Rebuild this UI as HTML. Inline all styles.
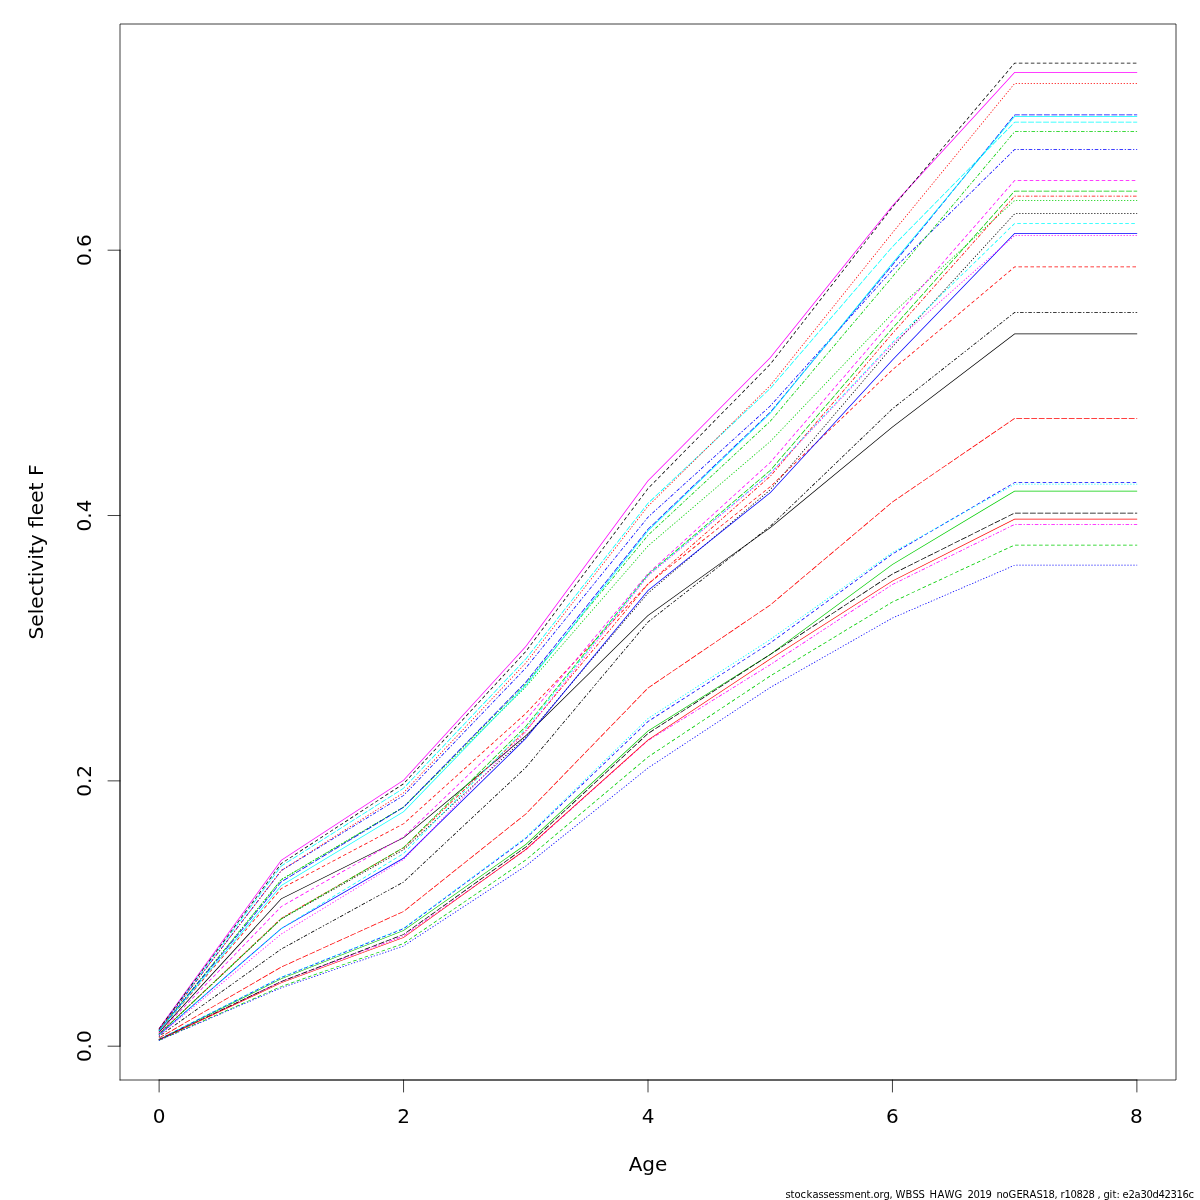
<!DOCTYPE html>
<html lang="en">
<head>
<meta charset="utf-8">
<title>Selectivity fleet F</title>
<style>
html,body{margin:0;padding:0;background:#fff;}
body{width:1200px;height:1200px;overflow:hidden;}
svg{display:block;will-change:transform;}
text{font-family:"DejaVu Sans","Liberation Sans",sans-serif;fill:#000;}
.ax{font-size:20px;}
.cap{font-size:10px;}
.ln path{stroke:none;}
.fr{fill:none;stroke:#000;stroke-width:0.75;stroke-linecap:round;stroke-linejoin:round;}
</style>
</head>
<body>
<svg width="1200" height="1200" viewBox="0 0 1200 1200">
<rect x="0" y="0" width="1200" height="1200" fill="#ffffff"/>
<g class="ln">
<path fill="#000000" d="M159.19 1032.57l122.37-133.52 122.2-60.99 122.27-102.04 122.21-120.24 122.21-87.79 122.23-100.7 122.12-92.92 122.39 0 0-.75-122.64 0-122.33 93.08-122.22 100.7-122.24 87.81-122.23 120.26-122.18 101.96-122.25 61.01-122.47 133.62z"/>
<path fill="#FF0000" d="M159.2 1031.6l.19-.22-.57-.49-.19 .22zM159.39 1031.37l2.14-2.5-.57-.49-2.14 2.5zM163.11 1027.04l2.34-2.73-.57-.49-2.34 2.73zM167.01 1022.48l2.34-2.73-.57-.49-2.34 2.73zM170.92 1017.93l2.34-2.73-.57-.49-2.34 2.73zM174.82 1013.37l2.34-2.73-.57-.49-2.34 2.73zM178.72 1008.82l2.34-2.73-.57-.49-2.34 2.73zM182.63 1004.26l2.34-2.73-.57-.49-2.34 2.73zM186.53 999.7l2.34-2.73-.57-.49-2.34 2.73zM190.44 995.15l2.34-2.73-.57-.49-2.34 2.73zM194.34 990.59l2.34-2.73-.57-.49-2.34 2.73zM198.24 986.04l2.34-2.73-.57-.49-2.34 2.73zM202.15 981.48l2.34-2.73-.57-.49-2.34 2.73zM206.05 976.92l2.34-2.73-.57-.49-2.34 2.73zM209.96 972.37l2.34-2.73-.57-.49-2.34 2.73zM213.86 967.81l2.34-2.73-.57-.49-2.34 2.73zM217.77 963.26l2.34-2.73-.57-.49-2.34 2.73zM221.67 958.7l2.34-2.73-.57-.49-2.34 2.73zM225.57 954.14l2.34-2.73-.57-.49-2.34 2.73zM229.48 949.59l2.34-2.73-.57-.49-2.34 2.73zM233.38 945.03l2.34-2.73-.57-.49-2.34 2.73zM237.29 940.48l2.34-2.73-.57-.49-2.34 2.73zM241.19 935.92l2.34-2.73-.57-.49-2.34 2.73zM245.09 931.36l2.34-2.73-.57-.49-2.34 2.73zM249 926.81l2.34-2.73-.57-.49-2.34 2.73zM252.9 922.25l2.34-2.73-.57-.49-2.34 2.73zM256.81 917.7l2.34-2.73-.57-.49-2.34 2.73zM260.71 913.14l2.34-2.73-.57-.49-2.34 2.73zM264.62 908.58l2.34-2.73-.57-.49-2.34 2.73zM268.52 904.03l2.34-2.73-.57-.49-2.34 2.73zM272.42 899.47l2.34-2.73-.57-.49-2.34 2.73zM276.33 894.92l2.34-2.73-.57-.49-2.34 2.73zM280.23 890.36l1.38-1.62-.57-.49-1.38 1.62zM281.51 888.83l1.29-.68-.35-.66-1.29 .68zM284.93 887.02l3.17-1.68-.35-.66-3.17 1.68zM290.23 884.21l3.17-1.68-.35-.66-3.17 1.68zM295.53 881.4l3.17-1.68-.35-.66-3.17 1.68zM300.84 878.59l3.17-1.68-.35-.66-3.17 1.68zM306.14 875.78l3.17-1.68-.35-.66-3.17 1.68zM311.44 872.97l3.17-1.68-.35-.66-3.17 1.68zM316.74 870.17l3.17-1.68-.35-.66-3.17 1.68zM322.04 867.36l3.17-1.68-.35-.66-3.17 1.68zM327.35 864.55l3.17-1.68-.35-.66-3.17 1.68zM332.65 861.74l3.17-1.68-.35-.66-3.17 1.68zM337.95 858.93l3.17-1.68-.35-.66-3.17 1.68zM343.25 856.12l3.17-1.68-.35-.66-3.17 1.68zM348.55 853.31l3.17-1.68-.35-.66-3.17 1.68zM353.85 850.5l3.17-1.68-.35-.66-3.17 1.68zM359.16 847.69l3.17-1.68-.35-.66-3.17 1.68zM364.46 844.89l3.17-1.68-.35-.66-3.17 1.68zM369.76 842.08l3.17-1.68-.35-.66-3.17 1.68zM375.06 839.27l3.17-1.68-.35-.66-3.17 1.68zM380.36 836.46l3.17-1.68-.35-.66-3.17 1.68zM385.67 833.65l3.17-1.68-.35-.66-3.17 1.68zM390.97 830.84l3.17-1.68-.35-.66-3.17 1.68zM396.27 828.03l3.17-1.68-.35-.66-3.17 1.68zM401.57 825.22l2.16-1.14-.35-.66-2.16 1.14zM403.81 824.03l.85-.77-.5-.56-.85 .77zM406.45 821.65l2.67-2.4-.5-.56-2.67 2.4zM410.9 817.63l2.67-2.4-.5-.56-2.67 2.4zM415.36 813.61l2.67-2.4-.5-.56-2.67 2.4zM419.81 809.59l2.67-2.4-.5-.56-2.67 2.4zM424.27 805.57l2.67-2.4-.5-.56-2.67 2.4zM428.72 801.55l2.67-2.4-.5-.56-2.67 2.4zM433.18 797.53l2.67-2.4-.5-.56-2.67 2.4zM437.63 793.51l2.67-2.4-.5-.56-2.67 2.4zM442.09 789.49l2.67-2.4-.5-.56-2.67 2.4zM446.54 785.48l2.67-2.4-.5-.56-2.67 2.4zM451 781.46l2.67-2.4-.5-.56-2.67 2.4zM455.46 777.44l2.67-2.4-.5-.56-2.67 2.4zM459.91 773.42l2.67-2.4-.5-.56-2.67 2.4zM464.37 769.4l2.67-2.4-.5-.56-2.67 2.4zM468.82 765.38l2.67-2.4-.5-.56-2.67 2.4zM473.28 761.36l2.67-2.4-.5-.56-2.67 2.4zM477.73 757.34l2.67-2.4-.5-.56-2.67 2.4zM482.19 753.33l2.67-2.4-.5-.56-2.67 2.4zM486.64 749.31l2.67-2.4-.5-.56-2.67 2.4zM491.1 745.29l2.67-2.4-.5-.56-2.67 2.4zM495.55 741.27l2.67-2.4-.5-.56-2.67 2.4zM500.01 737.25l2.67-2.4-.5-.56-2.67 2.4zM504.46 733.23l2.67-2.4-.5-.56-2.67 2.4zM508.92 729.21l2.67-2.4-.5-.56-2.67 2.4zM513.37 725.19l2.67-2.4-.5-.56-2.67 2.4zM517.83 721.17l2.67-2.4-.5-.56-2.67 2.4zM522.28 717.16l2.67-2.4-.5-.56-2.67 2.4zM526.71 713.06l2.47-2.61-.55-.51-2.47 2.61zM530.83 708.7l2.47-2.61-.55-.51-2.47 2.61zM534.95 704.34l2.47-2.61-.55-.51-2.47 2.61zM539.07 699.98l2.47-2.61-.55-.51-2.47 2.61zM543.19 695.61l2.47-2.61-.55-.51-2.47 2.61zM547.31 691.25l2.47-2.61-.55-.51-2.47 2.61zM551.43 686.89l2.47-2.61-.55-.51-2.47 2.61zM555.55 682.53l2.47-2.61-.55-.51-2.47 2.61zM559.67 678.17l2.47-2.61-.55-.51-2.47 2.61zM563.79 673.8l2.47-2.61-.55-.51-2.47 2.61zM567.91 669.44l2.47-2.61-.55-.51-2.47 2.61zM572.03 665.08l2.47-2.61-.55-.51-2.47 2.61zM576.15 660.72l2.47-2.61-.55-.51-2.47 2.61zM580.27 656.36l2.47-2.61-.55-.51-2.47 2.61zM584.39 651.99l2.47-2.61-.55-.51-2.47 2.61zM588.51 647.63l2.47-2.61-.55-.51-2.47 2.61zM592.63 643.27l2.47-2.61-.55-.51-2.47 2.61zM596.75 638.91l2.47-2.61-.55-.51-2.47 2.61zM600.87 634.55l2.47-2.61-.55-.51-2.47 2.61zM604.99 630.19l2.47-2.61-.55-.51-2.47 2.61zM609.11 625.82l2.47-2.61-.55-.51-2.47 2.61zM613.23 621.46l2.47-2.61-.55-.51-2.47 2.61zM617.35 617.1l2.47-2.61-.55-.51-2.47 2.61zM621.47 612.74l2.47-2.61-.55-.51-2.47 2.61zM625.59 608.38l2.47-2.61-.55-.51-2.47 2.61zM629.71 604.01l2.47-2.61-.55-.51-2.47 2.61zM633.83 599.65l2.47-2.61-.55-.51-2.47 2.61zM637.95 595.29l2.47-2.61-.55-.51-2.47 2.61zM642.07 590.93l2.47-2.61-.55-.51-2.47 2.61zM646.19 586.57l2.09-2.21-.55-.51-2.09 2.21zM648.23 584.39l.43-.34-.47-.59-.43 .34zM650.55 582.55l2.81-2.24-.47-.59-2.81 2.24zM655.24 578.81l2.81-2.24-.47-.59-2.81 2.24zM659.94 575.07l2.81-2.24-.47-.59-2.81 2.24zM664.63 571.34l2.81-2.24-.47-.59-2.81 2.24zM669.33 567.6l2.81-2.24-.47-.59-2.81 2.24zM674.02 563.86l2.81-2.24-.47-.59-2.81 2.24zM678.71 560.13l2.81-2.24-.47-.59-2.81 2.24zM683.41 556.39l2.81-2.24-.47-.59-2.81 2.24zM688.1 552.65l2.81-2.24-.47-.59-2.81 2.24zM692.8 548.92l2.81-2.24-.47-.59-2.81 2.24zM697.49 545.18l2.81-2.24-.47-.59-2.81 2.24zM702.19 541.44l2.81-2.24-.47-.59-2.81 2.24zM706.88 537.71l2.81-2.24-.47-.59-2.81 2.24zM711.57 533.97l2.81-2.24-.47-.59-2.81 2.24zM716.27 530.23l2.81-2.24-.47-.59-2.81 2.24zM720.96 526.49l2.81-2.24-.47-.59-2.81 2.24zM725.66 522.76l2.81-2.24-.47-.59-2.81 2.24zM730.35 519.02l2.81-2.24-.47-.59-2.81 2.24zM735.04 515.28l2.81-2.24-.47-.59-2.81 2.24zM739.74 511.55l2.81-2.24-.47-.59-2.81 2.24zM744.43 507.81l2.81-2.24-.47-.59-2.81 2.24zM749.13 504.07l2.81-2.24-.47-.59-2.81 2.24zM753.82 500.34l2.81-2.24-.47-.59-2.81 2.24zM758.51 496.6l2.81-2.24-.47-.59-2.81 2.24zM763.21 492.86l2.81-2.24-.47-.59-2.81 2.24zM767.9 489.12l2.55-2.03-.47-.59-2.55 2.03zM770.48 487.07l.24-.23-.52-.54-.24 .23zM772.46 485.18l2.59-2.48-.52-.54-2.59 2.48zM776.79 481.03l2.59-2.48-.52-.54-2.59 2.48zM781.13 476.88l2.59-2.48-.52-.54-2.59 2.48zM785.46 472.73l2.59-2.48-.52-.54-2.59 2.48zM789.8 468.58l2.59-2.48-.52-.54-2.59 2.48zM794.13 464.43l2.59-2.48-.52-.54-2.59 2.48zM798.46 460.28l2.59-2.48-.52-.54-2.59 2.48zM802.8 456.13l2.59-2.48-.52-.54-2.59 2.48zM807.13 451.98l2.59-2.48-.52-.54-2.59 2.48zM811.47 447.84l2.59-2.48-.52-.54-2.59 2.48zM815.8 443.69l2.59-2.48-.52-.54-2.59 2.48zM820.14 439.54l2.59-2.48-.52-.54-2.59 2.48zM824.47 435.39l2.59-2.48-.52-.54-2.59 2.48zM828.8 431.24l2.59-2.48-.52-.54-2.59 2.48zM833.14 427.09l2.59-2.48-.52-.54-2.59 2.48zM837.47 422.94l2.59-2.48-.52-.54-2.59 2.48zM841.81 418.79l2.59-2.48-.52-.54-2.59 2.48zM846.14 414.64l2.59-2.48-.52-.54-2.59 2.48zM850.47 410.49l2.59-2.48-.52-.54-2.59 2.48zM854.81 406.35l2.59-2.48-.52-.54-2.59 2.48zM859.14 402.2l2.59-2.48-.52-.54-2.59 2.48zM863.48 398.05l2.59-2.48-.52-.54-2.59 2.48zM867.81 393.9l2.59-2.48-.52-.54-2.59 2.48zM872.15 389.75l2.59-2.48-.52-.54-2.59 2.48zM876.48 385.6l2.59-2.48-.52-.54-2.59 2.48zM880.81 381.45l2.59-2.48-.52-.54-2.59 2.48zM885.15 377.3l2.59-2.48-.52-.54-2.59 2.48zM889.48 373.15l2.59-2.48-.52-.54-2.59 2.48zM893.87 369.09l2.75-2.31-.48-.57-2.75 2.31zM898.45 365.23l2.75-2.31-.48-.57-2.75 2.31zM903.04 361.36l2.75-2.31-.48-.57-2.75 2.31zM907.63 357.5l2.75-2.31-.48-.57-2.75 2.31zM912.22 353.64l2.75-2.31-.48-.57-2.75 2.31zM916.81 349.77l2.75-2.31-.48-.57-2.75 2.31zM921.4 345.91l2.75-2.31-.48-.57-2.75 2.31zM925.99 342.04l2.75-2.31-.48-.57-2.75 2.31zM930.58 338.18l2.75-2.31-.48-.57-2.75 2.31zM935.17 334.31l2.75-2.31-.48-.57-2.75 2.31zM939.76 330.45l2.75-2.31-.48-.57-2.75 2.31zM944.35 326.59l2.75-2.31-.48-.57-2.75 2.31zM948.94 322.72l2.75-2.31-.48-.57-2.75 2.31zM953.53 318.86l2.75-2.31-.48-.57-2.75 2.31zM958.12 314.99l2.75-2.31-.48-.57-2.75 2.31zM962.71 311.13l2.75-2.31-.48-.57-2.75 2.31zM967.3 307.26l2.75-2.31-.48-.57-2.75 2.31zM971.89 303.4l2.75-2.31-.48-.57-2.75 2.31zM976.48 299.54l2.75-2.31-.48-.57-2.75 2.31zM981.07 295.67l2.75-2.31-.48-.57-2.75 2.31zM985.66 291.81l2.75-2.31-.48-.57-2.75 2.31zM990.25 287.94l2.75-2.31-.48-.57-2.75 2.31zM994.84 284.08l2.75-2.31-.48-.57-2.75 2.31zM999.43 280.21l2.75-2.31-.48-.57-2.75 2.31zM1004.02 276.35l2.75-2.31-.48-.57-2.75 2.31zM1008.61 272.49l2.75-2.31-.48-.57-2.75 2.31zM1013.2 268.62l1.7-1.43-.48-.57-1.7 1.43zM1014.67 267.27l1.36 0 0-.75-1.36 0zM1018.44 267.27l3.59 0 0-.75-3.59 0zM1024.44 267.27l3.59 0 0-.75-3.59 0zM1030.44 267.27l3.59 0 0-.75-3.59 0zM1036.44 267.27l3.59 0 0-.75-3.59 0zM1042.44 267.27l3.59 0 0-.75-3.59 0zM1048.44 267.27l3.59 0 0-.75-3.59 0zM1054.44 267.27l3.59 0 0-.75-3.59 0zM1060.44 267.27l3.59 0 0-.75-3.59 0zM1066.44 267.27l3.59 0 0-.75-3.59 0zM1072.44 267.27l3.59 0 0-.75-3.59 0zM1078.44 267.27l3.59 0 0-.75-3.59 0zM1084.44 267.27l3.59 0 0-.75-3.59 0zM1090.44 267.27l3.59 0 0-.75-3.59 0zM1096.44 267.27l3.59 0 0-.75-3.59 0zM1102.44 267.27l3.59 0 0-.75-3.59 0zM1108.44 267.27l3.59 0 0-.75-3.59 0zM1114.44 267.27l3.59 0 0-.75-3.59 0zM1120.44 267.27l3.59 0 0-.75-3.59 0zM1126.44 267.27l3.59 0 0-.75-3.59 0zM1132.44 267.27l3.59 0 0-.75-3.59 0z"/>
<path fill="#00CD00" d="M159.22 1030.74l.19-.23-.58-.47-.19 .23zM159.4 1030.51l.66-.81-.58-.47-.66 .81zM161.1 1028.41l.84-1.04-.58-.47-.84 1.04zM162.99 1026.08l.84-1.04-.58-.47-.84 1.04zM164.88 1023.75l.84-1.04-.58-.47-.84 1.04zM166.77 1021.42l.84-1.04-.58-.47-.84 1.04zM168.66 1019.09l.84-1.04-.58-.47-.84 1.04zM170.55 1016.76l.84-1.04-.58-.47-.84 1.04zM172.44 1014.43l.84-1.04-.58-.47-.84 1.04zM174.33 1012.09l.84-1.04-.58-.47-.84 1.04zM176.22 1009.76l.84-1.04-.58-.47-.84 1.04zM178.11 1007.43l.84-1.04-.58-.47-.84 1.04zM180 1005.1l.84-1.04-.58-.47-.84 1.04zM181.89 1002.77l.84-1.04-.58-.47-.84 1.04zM183.77 1000.44l.84-1.04-.58-.47-.84 1.04zM185.66 998.11l.84-1.04-.58-.47-.84 1.04zM187.55 995.78l.84-1.04-.58-.47-.84 1.04zM189.44 993.45l.84-1.04-.58-.47-.84 1.04zM191.33 991.12l.84-1.04-.58-.47-.84 1.04zM193.22 988.79l.84-1.04-.58-.47-.84 1.04zM195.11 986.46l.84-1.04-.58-.47-.84 1.04zM197 984.13l.84-1.04-.58-.47-.84 1.04zM198.89 981.8l.84-1.04-.58-.47-.84 1.04zM200.78 979.47l.84-1.04-.58-.47-.84 1.04zM202.67 977.14l.84-1.04-.58-.47-.84 1.04zM204.56 974.81l.84-1.04-.58-.47-.84 1.04zM206.44 972.48l.84-1.04-.58-.47-.84 1.04zM208.33 970.15l.84-1.04-.58-.47-.84 1.04zM210.22 967.82l.84-1.04-.58-.47-.84 1.04zM212.11 965.49l.84-1.04-.58-.47-.84 1.04zM214 963.15l.84-1.04-.58-.47-.84 1.04zM215.89 960.82l.84-1.04-.58-.47-.84 1.04zM217.78 958.49l.84-1.04-.58-.47-.84 1.04zM219.67 956.16l.84-1.04-.58-.47-.84 1.04zM221.56 953.83l.84-1.04-.58-.47-.84 1.04zM223.45 951.5l.84-1.04-.58-.47-.84 1.04zM225.34 949.17l.84-1.04-.58-.47-.84 1.04zM227.23 946.84l.84-1.04-.58-.47-.84 1.04zM229.11 944.51l.84-1.04-.58-.47-.84 1.04zM231 942.18l.84-1.04-.58-.47-.84 1.04zM232.89 939.85l.84-1.04-.58-.47-.84 1.04zM234.78 937.52l.84-1.04-.58-.47-.84 1.04zM236.67 935.19l.84-1.04-.58-.47-.84 1.04zM238.56 932.86l.84-1.04-.58-.47-.84 1.04zM240.45 930.53l.84-1.04-.58-.47-.84 1.04zM242.34 928.2l.84-1.04-.58-.47-.84 1.04zM244.23 925.87l.84-1.04-.58-.47-.84 1.04zM246.12 923.54l.84-1.04-.58-.47-.84 1.04zM248.01 921.21l.84-1.04-.58-.47-.84 1.04zM249.9 918.88l.84-1.04-.58-.47-.84 1.04zM251.78 916.55l.84-1.04-.58-.47-.84 1.04zM253.67 914.22l.84-1.04-.58-.47-.84 1.04zM255.56 911.88l.84-1.04-.58-.47-.84 1.04zM257.45 909.55l.84-1.04-.58-.47-.84 1.04zM259.34 907.22l.84-1.04-.58-.47-.84 1.04zM261.23 904.89l.84-1.04-.58-.47-.84 1.04zM263.12 902.56l.84-1.04-.58-.47-.84 1.04zM265.01 900.23l.84-1.04-.58-.47-.84 1.04zM266.9 897.9l.84-1.04-.58-.47-.84 1.04zM268.79 895.57l.84-1.04-.58-.47-.84 1.04zM270.68 893.24l.84-1.04-.58-.47-.84 1.04zM272.57 890.91l.84-1.04-.58-.47-.84 1.04zM274.45 888.58l.84-1.04-.58-.47-.84 1.04zM276.34 886.25l.84-1.04-.58-.47-.84 1.04zM278.23 883.92l.84-1.04-.58-.47-.84 1.04zM280.12 881.59l.84-1.04-.58-.47-.84 1.04zM282.05 879.51l1.15-.68-.38-.65-1.15 .68zM284.63 877.98l1.15-.68-.38-.65-1.15 .68zM287.21 876.45l1.15-.68-.38-.65-1.15 .68zM289.79 874.92l1.15-.68-.38-.65-1.15 .68zM292.37 873.39l1.15-.68-.38-.65-1.15 .68zM294.95 871.86l1.15-.68-.38-.65-1.15 .68zM297.53 870.33l1.15-.68-.38-.65-1.15 .68zM300.11 868.79l1.15-.68-.38-.65-1.15 .68zM302.69 867.26l1.15-.68-.38-.65-1.15 .68zM305.27 865.73l1.15-.68-.38-.65-1.15 .68zM307.85 864.2l1.15-.68-.38-.65-1.15 .68zM310.44 862.67l1.15-.68-.38-.65-1.15 .68zM313.02 861.14l1.15-.68-.38-.65-1.15 .68zM315.6 859.61l1.15-.68-.38-.65-1.15 .68zM318.18 858.08l1.15-.68-.38-.65-1.15 .68zM320.76 856.55l1.15-.68-.38-.65-1.15 .68zM323.34 855.02l1.15-.68-.38-.65-1.15 .68zM325.92 853.49l1.15-.68-.38-.65-1.15 .68zM328.5 851.96l1.15-.68-.38-.65-1.15 .68zM331.08 850.43l1.15-.68-.38-.65-1.15 .68zM333.66 848.9l1.15-.68-.38-.65-1.15 .68zM336.24 847.37l1.15-.68-.38-.65-1.15 .68zM338.82 845.84l1.15-.68-.38-.65-1.15 .68zM341.4 844.31l1.15-.68-.38-.65-1.15 .68zM343.98 842.78l1.15-.68-.38-.65-1.15 .68zM346.56 841.25l1.15-.68-.38-.65-1.15 .68zM349.14 839.71l1.15-.68-.38-.65-1.15 .68zM351.72 838.18l1.15-.68-.38-.65-1.15 .68zM354.3 836.65l1.15-.68-.38-.65-1.15 .68zM356.88 835.12l1.15-.68-.38-.65-1.15 .68zM359.46 833.59l1.15-.68-.38-.65-1.15 .68zM362.04 832.06l1.15-.68-.38-.65-1.15 .68zM364.62 830.53l1.15-.68-.38-.65-1.15 .68zM367.2 829l1.15-.68-.38-.65-1.15 .68zM369.78 827.47l1.15-.68-.38-.65-1.15 .68zM372.36 825.94l1.15-.68-.38-.65-1.15 .68zM374.94 824.41l1.15-.68-.38-.65-1.15 .68zM377.52 822.88l1.15-.68-.38-.65-1.15 .68zM380.1 821.35l1.15-.68-.38-.65-1.15 .68zM382.68 819.82l1.15-.68-.38-.65-1.15 .68zM385.26 818.29l1.15-.68-.38-.65-1.15 .68zM387.84 816.76l1.15-.68-.38-.65-1.15 .68zM390.42 815.23l1.15-.68-.38-.65-1.15 .68zM393 813.7l1.15-.68-.38-.65-1.15 .68zM395.58 812.17l1.15-.68-.38-.65-1.15 .68zM398.16 810.63l1.15-.68-.38-.65-1.15 .68zM400.74 809.1l1.15-.68-.38-.65-1.15 .68zM403.32 807.57l.42-.25-.38-.65-.42 .25zM403.82 807.27l.61-.59-.53-.54-.61 .59zM405.61 805.51l.96-.94-.53-.54-.96 .94zM407.75 803.41l.96-.94-.53-.54-.96 .94zM409.89 801.31l.96-.94-.53-.54-.96 .94zM412.03 799.21l.96-.94-.53-.54-.96 .94zM414.17 797.1l.96-.94-.53-.54-.96 .94zM416.31 795l.96-.94-.53-.54-.96 .94zM418.45 792.9l.96-.94-.53-.54-.96 .94zM420.59 790.8l.96-.94-.53-.54-.96 .94zM422.73 788.7l.96-.94-.53-.54-.96 .94zM424.87 786.59l.96-.94-.53-.54-.96 .94zM427.01 784.49l.96-.94-.53-.54-.96 .94zM429.15 782.39l.96-.94-.53-.54-.96 .94zM431.3 780.29l.96-.94-.53-.54-.96 .94zM433.44 778.19l.96-.94-.53-.54-.96 .94zM435.58 776.09l.96-.94-.53-.54-.96 .94zM437.72 773.98l.96-.94-.53-.54-.96 .94zM439.86 771.88l.96-.94-.53-.54-.96 .94zM442 769.78l.96-.94-.53-.54-.96 .94zM444.14 767.68l.96-.94-.53-.54-.96 .94zM446.28 765.58l.96-.94-.53-.54-.96 .94zM448.42 763.48l.96-.94-.53-.54-.96 .94zM450.56 761.37l.96-.94-.53-.54-.96 .94zM452.7 759.27l.96-.94-.53-.54-.96 .94zM454.84 757.17l.96-.94-.53-.54-.96 .94zM456.98 755.07l.96-.94-.53-.54-.96 .94zM459.12 752.97l.96-.94-.53-.54-.96 .94zM461.26 750.86l.96-.94-.53-.54-.96 .94zM463.41 748.76l.96-.94-.53-.54-.96 .94zM465.55 746.66l.96-.94-.53-.54-.96 .94zM467.69 744.56l.96-.94-.53-.54-.96 .94zM469.83 742.46l.96-.94-.53-.54-.96 .94zM471.97 740.36l.96-.94-.53-.54-.96 .94zM474.11 738.25l.96-.94-.53-.54-.96 .94zM476.25 736.15l.96-.94-.53-.54-.96 .94zM478.39 734.05l.96-.94-.53-.54-.96 .94zM480.53 731.95l.96-.94-.53-.54-.96 .94zM482.67 729.85l.96-.94-.53-.54-.96 .94zM484.81 727.74l.96-.94-.53-.54-.96 .94zM486.95 725.64l.96-.94-.53-.54-.96 .94zM489.09 723.54l.96-.94-.53-.54-.96 .94zM491.23 721.44l.96-.94-.53-.54-.96 .94zM493.38 719.34l.96-.94-.53-.54-.96 .94zM495.52 717.24l.96-.94-.53-.54-.96 .94zM497.66 715.13l.96-.94-.53-.54-.96 .94zM499.8 713.03l.96-.94-.53-.54-.96 .94zM501.94 710.93l.96-.94-.53-.54-.96 .94zM504.08 708.83l.96-.94-.53-.54-.96 .94zM506.22 706.73l.96-.94-.53-.54-.96 .94zM508.36 704.63l.96-.94-.53-.54-.96 .94zM510.5 702.52l.96-.94-.53-.54-.96 .94zM512.64 700.42l.96-.94-.53-.54-.96 .94zM514.78 698.32l.96-.94-.53-.54-.96 .94zM516.92 696.22l.96-.94-.53-.54-.96 .94zM519.06 694.12l.96-.94-.53-.54-.96 .94zM521.2 692.01l.96-.94-.53-.54-.96 .94zM523.34 689.91l.96-.94-.53-.54-.96 .94zM525.49 687.81l.55-.54-.53-.54-.55 .54zM526.06 687.25l.37-.43-.57-.49-.37 .43zM527.52 685.57l.88-1.01-.57-.49-.88 1.01zM529.48 683.3l.88-1.01-.57-.49-.88 1.01zM531.45 681.03l.88-1.01-.57-.49-.88 1.01zM533.41 678.76l.88-1.01-.57-.49-.88 1.01zM535.38 676.5l.88-1.01-.57-.49-.88 1.01zM537.34 674.23l.88-1.01-.57-.49-.88 1.01zM539.31 671.96l.88-1.01-.57-.49-.88 1.01zM541.27 669.7l.88-1.01-.57-.49-.88 1.01zM543.24 667.43l.88-1.01-.57-.49-.88 1.01zM545.2 665.16l.88-1.01-.57-.49-.88 1.01zM547.17 662.9l.88-1.01-.57-.49-.88 1.01zM549.13 660.63l.88-1.01-.57-.49-.88 1.01zM551.1 658.36l.88-1.01-.57-.49-.88 1.01zM553.06 656.1l.88-1.01-.57-.49-.88 1.01zM555.03 653.83l.88-1.01-.57-.49-.88 1.01zM556.99 651.56l.88-1.01-.57-.49-.88 1.01zM558.96 649.29l.88-1.01-.57-.49-.88 1.01zM560.92 647.03l.88-1.01-.57-.49-.88 1.01zM562.89 644.76l.88-1.01-.57-.49-.88 1.01zM564.85 642.49l.88-1.01-.57-.49-.88 1.01zM566.82 640.23l.88-1.01-.57-.49-.88 1.01zM568.78 637.96l.88-1.01-.57-.49-.88 1.01zM570.75 635.69l.88-1.01-.57-.49-.88 1.01zM572.71 633.43l.88-1.01-.57-.49-.88 1.01zM574.68 631.16l.88-1.01-.57-.49-.88 1.01zM576.64 628.89l.88-1.01-.57-.49-.88 1.01zM578.61 626.63l.88-1.01-.57-.49-.88 1.01zM580.57 624.36l.88-1.01-.57-.49-.88 1.01zM582.54 622.09l.88-1.01-.57-.49-.88 1.01zM584.5 619.83l.88-1.01-.57-.49-.88 1.01zM586.47 617.56l.88-1.01-.57-.49-.88 1.01zM588.43 615.29l.88-1.01-.57-.49-.88 1.01zM590.4 613.02l.88-1.01-.57-.49-.88 1.01zM592.36 610.76l.88-1.01-.57-.49-.88 1.01zM594.33 608.49l.88-1.01-.57-.49-.88 1.01zM596.29 606.22l.88-1.01-.57-.49-.88 1.01zM598.26 603.96l.88-1.01-.57-.49-.88 1.01zM600.22 601.69l.88-1.01-.57-.49-.88 1.01zM602.19 599.42l.88-1.01-.57-.49-.88 1.01zM604.15 597.16l.88-1.01-.57-.49-.88 1.01zM606.12 594.89l.88-1.01-.57-.49-.88 1.01zM608.08 592.62l.88-1.01-.57-.49-.88 1.01zM610.05 590.36l.88-1.01-.57-.49-.88 1.01zM612.01 588.09l.88-1.01-.57-.49-.88 1.01zM613.98 585.82l.88-1.01-.57-.49-.88 1.01zM615.94 583.56l.88-1.01-.57-.49-.88 1.01zM617.91 581.29l.88-1.01-.57-.49-.88 1.01zM619.87 579.02l.88-1.01-.57-.49-.88 1.01zM621.84 576.75l.88-1.01-.57-.49-.88 1.01zM623.8 574.49l.88-1.01-.57-.49-.88 1.01zM625.77 572.22l.88-1.01-.57-.49-.88 1.01zM627.73 569.95l.88-1.01-.57-.49-.88 1.01zM629.7 567.69l.88-1.01-.57-.49-.88 1.01zM631.66 565.42l.88-1.01-.57-.49-.88 1.01zM633.63 563.15l.88-1.01-.57-.49-.88 1.01zM635.59 560.89l.88-1.01-.57-.49-.88 1.01zM637.56 558.62l.88-1.01-.57-.49-.88 1.01zM639.52 556.35l.88-1.01-.57-.49-.88 1.01zM641.49 554.09l.88-1.01-.57-.49-.88 1.01zM643.45 551.82l.88-1.01-.57-.49-.88 1.01zM645.42 549.55l.88-1.01-.57-.49-.88 1.01zM647.38 547.28l.88-1.01-.57-.49-.88 1.01zM649.48 545.23l1.02-.87-.49-.57-1.02 .87zM651.76 543.28l1.02-.87-.49-.57-1.02 .87zM654.04 541.33l1.02-.87-.49-.57-1.02 .87zM656.32 539.38l1.02-.87-.49-.57-1.02 .87zM658.6 537.43l1.02-.87-.49-.57-1.02 .87zM660.88 535.48l1.02-.87-.49-.57-1.02 .87zM663.16 533.53l1.02-.87-.49-.57-1.02 .87zM665.44 531.58l1.02-.87-.49-.57-1.02 .87zM667.72 529.63l1.02-.87-.49-.57-1.02 .87zM670 527.68l1.02-.87-.49-.57-1.02 .87zM672.28 525.73l1.02-.87-.49-.57-1.02 .87zM674.56 523.78l1.02-.87-.49-.57-1.02 .87zM676.84 521.83l1.02-.87-.49-.57-1.02 .87zM679.12 519.89l1.02-.87-.49-.57-1.02 .87zM681.4 517.94l1.02-.87-.49-.57-1.02 .87zM683.68 515.99l1.02-.87-.49-.57-1.02 .87zM685.96 514.04l1.02-.87-.49-.57-1.02 .87zM688.24 512.09l1.02-.87-.49-.57-1.02 .87zM690.52 510.14l1.02-.87-.49-.57-1.02 .87zM692.8 508.19l1.02-.87-.49-.57-1.02 .87zM695.08 506.24l1.02-.87-.49-.57-1.02 .87zM697.36 504.29l1.02-.87-.49-.57-1.02 .87zM699.64 502.34l1.02-.87-.49-.57-1.02 .87zM701.92 500.39l1.02-.87-.49-.57-1.02 .87zM704.2 498.44l1.02-.87-.49-.57-1.02 .87zM706.48 496.49l1.02-.87-.49-.57-1.02 .87zM708.76 494.54l1.02-.87-.49-.57-1.02 .87zM711.04 492.59l1.02-.87-.49-.57-1.02 .87zM713.32 490.64l1.02-.87-.49-.57-1.02 .87zM715.6 488.69l1.02-.87-.49-.57-1.02 .87zM717.88 486.74l1.02-.87-.49-.57-1.02 .87zM720.16 484.79l1.02-.87-.49-.57-1.02 .87zM722.44 482.84l1.02-.87-.49-.57-1.02 .87zM724.72 480.89l1.02-.87-.49-.57-1.02 .87zM727 478.94l1.02-.87-.49-.57-1.02 .87zM729.28 476.99l1.02-.87-.49-.57-1.02 .87zM731.56 475.05l1.02-.87-.49-.57-1.02 .87zM733.84 473.1l1.02-.87-.49-.57-1.02 .87zM736.12 471.15l1.02-.87-.49-.57-1.02 .87zM738.4 469.2l1.02-.87-.49-.57-1.02 .87zM740.68 467.25l1.02-.87-.49-.57-1.02 .87zM742.96 465.3l1.02-.87-.49-.57-1.02 .87zM745.24 463.35l1.02-.87-.49-.57-1.02 .87zM747.53 461.4l1.02-.87-.49-.57-1.02 .87zM749.81 459.45l1.02-.87-.49-.57-1.02 .87zM752.09 457.5l1.02-.87-.49-.57-1.02 .87zM754.37 455.55l1.02-.87-.49-.57-1.02 .87zM756.65 453.6l1.02-.87-.49-.57-1.02 .87zM758.93 451.65l1.02-.87-.49-.57-1.02 .87zM761.21 449.7l1.02-.87-.49-.57-1.02 .87zM763.49 447.75l1.02-.87-.49-.57-1.02 .87zM765.77 445.8l1.02-.87-.49-.57-1.02 .87zM768.05 443.85l1.02-.87-.49-.57-1.02 .87zM770.33 441.9l.14-.12-.49-.57-.14 .12zM770.49 441.76l.8-.84-.54-.52-.8 .84zM772.44 439.72l.93-.97-.54-.52-.93 .97zM774.51 437.55l.93-.97-.54-.52-.93 .97zM776.58 435.38l.93-.97-.54-.52-.93 .97zM778.65 433.21l.93-.97-.54-.52-.93 .97zM780.73 431.04l.93-.97-.54-.52-.93 .97zM782.8 428.87l.93-.97-.54-.52-.93 .97zM784.87 426.7l.93-.97-.54-.52-.93 .97zM786.94 424.53l.93-.97-.54-.52-.93 .97zM789.01 422.36l.93-.97-.54-.52-.93 .97zM791.08 420.19l.93-.97-.54-.52-.93 .97zM793.16 418.02l.93-.97-.54-.52-.93 .97zM795.23 415.85l.93-.97-.54-.52-.93 .97zM797.3 413.68l.93-.97-.54-.52-.93 .97zM799.37 411.51l.93-.97-.54-.52-.93 .97zM801.44 409.34l.93-.97-.54-.52-.93 .97zM803.52 407.17l.93-.97-.54-.52-.93 .97zM805.59 405l.93-.97-.54-.52-.93 .97zM807.66 402.83l.93-.97-.54-.52-.93 .97zM809.73 400.67l.93-.97-.54-.52-.93 .97zM811.8 398.5l.93-.97-.54-.52-.93 .97zM813.87 396.33l.93-.97-.54-.52-.93 .97zM815.95 394.16l.93-.97-.54-.52-.93 .97zM818.02 391.99l.93-.97-.54-.52-.93 .97zM820.09 389.82l.93-.97-.54-.52-.93 .97zM822.16 387.65l.93-.97-.54-.52-.93 .97zM824.23 385.48l.93-.97-.54-.52-.93 .97zM826.31 383.31l.93-.97-.54-.52-.93 .97zM828.38 381.14l.93-.97-.54-.52-.93 .97zM830.45 378.97l.93-.97-.54-.52-.93 .97zM832.52 376.8l.93-.97-.54-.52-.93 .97zM834.59 374.63l.93-.97-.54-.52-.93 .97zM836.66 372.46l.93-.97-.54-.52-.93 .97zM838.74 370.29l.93-.97-.54-.52-.93 .97zM840.81 368.12l.93-.97-.54-.52-.93 .97zM842.88 365.95l.93-.97-.54-.52-.93 .97zM844.95 363.78l.93-.97-.54-.52-.93 .97zM847.02 361.61l.93-.97-.54-.52-.93 .97zM849.09 359.44l.93-.97-.54-.52-.93 .97zM851.17 357.27l.93-.97-.54-.52-.93 .97zM853.24 355.1l.93-.97-.54-.52-.93 .97zM855.31 352.93l.93-.97-.54-.52-.93 .97zM857.38 350.76l.93-.97-.54-.52-.93 .97zM859.45 348.59l.93-.97-.54-.52-.93 .97zM861.53 346.42l.93-.97-.54-.52-.93 .97zM863.6 344.25l.93-.97-.54-.52-.93 .97zM865.67 342.08l.93-.97-.54-.52-.93 .97zM867.74 339.91l.93-.97-.54-.52-.93 .97zM869.81 337.74l.93-.97-.54-.52-.93 .97zM871.88 335.57l.93-.97-.54-.52-.93 .97zM873.96 333.4l.93-.97-.54-.52-.93 .97zM876.03 331.23l.93-.97-.54-.52-.93 .97zM878.1 329.06l.93-.97-.54-.52-.93 .97zM880.17 326.89l.93-.97-.54-.52-.93 .97zM882.24 324.72l.93-.97-.54-.52-.93 .97zM884.32 322.56l.93-.97-.54-.52-.93 .97zM886.39 320.39l.93-.97-.54-.52-.93 .97zM888.46 318.22l.93-.97-.54-.52-.93 .97zM890.53 316.05l.93-.97-.54-.52-.93 .97zM892.6 313.88l.11-.12-.54-.52-.11 .12zM892.7 313.78l.86-.8-.51-.55-.86 .8zM894.78 311.85l.98-.91-.51-.55-.98 .91zM896.98 309.81l.98-.91-.51-.55-.98 .91zM899.18 307.77l.98-.91-.51-.55-.98 .91zM901.39 305.74l.98-.91-.51-.55-.98 .91zM903.59 303.7l.98-.91-.51-.55-.98 .91zM905.79 301.66l.98-.91-.51-.55-.98 .91zM907.99 299.62l.98-.91-.51-.55-.98 .91zM910.19 297.58l.98-.91-.51-.55-.98 .91zM912.4 295.55l.98-.91-.51-.55-.98 .91zM914.6 293.51l.98-.91-.51-.55-.98 .91zM916.8 291.47l.98-.91-.51-.55-.98 .91zM919 289.43l.98-.91-.51-.55-.98 .91zM921.2 287.4l.98-.91-.51-.55-.98 .91zM923.41 285.36l.98-.91-.51-.55-.98 .91zM925.61 283.32l.98-.91-.51-.55-.98 .91zM927.81 281.28l.98-.91-.51-.55-.98 .91zM930.01 279.25l.98-.91-.51-.55-.98 .91zM932.21 277.21l.98-.91-.51-.55-.98 .91zM934.41 275.17l.98-.91-.51-.55-.98 .91zM936.62 273.13l.98-.91-.51-.55-.98 .91zM938.82 271.1l.98-.91-.51-.55-.98 .91zM941.02 269.06l.98-.91-.51-.55-.98 .91zM943.22 267.02l.98-.91-.51-.55-.98 .91zM945.42 264.98l.98-.91-.51-.55-.98 .91zM947.63 262.95l.98-.91-.51-.55-.98 .91zM949.83 260.91l.98-.91-.51-.55-.98 .91zM952.03 258.87l.98-.91-.51-.55-.98 .91zM954.23 256.83l.98-.91-.51-.55-.98 .91zM956.43 254.8l.98-.91-.51-.55-.98 .91zM958.64 252.76l.98-.91-.51-.55-.98 .91zM960.84 250.72l.98-.91-.51-.55-.98 .91zM963.04 248.68l.98-.91-.51-.55-.98 .91zM965.24 246.65l.98-.91-.51-.55-.98 .91zM967.44 244.61l.98-.91-.51-.55-.98 .91zM969.65 242.57l.98-.91-.51-.55-.98 .91zM971.85 240.53l.98-.91-.51-.55-.98 .91zM974.05 238.5l.98-.91-.51-.55-.98 .91zM976.25 236.46l.98-.91-.51-.55-.98 .91zM978.45 234.42l.98-.91-.51-.55-.98 .91zM980.65 232.38l.98-.91-.51-.55-.98 .91zM982.86 230.35l.98-.91-.51-.55-.98 .91zM985.06 228.31l.98-.91-.51-.55-.98 .91zM987.26 226.27l.98-.91-.51-.55-.98 .91zM989.46 224.23l.98-.91-.51-.55-.98 .91zM991.66 222.2l.98-.91-.51-.55-.98 .91zM993.87 220.16l.98-.91-.51-.55-.98 .91zM996.07 218.12l.98-.91-.51-.55-.98 .91zM998.27 216.08l.98-.91-.51-.55-.98 .91zM1000.47 214.05l.98-.91-.51-.55-.98 .91zM1002.67 212.01l.98-.91-.51-.55-.98 .91zM1004.88 209.97l.98-.91-.51-.55-.98 .91zM1007.08 207.93l.98-.91-.51-.55-.98 .91zM1009.28 205.89l.98-.91-.51-.55-.98 .91zM1011.48 203.86l.98-.91-.51-.55-.98 .91zM1013.68 201.82l.98-.91-.51-.55-.98 .91zM1015.98 200.78l1.34 0 0-.75-1.34 0zM1018.98 200.78l1.34 0 0-.75-1.34 0zM1021.98 200.78l1.34 0 0-.75-1.34 0zM1024.98 200.78l1.34 0 0-.75-1.34 0zM1027.98 200.78l1.34 0 0-.75-1.34 0zM1030.98 200.78l1.34 0 0-.75-1.34 0zM1033.98 200.78l1.34 0 0-.75-1.34 0zM1036.98 200.78l1.34 0 0-.75-1.34 0zM1039.98 200.78l1.34 0 0-.75-1.34 0zM1042.98 200.78l1.34 0 0-.75-1.34 0zM1045.98 200.78l1.34 0 0-.75-1.34 0zM1048.98 200.78l1.34 0 0-.75-1.34 0zM1051.98 200.78l1.34 0 0-.75-1.34 0zM1054.98 200.78l1.34 0 0-.75-1.34 0zM1057.98 200.78l1.34 0 0-.75-1.34 0zM1060.98 200.78l1.34 0 0-.75-1.34 0zM1063.98 200.78l1.34 0 0-.75-1.34 0zM1066.98 200.78l1.34 0 0-.75-1.34 0zM1069.98 200.78l1.34 0 0-.75-1.34 0zM1072.98 200.78l1.34 0 0-.75-1.34 0zM1075.98 200.78l1.34 0 0-.75-1.34 0zM1078.98 200.78l1.34 0 0-.75-1.34 0zM1081.98 200.78l1.34 0 0-.75-1.34 0zM1084.98 200.78l1.34 0 0-.75-1.34 0zM1087.98 200.78l1.34 0 0-.75-1.34 0zM1090.98 200.78l1.34 0 0-.75-1.34 0zM1093.98 200.78l1.34 0 0-.75-1.34 0zM1096.98 200.78l1.34 0 0-.75-1.34 0zM1099.98 200.78l1.34 0 0-.75-1.34 0zM1102.98 200.78l1.34 0 0-.75-1.34 0zM1105.98 200.78l1.34 0 0-.75-1.34 0zM1108.98 200.78l1.34 0 0-.75-1.34 0zM1111.98 200.78l1.34 0 0-.75-1.34 0zM1114.98 200.78l1.34 0 0-.75-1.34 0zM1117.98 200.78l1.34 0 0-.75-1.34 0zM1120.98 200.78l1.34 0 0-.75-1.34 0zM1123.98 200.78l1.34 0 0-.75-1.34 0zM1126.98 200.78l1.34 0 0-.75-1.34 0zM1129.98 200.78l1.34 0 0-.75-1.34 0zM1132.98 200.78l1.34 0 0-.75-1.34 0zM1136.89 200.78l.3 0 0-.75-.3 0zM1135.98 200.78l.91 0 0-.75-.91 0z"/>
<path fill="#0000FF" d="M159.23 1029.88l.18-.23-.59-.46-.18 .23zM159.41 1029.65l.64-.83-.59-.46-.64 .83zM161.06 1027.5l2.19-2.85-.59-.46-2.19 2.85zM164.26 1023.34l.82-1.06-.59-.46-.82 1.06zM166.09 1020.96l2.19-2.85-.59-.46-2.19 2.85zM169.29 1016.8l.82-1.06-.59-.46-.82 1.06zM171.12 1014.42l2.19-2.85-.59-.46-2.19 2.85zM174.32 1010.26l.82-1.06-.59-.46-.82 1.06zM176.14 1007.88l2.19-2.85-.59-.46-2.19 2.85zM179.35 1003.72l.82-1.06-.59-.46-.82 1.06zM181.17 1001.34l2.19-2.85-.59-.46-2.19 2.85zM184.38 997.18l.82-1.06-.59-.46-.82 1.06zM186.2 994.8l2.19-2.85-.59-.46-2.19 2.85zM189.4 990.64l.82-1.06-.59-.46-.82 1.06zM191.23 988.26l2.19-2.85-.59-.46-2.19 2.85zM194.43 984.1l.82-1.06-.59-.46-.82 1.06zM196.26 981.73l2.19-2.85-.59-.46-2.19 2.85zM199.46 977.56l.82-1.06-.59-.46-.82 1.06zM201.29 975.19l2.19-2.85-.59-.46-2.19 2.85zM204.49 971.02l.82-1.06-.59-.46-.82 1.06zM206.32 968.65l2.19-2.85-.59-.46-2.19 2.85zM209.52 964.48l.82-1.06-.59-.46-.82 1.06zM211.35 962.11l2.19-2.85-.59-.46-2.19 2.85zM214.55 957.94l.82-1.06-.59-.46-.82 1.06zM216.38 955.57l2.19-2.85-.59-.46-2.19 2.85zM219.58 951.41l.82-1.06-.59-.46-.82 1.06zM221.41 949.03l2.19-2.85-.59-.46-2.19 2.85zM224.61 944.87l.82-1.06-.59-.46-.82 1.06zM226.44 942.49l2.19-2.85-.59-.46-2.19 2.85zM229.64 938.33l.82-1.06-.59-.46-.82 1.06zM231.47 935.95l2.19-2.85-.59-.46-2.19 2.85zM234.67 931.79l.82-1.06-.59-.46-.82 1.06zM236.5 929.41l2.19-2.85-.59-.46-2.19 2.85zM239.7 925.25l.82-1.06-.59-.46-.82 1.06zM241.53 922.87l2.19-2.85-.59-.46-2.19 2.85zM244.73 918.71l.82-1.06-.59-.46-.82 1.06zM246.56 916.33l2.19-2.85-.59-.46-2.19 2.85zM249.76 912.17l.82-1.06-.59-.46-.82 1.06zM251.59 909.79l2.19-2.85-.59-.46-2.19 2.85zM254.79 905.63l.82-1.06-.59-.46-.82 1.06zM256.62 903.25l2.19-2.85-.59-.46-2.19 2.85zM259.82 899.09l.82-1.06-.59-.46-.82 1.06zM261.65 896.71l2.19-2.85-.59-.46-2.19 2.85zM264.85 892.55l.82-1.06-.59-.46-.82 1.06zM266.68 890.17l2.19-2.85-.59-.46-2.19 2.85zM269.88 886.01l.82-1.06-.59-.46-.82 1.06zM271.71 883.63l2.19-2.85-.59-.46-2.19 2.85zM274.91 879.47l.82-1.06-.59-.46-.82 1.06zM276.74 877.09l2.19-2.85-.59-.46-2.19 2.85zM279.94 872.93l.82-1.06-.59-.46-.82 1.06zM281.72 870.7l3.06-1.88-.39-.64-3.06 1.88zM286.19 867.96l1.14-.7-.39-.64-1.14 .7zM288.75 866.39l3.06-1.88-.39-.64-3.06 1.88zM293.22 863.64l1.14-.7-.39-.64-1.14 .7zM295.78 862.07l3.06-1.88-.39-.64-3.06 1.88zM300.26 859.33l1.14-.7-.39-.64-1.14 .7zM302.81 857.76l3.06-1.88-.39-.64-3.06 1.88zM307.29 855.01l1.14-.7-.39-.64-1.14 .7zM309.84 853.44l3.06-1.88-.39-.64-3.06 1.88zM314.32 850.7l1.14-.7-.39-.64-1.14 .7zM316.88 849.13l3.06-1.88-.39-.64-3.06 1.88zM321.35 846.38l1.14-.7-.39-.64-1.14 .7zM323.91 844.81l3.06-1.88-.39-.64-3.06 1.88zM328.38 842.07l1.14-.7-.39-.64-1.14 .7zM330.94 840.5l3.06-1.88-.39-.64-3.06 1.88zM335.41 837.75l1.14-.7-.39-.64-1.14 .7zM337.97 836.18l3.06-1.88-.39-.64-3.06 1.88zM342.45 833.44l1.14-.7-.39-.64-1.14 .7zM345 831.87l3.06-1.88-.39-.64-3.06 1.88zM349.48 829.12l1.14-.7-.39-.64-1.14 .7zM352.03 827.55l3.06-1.88-.39-.64-3.06 1.88zM356.51 824.81l1.14-.7-.39-.64-1.14 .7zM359.07 823.24l3.06-1.88-.39-.64-3.06 1.88zM363.54 820.49l1.14-.7-.39-.64-1.14 .7zM366.1 818.92l3.06-1.88-.39-.64-3.06 1.88zM370.57 816.18l1.14-.7-.39-.64-1.14 .7zM373.13 814.61l3.06-1.88-.39-.64-3.06 1.88zM377.6 811.86l1.14-.7-.39-.64-1.14 .7zM380.16 810.29l3.06-1.88-.39-.64-3.06 1.88zM384.64 807.55l1.14-.7-.39-.64-1.14 .7zM387.19 805.98l3.06-1.88-.39-.64-3.06 1.88zM391.67 803.23l1.14-.7-.39-.64-1.14 .7zM394.22 801.67l3.06-1.88-.39-.64-3.06 1.88zM398.7 798.92l1.14-.7-.39-.64-1.14 .7zM401.26 797.35l2.49-1.53-.39-.64-2.49 1.53zM403.83 795.76l.46-.48-.54-.52-.46 .48zM405.43 794.08l.93-.97-.54-.52-.93 .97zM407.51 791.92l2.48-2.59-.54-.52-2.48 2.59zM411.14 788.13l.93-.97-.54-.52-.93 .97zM413.22 785.96l2.48-2.59-.54-.52-2.48 2.59zM416.85 782.17l.93-.97-.54-.52-.93 .97zM418.93 780.01l2.48-2.59-.54-.52-2.48 2.59zM422.56 776.22l.93-.97-.54-.52-.93 .97zM424.64 774.05l2.48-2.59-.54-.52-2.48 2.59zM428.27 770.26l.93-.97-.54-.52-.93 .97zM430.35 768.09l2.48-2.59-.54-.52-2.48 2.59zM433.98 764.3l.93-.97-.54-.52-.93 .97zM436.05 762.14l2.48-2.59-.54-.52-2.48 2.59zM439.69 758.35l.93-.97-.54-.52-.93 .97zM441.76 756.18l2.48-2.59-.54-.52-2.48 2.59zM445.4 752.39l.93-.97-.54-.52-.93 .97zM447.47 750.23l2.48-2.59-.54-.52-2.48 2.59zM451.11 746.44l.93-.97-.54-.52-.93 .97zM453.18 744.27l2.48-2.59-.54-.52-2.48 2.59zM456.81 740.48l.93-.97-.54-.52-.93 .97zM458.89 738.32l2.48-2.59-.54-.52-2.48 2.59zM462.52 734.53l.93-.97-.54-.52-.93 .97zM464.6 732.36l2.48-2.59-.54-.52-2.48 2.59zM468.23 728.57l.93-.97-.54-.52-.93 .97zM470.31 726.4l2.48-2.59-.54-.52-2.48 2.59zM473.94 722.61l.93-.97-.54-.52-.93 .97zM476.02 720.45l2.48-2.59-.54-.52-2.48 2.59zM479.65 716.66l.93-.97-.54-.52-.93 .97zM481.73 714.49l2.48-2.59-.54-.52-2.48 2.59zM485.36 710.7l.93-.97-.54-.52-.93 .97zM487.44 708.54l2.48-2.59-.54-.52-2.48 2.59zM491.07 704.75l.93-.97-.54-.52-.93 .97zM493.15 702.58l2.48-2.59-.54-.52-2.48 2.59zM496.78 698.79l.93-.97-.54-.52-.93 .97zM498.85 696.63l2.48-2.59-.54-.52-2.48 2.59zM502.49 692.84l.93-.97-.54-.52-.93 .97zM504.56 690.67l2.48-2.59-.54-.52-2.48 2.59zM508.2 686.88l.93-.97-.54-.52-.93 .97zM510.27 684.72l2.48-2.59-.54-.52-2.48 2.59zM513.91 680.93l.93-.97-.54-.52-.93 .97zM515.98 678.76l2.48-2.59-.54-.52-2.48 2.59zM519.61 674.97l.93-.97-.54-.52-.93 .97zM521.69 672.8l2.48-2.59-.54-.52-2.48 2.59zM525.32 669.01l.72-.76-.54-.52-.72 .76zM526.07 668.24l.19-.23-.58-.47-.19 .23zM527.3 666.72l2.26-2.79-.58-.47-2.26 2.79zM530.6 662.64l.84-1.04-.58-.47-.84 1.04zM532.49 660.31l2.26-2.79-.58-.47-2.26 2.79zM535.8 656.23l.84-1.04-.58-.47-.84 1.04zM537.69 653.9l2.26-2.79-.58-.47-2.26 2.79zM540.99 649.82l.84-1.04-.58-.47-.84 1.04zM542.88 647.49l2.26-2.79-.58-.47-2.26 2.79zM546.19 643.41l.84-1.04-.58-.47-.84 1.04zM548.08 641.08l2.26-2.79-.58-.47-2.26 2.79zM551.38 637l.84-1.04-.58-.47-.84 1.04zM553.27 634.67l2.26-2.79-.58-.47-2.26 2.79zM556.58 630.59l.84-1.04-.58-.47-.84 1.04zM558.47 628.26l2.26-2.79-.58-.47-2.26 2.79zM561.77 624.18l.84-1.04-.58-.47-.84 1.04zM563.66 621.85l2.26-2.79-.58-.47-2.26 2.79zM566.97 617.77l.84-1.04-.58-.47-.84 1.04zM568.86 615.44l2.26-2.79-.58-.47-2.26 2.79zM572.16 611.37l.84-1.04-.58-.47-.84 1.04zM574.05 609.04l2.26-2.79-.58-.47-2.26 2.79zM577.36 604.96l.84-1.04-.58-.47-.84 1.04zM579.24 602.63l2.26-2.79-.58-.47-2.26 2.79zM582.55 598.55l.84-1.04-.58-.47-.84 1.04zM584.44 596.22l2.26-2.79-.58-.47-2.26 2.79zM587.74 592.14l.84-1.04-.58-.47-.84 1.04zM589.63 589.81l2.26-2.79-.58-.47-2.26 2.79zM592.94 585.73l.84-1.04-.58-.47-.84 1.04zM594.83 583.4l2.26-2.79-.58-.47-2.26 2.79zM598.13 579.32l.84-1.04-.58-.47-.84 1.04zM600.02 576.99l2.26-2.79-.58-.47-2.26 2.79zM603.33 572.91l.84-1.04-.58-.47-.84 1.04zM605.22 570.58l2.26-2.79-.58-.47-2.26 2.79zM608.52 566.5l.84-1.04-.58-.47-.84 1.04zM610.41 564.17l2.26-2.79-.58-.47-2.26 2.79zM613.72 560.09l.84-1.04-.58-.47-.84 1.04zM615.61 557.76l2.26-2.79-.58-.47-2.26 2.79zM618.91 553.68l.84-1.04-.58-.47-.84 1.04zM620.8 551.35l2.26-2.79-.58-.47-2.26 2.79zM624.11 547.27l.84-1.04-.58-.47-.84 1.04zM626 544.94l2.26-2.79-.58-.47-2.26 2.79zM629.3 540.86l.84-1.04-.58-.47-.84 1.04zM631.19 538.53l2.26-2.79-.58-.47-2.26 2.79zM634.5 534.45l.84-1.04-.58-.47-.84 1.04zM636.39 532.12l2.26-2.79-.58-.47-2.26 2.79zM639.69 528.05l.84-1.04-.58-.47-.84 1.04zM641.58 525.72l2.26-2.79-.58-.47-2.26 2.79zM644.89 521.64l.84-1.04-.58-.47-.84 1.04zM646.77 519.31l1.52-1.87-.58-.47-1.52 1.87zM648.25 517.48l.88-.8-.5-.55-.88 .8zM650.35 515.56l.99-.9-.5-.55-.99 .9zM652.57 513.54l2.66-2.42-.5-.55-2.66 2.42zM656.46 510.01l.99-.9-.5-.55-.99 .9zM658.68 507.99l2.66-2.42-.5-.55-2.66 2.42zM662.56 504.46l.99-.9-.5-.55-.99 .9zM664.78 502.44l2.66-2.42-.5-.55-2.66 2.42zM668.66 498.91l.99-.9-.5-.55-.99 .9zM670.88 496.89l2.66-2.42-.5-.55-2.66 2.42zM674.76 493.36l.99-.9-.5-.55-.99 .9zM676.98 491.34l2.66-2.42-.5-.55-2.66 2.42zM680.87 487.8l.99-.9-.5-.55-.99 .9zM683.08 485.79l2.66-2.42-.5-.55-2.66 2.42zM686.97 482.25l.99-.9-.5-.55-.99 .9zM689.19 480.23l2.66-2.42-.5-.55-2.66 2.42zM693.07 476.7l.99-.9-.5-.55-.99 .9zM695.29 474.68l2.66-2.42-.5-.55-2.66 2.42zM699.17 471.15l.99-.9-.5-.55-.99 .9zM701.39 469.13l2.66-2.42-.5-.55-2.66 2.42zM705.27 465.6l.99-.9-.5-.55-.99 .9zM707.49 463.58l2.66-2.42-.5-.55-2.66 2.42zM711.38 460.04l.99-.9-.5-.55-.99 .9zM713.6 458.03l2.66-2.42-.5-.55-2.66 2.42zM717.48 454.49l.99-.9-.5-.55-.99 .9zM719.7 452.47l2.66-2.42-.5-.55-2.66 2.42zM723.58 448.94l.99-.9-.5-.55-.99 .9zM725.8 446.92l2.66-2.42-.5-.55-2.66 2.42zM729.68 443.39l.99-.9-.5-.55-.99 .9zM731.9 441.37l2.66-2.42-.5-.55-2.66 2.42zM735.79 437.84l.99-.9-.5-.55-.99 .9zM738.01 435.82l2.66-2.42-.5-.55-2.66 2.42zM741.89 432.28l.99-.9-.5-.55-.99 .9zM744.11 430.27l2.66-2.42-.5-.55-2.66 2.42zM747.99 426.73l.99-.9-.5-.55-.99 .9zM750.21 424.71l2.66-2.42-.5-.55-2.66 2.42zM754.09 421.18l.99-.9-.5-.55-.99 .9zM756.31 419.16l2.66-2.42-.5-.55-2.66 2.42zM760.2 415.63l.99-.9-.5-.55-.99 .9zM762.41 413.61l2.66-2.42-.5-.55-2.66 2.42zM766.3 410.08l.99-.9-.5-.55-.99 .9zM768.52 408.06l1.96-1.78-.5-.55-1.96 1.78zM770.5 406.25l.63-.7-.56-.5-.63 .7zM772.24 404.31l.9-1-.56-.5-.9 1zM774.25 402.08l2.4-2.67-.56-.5-2.4 2.67zM777.76 398.18l.9-1-.56-.5-.9 1zM779.76 395.95l2.4-2.67-.56-.5-2.4 2.67zM783.27 392.04l.9-1-.56-.5-.9 1zM785.28 389.81l2.4-2.67-.56-.5-2.4 2.67zM788.78 385.9l.9-1-.56-.5-.9 1zM790.79 383.67l2.4-2.67-.56-.5-2.4 2.67zM794.3 379.77l.9-1-.56-.5-.9 1zM796.3 377.54l2.4-2.67-.56-.5-2.4 2.67zM799.81 373.63l.9-1-.56-.5-.9 1zM801.82 371.4l2.4-2.67-.56-.5-2.4 2.67zM805.33 367.5l.9-1-.56-.5-.9 1zM807.33 365.26l2.4-2.67-.56-.5-2.4 2.67zM810.84 361.36l.9-1-.56-.5-.9 1zM812.85 359.13l2.4-2.67-.56-.5-2.4 2.67zM816.36 355.22l.9-1-.56-.5-.9 1zM818.36 352.99l2.4-2.67-.56-.5-2.4 2.67zM821.87 349.09l.9-1-.56-.5-.9 1zM823.88 346.86l2.4-2.67-.56-.5-2.4 2.67zM827.39 342.95l.9-1-.56-.5-.9 1zM829.39 340.72l2.4-2.67-.56-.5-2.4 2.67zM832.9 336.82l.9-1-.56-.5-.9 1zM834.91 334.58l2.4-2.67-.56-.5-2.4 2.67zM838.42 330.68l.9-1-.56-.5-.9 1zM840.42 328.45l2.4-2.67-.56-.5-2.4 2.67zM843.93 324.54l.9-1-.56-.5-.9 1zM845.94 322.31l2.4-2.67-.56-.5-2.4 2.67zM849.44 318.41l.9-1-.56-.5-.9 1zM851.45 316.18l2.4-2.67-.56-.5-2.4 2.67zM854.96 312.27l.9-1-.56-.5-.9 1zM856.96 310.04l2.4-2.67-.56-.5-2.4 2.67zM860.47 306.13l.9-1-.56-.5-.9 1zM862.48 303.9l2.4-2.67-.56-.5-2.4 2.67zM865.99 300l.9-1-.56-.5-.9 1zM867.99 297.77l2.4-2.67-.56-.5-2.4 2.67zM871.5 293.86l.9-1-.56-.5-.9 1zM873.51 291.63l2.4-2.67-.56-.5-2.4 2.67zM877.02 287.73l.9-1-.56-.5-.9 1zM879.02 285.49l2.4-2.67-.56-.5-2.4 2.67zM882.53 281.59l.9-1-.56-.5-.9 1zM884.54 279.36l2.4-2.67-.56-.5-2.4 2.67zM888.05 275.45l.9-1-.56-.5-.9 1zM890.05 273.22l2.4-2.67-.56-.5-2.4 2.67zM893.6 269.39l.95-.94-.53-.53-.95 .94zM895.74 267.28l2.56-2.52-.53-.53-2.56 2.52zM899.47 263.59l.95-.94-.53-.53-.95 .94zM901.61 261.48l2.56-2.52-.53-.53-2.56 2.52zM905.34 257.8l.95-.94-.53-.53-.95 .94zM907.48 255.69l2.56-2.52-.53-.53-2.56 2.52zM911.22 252l.95-.94-.53-.53-.95 .94zM913.35 249.9l2.56-2.52-.53-.53-2.56 2.52zM917.09 246.21l.95-.94-.53-.53-.95 .94zM919.22 244.1l2.56-2.52-.53-.53-2.56 2.52zM922.96 240.41l.95-.94-.53-.53-.95 .94zM925.1 238.31l2.56-2.52-.53-.53-2.56 2.52zM928.83 234.62l.95-.94-.53-.53-.95 .94zM930.97 232.51l2.56-2.52-.53-.53-2.56 2.52zM934.71 228.82l.95-.94-.53-.53-.95 .94zM936.84 226.72l2.56-2.52-.53-.53-2.56 2.52zM940.58 223.03l.95-.94-.53-.53-.95 .94zM942.71 220.92l2.56-2.52-.53-.53-2.56 2.52zM946.45 217.23l.95-.94-.53-.53-.95 .94zM948.59 215.13l2.56-2.52-.53-.53-2.56 2.52zM952.32 211.44l.95-.94-.53-.53-.95 .94zM954.46 209.33l2.56-2.52-.53-.53-2.56 2.52zM958.2 205.65l.95-.94-.53-.53-.95 .94zM960.33 203.54l2.56-2.52-.53-.53-2.56 2.52zM964.07 199.85l.95-.94-.53-.53-.95 .94zM966.2 197.74l2.56-2.52-.53-.53-2.56 2.52zM969.94 194.06l.95-.94-.53-.53-.95 .94zM972.08 191.95l2.56-2.52-.53-.53-2.56 2.52zM975.81 188.26l.95-.94-.53-.53-.95 .94zM977.95 186.16l2.56-2.52-.53-.53-2.56 2.52zM981.69 182.47l.95-.94-.53-.53-.95 .94zM983.82 180.36l2.56-2.52-.53-.53-2.56 2.52zM987.56 176.67l.95-.94-.53-.53-.95 .94zM989.69 174.57l2.56-2.52-.53-.53-2.56 2.52zM993.43 170.88l.95-.94-.53-.53-.95 .94zM995.57 168.77l2.56-2.52-.53-.53-2.56 2.52zM999.3 165.08l.95-.94-.53-.53-.95 .94zM1001.44 162.98l2.56-2.52-.53-.53-2.56 2.52zM1005.18 159.29l.95-.94-.53-.53-.95 .94zM1007.31 157.18l2.56-2.52-.53-.53-2.56 2.52zM1011.05 153.5l.95-.94-.53-.53-.95 .94zM1013.18 151.39l1.74-1.72-.53-.53-1.74 1.72zM1014.67 149.78l1.14 0 0-.75-1.14 0zM1017.46 149.78l1.34 0 0-.75-1.34 0zM1020.46 149.78l3.59 0 0-.75-3.59 0zM1025.71 149.78l1.34 0 0-.75-1.34 0zM1028.71 149.78l3.59 0 0-.75-3.59 0zM1033.96 149.78l1.34 0 0-.75-1.34 0zM1036.96 149.78l3.59 0 0-.75-3.59 0zM1042.21 149.78l1.34 0 0-.75-1.34 0zM1045.21 149.78l3.59 0 0-.75-3.59 0zM1050.46 149.78l1.34 0 0-.75-1.34 0zM1053.46 149.78l3.59 0 0-.75-3.59 0zM1058.71 149.78l1.34 0 0-.75-1.34 0zM1061.71 149.78l3.59 0 0-.75-3.59 0zM1066.96 149.78l1.34 0 0-.75-1.34 0zM1069.96 149.78l3.59 0 0-.75-3.59 0zM1075.21 149.78l1.34 0 0-.75-1.34 0zM1078.21 149.78l3.59 0 0-.75-3.59 0zM1083.46 149.78l1.34 0 0-.75-1.34 0zM1086.46 149.78l3.59 0 0-.75-3.59 0zM1091.71 149.78l1.34 0 0-.75-1.34 0zM1094.71 149.78l3.59 0 0-.75-3.59 0zM1099.96 149.78l1.34 0 0-.75-1.34 0zM1102.96 149.78l3.59 0 0-.75-3.59 0zM1108.21 149.78l1.34 0 0-.75-1.34 0zM1111.21 149.78l3.59 0 0-.75-3.59 0zM1116.46 149.78l1.34 0 0-.75-1.34 0zM1119.46 149.78l3.59 0 0-.75-3.59 0zM1124.71 149.78l1.34 0 0-.75-1.34 0zM1127.71 149.78l3.59 0 0-.75-3.59 0zM1132.96 149.78l1.34 0 0-.75-1.34 0zM1136.89 149.78l.3 0 0-.75-.3 0zM1135.96 149.78l.92 0 0-.75-.92 0z"/>
<path fill="#00FFFF" d="M159.23 1029.45l.18-.24-.6-.45-.18 .24zM159.41 1029.22l3.33-4.44-.6-.45-3.33 4.44zM163.73 1023.45l3.5-4.67-.6-.45-3.5 4.67zM168.23 1017.45l3.5-4.67-.6-.45-3.5 4.67zM172.73 1011.45l3.5-4.67-.6-.45-3.5 4.67zM177.23 1005.45l3.5-4.67-.6-.45-3.5 4.67zM181.73 999.45l3.5-4.67-.6-.45-3.5 4.67zM186.23 993.45l3.5-4.67-.6-.45-3.5 4.67zM190.73 987.45l3.5-4.67-.6-.45-3.5 4.67zM195.23 981.45l3.5-4.67-.6-.45-3.5 4.67zM199.73 975.45l3.5-4.67-.6-.45-3.5 4.67zM204.23 969.45l3.5-4.67-.6-.45-3.5 4.67zM208.73 963.45l3.5-4.67-.6-.45-3.5 4.67zM213.23 957.45l3.5-4.67-.6-.45-3.5 4.67zM217.73 951.45l3.5-4.67-.6-.45-3.5 4.67zM222.23 945.45l3.5-4.67-.6-.45-3.5 4.67zM226.73 939.45l3.5-4.67-.6-.45-3.5 4.67zM231.23 933.45l3.5-4.67-.6-.45-3.5 4.67zM235.72 927.45l3.5-4.67-.6-.45-3.5 4.67zM240.22 921.44l3.5-4.67-.6-.45-3.5 4.67zM244.72 915.44l3.5-4.67-.6-.45-3.5 4.67zM249.22 909.44l3.5-4.67-.6-.45-3.5 4.67zM253.72 903.44l3.5-4.67-.6-.45-3.5 4.67zM258.22 897.44l3.5-4.67-.6-.45-3.5 4.67zM262.72 891.44l3.5-4.67-.6-.45-3.5 4.67zM267.22 885.44l3.5-4.67-.6-.45-3.5 4.67zM271.72 879.44l3.5-4.67-.6-.45-3.5 4.67zM276.22 873.44l3.5-4.67-.6-.45-3.5 4.67zM280.72 867.44l.91-1.22-.6-.45-.91 1.22zM281.53 866.32l3.64-2.32-.4-.63-3.64 2.32zM286.58 863.11l4.93-3.13-.4-.63-4.93 3.13zM292.91 859.08l4.93-3.13-.4-.63-4.93 3.13zM299.23 855.06l4.93-3.13-.4-.63-4.93 3.13zM305.56 851.03l4.93-3.13-.4-.63-4.93 3.13zM311.89 847l4.93-3.13-.4-.63-4.93 3.13zM318.22 842.98l4.93-3.13-.4-.63-4.93 3.13zM324.55 838.95l4.93-3.13-.4-.63-4.93 3.13zM330.88 834.93l4.93-3.13-.4-.63-4.93 3.13zM337.2 830.9l4.93-3.13-.4-.63-4.93 3.13zM343.53 826.88l4.93-3.13-.4-.63-4.93 3.13zM349.86 822.85l4.93-3.13-.4-.63-4.93 3.13zM356.19 818.83l4.93-3.13-.4-.63-4.93 3.13zM362.52 814.8l4.93-3.13-.4-.63-4.93 3.13zM368.84 810.78l4.93-3.13-.4-.63-4.93 3.13zM375.17 806.75l4.93-3.13-.4-.63-4.93 3.13zM381.5 802.72l4.93-3.13-.4-.63-4.93 3.13zM387.83 798.7l4.93-3.13-.4-.63-4.93 3.13zM394.16 794.67l4.93-3.13-.4-.63-4.93 3.13zM400.48 790.65l3.27-2.08-.4-.63-3.27 2.08zM403.83 788.51l1.35-1.43-.54-.52-1.35 1.43zM406.32 785.88l4.01-4.24-.54-.52-4.01 4.24zM411.47 780.43l4.01-4.24-.54-.52-4.01 4.24zM416.62 774.98l4.01-4.24-.54-.52-4.01 4.24zM421.78 769.53l4.01-4.24-.54-.52-4.01 4.24zM426.93 764.08l4.01-4.24-.54-.52-4.01 4.24zM432.08 758.63l4.01-4.24-.54-.52-4.01 4.24zM437.23 753.18l4.01-4.24-.54-.52-4.01 4.24zM442.39 747.73l4.01-4.24-.54-.52-4.01 4.24zM447.54 742.28l4.01-4.24-.54-.52-4.01 4.24zM452.69 736.83l4.01-4.24-.54-.52-4.01 4.24zM457.85 731.38l4.01-4.24-.54-.52-4.01 4.24zM463 725.93l4.01-4.24-.54-.52-4.01 4.24zM468.15 720.48l4.01-4.24-.54-.52-4.01 4.24zM473.31 715.03l4.01-4.24-.54-.52-4.01 4.24zM478.46 709.58l4.01-4.24-.54-.52-4.01 4.24zM483.61 704.13l4.01-4.24-.54-.52-4.01 4.24zM488.77 698.69l4.01-4.24-.54-.52-4.01 4.24zM493.92 693.24l4.01-4.24-.54-.52-4.01 4.24zM499.07 687.79l4.01-4.24-.54-.52-4.01 4.24zM504.22 682.34l4.01-4.24-.54-.52-4.01 4.24zM509.38 676.89l4.01-4.24-.54-.52-4.01 4.24zM514.53 671.44l4.01-4.24-.54-.52-4.01 4.24zM519.68 665.99l4.01-4.24-.54-.52-4.01 4.24zM524.84 660.54l1.21-1.28-.54-.52-1.21 1.28zM526.07 659.23l2.52-3.21-.59-.46-2.52 3.21zM529.61 654.72l3.61-4.59-.59-.46-3.61 4.59zM534.24 648.82l3.61-4.59-.59-.46-3.61 4.59zM538.88 642.92l3.61-4.59-.59-.46-3.61 4.59zM543.51 637.02l3.61-4.59-.59-.46-3.61 4.59zM548.14 631.12l3.61-4.59-.59-.46-3.61 4.59zM552.77 625.22l3.61-4.59-.59-.46-3.61 4.59zM557.4 619.32l3.61-4.59-.59-.46-3.61 4.59zM562.03 613.42l3.61-4.59-.59-.46-3.61 4.59zM566.66 607.52l3.61-4.59-.59-.46-3.61 4.59zM571.29 601.62l3.61-4.59-.59-.46-3.61 4.59zM575.92 595.72l3.61-4.59-.59-.46-3.61 4.59zM580.55 589.83l3.61-4.59-.59-.46-3.61 4.59zM585.19 583.93l3.61-4.59-.59-.46-3.61 4.59zM589.82 578.03l3.61-4.59-.59-.46-3.61 4.59zM594.45 572.13l3.61-4.59-.59-.46-3.61 4.59zM599.08 566.23l3.61-4.59-.59-.46-3.61 4.59zM603.71 560.33l3.61-4.59-.59-.46-3.61 4.59zM608.34 554.43l3.61-4.59-.59-.46-3.61 4.59zM612.97 548.53l3.61-4.59-.59-.46-3.61 4.59zM617.6 542.63l3.61-4.59-.59-.46-3.61 4.59zM622.23 536.73l3.61-4.59-.59-.46-3.61 4.59zM626.86 530.83l3.61-4.59-.59-.46-3.61 4.59zM631.5 524.93l3.61-4.59-.59-.46-3.61 4.59zM636.13 519.03l3.61-4.59-.59-.46-3.61 4.59zM640.76 513.13l3.61-4.59-.59-.46-3.61 4.59zM645.39 507.23l2.91-3.7-.59-.46-2.91 3.7zM648.26 503.57l.83-.78-.51-.55-.83 .78zM650.29 501.66l4.26-4-.51-.55-4.26 4zM655.76 496.53l4.26-4-.51-.55-4.26 4zM661.23 491.39l4.26-4-.51-.55-4.26 4zM666.69 486.26l4.26-4-.51-.55-4.26 4zM672.16 481.12l4.26-4-.51-.55-4.26 4zM677.63 475.99l4.26-4-.51-.55-4.26 4zM683.09 470.85l4.26-4-.51-.55-4.26 4zM688.56 465.72l4.26-4-.51-.55-4.26 4zM694.03 460.58l4.26-4-.51-.55-4.26 4zM699.49 455.45l4.26-4-.51-.55-4.26 4zM704.96 450.31l4.26-4-.51-.55-4.26 4zM710.43 445.18l4.26-4-.51-.55-4.26 4zM715.89 440.04l4.26-4-.51-.55-4.26 4zM721.36 434.91l4.26-4-.51-.55-4.26 4zM726.83 429.77l4.26-4-.51-.55-4.26 4zM732.29 424.64l4.26-4-.51-.55-4.26 4zM737.76 419.5l4.26-4-.51-.55-4.26 4zM743.23 414.37l4.26-4-.51-.55-4.26 4zM748.69 409.24l4.26-4-.51-.55-4.26 4zM754.16 404.1l4.26-4-.51-.55-4.26 4zM759.63 398.97l4.26-4-.51-.55-4.26 4zM765.09 393.83l4.26-4-.51-.55-4.26 4zM770.58 388.66l3.81-4.42-.57-.49-3.81 4.42zM775.48 382.98l3.81-4.42-.57-.49-3.81 4.42zM780.37 377.3l3.81-4.42-.57-.49-3.81 4.42zM785.27 371.62l3.81-4.42-.57-.49-3.81 4.42zM790.16 365.94l3.81-4.42-.57-.49-3.81 4.42zM795.06 360.25l3.81-4.42-.57-.49-3.81 4.42zM799.96 354.57l3.81-4.42-.57-.49-3.81 4.42zM804.85 348.89l3.81-4.42-.57-.49-3.81 4.42zM809.75 343.21l3.81-4.42-.57-.49-3.81 4.42zM814.65 337.53l3.81-4.42-.57-.49-3.81 4.42zM819.54 331.85l3.81-4.42-.57-.49-3.81 4.42zM824.44 326.17l3.81-4.42-.57-.49-3.81 4.42zM829.34 320.49l3.81-4.42-.57-.49-3.81 4.42zM834.23 314.81l3.81-4.42-.57-.49-3.81 4.42zM839.13 309.13l3.81-4.42-.57-.49-3.81 4.42zM844.03 303.45l3.81-4.42-.57-.49-3.81 4.42zM848.92 297.76l3.81-4.42-.57-.49-3.81 4.42zM853.82 292.08l3.81-4.42-.57-.49-3.81 4.42zM858.72 286.4l3.81-4.42-.57-.49-3.81 4.42zM863.61 280.72l3.81-4.42-.57-.49-3.81 4.42zM868.51 275.04l3.81-4.42-.57-.49-3.81 4.42zM873.41 269.36l3.81-4.42-.57-.49-3.81 4.42zM878.3 263.68l3.81-4.42-.57-.49-3.81 4.42zM883.2 258l3.81-4.42-.57-.49-3.81 4.42zM888.1 252.32l3.81-4.42-.57-.49-3.81 4.42zM893 246.67l4.09-4.17-.54-.53-4.09 4.17zM898.25 241.32l4.09-4.17-.54-.53-4.09 4.17zM903.51 235.97l4.09-4.17-.54-.53-4.09 4.17zM908.76 230.62l4.09-4.17-.54-.53-4.09 4.17zM914.02 225.27l4.09-4.17-.54-.53-4.09 4.17zM919.27 219.92l4.09-4.17-.54-.53-4.09 4.17zM924.53 214.57l4.09-4.17-.54-.53-4.09 4.17zM929.78 209.21l4.09-4.17-.54-.53-4.09 4.17zM935.04 203.86l4.09-4.17-.54-.53-4.09 4.17zM940.29 198.51l4.09-4.17-.54-.53-4.09 4.17zM945.55 193.16l4.09-4.17-.54-.53-4.09 4.17zM950.8 187.81l4.09-4.17-.54-.53-4.09 4.17zM956.06 182.46l4.09-4.17-.54-.53-4.09 4.17zM961.31 177.11l4.09-4.17-.54-.53-4.09 4.17zM966.57 171.76l4.09-4.17-.54-.53-4.09 4.17zM971.82 166.41l4.09-4.17-.54-.53-4.09 4.17zM977.08 161.06l4.09-4.17-.54-.53-4.09 4.17zM982.33 155.71l4.09-4.17-.54-.53-4.09 4.17zM987.59 150.35l4.09-4.17-.54-.53-4.09 4.17zM992.85 145l4.09-4.17-.54-.53-4.09 4.17zM998.1 139.65l4.09-4.17-.54-.53-4.09 4.17zM1003.36 134.3l4.09-4.17-.54-.53-4.09 4.17zM1008.61 128.95l4.09-4.17-.54-.53-4.09 4.17zM1013.87 123.6l1.07-1.09-.54-.53-1.07 1.09zM1014.67 122.62l4.32 0 0-.75-4.32 0zM1020.64 122.62l5.84 0 0-.75-5.84 0zM1028.14 122.62l5.84 0 0-.75-5.84 0zM1035.64 122.62l5.84 0 0-.75-5.84 0zM1043.14 122.62l5.84 0 0-.75-5.84 0zM1050.64 122.62l5.84 0 0-.75-5.84 0zM1058.14 122.62l5.84 0 0-.75-5.84 0zM1065.64 122.62l5.84 0 0-.75-5.84 0zM1073.14 122.62l5.84 0 0-.75-5.84 0zM1080.64 122.62l5.84 0 0-.75-5.84 0zM1088.14 122.62l5.84 0 0-.75-5.84 0zM1095.64 122.62l5.84 0 0-.75-5.84 0zM1103.14 122.62l5.84 0 0-.75-5.84 0zM1110.64 122.62l5.84 0 0-.75-5.84 0zM1118.14 122.62l5.84 0 0-.75-5.84 0zM1125.64 122.62l5.84 0 0-.75-5.84 0zM1136.89 122.62l.3 0 0-.75-.3 0zM1133.14 122.62l3.74 0 0-.75-3.74 0z"/>
<path fill="#FF00FF" d="M159.24 1028.9l122.36-168.38 122.2-79.99 122.27-133.8 122.22-165.79 122.22-122.99 122.23-152.01 122.1-133.17 122.35 0 0-.75-122.68 0-122.34 133.43-122.22 151.99-122.23 123.01-122.23 165.81-122.18 133.7-122.24 80.01-122.44 168.49z"/>
<path fill="#000000" d="M159.24 1029.21l.18-.24-.6-.45-.18 .24zM159.41 1028.98l1.96-2.65-.6-.45-1.96 2.65zM162.8 1024.39l2.13-2.89-.6-.45-2.13 2.89zM166.37 1019.57l2.13-2.89-.6-.45-2.13 2.89zM169.94 1014.74l2.13-2.89-.6-.45-2.13 2.89zM173.51 1009.92l2.13-2.89-.6-.45-2.13 2.89zM177.08 1005.09l2.13-2.89-.6-.45-2.13 2.89zM180.64 1000.27l2.13-2.89-.6-.45-2.13 2.89zM184.21 995.45l2.13-2.89-.6-.45-2.13 2.89zM187.78 990.62l2.13-2.89-.6-.45-2.13 2.89zM191.35 985.8l2.13-2.89-.6-.45-2.13 2.89zM194.91 980.97l2.13-2.89-.6-.45-2.13 2.89zM198.48 976.15l2.13-2.89-.6-.45-2.13 2.89zM202.05 971.33l2.13-2.89-.6-.45-2.13 2.89zM205.62 966.5l2.13-2.89-.6-.45-2.13 2.89zM209.19 961.68l2.13-2.89-.6-.45-2.13 2.89zM212.75 956.85l2.13-2.89-.6-.45-2.13 2.89zM216.32 952.03l2.13-2.89-.6-.45-2.13 2.89zM219.89 947.21l2.13-2.89-.6-.45-2.13 2.89zM223.46 942.38l2.13-2.89-.6-.45-2.13 2.89zM227.02 937.56l2.13-2.89-.6-.45-2.13 2.89zM230.59 932.73l2.13-2.89-.6-.45-2.13 2.89zM234.16 927.91l2.13-2.89-.6-.45-2.13 2.89zM237.73 923.09l2.13-2.89-.6-.45-2.13 2.89zM241.3 918.26l2.13-2.89-.6-.45-2.13 2.89zM244.86 913.44l2.13-2.89-.6-.45-2.13 2.89zM248.43 908.61l2.13-2.89-.6-.45-2.13 2.89zM252 903.79l2.13-2.89-.6-.45-2.13 2.89zM255.57 898.97l2.13-2.89-.6-.45-2.13 2.89zM259.14 894.14l2.13-2.89-.6-.45-2.13 2.89zM262.7 889.32l2.13-2.89-.6-.45-2.13 2.89zM266.27 884.49l2.13-2.89-.6-.45-2.13 2.89zM269.84 879.67l2.13-2.89-.6-.45-2.13 2.89zM273.41 874.85l2.13-2.89-.6-.45-2.13 2.89zM276.97 870.02l2.13-2.89-.6-.45-2.13 2.89zM280.54 865.2l1.09-1.48-.6-.45-1.09 1.48zM281.54 863.81l1.47-.96-.41-.63-1.47 .96zM285.02 861.54l3.01-1.96-.41-.63-3.01 1.96zM290.05 858.26l3.01-1.96-.41-.63-3.01 1.96zM295.07 854.98l3.01-1.96-.41-.63-3.01 1.96zM300.1 851.7l3.01-1.96-.41-.63-3.01 1.96zM305.12 848.42l3.01-1.96-.41-.63-3.01 1.96zM310.15 845.14l3.01-1.96-.41-.63-3.01 1.96zM315.17 841.87l3.01-1.96-.41-.63-3.01 1.96zM320.2 838.59l3.01-1.96-.41-.63-3.01 1.96zM325.22 835.31l3.01-1.96-.41-.63-3.01 1.96zM330.25 832.03l3.01-1.96-.41-.63-3.01 1.96zM335.27 828.75l3.01-1.96-.41-.63-3.01 1.96zM340.3 825.47l3.01-1.96-.41-.63-3.01 1.96zM345.32 822.19l3.01-1.96-.41-.63-3.01 1.96zM350.35 818.91l3.01-1.96-.41-.63-3.01 1.96zM355.37 815.64l3.01-1.96-.41-.63-3.01 1.96zM360.4 812.36l3.01-1.96-.41-.63-3.01 1.96zM365.42 809.08l3.01-1.96-.41-.63-3.01 1.96zM370.45 805.8l3.01-1.96-.41-.63-3.01 1.96zM375.47 802.52l3.01-1.96-.41-.63-3.01 1.96zM380.5 799.24l3.01-1.96-.41-.63-3.01 1.96zM385.52 795.96l3.01-1.96-.41-.63-3.01 1.96zM390.55 792.68l3.01-1.96-.41-.63-3.01 1.96zM395.57 789.41l3.01-1.96-.41-.63-3.01 1.96zM400.6 786.13l3.01-1.96-.41-.63-3.01 1.96zM405.34 782.37l2.44-2.64-.55-.51-2.44 2.64zM409.41 777.96l2.44-2.64-.55-.51-2.44 2.64zM413.48 773.56l2.44-2.64-.55-.51-2.44 2.64zM417.56 769.15l2.44-2.64-.55-.51-2.44 2.64zM421.63 764.74l2.44-2.64-.55-.51-2.44 2.64zM425.7 760.34l2.44-2.64-.55-.51-2.44 2.64zM429.77 755.93l2.44-2.64-.55-.51-2.44 2.64zM433.85 751.53l2.44-2.64-.55-.51-2.44 2.64zM437.92 747.12l2.44-2.64-.55-.51-2.44 2.64zM441.99 742.71l2.44-2.64-.55-.51-2.44 2.64zM446.06 738.31l2.44-2.64-.55-.51-2.44 2.64zM450.14 733.9l2.44-2.64-.55-.51-2.44 2.64zM454.21 729.49l2.44-2.64-.55-.51-2.44 2.64zM458.28 725.09l2.44-2.64-.55-.51-2.44 2.64zM462.35 720.68l2.44-2.64-.55-.51-2.44 2.64zM466.42 716.27l2.44-2.64-.55-.51-2.44 2.64zM470.5 711.87l2.44-2.64-.55-.51-2.44 2.64zM474.57 707.46l2.44-2.64-.55-.51-2.44 2.64zM478.64 703.05l2.44-2.64-.55-.51-2.44 2.64zM482.71 698.65l2.44-2.64-.55-.51-2.44 2.64zM486.79 694.24l2.44-2.64-.55-.51-2.44 2.64zM490.86 689.84l2.44-2.64-.55-.51-2.44 2.64zM494.93 685.43l2.44-2.64-.55-.51-2.44 2.64zM499 681.02l2.44-2.64-.55-.51-2.44 2.64zM503.08 676.62l2.44-2.64-.55-.51-2.44 2.64zM507.15 672.21l2.44-2.64-.55-.51-2.44 2.64zM511.22 667.8l2.44-2.64-.55-.51-2.44 2.64zM515.29 663.4l2.44-2.64-.55-.51-2.44 2.64zM519.36 658.99l2.44-2.64-.55-.51-2.44 2.64zM523.44 654.58l2.44-2.64-.55-.51-2.44 2.64zM527.36 650.01l2.15-2.87-.6-.45-2.15 2.87zM530.96 645.21l2.15-2.87-.6-.45-2.15 2.87zM534.56 640.41l2.15-2.87-.6-.45-2.15 2.87zM538.16 635.61l2.15-2.87-.6-.45-2.15 2.87zM541.76 630.81l2.15-2.87-.6-.45-2.15 2.87zM545.36 626.01l2.15-2.87-.6-.45-2.15 2.87zM548.96 621.21l2.15-2.87-.6-.45-2.15 2.87zM552.56 616.4l2.15-2.87-.6-.45-2.15 2.87zM556.16 611.6l2.15-2.87-.6-.45-2.15 2.87zM559.76 606.8l2.15-2.87-.6-.45-2.15 2.87zM563.36 602l2.15-2.87-.6-.45-2.15 2.87zM566.96 597.2l2.15-2.87-.6-.45-2.15 2.87zM570.56 592.4l2.15-2.87-.6-.45-2.15 2.87zM574.16 587.6l2.15-2.87-.6-.45-2.15 2.87zM577.76 582.8l2.15-2.87-.6-.45-2.15 2.87zM581.36 578l2.15-2.87-.6-.45-2.15 2.87zM584.96 573.2l2.15-2.87-.6-.45-2.15 2.87zM588.56 568.4l2.15-2.87-.6-.45-2.15 2.87zM592.15 563.6l2.15-2.87-.6-.45-2.15 2.87zM595.75 558.8l2.15-2.87-.6-.45-2.15 2.87zM599.35 554l2.15-2.87-.6-.45-2.15 2.87zM602.95 549.2l2.15-2.87-.6-.45-2.15 2.87zM606.55 544.4l2.15-2.87-.6-.45-2.15 2.87zM610.15 539.6l2.15-2.87-.6-.45-2.15 2.87zM613.75 534.8l2.15-2.87-.6-.45-2.15 2.87zM617.35 530l2.15-2.87-.6-.45-2.15 2.87zM620.95 525.2l2.15-2.87-.6-.45-2.15 2.87zM624.55 520.4l2.15-2.87-.6-.45-2.15 2.87zM628.15 515.6l2.15-2.87-.6-.45-2.15 2.87zM631.75 510.8l2.15-2.87-.6-.45-2.15 2.87zM635.35 506l2.15-2.87-.6-.45-2.15 2.87zM638.95 501.2l2.15-2.87-.6-.45-2.15 2.87zM642.55 496.4l2.15-2.87-.6-.45-2.15 2.87zM646.15 491.59l2.15-2.87-.6-.45-2.15 2.87zM648.27 488.76l0 0-.53-.53 0 0zM649.96 487.04l2.52-2.56-.53-.53-2.52 2.56zM654.17 482.77l2.52-2.56-.53-.53-2.52 2.56zM658.38 478.49l2.52-2.56-.53-.53-2.52 2.56zM662.58 474.21l2.52-2.56-.53-.53-2.52 2.56zM666.79 469.94l2.52-2.56-.53-.53-2.52 2.56zM671 465.66l2.52-2.56-.53-.53-2.52 2.56zM675.21 461.38l2.52-2.56-.53-.53-2.52 2.56zM679.42 457.11l2.52-2.56-.53-.53-2.52 2.56zM683.63 452.83l2.52-2.56-.53-.53-2.52 2.56zM687.83 448.55l2.52-2.56-.53-.53-2.52 2.56zM692.04 444.28l2.52-2.56-.53-.53-2.52 2.56zM696.25 440l2.52-2.56-.53-.53-2.52 2.56zM700.46 435.72l2.52-2.56-.53-.53-2.52 2.56zM704.67 431.45l2.52-2.56-.53-.53-2.52 2.56zM708.88 427.17l2.52-2.56-.53-.53-2.52 2.56zM713.09 422.89l2.52-2.56-.53-.53-2.52 2.56zM717.29 418.62l2.52-2.56-.53-.53-2.52 2.56zM721.5 414.34l2.52-2.56-.53-.53-2.52 2.56zM725.71 410.06l2.52-2.56-.53-.53-2.52 2.56zM729.92 405.79l2.52-2.56-.53-.53-2.52 2.56zM734.13 401.51l2.52-2.56-.53-.53-2.52 2.56zM738.34 397.24l2.52-2.56-.53-.53-2.52 2.56zM742.54 392.96l2.52-2.56-.53-.53-2.52 2.56zM746.75 388.68l2.52-2.56-.53-.53-2.52 2.56zM750.96 384.41l2.52-2.56-.53-.53-2.52 2.56zM755.17 380.13l2.52-2.56-.53-.53-2.52 2.56zM759.38 375.85l2.52-2.56-.53-.53-2.52 2.56zM763.59 371.58l2.52-2.56-.53-.53-2.52 2.56zM767.8 367.3l2.52-2.56-.53-.53-2.52 2.56zM771.84 362.82l2.2-2.83-.59-.46-2.2 2.83zM775.53 358.09l2.2-2.83-.59-.46-2.2 2.83zM779.21 353.35l2.2-2.83-.59-.46-2.2 2.83zM782.9 348.62l2.2-2.83-.59-.46-2.2 2.83zM786.58 343.88l2.2-2.83-.59-.46-2.2 2.83zM790.27 339.15l2.2-2.83-.59-.46-2.2 2.83zM793.95 334.41l2.2-2.83-.59-.46-2.2 2.83zM797.63 329.68l2.2-2.83-.59-.46-2.2 2.83zM801.32 324.94l2.2-2.83-.59-.46-2.2 2.83zM805 320.2l2.2-2.83-.59-.46-2.2 2.83zM808.69 315.47l2.2-2.83-.59-.46-2.2 2.83zM812.37 310.73l2.2-2.83-.59-.46-2.2 2.83zM816.06 306l2.2-2.83-.59-.46-2.2 2.83zM819.74 301.26l2.2-2.83-.59-.46-2.2 2.83zM823.42 296.53l2.2-2.83-.59-.46-2.2 2.83zM827.11 291.79l2.2-2.83-.59-.46-2.2 2.83zM830.79 287.05l2.2-2.83-.59-.46-2.2 2.83zM834.48 282.32l2.2-2.83-.59-.46-2.2 2.83zM838.16 277.58l2.2-2.83-.59-.46-2.2 2.83zM841.84 272.85l2.2-2.83-.59-.46-2.2 2.83zM845.53 268.11l2.2-2.83-.59-.46-2.2 2.83zM849.21 263.38l2.2-2.83-.59-.46-2.2 2.83zM852.9 258.64l2.2-2.83-.59-.46-2.2 2.83zM856.58 253.91l2.2-2.83-.59-.46-2.2 2.83zM860.27 249.17l2.2-2.83-.59-.46-2.2 2.83zM863.95 244.43l2.2-2.83-.59-.46-2.2 2.83zM867.63 239.7l2.2-2.83-.59-.46-2.2 2.83zM871.32 234.96l2.2-2.83-.59-.46-2.2 2.83zM875 230.23l2.2-2.83-.59-.46-2.2 2.83zM878.69 225.49l2.2-2.83-.59-.46-2.2 2.83zM882.37 220.76l2.2-2.83-.59-.46-2.2 2.83zM886.06 216.02l2.2-2.83-.59-.46-2.2 2.83zM889.74 211.28l2.2-2.83-.59-.46-2.2 2.83zM893.45 206.59l2.32-2.74-.57-.49-2.32 2.74zM897.33 202.02l2.32-2.74-.57-.49-2.32 2.74zM901.21 197.44l2.32-2.74-.57-.49-2.32 2.74zM905.09 192.86l2.32-2.74-.57-.49-2.32 2.74zM908.98 188.29l2.32-2.74-.57-.49-2.32 2.74zM912.86 183.71l2.32-2.74-.57-.49-2.32 2.74zM916.74 179.14l2.32-2.74-.57-.49-2.32 2.74zM920.62 174.56l2.32-2.74-.57-.49-2.32 2.74zM924.5 169.99l2.32-2.74-.57-.49-2.32 2.74zM928.38 165.41l2.32-2.74-.57-.49-2.32 2.74zM932.26 160.83l2.32-2.74-.57-.49-2.32 2.74zM936.14 156.26l2.32-2.74-.57-.49-2.32 2.74zM940.02 151.68l2.32-2.74-.57-.49-2.32 2.74zM943.9 147.11l2.32-2.74-.57-.49-2.32 2.74zM947.79 142.53l2.32-2.74-.57-.49-2.32 2.74zM951.67 137.95l2.32-2.74-.57-.49-2.32 2.74zM955.55 133.38l2.32-2.74-.57-.49-2.32 2.74zM959.43 128.8l2.32-2.74-.57-.49-2.32 2.74zM963.31 124.23l2.32-2.74-.57-.49-2.32 2.74zM967.19 119.65l2.32-2.74-.57-.49-2.32 2.74zM971.07 115.08l2.32-2.74-.57-.49-2.32 2.74zM974.95 110.5l2.32-2.74-.57-.49-2.32 2.74zM978.83 105.92l2.32-2.74-.57-.49-2.32 2.74zM982.72 101.35l2.32-2.74-.57-.49-2.32 2.74zM986.6 96.77l2.32-2.74-.57-.49-2.32 2.74zM990.48 92.2l2.32-2.74-.57-.49-2.32 2.74zM994.36 87.62l2.32-2.74-.57-.49-2.32 2.74zM998.24 83.05l2.32-2.74-.57-.49-2.32 2.74zM1002.12 78.47l2.32-2.74-.57-.49-2.32 2.74zM1006 73.89l2.32-2.74-.57-.49-2.32 2.74zM1009.88 69.32l2.32-2.74-.57-.49-2.32 2.74zM1013.76 64.74l1.19-1.4-.57-.49-1.19 1.4zM1014.67 63.48l1.75 0 0-.75-1.75 0zM1018.83 63.48l3.59 0 0-.75-3.59 0zM1024.83 63.48l3.59 0 0-.75-3.59 0zM1030.83 63.48l3.59 0 0-.75-3.59 0zM1036.83 63.48l3.59 0 0-.75-3.59 0zM1042.83 63.48l3.59 0 0-.75-3.59 0zM1048.83 63.48l3.59 0 0-.75-3.59 0zM1054.83 63.48l3.59 0 0-.75-3.59 0zM1060.83 63.48l3.59 0 0-.75-3.59 0zM1066.83 63.48l3.59 0 0-.75-3.59 0zM1072.83 63.48l3.59 0 0-.75-3.59 0zM1078.83 63.48l3.59 0 0-.75-3.59 0zM1084.83 63.48l3.59 0 0-.75-3.59 0zM1090.83 63.48l3.59 0 0-.75-3.59 0zM1096.83 63.48l3.59 0 0-.75-3.59 0zM1102.83 63.48l3.59 0 0-.75-3.59 0zM1108.83 63.48l3.59 0 0-.75-3.59 0zM1114.83 63.48l3.59 0 0-.75-3.59 0zM1120.83 63.48l3.59 0 0-.75-3.59 0zM1126.83 63.48l3.59 0 0-.75-3.59 0zM1132.83 63.48l3.59 0 0-.75-3.59 0z"/>
<path fill="#FF0000" d="M159.23 1029.88l.18-.23-.59-.46-.18 .23zM159.41 1029.65l.64-.83-.59-.46-.64 .83zM161.06 1027.5l.82-1.06-.59-.46-.82 1.06zM162.89 1025.12l.82-1.06-.59-.46-.82 1.06zM164.71 1022.75l.82-1.06-.59-.46-.82 1.06zM166.54 1020.37l.82-1.06-.59-.46-.82 1.06zM168.37 1017.99l.82-1.06-.59-.46-.82 1.06zM170.2 1015.61l.82-1.06-.59-.46-.82 1.06zM172.03 1013.23l.82-1.06-.59-.46-.82 1.06zM173.86 1010.86l.82-1.06-.59-.46-.82 1.06zM175.69 1008.48l.82-1.06-.59-.46-.82 1.06zM177.52 1006.1l.82-1.06-.59-.46-.82 1.06zM179.35 1003.72l.82-1.06-.59-.46-.82 1.06zM181.17 1001.34l.82-1.06-.59-.46-.82 1.06zM183 998.97l.82-1.06-.59-.46-.82 1.06zM184.83 996.59l.82-1.06-.59-.46-.82 1.06zM186.66 994.21l.82-1.06-.59-.46-.82 1.06zM188.49 991.83l.82-1.06-.59-.46-.82 1.06zM190.32 989.45l.82-1.06-.59-.46-.82 1.06zM192.15 987.08l.82-1.06-.59-.46-.82 1.06zM193.98 984.7l.82-1.06-.59-.46-.82 1.06zM195.81 982.32l.82-1.06-.59-.46-.82 1.06zM197.63 979.94l.82-1.06-.59-.46-.82 1.06zM199.46 977.56l.82-1.06-.59-.46-.82 1.06zM201.29 975.19l.82-1.06-.59-.46-.82 1.06zM203.12 972.81l.82-1.06-.59-.46-.82 1.06zM204.95 970.43l.82-1.06-.59-.46-.82 1.06zM206.78 968.05l.82-1.06-.59-.46-.82 1.06zM208.61 965.67l.82-1.06-.59-.46-.82 1.06zM210.44 963.3l.82-1.06-.59-.46-.82 1.06zM212.27 960.92l.82-1.06-.59-.46-.82 1.06zM214.1 958.54l.82-1.06-.59-.46-.82 1.06zM215.92 956.16l.82-1.06-.59-.46-.82 1.06zM217.75 953.78l.82-1.06-.59-.46-.82 1.06zM219.58 951.41l.82-1.06-.59-.46-.82 1.06zM221.41 949.03l.82-1.06-.59-.46-.82 1.06zM223.24 946.65l.82-1.06-.59-.46-.82 1.06zM225.07 944.27l.82-1.06-.59-.46-.82 1.06zM226.9 941.89l.82-1.06-.59-.46-.82 1.06zM228.73 939.52l.82-1.06-.59-.46-.82 1.06zM230.56 937.14l.82-1.06-.59-.46-.82 1.06zM232.38 934.76l.82-1.06-.59-.46-.82 1.06zM234.21 932.38l.82-1.06-.59-.46-.82 1.06zM236.04 930l.82-1.06-.59-.46-.82 1.06zM237.87 927.62l.82-1.06-.59-.46-.82 1.06zM239.7 925.25l.82-1.06-.59-.46-.82 1.06zM241.53 922.87l.82-1.06-.59-.46-.82 1.06zM243.36 920.49l.82-1.06-.59-.46-.82 1.06zM245.19 918.11l.82-1.06-.59-.46-.82 1.06zM247.02 915.73l.82-1.06-.59-.46-.82 1.06zM248.84 913.36l.82-1.06-.59-.46-.82 1.06zM250.67 910.98l.82-1.06-.59-.46-.82 1.06zM252.5 908.6l.82-1.06-.59-.46-.82 1.06zM254.33 906.22l.82-1.06-.59-.46-.82 1.06zM256.16 903.84l.82-1.06-.59-.46-.82 1.06zM257.99 901.47l.82-1.06-.59-.46-.82 1.06zM259.82 899.09l.82-1.06-.59-.46-.82 1.06zM261.65 896.71l.82-1.06-.59-.46-.82 1.06zM263.48 894.33l.82-1.06-.59-.46-.82 1.06zM265.3 891.95l.82-1.06-.59-.46-.82 1.06zM267.13 889.58l.82-1.06-.59-.46-.82 1.06zM268.96 887.2l.82-1.06-.59-.46-.82 1.06zM270.79 884.82l.82-1.06-.59-.46-.82 1.06zM272.62 882.44l.82-1.06-.59-.46-.82 1.06zM274.45 880.06l.82-1.06-.59-.46-.82 1.06zM276.28 877.69l.82-1.06-.59-.46-.82 1.06zM278.11 875.31l.82-1.06-.59-.46-.82 1.06zM279.94 872.93l.82-1.06-.59-.46-.82 1.06zM281.72 870.7l1.13-.72-.4-.63-1.13 .72zM284.25 869.09l1.13-.72-.4-.63-1.13 .72zM286.78 867.48l1.13-.72-.4-.63-1.13 .72zM289.32 865.87l1.13-.72-.4-.63-1.13 .72zM291.85 864.26l1.13-.72-.4-.63-1.13 .72zM294.38 862.65l1.13-.72-.4-.63-1.13 .72zM296.91 861.04l1.13-.72-.4-.63-1.13 .72zM299.44 859.43l1.13-.72-.4-.63-1.13 .72zM301.97 857.82l1.13-.72-.4-.63-1.13 .72zM304.5 856.2l1.13-.72-.4-.63-1.13 .72zM307.03 854.59l1.13-.72-.4-.63-1.13 .72zM309.56 852.98l1.13-.72-.4-.63-1.13 .72zM312.1 851.37l1.13-.72-.4-.63-1.13 .72zM314.63 849.76l1.13-.72-.4-.63-1.13 .72zM317.16 848.15l1.13-.72-.4-.63-1.13 .72zM319.69 846.54l1.13-.72-.4-.63-1.13 .72zM322.22 844.93l1.13-.72-.4-.63-1.13 .72zM324.75 843.32l1.13-.72-.4-.63-1.13 .72zM327.28 841.71l1.13-.72-.4-.63-1.13 .72zM329.81 840.1l1.13-.72-.4-.63-1.13 .72zM332.35 838.49l1.13-.72-.4-.63-1.13 .72zM334.88 836.88l1.13-.72-.4-.63-1.13 .72zM337.41 835.27l1.13-.72-.4-.63-1.13 .72zM339.94 833.66l1.13-.72-.4-.63-1.13 .72zM342.47 832.05l1.13-.72-.4-.63-1.13 .72zM345 830.44l1.13-.72-.4-.63-1.13 .72zM347.53 828.83l1.13-.72-.4-.63-1.13 .72zM350.06 827.22l1.13-.72-.4-.63-1.13 .72zM352.6 825.61l1.13-.72-.4-.63-1.13 .72zM355.13 824l1.13-.72-.4-.63-1.13 .72zM357.66 822.39l1.13-.72-.4-.63-1.13 .72zM360.19 820.78l1.13-.72-.4-.63-1.13 .72zM362.72 819.17l1.13-.72-.4-.63-1.13 .72zM365.25 817.56l1.13-.72-.4-.63-1.13 .72zM367.78 815.95l1.13-.72-.4-.63-1.13 .72zM370.31 814.34l1.13-.72-.4-.63-1.13 .72zM372.85 812.73l1.13-.72-.4-.63-1.13 .72zM375.38 811.12l1.13-.72-.4-.63-1.13 .72zM377.91 809.51l1.13-.72-.4-.63-1.13 .72zM380.44 807.9l1.13-.72-.4-.63-1.13 .72zM382.97 806.29l1.13-.72-.4-.63-1.13 .72zM385.5 804.68l1.13-.72-.4-.63-1.13 .72zM388.03 803.07l1.13-.72-.4-.63-1.13 .72zM390.56 801.46l1.13-.72-.4-.63-1.13 .72zM393.1 799.85l1.13-.72-.4-.63-1.13 .72zM395.63 798.24l1.13-.72-.4-.63-1.13 .72zM398.16 796.63l1.13-.72-.4-.63-1.13 .72zM400.69 795.02l1.13-.72-.4-.63-1.13 .72zM403.22 793.41l.53-.34-.4-.63-.53 .34zM403.83 793.01l.48-.51-.55-.51-.48 .51zM405.45 791.28l.92-.98-.55-.51-.92 .98zM407.51 789.1l.92-.98-.55-.51-.92 .98zM409.56 786.92l.92-.98-.55-.51-.92 .98zM411.62 784.73l.92-.98-.55-.51-.92 .98zM413.68 782.55l.92-.98-.55-.51-.92 .98zM415.74 780.37l.92-.98-.55-.51-.92 .98zM417.79 778.18l.92-.98-.55-.51-.92 .98zM419.85 776l.92-.98-.55-.51-.92 .98zM421.91 773.81l.92-.98-.55-.51-.92 .98zM423.96 771.63l.92-.98-.55-.51-.92 .98zM426.02 769.45l.92-.98-.55-.51-.92 .98zM428.08 767.26l.92-.98-.55-.51-.92 .98zM430.13 765.08l.92-.98-.55-.51-.92 .98zM432.19 762.9l.92-.98-.55-.51-.92 .98zM434.25 760.71l.92-.98-.55-.51-.92 .98zM436.31 758.53l.92-.98-.55-.51-.92 .98zM438.36 756.35l.92-.98-.55-.51-.92 .98zM440.42 754.16l.92-.98-.55-.51-.92 .98zM442.48 751.98l.92-.98-.55-.51-.92 .98zM444.53 749.79l.92-.98-.55-.51-.92 .98zM446.59 747.61l.92-.98-.55-.51-.92 .98zM448.65 745.43l.92-.98-.55-.51-.92 .98zM450.7 743.24l.92-.98-.55-.51-.92 .98zM452.76 741.06l.92-.98-.55-.51-.92 .98zM454.82 738.88l.92-.98-.55-.51-.92 .98zM456.88 736.69l.92-.98-.55-.51-.92 .98zM458.93 734.51l.92-.98-.55-.51-.92 .98zM460.99 732.32l.92-.98-.55-.51-.92 .98zM463.05 730.14l.92-.98-.55-.51-.92 .98zM465.1 727.96l.92-.98-.55-.51-.92 .98zM467.16 725.77l.92-.98-.55-.51-.92 .98zM469.22 723.59l.92-.98-.55-.51-.92 .98zM471.27 721.41l.92-.98-.55-.51-.92 .98zM473.33 719.22l.92-.98-.55-.51-.92 .98zM475.39 717.04l.92-.98-.55-.51-.92 .98zM477.45 714.85l.92-.98-.55-.51-.92 .98zM479.5 712.67l.92-.98-.55-.51-.92 .98zM481.56 710.49l.92-.98-.55-.51-.92 .98zM483.62 708.3l.92-.98-.55-.51-.92 .98zM485.67 706.12l.92-.98-.55-.51-.92 .98zM487.73 703.94l.92-.98-.55-.51-.92 .98zM489.79 701.75l.92-.98-.55-.51-.92 .98zM491.85 699.57l.92-.98-.55-.51-.92 .98zM493.9 697.38l.92-.98-.55-.51-.92 .98zM495.96 695.2l.92-.98-.55-.51-.92 .98zM498.02 693.02l.92-.98-.55-.51-.92 .98zM500.07 690.83l.92-.98-.55-.51-.92 .98zM502.13 688.65l.92-.98-.55-.51-.92 .98zM504.19 686.47l.92-.98-.55-.51-.92 .98zM506.24 684.28l.92-.98-.55-.51-.92 .98zM508.3 682.1l.92-.98-.55-.51-.92 .98zM510.36 679.91l.92-.98-.55-.51-.92 .98zM512.42 677.73l.92-.98-.55-.51-.92 .98zM514.47 675.55l.92-.98-.55-.51-.92 .98zM516.53 673.36l.92-.98-.55-.51-.92 .98zM518.59 671.18l.92-.98-.55-.51-.92 .98zM520.64 669l.92-.98-.55-.51-.92 .98zM522.7 666.81l.92-.98-.55-.51-.92 .98zM524.76 664.63l.92-.98-.55-.51-.92 .98zM526.76 662.35l.82-1.06-.59-.46-.82 1.06zM528.6 659.98l.82-1.06-.59-.46-.82 1.06zM530.45 657.62l.82-1.06-.59-.46-.82 1.06zM532.29 655.25l.82-1.06-.59-.46-.82 1.06zM534.14 652.89l.82-1.06-.59-.46-.82 1.06zM535.98 650.52l.82-1.06-.59-.46-.82 1.06zM537.82 648.15l.82-1.06-.59-.46-.82 1.06zM539.67 645.79l.82-1.06-.59-.46-.82 1.06zM541.51 643.42l.82-1.06-.59-.46-.82 1.06zM543.36 641.06l.82-1.06-.59-.46-.82 1.06zM545.2 638.69l.82-1.06-.59-.46-.82 1.06zM547.05 636.32l.82-1.06-.59-.46-.82 1.06zM548.89 633.96l.82-1.06-.59-.46-.82 1.06zM550.73 631.59l.82-1.06-.59-.46-.82 1.06zM552.58 629.23l.82-1.06-.59-.46-.82 1.06zM554.42 626.86l.82-1.06-.59-.46-.82 1.06zM556.27 624.49l.82-1.06-.59-.46-.82 1.06zM558.11 622.13l.82-1.06-.59-.46-.82 1.06zM559.96 619.76l.82-1.06-.59-.46-.82 1.06zM561.8 617.39l.82-1.06-.59-.46-.82 1.06zM563.64 615.03l.82-1.06-.59-.46-.82 1.06zM565.49 612.66l.82-1.06-.59-.46-.82 1.06zM567.33 610.3l.82-1.06-.59-.46-.82 1.06zM569.18 607.93l.82-1.06-.59-.46-.82 1.06zM571.02 605.56l.82-1.06-.59-.46-.82 1.06zM572.87 603.2l.82-1.06-.59-.46-.82 1.06zM574.71 600.83l.82-1.06-.59-.46-.82 1.06zM576.56 598.47l.82-1.06-.59-.46-.82 1.06zM578.4 596.1l.82-1.06-.59-.46-.82 1.06zM580.24 593.73l.82-1.06-.59-.46-.82 1.06zM582.09 591.37l.82-1.06-.59-.46-.82 1.06zM583.93 589l.82-1.06-.59-.46-.82 1.06zM585.78 586.64l.82-1.06-.59-.46-.82 1.06zM587.62 584.27l.82-1.06-.59-.46-.82 1.06zM589.47 581.9l.82-1.06-.59-.46-.82 1.06zM591.31 579.54l.82-1.06-.59-.46-.82 1.06zM593.15 577.17l.82-1.06-.59-.46-.82 1.06zM595 574.8l.82-1.06-.59-.46-.82 1.06zM596.84 572.44l.82-1.06-.59-.46-.82 1.06zM598.69 570.07l.82-1.06-.59-.46-.82 1.06zM600.53 567.71l.82-1.06-.59-.46-.82 1.06zM602.38 565.34l.82-1.06-.59-.46-.82 1.06zM604.22 562.97l.82-1.06-.59-.46-.82 1.06zM606.06 560.61l.82-1.06-.59-.46-.82 1.06zM607.91 558.24l.82-1.06-.59-.46-.82 1.06zM609.75 555.88l.82-1.06-.59-.46-.82 1.06zM611.6 553.51l.82-1.06-.59-.46-.82 1.06zM613.44 551.14l.82-1.06-.59-.46-.82 1.06zM615.29 548.78l.82-1.06-.59-.46-.82 1.06zM617.13 546.41l.82-1.06-.59-.46-.82 1.06zM618.97 544.05l.82-1.06-.59-.46-.82 1.06zM620.82 541.68l.82-1.06-.59-.46-.82 1.06zM622.66 539.31l.82-1.06-.59-.46-.82 1.06zM624.51 536.95l.82-1.06-.59-.46-.82 1.06zM626.35 534.58l.82-1.06-.59-.46-.82 1.06zM628.2 532.21l.82-1.06-.59-.46-.82 1.06zM630.04 529.85l.82-1.06-.59-.46-.82 1.06zM631.88 527.48l.82-1.06-.59-.46-.82 1.06zM633.73 525.12l.82-1.06-.59-.46-.82 1.06zM635.57 522.75l.82-1.06-.59-.46-.82 1.06zM637.42 520.38l.82-1.06-.59-.46-.82 1.06zM639.26 518.02l.82-1.06-.59-.46-.82 1.06zM641.11 515.65l.82-1.06-.59-.46-.82 1.06zM642.95 513.29l.82-1.06-.59-.46-.82 1.06zM644.8 510.92l.82-1.06-.59-.46-.82 1.06zM646.64 508.55l.82-1.06-.59-.46-.82 1.06zM648.48 506.25l.95-.94-.53-.53-.95 .94zM650.62 504.14l.95-.94-.53-.53-.95 .94zM652.75 502.04l.95-.94-.53-.53-.95 .94zM654.89 499.93l.95-.94-.53-.53-.95 .94zM657.02 497.82l.95-.94-.53-.53-.95 .94zM659.16 495.72l.95-.94-.53-.53-.95 .94zM661.29 493.61l.95-.94-.53-.53-.95 .94zM663.43 491.5l.95-.94-.53-.53-.95 .94zM665.56 489.39l.95-.94-.53-.53-.95 .94zM667.7 487.29l.95-.94-.53-.53-.95 .94zM669.84 485.18l.95-.94-.53-.53-.95 .94zM671.97 483.07l.95-.94-.53-.53-.95 .94zM674.11 480.97l.95-.94-.53-.53-.95 .94zM676.24 478.86l.95-.94-.53-.53-.95 .94zM678.38 476.75l.95-.94-.53-.53-.95 .94zM680.51 474.64l.95-.94-.53-.53-.95 .94zM682.65 472.54l.95-.94-.53-.53-.95 .94zM684.78 470.43l.95-.94-.53-.53-.95 .94zM686.92 468.32l.95-.94-.53-.53-.95 .94zM689.05 466.22l.95-.94-.53-.53-.95 .94zM691.19 464.11l.95-.94-.53-.53-.95 .94zM693.33 462l.95-.94-.53-.53-.95 .94zM695.46 459.89l.95-.94-.53-.53-.95 .94zM697.6 457.79l.95-.94-.53-.53-.95 .94zM699.73 455.68l.95-.94-.53-.53-.95 .94zM701.87 453.57l.95-.94-.53-.53-.95 .94zM704 451.47l.95-.94-.53-.53-.95 .94zM706.14 449.36l.95-.94-.53-.53-.95 .94zM708.27 447.25l.95-.94-.53-.53-.95 .94zM710.41 445.14l.95-.94-.53-.53-.95 .94zM712.54 443.04l.95-.94-.53-.53-.95 .94zM714.68 440.93l.95-.94-.53-.53-.95 .94zM716.82 438.82l.95-.94-.53-.53-.95 .94zM718.95 436.72l.95-.94-.53-.53-.95 .94zM721.09 434.61l.95-.94-.53-.53-.95 .94zM723.22 432.5l.95-.94-.53-.53-.95 .94zM725.36 430.4l.95-.94-.53-.53-.95 .94zM727.49 428.29l.95-.94-.53-.53-.95 .94zM729.63 426.18l.95-.94-.53-.53-.95 .94zM731.76 424.07l.95-.94-.53-.53-.95 .94zM733.9 421.97l.95-.94-.53-.53-.95 .94zM736.03 419.86l.95-.94-.53-.53-.95 .94zM738.17 417.75l.95-.94-.53-.53-.95 .94zM740.31 415.65l.95-.94-.53-.53-.95 .94zM742.44 413.54l.95-.94-.53-.53-.95 .94zM744.58 411.43l.95-.94-.53-.53-.95 .94zM746.71 409.32l.95-.94-.53-.53-.95 .94zM748.85 407.22l.95-.94-.53-.53-.95 .94zM750.98 405.11l.95-.94-.53-.53-.95 .94zM753.12 403l.95-.94-.53-.53-.95 .94zM755.25 400.9l.95-.94-.53-.53-.95 .94zM757.39 398.79l.95-.94-.53-.53-.95 .94zM759.52 396.68l.95-.94-.53-.53-.95 .94zM761.66 394.57l.95-.94-.53-.53-.95 .94zM763.8 392.47l.95-.94-.53-.53-.95 .94zM765.93 390.36l.95-.94-.53-.53-.95 .94zM768.07 388.25l.95-.94-.53-.53-.95 .94zM770.2 386.15l.28-.28-.53-.53-.28 .28zM770.51 385.83l.59-.74-.59-.47-.59 .74zM772.14 383.8l.84-1.05-.59-.47-.84 1.05zM774.01 381.46l.84-1.05-.59-.47-.84 1.05zM775.89 379.12l.84-1.05-.59-.47-.84 1.05zM777.76 376.77l.84-1.05-.59-.47-.84 1.05zM779.64 374.43l.84-1.05-.59-.47-.84 1.05zM781.51 372.09l.84-1.05-.59-.47-.84 1.05zM783.38 369.75l.84-1.05-.59-.47-.84 1.05zM785.26 367.4l.84-1.05-.59-.47-.84 1.05zM787.13 365.06l.84-1.05-.59-.47-.84 1.05zM789 362.72l.84-1.05-.59-.47-.84 1.05zM790.88 360.37l.84-1.05-.59-.47-.84 1.05zM792.75 358.03l.84-1.05-.59-.47-.84 1.05zM794.63 355.69l.84-1.05-.59-.47-.84 1.05zM796.5 353.35l.84-1.05-.59-.47-.84 1.05zM798.37 351l.84-1.05-.59-.47-.84 1.05zM800.25 348.66l.84-1.05-.59-.47-.84 1.05zM802.12 346.32l.84-1.05-.59-.47-.84 1.05zM804 343.98l.84-1.05-.59-.47-.84 1.05zM805.87 341.63l.84-1.05-.59-.47-.84 1.05zM807.74 339.29l.84-1.05-.59-.47-.84 1.05zM809.62 336.95l.84-1.05-.59-.47-.84 1.05zM811.49 334.6l.84-1.05-.59-.47-.84 1.05zM813.37 332.26l.84-1.05-.59-.47-.84 1.05zM815.24 329.92l.84-1.05-.59-.47-.84 1.05zM817.11 327.58l.84-1.05-.59-.47-.84 1.05zM818.99 325.23l.84-1.05-.59-.47-.84 1.05zM820.86 322.89l.84-1.05-.59-.47-.84 1.05zM822.74 320.55l.84-1.05-.59-.47-.84 1.05zM824.61 318.2l.84-1.05-.59-.47-.84 1.05zM826.48 315.86l.84-1.05-.59-.47-.84 1.05zM828.36 313.52l.84-1.05-.59-.47-.84 1.05zM830.23 311.18l.84-1.05-.59-.47-.84 1.05zM832.11 308.83l.84-1.05-.59-.47-.84 1.05zM833.98 306.49l.84-1.05-.59-.47-.84 1.05zM835.85 304.15l.84-1.05-.59-.47-.84 1.05zM837.73 301.81l.84-1.05-.59-.47-.84 1.05zM839.6 299.46l.84-1.05-.59-.47-.84 1.05zM841.47 297.12l.84-1.05-.59-.47-.84 1.05zM843.35 294.78l.84-1.05-.59-.47-.84 1.05zM845.22 292.43l.84-1.05-.59-.47-.84 1.05zM847.1 290.09l.84-1.05-.59-.47-.84 1.05zM848.97 287.75l.84-1.05-.59-.47-.84 1.05zM850.84 285.41l.84-1.05-.59-.47-.84 1.05zM852.72 283.06l.84-1.05-.59-.47-.84 1.05zM854.59 280.72l.84-1.05-.59-.47-.84 1.05zM856.47 278.38l.84-1.05-.59-.47-.84 1.05zM858.34 276.04l.84-1.05-.59-.47-.84 1.05zM860.21 273.69l.84-1.05-.59-.47-.84 1.05zM862.09 271.35l.84-1.05-.59-.47-.84 1.05zM863.96 269.01l.84-1.05-.59-.47-.84 1.05zM865.84 266.66l.84-1.05-.59-.47-.84 1.05zM867.71 264.32l.84-1.05-.59-.47-.84 1.05zM869.58 261.98l.84-1.05-.59-.47-.84 1.05zM871.46 259.64l.84-1.05-.59-.47-.84 1.05zM873.33 257.29l.84-1.05-.59-.47-.84 1.05zM875.21 254.95l.84-1.05-.59-.47-.84 1.05zM877.08 252.61l.84-1.05-.59-.47-.84 1.05zM878.95 250.27l.84-1.05-.59-.47-.84 1.05zM880.83 247.92l.84-1.05-.59-.47-.84 1.05zM882.7 245.58l.84-1.05-.59-.47-.84 1.05zM884.57 243.24l.84-1.05-.59-.47-.84 1.05zM886.45 240.89l.84-1.05-.59-.47-.84 1.05zM888.32 238.55l.84-1.05-.59-.47-.84 1.05zM890.2 236.21l.84-1.05-.59-.47-.84 1.05zM892.07 233.87l.67-.83-.59-.47-.67 .83zM892.73 233.04l.17-.21-.58-.48-.17 .21zM893.96 231.54l.85-1.04-.58-.48-.85 1.04zM895.86 229.22l.85-1.04-.58-.48-.85 1.04zM897.76 226.9l.85-1.04-.58-.48-.85 1.04zM899.66 224.58l.85-1.04-.58-.48-.85 1.04zM901.56 222.26l.85-1.04-.58-.48-.85 1.04zM903.46 219.93l.85-1.04-.58-.48-.85 1.04zM905.36 217.61l.85-1.04-.58-.48-.85 1.04zM907.26 215.29l.85-1.04-.58-.48-.85 1.04zM909.16 212.97l.85-1.04-.58-.48-.85 1.04zM911.06 210.65l.85-1.04-.58-.48-.85 1.04zM912.96 208.33l.85-1.04-.58-.48-.85 1.04zM914.86 206.01l.85-1.04-.58-.48-.85 1.04zM916.76 203.68l.85-1.04-.58-.48-.85 1.04zM918.66 201.36l.85-1.04-.58-.48-.85 1.04zM920.56 199.04l.85-1.04-.58-.48-.85 1.04zM922.46 196.72l.85-1.04-.58-.48-.85 1.04zM924.36 194.4l.85-1.04-.58-.48-.85 1.04zM926.26 192.08l.85-1.04-.58-.48-.85 1.04zM928.16 189.76l.85-1.04-.58-.48-.85 1.04zM930.07 187.43l.85-1.04-.58-.48-.85 1.04zM931.97 185.11l.85-1.04-.58-.48-.85 1.04zM933.87 182.79l.85-1.04-.58-.48-.85 1.04zM935.77 180.47l.85-1.04-.58-.48-.85 1.04zM937.67 178.15l.85-1.04-.58-.48-.85 1.04zM939.57 175.83l.85-1.04-.58-.48-.85 1.04zM941.47 173.51l.85-1.04-.58-.48-.85 1.04zM943.37 171.19l.85-1.04-.58-.48-.85 1.04zM945.27 168.86l.85-1.04-.58-.48-.85 1.04zM947.17 166.54l.85-1.04-.58-.48-.85 1.04zM949.07 164.22l.85-1.04-.58-.48-.85 1.04zM950.97 161.9l.85-1.04-.58-.48-.85 1.04zM952.87 159.58l.85-1.04-.58-.48-.85 1.04zM954.77 157.26l.85-1.04-.58-.48-.85 1.04zM956.67 154.94l.85-1.04-.58-.48-.85 1.04zM958.57 152.61l.85-1.04-.58-.48-.85 1.04zM960.47 150.29l.85-1.04-.58-.48-.85 1.04zM962.37 147.97l.85-1.04-.58-.48-.85 1.04zM964.27 145.65l.85-1.04-.58-.48-.85 1.04zM966.17 143.33l.85-1.04-.58-.48-.85 1.04zM968.07 141.01l.85-1.04-.58-.48-.85 1.04zM969.97 138.69l.85-1.04-.58-.48-.85 1.04zM971.87 136.37l.85-1.04-.58-.48-.85 1.04zM973.77 134.04l.85-1.04-.58-.48-.85 1.04zM975.67 131.72l.85-1.04-.58-.48-.85 1.04zM977.57 129.4l.85-1.04-.58-.48-.85 1.04zM979.47 127.08l.85-1.04-.58-.48-.85 1.04zM981.37 124.76l.85-1.04-.58-.48-.85 1.04zM983.27 122.44l.85-1.04-.58-.48-.85 1.04zM985.18 120.12l.85-1.04-.58-.48-.85 1.04zM987.08 117.79l.85-1.04-.58-.48-.85 1.04zM988.98 115.47l.85-1.04-.58-.48-.85 1.04zM990.88 113.15l.85-1.04-.58-.48-.85 1.04zM992.78 110.83l.85-1.04-.58-.48-.85 1.04zM994.68 108.51l.85-1.04-.58-.48-.85 1.04zM996.58 106.19l.85-1.04-.58-.48-.85 1.04zM998.48 103.87l.85-1.04-.58-.48-.85 1.04zM1000.38 101.54l.85-1.04-.58-.48-.85 1.04zM1002.28 99.22l.85-1.04-.58-.48-.85 1.04zM1004.18 96.9l.85-1.04-.58-.48-.85 1.04zM1006.08 94.58l.85-1.04-.58-.48-.85 1.04zM1007.98 92.26l.85-1.04-.58-.48-.85 1.04zM1009.88 89.94l.85-1.04-.58-.48-.85 1.04zM1011.78 87.62l.85-1.04-.58-.48-.85 1.04zM1013.68 85.3l.85-1.04-.58-.48-.85 1.04zM1015.65 83.88l1.34 0 0-.75-1.34 0zM1018.65 83.88l1.34 0 0-.75-1.34 0zM1021.65 83.88l1.34 0 0-.75-1.34 0zM1024.65 83.88l1.34 0 0-.75-1.34 0zM1027.65 83.88l1.34 0 0-.75-1.34 0zM1030.65 83.88l1.34 0 0-.75-1.34 0zM1033.65 83.88l1.34 0 0-.75-1.34 0zM1036.65 83.88l1.34 0 0-.75-1.34 0zM1039.65 83.88l1.34 0 0-.75-1.34 0zM1042.65 83.88l1.34 0 0-.75-1.34 0zM1045.65 83.88l1.34 0 0-.75-1.34 0zM1048.65 83.88l1.34 0 0-.75-1.34 0zM1051.65 83.88l1.34 0 0-.75-1.34 0zM1054.65 83.88l1.34 0 0-.75-1.34 0zM1057.65 83.88l1.34 0 0-.75-1.34 0zM1060.65 83.88l1.34 0 0-.75-1.34 0zM1063.65 83.88l1.34 0 0-.75-1.34 0zM1066.65 83.88l1.34 0 0-.75-1.34 0zM1069.65 83.88l1.34 0 0-.75-1.34 0zM1072.65 83.88l1.34 0 0-.75-1.34 0zM1075.65 83.88l1.34 0 0-.75-1.34 0zM1078.65 83.88l1.34 0 0-.75-1.34 0zM1081.65 83.88l1.34 0 0-.75-1.34 0zM1084.65 83.88l1.34 0 0-.75-1.34 0zM1087.65 83.88l1.34 0 0-.75-1.34 0zM1090.65 83.88l1.34 0 0-.75-1.34 0zM1093.65 83.88l1.34 0 0-.75-1.34 0zM1096.65 83.88l1.34 0 0-.75-1.34 0zM1099.65 83.88l1.34 0 0-.75-1.34 0zM1102.65 83.88l1.34 0 0-.75-1.34 0zM1105.65 83.88l1.34 0 0-.75-1.34 0zM1108.65 83.88l1.34 0 0-.75-1.34 0zM1111.65 83.88l1.34 0 0-.75-1.34 0zM1114.65 83.88l1.34 0 0-.75-1.34 0zM1117.65 83.88l1.34 0 0-.75-1.34 0zM1120.65 83.88l1.34 0 0-.75-1.34 0zM1123.65 83.88l1.34 0 0-.75-1.34 0zM1126.65 83.88l1.34 0 0-.75-1.34 0zM1129.65 83.88l1.34 0 0-.75-1.34 0zM1132.65 83.88l1.34 0 0-.75-1.34 0zM1136.89 83.88l.1 0 0-.75-.1 0zM1135.65 83.88l1.24 0 0-.75-1.24 0z"/>
<path fill="#00CD00" d="M159.22 1030.76l.19-.23-.58-.47-.19 .23zM159.4 1030.53l.66-.81-.58-.47-.66 .81zM161.11 1028.43l2.26-2.79-.58-.47-2.26 2.79zM164.42 1024.36l.84-1.04-.58-.47-.84 1.04zM166.31 1022.03l2.26-2.79-.58-.47-2.26 2.79zM169.62 1017.95l.84-1.04-.58-.47-.84 1.04zM171.51 1015.62l2.26-2.79-.58-.47-2.26 2.79zM174.81 1011.55l.84-1.04-.58-.47-.84 1.04zM176.71 1009.22l2.26-2.79-.58-.47-2.26 2.79zM180.01 1005.14l.84-1.04-.58-.47-.84 1.04zM181.91 1002.81l2.26-2.79-.58-.47-2.26 2.79zM185.21 998.74l.84-1.04-.58-.47-.84 1.04zM187.11 996.41l2.26-2.79-.58-.47-2.26 2.79zM190.41 992.33l.84-1.04-.58-.47-.84 1.04zM192.31 990l2.26-2.79-.58-.47-2.26 2.79zM195.61 985.93l.84-1.04-.58-.47-.84 1.04zM197.51 983.6l2.26-2.79-.58-.47-2.26 2.79zM200.81 979.52l.84-1.04-.58-.47-.84 1.04zM202.71 977.19l2.26-2.79-.58-.47-2.26 2.79zM206.01 973.12l.84-1.04-.58-.47-.84 1.04zM207.91 970.79l2.26-2.79-.58-.47-2.26 2.79zM211.21 966.71l.84-1.04-.58-.47-.84 1.04zM213.11 964.38l2.26-2.79-.58-.47-2.26 2.79zM216.41 960.31l.84-1.04-.58-.47-.84 1.04zM218.3 957.98l2.26-2.79-.58-.47-2.26 2.79zM221.61 953.9l.84-1.04-.58-.47-.84 1.04zM223.5 951.57l2.26-2.79-.58-.47-2.26 2.79zM226.81 947.5l.84-1.04-.58-.47-.84 1.04zM228.7 945.17l2.26-2.79-.58-.47-2.26 2.79zM232.01 941.09l.84-1.04-.58-.47-.84 1.04zM233.9 938.76l2.26-2.79-.58-.47-2.26 2.79zM237.21 934.69l.84-1.04-.58-.47-.84 1.04zM239.1 932.36l2.26-2.79-.58-.47-2.26 2.79zM242.41 928.28l.84-1.04-.58-.47-.84 1.04zM244.3 925.95l2.26-2.79-.58-.47-2.26 2.79zM247.61 921.88l.84-1.04-.58-.47-.84 1.04zM249.5 919.55l2.26-2.79-.58-.47-2.26 2.79zM252.81 915.47l.84-1.04-.58-.47-.84 1.04zM254.7 913.14l2.26-2.79-.58-.47-2.26 2.79zM258.01 909.07l.84-1.04-.58-.47-.84 1.04zM259.9 906.74l2.26-2.79-.58-.47-2.26 2.79zM263.21 902.66l.84-1.04-.58-.47-.84 1.04zM265.1 900.33l2.26-2.79-.58-.47-2.26 2.79zM268.41 896.26l.84-1.04-.58-.47-.84 1.04zM270.3 893.93l2.26-2.79-.58-.47-2.26 2.79zM273.61 889.85l.84-1.04-.58-.47-.84 1.04zM275.5 887.52l2.26-2.79-.58-.47-2.26 2.79zM278.81 883.45l.84-1.04-.58-.47-.84 1.04zM280.7 881.12l.92-1.13-.58-.47-.92 1.13zM281.52 880.07l1.83-1.09-.38-.65-1.83 1.09zM284.78 878.14l1.15-.68-.38-.65-1.15 .68zM287.36 876.61l3.09-1.83-.38-.65-3.09 1.83zM291.88 873.93l1.15-.68-.38-.65-1.15 .68zM294.46 872.4l3.09-1.83-.38-.65-3.09 1.83zM298.98 869.72l1.15-.68-.38-.65-1.15 .68zM301.56 868.19l3.09-1.83-.38-.65-3.09 1.83zM306.07 865.51l1.15-.68-.38-.65-1.15 .68zM308.65 863.98l3.09-1.83-.38-.65-3.09 1.83zM313.17 861.3l1.15-.68-.38-.65-1.15 .68zM315.75 859.77l3.09-1.83-.38-.65-3.09 1.83zM320.26 857.09l1.15-.68-.38-.65-1.15 .68zM322.84 855.56l3.09-1.83-.38-.65-3.09 1.83zM327.36 852.88l1.15-.68-.38-.65-1.15 .68zM329.94 851.35l3.09-1.83-.38-.65-3.09 1.83zM334.45 848.68l1.15-.68-.38-.65-1.15 .68zM337.03 847.15l3.09-1.83-.38-.65-3.09 1.83zM341.55 844.47l1.15-.68-.38-.65-1.15 .68zM344.13 842.94l3.09-1.83-.38-.65-3.09 1.83zM348.64 840.26l1.15-.68-.38-.65-1.15 .68zM351.22 838.73l3.09-1.83-.38-.65-3.09 1.83zM355.74 836.05l1.15-.68-.38-.65-1.15 .68zM358.32 834.52l3.09-1.83-.38-.65-3.09 1.83zM362.84 831.84l1.15-.68-.38-.65-1.15 .68zM365.42 830.31l3.09-1.83-.38-.65-3.09 1.83zM369.93 827.63l1.15-.68-.38-.65-1.15 .68zM372.51 826.1l3.09-1.83-.38-.65-3.09 1.83zM377.03 823.42l1.15-.68-.38-.65-1.15 .68zM379.61 821.89l3.09-1.83-.38-.65-3.09 1.83zM384.12 819.21l1.15-.68-.38-.65-1.15 .68zM386.7 817.68l3.09-1.83-.38-.65-3.09 1.83zM391.22 815l1.15-.68-.38-.65-1.15 .68zM393.8 813.47l3.09-1.83-.38-.65-3.09 1.83zM398.31 810.79l1.15-.68-.38-.65-1.15 .68zM400.89 809.26l2.85-1.69-.38-.65-2.85 1.69zM403.82 807.51l.19-.19-.53-.53-.19 .19zM405.18 806.14l.94-.95-.53-.53-.94 .95zM407.29 804.01l2.53-2.55-.53-.53-2.53 2.55zM410.98 800.28l.94-.95-.53-.53-.94 .95zM413.09 798.14l2.53-2.55-.53-.53-2.53 2.55zM416.79 794.41l.94-.95-.53-.53-.94 .95zM418.9 792.28l2.53-2.55-.53-.53-2.53 2.55zM422.59 788.55l.94-.95-.53-.53-.94 .95zM424.7 786.42l2.53-2.55-.53-.53-2.53 2.55zM428.39 782.68l.94-.95-.53-.53-.94 .95zM430.5 780.55l2.53-2.55-.53-.53-2.53 2.55zM434.2 776.82l.94-.95-.53-.53-.94 .95zM436.31 774.69l2.53-2.55-.53-.53-2.53 2.55zM440 770.96l.94-.95-.53-.53-.94 .95zM442.11 768.82l2.53-2.55-.53-.53-2.53 2.55zM445.8 765.09l.94-.95-.53-.53-.94 .95zM447.91 762.96l2.53-2.55-.53-.53-2.53 2.55zM451.61 759.23l.94-.95-.53-.53-.94 .95zM453.72 757.1l2.53-2.55-.53-.53-2.53 2.55zM457.41 753.36l.94-.95-.53-.53-.94 .95zM459.52 751.23l2.53-2.55-.53-.53-2.53 2.55zM463.21 747.5l.94-.95-.53-.53-.94 .95zM465.32 745.37l2.53-2.55-.53-.53-2.53 2.55zM469.02 741.64l.94-.95-.53-.53-.94 .95zM471.13 739.5l2.53-2.55-.53-.53-2.53 2.55zM474.82 735.77l.94-.95-.53-.53-.94 .95zM476.93 733.64l2.53-2.55-.53-.53-2.53 2.55zM480.62 729.91l.94-.95-.53-.53-.94 .95zM482.73 727.78l2.53-2.55-.53-.53-2.53 2.55zM486.43 724.04l.94-.95-.53-.53-.94 .95zM488.54 721.91l2.53-2.55-.53-.53-2.53 2.55zM492.23 718.18l.94-.95-.53-.53-.94 .95zM494.34 716.05l2.53-2.55-.53-.53-2.53 2.55zM498.03 712.32l.94-.95-.53-.53-.94 .95zM500.14 710.18l2.53-2.55-.53-.53-2.53 2.55zM503.84 706.45l.94-.95-.53-.53-.94 .95zM505.95 704.32l2.53-2.55-.53-.53-2.53 2.55zM509.64 700.59l.94-.95-.53-.53-.94 .95zM511.75 698.46l2.53-2.55-.53-.53-2.53 2.55zM515.44 694.73l.94-.95-.53-.53-.94 .95zM517.55 692.59l2.53-2.55-.53-.53-2.53 2.55zM521.25 688.86l.94-.95-.53-.53-.94 .95zM523.36 686.73l2.53-2.55-.53-.53-2.53 2.55zM526.97 682.88l.85-1.03-.58-.48-.85 1.03zM528.88 680.57l2.28-2.77-.58-.48-2.28 2.77zM532.22 676.52l.85-1.03-.58-.48-.85 1.03zM534.13 674.2l2.28-2.77-.58-.48-2.28 2.77zM537.46 670.15l.85-1.03-.58-.48-.85 1.03zM539.37 667.83l2.28-2.77-.58-.48-2.28 2.77zM542.71 663.78l.85-1.03-.58-.48-.85 1.03zM544.61 661.46l2.28-2.77-.58-.48-2.28 2.77zM547.95 657.41l.85-1.03-.58-.48-.85 1.03zM549.86 655.09l2.28-2.77-.58-.48-2.28 2.77zM553.19 651.04l.85-1.03-.58-.48-.85 1.03zM555.1 648.72l2.28-2.77-.58-.48-2.28 2.77zM558.44 644.67l.85-1.03-.58-.48-.85 1.03zM560.34 642.35l2.28-2.77-.58-.48-2.28 2.77zM563.68 638.3l.85-1.03-.58-.48-.85 1.03zM565.59 635.99l2.28-2.77-.58-.48-2.28 2.77zM568.93 631.93l.85-1.03-.58-.48-.85 1.03zM570.83 629.62l2.28-2.77-.58-.48-2.28 2.77zM574.17 625.56l.85-1.03-.58-.48-.85 1.03zM576.08 623.25l2.28-2.77-.58-.48-2.28 2.77zM579.41 619.19l.85-1.03-.58-.48-.85 1.03zM581.32 616.88l2.28-2.77-.58-.48-2.28 2.77zM584.66 612.82l.85-1.03-.58-.48-.85 1.03zM586.56 610.51l2.28-2.77-.58-.48-2.28 2.77zM589.9 606.46l.85-1.03-.58-.48-.85 1.03zM591.81 604.14l2.28-2.77-.58-.48-2.28 2.77zM595.14 600.09l.85-1.03-.58-.48-.85 1.03zM597.05 597.77l2.28-2.77-.58-.48-2.28 2.77zM600.39 593.72l.85-1.03-.58-.48-.85 1.03zM602.29 591.4l2.28-2.77-.58-.48-2.28 2.77zM605.63 587.35l.85-1.03-.58-.48-.85 1.03zM607.54 585.03l2.28-2.77-.58-.48-2.28 2.77zM610.88 580.98l.85-1.03-.58-.48-.85 1.03zM612.78 578.66l2.28-2.77-.58-.48-2.28 2.77zM616.12 574.61l.85-1.03-.58-.48-.85 1.03zM618.03 572.29l2.28-2.77-.58-.48-2.28 2.77zM621.36 568.24l.85-1.03-.58-.48-.85 1.03zM623.27 565.93l2.28-2.77-.58-.48-2.28 2.77zM626.61 561.87l.85-1.03-.58-.48-.85 1.03zM628.51 559.56l2.28-2.77-.58-.48-2.28 2.77zM631.85 555.5l.85-1.03-.58-.48-.85 1.03zM633.76 553.19l2.28-2.77-.58-.48-2.28 2.77zM637.09 549.13l.85-1.03-.58-.48-.85 1.03zM639 546.82l2.28-2.77-.58-.48-2.28 2.77zM642.34 542.77l.85-1.03-.58-.48-.85 1.03zM644.25 540.45l2.28-2.77-.58-.48-2.28 2.77zM647.58 536.4l.71-.86-.58-.48-.71 .86zM648.25 535.57l.17-.16-.51-.55-.17 .16zM649.64 534.29l2.63-2.45-.51-.55-2.63 2.45zM653.48 530.7l.98-.91-.51-.55-.98 .91zM655.67 528.66l2.63-2.45-.51-.55-2.63 2.45zM659.51 525.08l.98-.91-.51-.55-.98 .91zM661.7 523.03l2.63-2.45-.51-.55-2.63 2.45zM665.54 519.45l.98-.91-.51-.55-.98 .91zM667.74 517.4l2.63-2.45-.51-.55-2.63 2.45zM671.57 513.82l.98-.91-.51-.55-.98 .91zM673.77 511.78l2.63-2.45-.51-.55-2.63 2.45zM677.61 508.2l.98-.91-.51-.55-.98 .91zM679.8 506.15l2.63-2.45-.51-.55-2.63 2.45zM683.64 502.57l.98-.91-.51-.55-.98 .91zM685.83 500.52l2.63-2.45-.51-.55-2.63 2.45zM689.67 496.94l.98-.91-.51-.55-.98 .91zM691.87 494.9l2.63-2.45-.51-.55-2.63 2.45zM695.71 491.31l.98-.91-.51-.55-.98 .91zM697.9 489.27l2.63-2.45-.51-.55-2.63 2.45zM701.74 485.69l.98-.91-.51-.55-.98 .91zM703.93 483.64l2.63-2.45-.51-.55-2.63 2.45zM707.77 480.06l.98-.91-.51-.55-.98 .91zM709.97 478.01l2.63-2.45-.51-.55-2.63 2.45zM713.81 474.43l.98-.91-.51-.55-.98 .91zM716 472.39l2.63-2.45-.51-.55-2.63 2.45zM719.84 468.81l.98-.91-.51-.55-.98 .91zM722.03 466.76l2.63-2.45-.51-.55-2.63 2.45zM725.87 463.18l.98-.91-.51-.55-.98 .91zM728.07 461.13l2.63-2.45-.51-.55-2.63 2.45zM731.9 457.55l.98-.91-.51-.55-.98 .91zM734.1 455.51l2.63-2.45-.51-.55-2.63 2.45zM737.94 451.92l.98-.91-.51-.55-.98 .91zM740.13 449.88l2.63-2.45-.51-.55-2.63 2.45zM743.97 446.3l.98-.91-.51-.55-.98 .91zM746.16 444.25l2.63-2.45-.51-.55-2.63 2.45zM750 440.67l.98-.91-.51-.55-.98 .91zM752.2 438.62l2.63-2.45-.51-.55-2.63 2.45zM756.04 435.04l.98-.91-.51-.55-.98 .91zM758.23 433l2.63-2.45-.51-.55-2.63 2.45zM762.07 429.42l.98-.91-.51-.55-.98 .91zM764.26 427.37l2.63-2.45-.51-.55-2.63 2.45zM768.1 423.79l.98-.91-.51-.55-.98 .91zM770.3 421.74l.18-.17-.51-.55-.18 .17zM770.51 421.54l2.16-2.55-.57-.48-2.16 2.55zM773.74 417.72l.87-1.02-.57-.48-.87 1.02zM775.68 415.43l2.32-2.74-.57-.48-2.32 2.74zM779.07 411.42l.87-1.02-.57-.48-.87 1.02zM781 409.13l2.32-2.74-.57-.48-2.32 2.74zM784.39 405.12l.87-1.02-.57-.48-.87 1.02zM786.33 402.83l2.32-2.74-.57-.48-2.32 2.74zM789.72 398.83l.87-1.02-.57-.48-.87 1.02zM791.66 396.53l2.32-2.74-.57-.48-2.32 2.74zM795.05 392.53l.87-1.02-.57-.48-.87 1.02zM796.99 390.24l2.32-2.74-.57-.48-2.32 2.74zM800.38 386.23l.87-1.02-.57-.48-.87 1.02zM802.32 383.94l2.32-2.74-.57-.48-2.32 2.74zM805.71 379.93l.87-1.02-.57-.48-.87 1.02zM807.64 377.64l2.32-2.74-.57-.48-2.32 2.74zM811.03 373.63l.87-1.02-.57-.48-.87 1.02zM812.97 371.34l2.32-2.74-.57-.48-2.32 2.74zM816.36 367.33l.87-1.02-.57-.48-.87 1.02zM818.3 365.04l2.32-2.74-.57-.48-2.32 2.74zM821.69 361.03l.87-1.02-.57-.48-.87 1.02zM823.63 358.74l2.32-2.74-.57-.48-2.32 2.74zM827.02 354.73l.87-1.02-.57-.48-.87 1.02zM828.95 352.44l2.32-2.74-.57-.48-2.32 2.74zM832.34 348.43l.87-1.02-.57-.48-.87 1.02zM834.28 346.14l2.32-2.74-.57-.48-2.32 2.74zM837.67 342.13l.87-1.02-.57-.48-.87 1.02zM839.61 339.84l2.32-2.74-.57-.48-2.32 2.74zM843 335.84l.87-1.02-.57-.48-.87 1.02zM844.94 333.55l2.32-2.74-.57-.48-2.32 2.74zM848.33 329.54l.87-1.02-.57-.48-.87 1.02zM850.27 327.25l2.32-2.74-.57-.48-2.32 2.74zM853.66 323.24l.87-1.02-.57-.48-.87 1.02zM855.59 320.95l2.32-2.74-.57-.48-2.32 2.74zM858.98 316.94l.87-1.02-.57-.48-.87 1.02zM860.92 314.65l2.32-2.74-.57-.48-2.32 2.74zM864.31 310.64l.87-1.02-.57-.48-.87 1.02zM866.25 308.35l2.32-2.74-.57-.48-2.32 2.74zM869.64 304.34l.87-1.02-.57-.48-.87 1.02zM871.58 302.05l2.32-2.74-.57-.48-2.32 2.74zM874.97 298.04l.87-1.02-.57-.48-.87 1.02zM876.9 295.75l2.32-2.74-.57-.48-2.32 2.74zM880.3 291.74l.87-1.02-.57-.48-.87 1.02zM882.23 289.45l2.32-2.74-.57-.48-2.32 2.74zM885.62 285.44l.87-1.02-.57-.48-.87 1.02zM887.56 283.15l2.32-2.74-.57-.48-2.32 2.74zM890.95 279.15l.87-1.02-.57-.48-.87 1.02zM892.89 276.85l2.31-2.75-.57-.48-2.31 2.75zM896.27 272.84l.86-1.02-.57-.48-.86 1.02zM898.2 270.54l2.31-2.75-.57-.48-2.31 2.75zM901.59 266.53l.86-1.02-.57-.48-.86 1.02zM903.52 264.24l2.31-2.75-.57-.48-2.31 2.75zM906.9 260.22l.86-1.02-.57-.48-.86 1.02zM908.84 257.93l2.31-2.75-.57-.48-2.31 2.75zM912.22 253.91l.86-1.02-.57-.48-.86 1.02zM914.15 251.62l2.31-2.75-.57-.48-2.31 2.75zM917.54 247.6l.86-1.02-.57-.48-.86 1.02zM919.47 245.31l2.31-2.75-.57-.48-2.31 2.75zM922.85 241.29l.86-1.02-.57-.48-.86 1.02zM924.78 239l2.31-2.75-.57-.48-2.31 2.75zM928.17 234.99l.86-1.02-.57-.48-.86 1.02zM930.1 232.69l2.31-2.75-.57-.48-2.31 2.75zM933.48 228.68l.86-1.02-.57-.48-.86 1.02zM935.42 226.38l2.31-2.75-.57-.48-2.31 2.75zM938.8 222.37l.86-1.02-.57-.48-.86 1.02zM940.73 220.07l2.31-2.75-.57-.48-2.31 2.75zM944.12 216.06l.86-1.02-.57-.48-.86 1.02zM946.05 213.76l2.31-2.75-.57-.48-2.31 2.75zM949.43 209.75l.86-1.02-.57-.48-.86 1.02zM951.36 207.46l2.31-2.75-.57-.48-2.31 2.75zM954.75 203.44l.86-1.02-.57-.48-.86 1.02zM956.68 201.15l2.31-2.75-.57-.48-2.31 2.75zM960.06 197.13l.86-1.02-.57-.48-.86 1.02zM962 194.84l2.31-2.75-.57-.48-2.31 2.75zM965.38 190.82l.86-1.02-.57-.48-.86 1.02zM967.31 188.53l2.31-2.75-.57-.48-2.31 2.75zM970.7 184.51l.86-1.02-.57-.48-.86 1.02zM972.63 182.22l2.31-2.75-.57-.48-2.31 2.75zM976.01 178.21l.86-1.02-.57-.48-.86 1.02zM977.94 175.91l2.31-2.75-.57-.48-2.31 2.75zM981.33 171.9l.86-1.02-.57-.48-.86 1.02zM983.26 169.6l2.31-2.75-.57-.48-2.31 2.75zM986.64 165.59l.86-1.02-.57-.48-.86 1.02zM988.58 163.29l2.31-2.75-.57-.48-2.31 2.75zM991.96 159.28l.86-1.02-.57-.48-.86 1.02zM993.89 156.98l2.31-2.75-.57-.48-2.31 2.75zM997.28 152.97l.86-1.02-.57-.48-.86 1.02zM999.21 150.68l2.31-2.75-.57-.48-2.31 2.75zM1002.59 146.66l.86-1.02-.57-.48-.86 1.02zM1004.52 144.37l2.31-2.75-.57-.48-2.31 2.75zM1007.91 140.35l.86-1.02-.57-.48-.86 1.02zM1009.84 138.06l2.31-2.75-.57-.48-2.31 2.75zM1013.22 134.04l.86-1.02-.57-.48-.86 1.02zM1014.98 132.12l3.59 0 0-.75-3.59 0zM1020.23 132.12l1.34 0 0-.75-1.34 0zM1023.23 132.12l3.59 0 0-.75-3.59 0zM1028.48 132.12l1.34 0 0-.75-1.34 0zM1031.48 132.12l3.59 0 0-.75-3.59 0zM1036.73 132.12l1.34 0 0-.75-1.34 0zM1039.73 132.12l3.59 0 0-.75-3.59 0zM1044.98 132.12l1.34 0 0-.75-1.34 0zM1047.98 132.12l3.59 0 0-.75-3.59 0zM1053.23 132.12l1.34 0 0-.75-1.34 0zM1056.23 132.12l3.59 0 0-.75-3.59 0zM1061.48 132.12l1.34 0 0-.75-1.34 0zM1064.48 132.12l3.59 0 0-.75-3.59 0zM1069.73 132.12l1.34 0 0-.75-1.34 0zM1072.73 132.12l3.59 0 0-.75-3.59 0zM1077.98 132.12l1.34 0 0-.75-1.34 0zM1080.98 132.12l3.59 0 0-.75-3.59 0zM1086.23 132.12l1.34 0 0-.75-1.34 0zM1089.23 132.12l3.59 0 0-.75-3.59 0zM1094.48 132.12l1.34 0 0-.75-1.34 0zM1097.48 132.12l3.59 0 0-.75-3.59 0zM1102.73 132.12l1.34 0 0-.75-1.34 0zM1105.73 132.12l3.59 0 0-.75-3.59 0zM1110.98 132.12l1.34 0 0-.75-1.34 0zM1113.98 132.12l3.59 0 0-.75-3.59 0zM1119.23 132.12l1.34 0 0-.75-1.34 0zM1122.23 132.12l3.59 0 0-.75-3.59 0zM1127.48 132.12l1.34 0 0-.75-1.34 0zM1130.48 132.12l3.59 0 0-.75-3.59 0zM1136.89 132.12l.19 0 0-.75-.19 0zM1135.73 132.12l1.15 0 0-.75-1.15 0z"/>
<path fill="#0000FF" d="M159.21 1030.95l.19-.23-.58-.48-.19 .23zM159.4 1030.72l3.52-4.28-.58-.48-3.52 4.28zM163.97 1025.16l3.71-4.51-.58-.48-3.71 4.51zM168.74 1019.36l3.71-4.51-.58-.48-3.71 4.51zM173.5 1013.57l3.71-4.51-.58-.48-3.71 4.51zM178.26 1007.77l3.71-4.51-.58-.48-3.71 4.51zM183.02 1001.98l3.71-4.51-.58-.48-3.71 4.51zM187.78 996.19l3.71-4.51-.58-.48-3.71 4.51zM192.54 990.39l3.71-4.51-.58-.48-3.71 4.51zM197.31 984.6l3.71-4.51-.58-.48-3.71 4.51zM202.07 978.8l3.71-4.51-.58-.48-3.71 4.51zM206.83 973.01l3.71-4.51-.58-.48-3.71 4.51zM211.59 967.21l3.71-4.51-.58-.48-3.71 4.51zM216.35 961.42l3.71-4.51-.58-.48-3.71 4.51zM221.11 955.62l3.71-4.51-.58-.48-3.71 4.51zM225.87 949.83l3.71-4.51-.58-.48-3.71 4.51zM230.64 944.03l3.71-4.51-.58-.48-3.71 4.51zM235.4 938.24l3.71-4.51-.58-.48-3.71 4.51zM240.16 932.44l3.71-4.51-.58-.48-3.71 4.51zM244.92 926.65l3.71-4.51-.58-.48-3.71 4.51zM249.68 920.86l3.71-4.51-.58-.48-3.71 4.51zM254.44 915.06l3.71-4.51-.58-.48-3.71 4.51zM259.21 909.27l3.71-4.51-.58-.48-3.71 4.51zM263.97 903.47l3.71-4.51-.58-.48-3.71 4.51zM268.73 897.68l3.71-4.51-.58-.48-3.71 4.51zM273.49 891.88l3.71-4.51-.58-.48-3.71 4.51zM278.25 886.09l3.37-4.1-.58-.48-3.37 4.1zM281.53 882.07l.46-.28-.39-.64-.46 .28zM283.4 880.93l4.99-3.04-.39-.64-4.99 3.04zM289.8 877.03l4.99-3.04-.39-.64-4.99 3.04zM296.21 873.12l4.99-3.04-.39-.64-4.99 3.04zM302.61 869.22l4.99-3.04-.39-.64-4.99 3.04zM309.02 865.31l4.99-3.04-.39-.64-4.99 3.04zM315.42 861.41l4.99-3.04-.39-.64-4.99 3.04zM321.82 857.51l4.99-3.04-.39-.64-4.99 3.04zM328.23 853.6l4.99-3.04-.39-.64-4.99 3.04zM334.63 849.7l4.99-3.04-.39-.64-4.99 3.04zM341.04 845.8l4.99-3.04-.39-.64-4.99 3.04zM347.44 841.89l4.99-3.04-.39-.64-4.99 3.04zM353.84 837.99l4.99-3.04-.39-.64-4.99 3.04zM360.25 834.09l4.99-3.04-.39-.64-4.99 3.04zM366.65 830.18l4.99-3.04-.39-.64-4.99 3.04zM373.06 826.28l4.99-3.04-.39-.64-4.99 3.04zM379.46 822.38l4.99-3.04-.39-.64-4.99 3.04zM385.87 818.47l4.99-3.04-.39-.64-4.99 3.04zM392.27 814.57l4.99-3.04-.39-.64-4.99 3.04zM398.67 810.66l4.99-3.04-.39-.64-4.99 3.04zM404.91 806.4l4.08-4.18-.54-.52-4.08 4.18zM410.15 801.04l4.08-4.18-.54-.52-4.08 4.18zM415.4 795.68l4.08-4.18-.54-.52-4.08 4.18zM420.64 790.31l4.08-4.18-.54-.52-4.08 4.18zM425.88 784.95l4.08-4.18-.54-.52-4.08 4.18zM431.13 779.59l4.08-4.18-.54-.52-4.08 4.18zM436.37 774.23l4.08-4.18-.54-.52-4.08 4.18zM441.61 768.86l4.08-4.18-.54-.52-4.08 4.18zM446.86 763.5l4.08-4.18-.54-.52-4.08 4.18zM452.1 758.14l4.08-4.18-.54-.52-4.08 4.18zM457.34 752.77l4.08-4.18-.54-.52-4.08 4.18zM462.59 747.41l4.08-4.18-.54-.52-4.08 4.18zM467.83 742.05l4.08-4.18-.54-.52-4.08 4.18zM473.07 736.69l4.08-4.18-.54-.52-4.08 4.18zM478.32 731.32l4.08-4.18-.54-.52-4.08 4.18zM483.56 725.96l4.08-4.18-.54-.52-4.08 4.18zM488.8 720.6l4.08-4.18-.54-.52-4.08 4.18zM494.05 715.24l4.08-4.18-.54-.52-4.08 4.18zM499.29 709.87l4.08-4.18-.54-.52-4.08 4.18zM504.53 704.51l4.08-4.18-.54-.52-4.08 4.18zM509.78 699.15l4.08-4.18-.54-.52-4.08 4.18zM515.02 693.79l4.08-4.18-.54-.52-4.08 4.18zM520.26 688.42l4.08-4.18-.54-.52-4.08 4.18zM525.51 683.06l.54-.55-.54-.52-.54 .55zM526.07 682.48l3.17-3.96-.59-.47-3.17 3.96zM530.27 677.23l3.65-4.56-.59-.47-3.65 4.56zM534.95 671.37l3.65-4.56-.59-.47-3.65 4.56zM539.64 665.51l3.65-4.56-.59-.47-3.65 4.56zM544.32 659.65l3.65-4.56-.59-.47-3.65 4.56zM549 653.79l3.65-4.56-.59-.47-3.65 4.56zM553.68 647.93l3.65-4.56-.59-.47-3.65 4.56zM558.36 642.07l3.65-4.56-.59-.47-3.65 4.56zM563.05 636.21l3.65-4.56-.59-.47-3.65 4.56zM567.73 630.35l3.65-4.56-.59-.47-3.65 4.56zM572.41 624.49l3.65-4.56-.59-.47-3.65 4.56zM577.09 618.63l3.65-4.56-.59-.47-3.65 4.56zM581.77 612.78l3.65-4.56-.59-.47-3.65 4.56zM586.46 606.92l3.65-4.56-.59-.47-3.65 4.56zM591.14 601.06l3.65-4.56-.59-.47-3.65 4.56zM595.82 595.2l3.65-4.56-.59-.47-3.65 4.56zM600.5 589.34l3.65-4.56-.59-.47-3.65 4.56zM605.18 583.48l3.65-4.56-.59-.47-3.65 4.56zM609.87 577.62l3.65-4.56-.59-.47-3.65 4.56zM614.55 571.76l3.65-4.56-.59-.47-3.65 4.56zM619.23 565.9l3.65-4.56-.59-.47-3.65 4.56zM623.91 560.04l3.65-4.56-.59-.47-3.65 4.56zM628.59 554.18l3.65-4.56-.59-.47-3.65 4.56zM633.28 548.33l3.65-4.56-.59-.47-3.65 4.56zM637.96 542.47l3.65-4.56-.59-.47-3.65 4.56zM642.64 536.61l3.65-4.56-.59-.47-3.65 4.56zM647.32 530.75l.97-1.21-.59-.47-.97 1.21zM648.26 529.57l3.1-2.96-.52-.54-3.1 2.96zM652.55 525.46l4.22-4.04-.52-.54-4.22 4.04zM657.97 520.27l4.22-4.04-.52-.54-4.22 4.04zM663.39 515.09l4.22-4.04-.52-.54-4.22 4.04zM668.81 509.9l4.22-4.04-.52-.54-4.22 4.04zM674.22 504.71l4.22-4.04-.52-.54-4.22 4.04zM679.64 499.53l4.22-4.04-.52-.54-4.22 4.04zM685.06 494.34l4.22-4.04-.52-.54-4.22 4.04zM690.48 489.16l4.22-4.04-.52-.54-4.22 4.04zM695.9 483.97l4.22-4.04-.52-.54-4.22 4.04zM701.31 478.78l4.22-4.04-.52-.54-4.22 4.04zM706.73 473.6l4.22-4.04-.52-.54-4.22 4.04zM712.15 468.41l4.22-4.04-.52-.54-4.22 4.04zM717.57 463.22l4.22-4.04-.52-.54-4.22 4.04zM722.98 458.04l4.22-4.04-.52-.54-4.22 4.04zM728.4 452.85l4.22-4.04-.52-.54-4.22 4.04zM733.82 447.66l4.22-4.04-.52-.54-4.22 4.04zM739.24 442.48l4.22-4.04-.52-.54-4.22 4.04zM744.66 437.29l4.22-4.04-.52-.54-4.22 4.04zM750.07 432.11l4.22-4.04-.52-.54-4.22 4.04zM755.49 426.92l4.22-4.04-.52-.54-4.22 4.04zM760.91 421.73l4.22-4.04-.52-.54-4.22 4.04zM766.33 416.55l4.15-3.98-.52-.54-4.15 3.98zM770.51 412.54l.06-.07-.58-.48-.06 .07zM771.63 411.19l3.73-4.49-.58-.48-3.73 4.49zM776.42 405.42l3.73-4.49-.58-.48-3.73 4.49zM781.21 399.65l3.73-4.49-.58-.48-3.73 4.49zM785.99 393.88l3.73-4.49-.58-.48-3.73 4.49zM790.78 388.11l3.73-4.49-.58-.48-3.73 4.49zM795.57 382.33l3.73-4.49-.58-.48-3.73 4.49zM800.36 376.56l3.73-4.49-.58-.48-3.73 4.49zM805.15 370.79l3.73-4.49-.58-.48-3.73 4.49zM809.94 365.02l3.73-4.49-.58-.48-3.73 4.49zM814.73 359.25l3.73-4.49-.58-.48-3.73 4.49zM819.52 353.47l3.73-4.49-.58-.48-3.73 4.49zM824.31 347.7l3.73-4.49-.58-.48-3.73 4.49zM829.1 341.93l3.73-4.49-.58-.48-3.73 4.49zM833.89 336.16l3.73-4.49-.58-.48-3.73 4.49zM838.68 330.39l3.73-4.49-.58-.48-3.73 4.49zM843.46 324.62l3.73-4.49-.58-.48-3.73 4.49zM848.25 318.84l3.73-4.49-.58-.48-3.73 4.49zM853.04 313.07l3.73-4.49-.58-.48-3.73 4.49zM857.83 307.3l3.73-4.49-.58-.48-3.73 4.49zM862.62 301.53l3.73-4.49-.58-.48-3.73 4.49zM867.41 295.76l3.73-4.49-.58-.48-3.73 4.49zM872.2 289.98l3.73-4.49-.58-.48-3.73 4.49zM876.99 284.21l3.73-4.49-.58-.48-3.73 4.49zM881.78 278.44l3.73-4.49-.58-.48-3.73 4.49zM886.57 272.67l3.73-4.49-.58-.48-3.73 4.49zM891.36 266.9l1.38-1.66-.58-.48-1.38 1.66zM892.73 265.24l2.33-2.86-.58-.47-2.33 2.86zM896.11 261.09l3.69-4.53-.58-.47-3.69 4.53zM900.85 255.28l3.69-4.53-.58-.47-3.69 4.53zM905.58 249.46l3.69-4.53-.58-.47-3.69 4.53zM910.32 243.64l3.69-4.53-.58-.47-3.69 4.53zM915.05 237.83l3.69-4.53-.58-.47-3.69 4.53zM919.79 232.01l3.69-4.53-.58-.47-3.69 4.53zM924.52 226.2l3.69-4.53-.58-.47-3.69 4.53zM929.26 220.38l3.69-4.53-.58-.47-3.69 4.53zM933.99 214.57l3.69-4.53-.58-.47-3.69 4.53zM938.73 208.75l3.69-4.53-.58-.47-3.69 4.53zM943.47 202.93l3.69-4.53-.58-.47-3.69 4.53zM948.2 197.12l3.69-4.53-.58-.47-3.69 4.53zM952.94 191.3l3.69-4.53-.58-.47-3.69 4.53zM957.67 185.49l3.69-4.53-.58-.47-3.69 4.53zM962.41 179.67l3.69-4.53-.58-.47-3.69 4.53zM967.14 173.85l3.69-4.53-.58-.47-3.69 4.53zM971.88 168.04l3.69-4.53-.58-.47-3.69 4.53zM976.62 162.22l3.69-4.53-.58-.47-3.69 4.53zM981.35 156.41l3.69-4.53-.58-.47-3.69 4.53zM986.09 150.59l3.69-4.53-.58-.47-3.69 4.53zM990.82 144.78l3.69-4.53-.58-.47-3.69 4.53zM995.56 138.96l3.69-4.53-.58-.47-3.69 4.53zM1000.29 133.14l3.69-4.53-.58-.47-3.69 4.53zM1005.03 127.33l3.69-4.53-.58-.47-3.69 4.53zM1009.76 121.51l3.69-4.53-.58-.47-3.69 4.53zM1014.5 115.7l.46-.56-.58-.47-.46 .56zM1014.67 115.28l5.12 0 0-.75-5.12 0zM1021.44 115.28l5.84 0 0-.75-5.84 0zM1028.94 115.28l5.84 0 0-.75-5.84 0zM1036.44 115.28l5.84 0 0-.75-5.84 0zM1043.94 115.28l5.84 0 0-.75-5.84 0zM1051.44 115.28l5.84 0 0-.75-5.84 0zM1058.94 115.28l5.84 0 0-.75-5.84 0zM1066.44 115.28l5.84 0 0-.75-5.84 0zM1073.94 115.28l5.84 0 0-.75-5.84 0zM1081.44 115.28l5.84 0 0-.75-5.84 0zM1088.94 115.28l5.84 0 0-.75-5.84 0zM1096.44 115.28l5.84 0 0-.75-5.84 0zM1103.94 115.28l5.84 0 0-.75-5.84 0zM1111.44 115.28l5.84 0 0-.75-5.84 0zM1118.94 115.28l5.84 0 0-.75-5.84 0zM1126.44 115.28l5.84 0 0-.75-5.84 0zM1136.89 115.28l.3 0 0-.75-.3 0zM1133.94 115.28l2.94 0 0-.75-2.94 0z"/>
<path fill="#00FFFF" d="M159.21 1031.31l122.37-145.52 122.21-73.74 122.27-126.3 122.22-154.79 122.22-117.4 122.24-150.12 122.11-146.66 122.34 0 0-.75-122.69 0-122.34 146.94-122.21 150.08-122.22 117.4-122.23 154.81-122.18 126.2-122.23 73.76-122.45 145.62z"/>
<path fill="#FF00FF" d="M159.17 1033.31l.21-.21-.54-.52-.21 .21zM159.38 1033.1l2.29-2.37-.54-.52-2.29 2.37zM163.35 1029l2.5-2.58-.54-.52-2.5 2.58zM167.52 1024.69l2.5-2.58-.54-.52-2.5 2.58zM171.69 1020.37l2.5-2.58-.54-.52-2.5 2.58zM175.86 1016.06l2.5-2.58-.54-.52-2.5 2.58zM180.03 1011.75l2.5-2.58-.54-.52-2.5 2.58zM184.21 1007.44l2.5-2.58-.54-.52-2.5 2.58zM188.38 1003.12l2.5-2.58-.54-.52-2.5 2.58zM192.55 998.81l2.5-2.58-.54-.52-2.5 2.58zM196.72 994.5l2.5-2.58-.54-.52-2.5 2.58zM200.89 990.19l2.5-2.58-.54-.52-2.5 2.58zM205.06 985.88l2.5-2.58-.54-.52-2.5 2.58zM209.24 981.56l2.5-2.58-.54-.52-2.5 2.58zM213.41 977.25l2.5-2.58-.54-.52-2.5 2.58zM217.58 972.94l2.5-2.58-.54-.52-2.5 2.58zM221.75 968.63l2.5-2.58-.54-.52-2.5 2.58zM225.92 964.31l2.5-2.58-.54-.52-2.5 2.58zM230.1 960l2.5-2.58-.54-.52-2.5 2.58zM234.27 955.69l2.5-2.58-.54-.52-2.5 2.58zM238.44 951.38l2.5-2.58-.54-.52-2.5 2.58zM242.61 947.06l2.5-2.58-.54-.52-2.5 2.58zM246.78 942.75l2.5-2.58-.54-.52-2.5 2.58zM250.95 938.44l2.5-2.58-.54-.52-2.5 2.58zM255.13 934.13l2.5-2.58-.54-.52-2.5 2.58zM259.3 929.82l2.5-2.58-.54-.52-2.5 2.58zM263.47 925.5l2.5-2.58-.54-.52-2.5 2.58zM267.64 921.19l2.5-2.58-.54-.52-2.5 2.58zM271.81 916.88l2.5-2.58-.54-.52-2.5 2.58zM275.99 912.57l2.5-2.58-.54-.52-2.5 2.58zM280.16 908.25l1.44-1.49-.54-.52-1.44 1.49zM281.52 906.83l1.31-.75-.37-.65-1.31 .75zM284.93 904.89l3.12-1.77-.37-.65-3.12 1.77zM290.14 901.92l3.12-1.77-.37-.65-3.12 1.77zM295.36 898.96l3.12-1.77-.37-.65-3.12 1.77zM300.57 895.99l3.12-1.77-.37-.65-3.12 1.77zM305.79 893.02l3.12-1.77-.37-.65-3.12 1.77zM311.01 890.06l3.12-1.77-.37-.65-3.12 1.77zM316.22 887.09l3.12-1.77-.37-.65-3.12 1.77zM321.44 884.13l3.12-1.77-.37-.65-3.12 1.77zM326.65 881.16l3.12-1.77-.37-.65-3.12 1.77zM331.87 878.19l3.12-1.77-.37-.65-3.12 1.77zM337.08 875.23l3.12-1.77-.37-.65-3.12 1.77zM342.3 872.26l3.12-1.77-.37-.65-3.12 1.77zM347.52 869.3l3.12-1.77-.37-.65-3.12 1.77zM352.73 866.33l3.12-1.77-.37-.65-3.12 1.77zM357.95 863.37l3.12-1.77-.37-.65-3.12 1.77zM363.16 860.4l3.12-1.77-.37-.65-3.12 1.77zM368.38 857.43l3.12-1.77-.37-.65-3.12 1.77zM373.59 854.47l3.12-1.77-.37-.65-3.12 1.77zM378.81 851.5l3.12-1.77-.37-.65-3.12 1.77zM384.03 848.54l3.12-1.77-.37-.65-3.12 1.77zM389.24 845.57l3.12-1.77-.37-.65-3.12 1.77zM394.46 842.6l3.12-1.77-.37-.65-3.12 1.77zM399.67 839.64l3.12-1.77-.37-.65-3.12 1.77zM404.77 836.36l2.59-2.48-.52-.54-2.59 2.48zM409.1 832.21l2.59-2.48-.52-.54-2.59 2.48zM413.44 828.06l2.59-2.48-.52-.54-2.59 2.48zM417.77 823.91l2.59-2.48-.52-.54-2.59 2.48zM422.11 819.76l2.59-2.48-.52-.54-2.59 2.48zM426.44 815.61l2.59-2.48-.52-.54-2.59 2.48zM430.77 811.46l2.59-2.48-.52-.54-2.59 2.48zM435.11 807.31l2.59-2.48-.52-.54-2.59 2.48zM439.44 803.16l2.59-2.48-.52-.54-2.59 2.48zM443.78 799.02l2.59-2.48-.52-.54-2.59 2.48zM448.11 794.87l2.59-2.48-.52-.54-2.59 2.48zM452.44 790.72l2.59-2.48-.52-.54-2.59 2.48zM456.78 786.57l2.59-2.48-.52-.54-2.59 2.48zM461.11 782.42l2.59-2.48-.52-.54-2.59 2.48zM465.45 778.27l2.59-2.48-.52-.54-2.59 2.48zM469.78 774.12l2.59-2.48-.52-.54-2.59 2.48zM474.12 769.97l2.59-2.48-.52-.54-2.59 2.48zM478.45 765.82l2.59-2.48-.52-.54-2.59 2.48zM482.78 761.67l2.59-2.48-.52-.54-2.59 2.48zM487.12 757.53l2.59-2.48-.52-.54-2.59 2.48zM491.45 753.38l2.59-2.48-.52-.54-2.59 2.48zM495.79 749.23l2.59-2.48-.52-.54-2.59 2.48zM500.12 745.08l2.59-2.48-.52-.54-2.59 2.48zM504.46 740.93l2.59-2.48-.52-.54-2.59 2.48zM508.79 736.78l2.59-2.48-.52-.54-2.59 2.48zM513.12 732.63l2.59-2.48-.52-.54-2.59 2.48zM517.46 728.48l2.59-2.48-.52-.54-2.59 2.48zM521.79 724.33l2.59-2.48-.52-.54-2.59 2.48zM526.15 720.14l2.3-2.76-.58-.48-2.3 2.76zM529.99 715.54l2.3-2.76-.58-.48-2.3 2.76zM533.84 710.93l2.3-2.76-.58-.48-2.3 2.76zM537.68 706.33l2.3-2.76-.58-.48-2.3 2.76zM541.53 701.72l2.3-2.76-.58-.48-2.3 2.76zM545.37 697.11l2.3-2.76-.58-.48-2.3 2.76zM549.22 692.51l2.3-2.76-.58-.48-2.3 2.76zM553.06 687.9l2.3-2.76-.58-.48-2.3 2.76zM556.91 683.3l2.3-2.76-.58-.48-2.3 2.76zM560.75 678.69l2.3-2.76-.58-.48-2.3 2.76zM564.6 674.08l2.3-2.76-.58-.48-2.3 2.76zM568.44 669.48l2.3-2.76-.58-.48-2.3 2.76zM572.29 664.87l2.3-2.76-.58-.48-2.3 2.76zM576.13 660.27l2.3-2.76-.58-.48-2.3 2.76zM579.98 655.66l2.3-2.76-.58-.48-2.3 2.76zM583.82 651.06l2.3-2.76-.58-.48-2.3 2.76zM587.67 646.45l2.3-2.76-.58-.48-2.3 2.76zM591.51 641.84l2.3-2.76-.58-.48-2.3 2.76zM595.36 637.24l2.3-2.76-.58-.48-2.3 2.76zM599.2 632.63l2.3-2.76-.58-.48-2.3 2.76zM603.05 628.03l2.3-2.76-.58-.48-2.3 2.76zM606.89 623.42l2.3-2.76-.58-.48-2.3 2.76zM610.74 618.81l2.3-2.76-.58-.48-2.3 2.76zM614.59 614.21l2.3-2.76-.58-.48-2.3 2.76zM618.43 609.6l2.3-2.76-.58-.48-2.3 2.76zM622.28 605l2.3-2.76-.58-.48-2.3 2.76zM626.12 600.39l2.3-2.76-.58-.48-2.3 2.76zM629.97 595.78l2.3-2.76-.58-.48-2.3 2.76zM633.81 591.18l2.3-2.76-.58-.48-2.3 2.76zM637.66 586.57l2.3-2.76-.58-.48-2.3 2.76zM641.5 581.97l2.3-2.76-.58-.48-2.3 2.76zM645.35 577.36l2.3-2.76-.58-.48-2.3 2.76zM649.3 572.93l2.66-2.41-.5-.55-2.66 2.41zM653.74 568.89l2.66-2.41-.5-.55-2.66 2.41zM658.18 564.86l2.66-2.41-.5-.55-2.66 2.41zM662.62 560.82l2.66-2.41-.5-.55-2.66 2.41zM667.06 556.78l2.66-2.41-.5-.55-2.66 2.41zM671.5 552.75l2.66-2.41-.5-.55-2.66 2.41zM675.94 548.71l2.66-2.41-.5-.55-2.66 2.41zM680.38 544.68l2.66-2.41-.5-.55-2.66 2.41zM684.82 540.64l2.66-2.41-.5-.55-2.66 2.41zM689.26 536.6l2.66-2.41-.5-.55-2.66 2.41zM693.7 532.57l2.66-2.41-.5-.55-2.66 2.41zM698.14 528.53l2.66-2.41-.5-.55-2.66 2.41zM702.58 524.5l2.66-2.41-.5-.55-2.66 2.41zM707.01 520.46l2.66-2.41-.5-.55-2.66 2.41zM711.45 516.43l2.66-2.41-.5-.55-2.66 2.41zM715.89 512.39l2.66-2.41-.5-.55-2.66 2.41zM720.33 508.35l2.66-2.41-.5-.55-2.66 2.41zM724.77 504.32l2.66-2.41-.5-.55-2.66 2.41zM729.21 500.28l2.66-2.41-.5-.55-2.66 2.41zM733.65 496.25l2.66-2.41-.5-.55-2.66 2.41zM738.09 492.21l2.66-2.41-.5-.55-2.66 2.41zM742.53 488.17l2.66-2.41-.5-.55-2.66 2.41zM746.97 484.14l2.66-2.41-.5-.55-2.66 2.41zM751.41 480.1l2.66-2.41-.5-.55-2.66 2.41zM755.85 476.07l2.66-2.41-.5-.55-2.66 2.41zM760.29 472.03l2.66-2.41-.5-.55-2.66 2.41zM764.73 468l2.66-2.41-.5-.55-2.66 2.41zM769.17 463.96l1.3-1.18-.5-.55-1.3 1.18zM770.51 462.74l1.2-1.39-.57-.49-1.2 1.39zM773.27 459.53l2.34-2.72-.57-.49-2.34 2.72zM777.19 454.98l2.34-2.72-.57-.49-2.34 2.72zM781.1 450.43l2.34-2.72-.57-.49-2.34 2.72zM785.02 445.89l2.34-2.72-.57-.49-2.34 2.72zM788.93 441.34l2.34-2.72-.57-.49-2.34 2.72zM792.84 436.79l2.34-2.72-.57-.49-2.34 2.72zM796.76 432.24l2.34-2.72-.57-.49-2.34 2.72zM800.67 427.7l2.34-2.72-.57-.49-2.34 2.72zM804.59 423.15l2.34-2.72-.57-.49-2.34 2.72zM808.5 418.6l2.34-2.72-.57-.49-2.34 2.72zM812.41 414.05l2.34-2.72-.57-.49-2.34 2.72zM816.33 409.51l2.34-2.72-.57-.49-2.34 2.72zM820.24 404.96l2.34-2.72-.57-.49-2.34 2.72zM824.16 400.41l2.34-2.72-.57-.49-2.34 2.72zM828.07 395.86l2.34-2.72-.57-.49-2.34 2.72zM831.98 391.32l2.34-2.72-.57-.49-2.34 2.72zM835.9 386.77l2.34-2.72-.57-.49-2.34 2.72zM839.81 382.22l2.34-2.72-.57-.49-2.34 2.72zM843.73 377.67l2.34-2.72-.57-.49-2.34 2.72zM847.64 373.13l2.34-2.72-.57-.49-2.34 2.72zM851.56 368.58l2.34-2.72-.57-.49-2.34 2.72zM855.47 364.03l2.34-2.72-.57-.49-2.34 2.72zM859.38 359.48l2.34-2.72-.57-.49-2.34 2.72zM863.3 354.94l2.34-2.72-.57-.49-2.34 2.72zM867.21 350.39l2.34-2.72-.57-.49-2.34 2.72zM871.13 345.84l2.34-2.72-.57-.49-2.34 2.72zM875.04 341.29l2.34-2.72-.57-.49-2.34 2.72zM878.95 336.75l2.34-2.72-.57-.49-2.34 2.72zM882.87 332.2l2.34-2.72-.57-.49-2.34 2.72zM886.78 327.65l2.34-2.72-.57-.49-2.34 2.72zM890.7 323.1l2.03-2.36-.57-.49-2.03 2.36zM892.73 320.75l.31-.36-.56-.49-.31 .36zM894.62 318.57l2.36-2.7-.56-.49-2.36 2.7zM898.57 314.05l2.36-2.7-.56-.49-2.36 2.7zM902.52 309.53l2.36-2.7-.56-.49-2.36 2.7zM906.46 305.01l2.36-2.7-.56-.49-2.36 2.7zM910.41 300.49l2.36-2.7-.56-.49-2.36 2.7zM914.35 295.97l2.36-2.7-.56-.49-2.36 2.7zM918.3 291.45l2.36-2.7-.56-.49-2.36 2.7zM922.25 286.93l2.36-2.7-.56-.49-2.36 2.7zM926.19 282.41l2.36-2.7-.56-.49-2.36 2.7zM930.14 277.89l2.36-2.7-.56-.49-2.36 2.7zM934.08 273.37l2.36-2.7-.56-.49-2.36 2.7zM938.03 268.85l2.36-2.7-.56-.49-2.36 2.7zM941.98 264.33l2.36-2.7-.56-.49-2.36 2.7zM945.92 259.81l2.36-2.7-.56-.49-2.36 2.7zM949.87 255.29l2.36-2.7-.56-.49-2.36 2.7zM953.81 250.77l2.36-2.7-.56-.49-2.36 2.7zM957.76 246.25l2.36-2.7-.56-.49-2.36 2.7zM961.7 241.73l2.36-2.7-.56-.49-2.36 2.7zM965.65 237.21l2.36-2.7-.56-.49-2.36 2.7zM969.6 232.69l2.36-2.7-.56-.49-2.36 2.7zM973.54 228.17l2.36-2.7-.56-.49-2.36 2.7zM977.49 223.65l2.36-2.7-.56-.49-2.36 2.7zM981.43 219.13l2.36-2.7-.56-.49-2.36 2.7zM985.38 214.61l2.36-2.7-.56-.49-2.36 2.7zM989.33 210.09l2.36-2.7-.56-.49-2.36 2.7zM993.27 205.57l2.36-2.7-.56-.49-2.36 2.7zM997.22 201.05l2.36-2.7-.56-.49-2.36 2.7zM1001.16 196.53l2.36-2.7-.56-.49-2.36 2.7zM1005.11 192.02l2.36-2.7-.56-.49-2.36 2.7zM1009.06 187.5l2.36-2.7-.56-.49-2.36 2.7zM1013 182.98l1.95-2.23-.56-.49-1.95 2.23zM1014.67 180.88l.63 0 0-.75-.63 0zM1017.71 180.88l3.59 0 0-.75-3.59 0zM1023.71 180.88l3.59 0 0-.75-3.59 0zM1029.71 180.88l3.59 0 0-.75-3.59 0zM1035.71 180.88l3.59 0 0-.75-3.59 0zM1041.71 180.88l3.59 0 0-.75-3.59 0zM1047.71 180.88l3.59 0 0-.75-3.59 0zM1053.71 180.88l3.59 0 0-.75-3.59 0zM1059.71 180.88l3.59 0 0-.75-3.59 0zM1065.71 180.88l3.59 0 0-.75-3.59 0zM1071.71 180.88l3.59 0 0-.75-3.59 0zM1077.71 180.88l3.59 0 0-.75-3.59 0zM1083.71 180.88l3.59 0 0-.75-3.59 0zM1089.71 180.88l3.59 0 0-.75-3.59 0zM1095.71 180.88l3.59 0 0-.75-3.59 0zM1101.71 180.88l3.59 0 0-.75-3.59 0zM1107.71 180.88l3.59 0 0-.75-3.59 0zM1113.71 180.88l3.59 0 0-.75-3.59 0zM1119.71 180.88l3.59 0 0-.75-3.59 0zM1125.71 180.88l3.59 0 0-.75-3.59 0zM1131.71 180.88l3.59 0 0-.75-3.59 0z"/>
<path fill="#000000" d="M159.15 1034.5l.21-.2-.51-.55-.21 .2zM159.37 1034.3l.76-.72-.51-.55-.76 .72zM161.34 1032.44l.98-.92-.51-.55-.98 .92zM163.52 1030.39l.98-.92-.51-.55-.98 .92zM165.71 1028.33l.98-.92-.51-.55-.98 .92zM167.89 1026.28l.98-.92-.51-.55-.98 .92zM170.08 1024.22l.98-.92-.51-.55-.98 .92zM172.26 1022.16l.98-.92-.51-.55-.98 .92zM174.44 1020.11l.98-.92-.51-.55-.98 .92zM176.63 1018.05l.98-.92-.51-.55-.98 .92zM178.81 1016l.98-.92-.51-.55-.98 .92zM181 1013.94l.98-.92-.51-.55-.98 .92zM183.18 1011.88l.98-.92-.51-.55-.98 .92zM185.37 1009.83l.98-.92-.51-.55-.98 .92zM187.55 1007.77l.98-.92-.51-.55-.98 .92zM189.74 1005.72l.98-.92-.51-.55-.98 .92zM191.92 1003.66l.98-.92-.51-.55-.98 .92zM194.11 1001.6l.98-.92-.51-.55-.98 .92zM196.29 999.55l.98-.92-.51-.55-.98 .92zM198.48 997.49l.98-.92-.51-.55-.98 .92zM200.66 995.44l.98-.92-.51-.55-.98 .92zM202.85 993.38l.98-.92-.51-.55-.98 .92zM205.03 991.32l.98-.92-.51-.55-.98 .92zM207.21 989.27l.98-.92-.51-.55-.98 .92zM209.4 987.21l.98-.92-.51-.55-.98 .92zM211.58 985.16l.98-.92-.51-.55-.98 .92zM213.77 983.1l.98-.92-.51-.55-.98 .92zM215.95 981.04l.98-.92-.51-.55-.98 .92zM218.14 978.99l.98-.92-.51-.55-.98 .92zM220.32 976.93l.98-.92-.51-.55-.98 .92zM222.51 974.88l.98-.92-.51-.55-.98 .92zM224.69 972.82l.98-.92-.51-.55-.98 .92zM226.88 970.76l.98-.92-.51-.55-.98 .92zM229.06 968.71l.98-.92-.51-.55-.98 .92zM231.25 966.65l.98-.92-.51-.55-.98 .92zM233.43 964.6l.98-.92-.51-.55-.98 .92zM235.62 962.54l.98-.92-.51-.55-.98 .92zM237.8 960.48l.98-.92-.51-.55-.98 .92zM239.98 958.43l.98-.92-.51-.55-.98 .92zM242.17 956.37l.98-.92-.51-.55-.98 .92zM244.35 954.32l.98-.92-.51-.55-.98 .92zM246.54 952.26l.98-.92-.51-.55-.98 .92zM248.72 950.2l.98-.92-.51-.55-.98 .92zM250.91 948.15l.98-.92-.51-.55-.98 .92zM253.09 946.09l.98-.92-.51-.55-.98 .92zM255.28 944.04l.98-.92-.51-.55-.98 .92zM257.46 941.98l.98-.92-.51-.55-.98 .92zM259.65 939.92l.98-.92-.51-.55-.98 .92zM261.83 937.87l.98-.92-.51-.55-.98 .92zM264.02 935.81l.98-.92-.51-.55-.98 .92zM266.2 933.76l.98-.92-.51-.55-.98 .92zM268.39 931.7l.98-.92-.51-.55-.98 .92zM270.57 929.64l.98-.92-.51-.55-.98 .92zM272.75 927.59l.98-.92-.51-.55-.98 .92zM274.94 925.53l.98-.92-.51-.55-.98 .92zM277.12 923.48l.98-.92-.51-.55-.98 .92zM279.31 921.42l.98-.92-.51-.55-.98 .92zM281.49 919.36l.1-.09-.51-.55-.1 .09zM281.52 919.33l1.05-.6-.37-.65-1.05 .6zM284.01 917.91l1.17-.66-.37-.65-1.17 .66zM286.62 916.43l1.17-.66-.37-.65-1.17 .66zM289.23 914.95l1.17-.66-.37-.65-1.17 .66zM291.84 913.48l1.17-.66-.37-.65-1.17 .66zM294.45 912l1.17-.66-.37-.65-1.17 .66zM297.06 910.52l1.17-.66-.37-.65-1.17 .66zM299.67 909.04l1.17-.66-.37-.65-1.17 .66zM302.28 907.56l1.17-.66-.37-.65-1.17 .66zM304.89 906.08l1.17-.66-.37-.65-1.17 .66zM307.5 904.6l1.17-.66-.37-.65-1.17 .66zM310.11 903.12l1.17-.66-.37-.65-1.17 .66zM312.72 901.64l1.17-.66-.37-.65-1.17 .66zM315.33 900.17l1.17-.66-.37-.65-1.17 .66zM317.94 898.69l1.17-.66-.37-.65-1.17 .66zM320.55 897.21l1.17-.66-.37-.65-1.17 .66zM323.16 895.73l1.17-.66-.37-.65-1.17 .66zM325.78 894.25l1.17-.66-.37-.65-1.17 .66zM328.39 892.77l1.17-.66-.37-.65-1.17 .66zM331 891.29l1.17-.66-.37-.65-1.17 .66zM333.61 889.81l1.17-.66-.37-.65-1.17 .66zM336.22 888.33l1.17-.66-.37-.65-1.17 .66zM338.83 886.86l1.17-.66-.37-.65-1.17 .66zM341.44 885.38l1.17-.66-.37-.65-1.17 .66zM344.05 883.9l1.17-.66-.37-.65-1.17 .66zM346.66 882.42l1.17-.66-.37-.65-1.17 .66zM349.27 880.94l1.17-.66-.37-.65-1.17 .66zM351.88 879.46l1.17-.66-.37-.65-1.17 .66zM354.49 877.98l1.17-.66-.37-.65-1.17 .66zM357.1 876.5l1.17-.66-.37-.65-1.17 .66zM359.71 875.02l1.17-.66-.37-.65-1.17 .66zM362.32 873.55l1.17-.66-.37-.65-1.17 .66zM364.93 872.07l1.17-.66-.37-.65-1.17 .66zM367.54 870.59l1.17-.66-.37-.65-1.17 .66zM370.15 869.11l1.17-.66-.37-.65-1.17 .66zM372.76 867.63l1.17-.66-.37-.65-1.17 .66zM375.37 866.15l1.17-.66-.37-.65-1.17 .66zM377.98 864.67l1.17-.66-.37-.65-1.17 .66zM380.59 863.19l1.17-.66-.37-.65-1.17 .66zM383.2 861.71l1.17-.66-.37-.65-1.17 .66zM385.81 860.24l1.17-.66-.37-.65-1.17 .66zM388.42 858.76l1.17-.66-.37-.65-1.17 .66zM391.03 857.28l1.17-.66-.37-.65-1.17 .66zM393.64 855.8l1.17-.66-.37-.65-1.17 .66zM396.25 854.32l1.17-.66-.37-.65-1.17 .66zM398.86 852.84l1.17-.66-.37-.65-1.17 .66zM401.47 851.36l1.17-.66-.37-.65-1.17 .66zM404.1 849.76l.99-.91-.51-.55-.99 .91zM406.3 847.73l.99-.91-.51-.55-.99 .91zM408.51 845.7l.99-.91-.51-.55-.99 .91zM410.72 843.67l.99-.91-.51-.55-.99 .91zM412.93 841.63l.99-.91-.51-.55-.99 .91zM415.13 839.6l.99-.91-.51-.55-.99 .91zM417.34 837.57l.99-.91-.51-.55-.99 .91zM419.55 835.54l.99-.91-.51-.55-.99 .91zM421.75 833.51l.99-.91-.51-.55-.99 .91zM423.96 831.48l.99-.91-.51-.55-.99 .91zM426.17 829.44l.99-.91-.51-.55-.99 .91zM428.38 827.41l.99-.91-.51-.55-.99 .91zM430.58 825.38l.99-.91-.51-.55-.99 .91zM432.79 823.35l.99-.91-.51-.55-.99 .91zM435 821.32l.99-.91-.51-.55-.99 .91zM437.21 819.29l.99-.91-.51-.55-.99 .91zM439.41 817.25l.99-.91-.51-.55-.99 .91zM441.62 815.22l.99-.91-.51-.55-.99 .91zM443.83 813.19l.99-.91-.51-.55-.99 .91zM446.03 811.16l.99-.91-.51-.55-.99 .91zM448.24 809.13l.99-.91-.51-.55-.99 .91zM450.45 807.09l.99-.91-.51-.55-.99 .91zM452.66 805.06l.99-.91-.51-.55-.99 .91zM454.86 803.03l.99-.91-.51-.55-.99 .91zM457.07 801l.99-.91-.51-.55-.99 .91zM459.28 798.97l.99-.91-.51-.55-.99 .91zM461.49 796.94l.99-.91-.51-.55-.99 .91zM463.69 794.9l.99-.91-.51-.55-.99 .91zM465.9 792.87l.99-.91-.51-.55-.99 .91zM468.11 790.84l.99-.91-.51-.55-.99 .91zM470.32 788.81l.99-.91-.51-.55-.99 .91zM472.52 786.78l.99-.91-.51-.55-.99 .91zM474.73 784.75l.99-.91-.51-.55-.99 .91zM476.94 782.71l.99-.91-.51-.55-.99 .91zM479.14 780.68l.99-.91-.51-.55-.99 .91zM481.35 778.65l.99-.91-.51-.55-.99 .91zM483.56 776.62l.99-.91-.51-.55-.99 .91zM485.77 774.59l.99-.91-.51-.55-.99 .91zM487.97 772.56l.99-.91-.51-.55-.99 .91zM490.18 770.52l.99-.91-.51-.55-.99 .91zM492.39 768.49l.99-.91-.51-.55-.99 .91zM494.6 766.46l.99-.91-.51-.55-.99 .91zM496.8 764.43l.99-.91-.51-.55-.99 .91zM499.01 762.4l.99-.91-.51-.55-.99 .91zM501.22 760.37l.99-.91-.51-.55-.99 .91zM503.42 758.33l.99-.91-.51-.55-.99 .91zM505.63 756.3l.99-.91-.51-.55-.99 .91zM507.84 754.27l.99-.91-.51-.55-.99 .91zM510.05 752.24l.99-.91-.51-.55-.99 .91zM512.25 750.21l.99-.91-.51-.55-.99 .91zM514.46 748.18l.99-.91-.51-.55-.99 .91zM516.67 746.14l.99-.91-.51-.55-.99 .91zM518.88 744.11l.99-.91-.51-.55-.99 .91zM521.08 742.08l.99-.91-.51-.55-.99 .91zM523.29 740.05l.99-.91-.51-.55-.99 .91zM525.5 738.02l.53-.49-.51-.55-.53 .49zM526.06 737.49l.4-.47-.57-.49-.4 .47zM527.53 735.76l.87-1.02-.57-.49-.87 1.02zM529.47 733.47l.87-1.02-.57-.49-.87 1.02zM531.41 731.18l.87-1.02-.57-.49-.87 1.02zM533.35 728.89l.87-1.02-.57-.49-.87 1.02zM535.29 726.6l.87-1.02-.57-.49-.87 1.02zM537.23 724.32l.87-1.02-.57-.49-.87 1.02zM539.17 722.03l.87-1.02-.57-.49-.87 1.02zM541.11 719.74l.87-1.02-.57-.49-.87 1.02zM543.06 717.45l.87-1.02-.57-.49-.87 1.02zM545 715.16l.87-1.02-.57-.49-.87 1.02zM546.94 712.88l.87-1.02-.57-.49-.87 1.02zM548.88 710.59l.87-1.02-.57-.49-.87 1.02zM550.82 708.3l.87-1.02-.57-.49-.87 1.02zM552.76 706.01l.87-1.02-.57-.49-.87 1.02zM554.7 703.72l.87-1.02-.57-.49-.87 1.02zM556.64 701.43l.87-1.02-.57-.49-.87 1.02zM558.58 699.15l.87-1.02-.57-.49-.87 1.02zM560.52 696.86l.87-1.02-.57-.49-.87 1.02zM562.46 694.57l.87-1.02-.57-.49-.87 1.02zM564.4 692.28l.87-1.02-.57-.49-.87 1.02zM566.34 689.99l.87-1.02-.57-.49-.87 1.02zM568.28 687.7l.87-1.02-.57-.49-.87 1.02zM570.22 685.42l.87-1.02-.57-.49-.87 1.02zM572.16 683.13l.87-1.02-.57-.49-.87 1.02zM574.1 680.84l.87-1.02-.57-.49-.87 1.02zM576.04 678.55l.87-1.02-.57-.49-.87 1.02zM577.98 676.26l.87-1.02-.57-.49-.87 1.02zM579.92 673.98l.87-1.02-.57-.49-.87 1.02zM581.86 671.69l.87-1.02-.57-.49-.87 1.02zM583.8 669.4l.87-1.02-.57-.49-.87 1.02zM585.74 667.11l.87-1.02-.57-.49-.87 1.02zM587.68 664.82l.87-1.02-.57-.49-.87 1.02zM589.62 662.53l.87-1.02-.57-.49-.87 1.02zM591.56 660.25l.87-1.02-.57-.49-.87 1.02zM593.5 657.96l.87-1.02-.57-.49-.87 1.02zM595.44 655.67l.87-1.02-.57-.49-.87 1.02zM597.38 653.38l.87-1.02-.57-.49-.87 1.02zM599.32 651.09l.87-1.02-.57-.49-.87 1.02zM601.26 648.81l.87-1.02-.57-.49-.87 1.02zM603.2 646.52l.87-1.02-.57-.49-.87 1.02zM605.14 644.23l.87-1.02-.57-.49-.87 1.02zM607.08 641.94l.87-1.02-.57-.49-.87 1.02zM609.02 639.65l.87-1.02-.57-.49-.87 1.02zM610.96 637.36l.87-1.02-.57-.49-.87 1.02zM612.9 635.08l.87-1.02-.57-.49-.87 1.02zM614.84 632.79l.87-1.02-.57-.49-.87 1.02zM616.78 630.5l.87-1.02-.57-.49-.87 1.02zM618.72 628.21l.87-1.02-.57-.49-.87 1.02zM620.66 625.92l.87-1.02-.57-.49-.87 1.02zM622.6 623.63l.87-1.02-.57-.49-.87 1.02zM624.54 621.35l.87-1.02-.57-.49-.87 1.02zM626.48 619.06l.87-1.02-.57-.49-.87 1.02zM628.42 616.77l.87-1.02-.57-.49-.87 1.02zM630.36 614.48l.87-1.02-.57-.49-.87 1.02zM632.3 612.19l.87-1.02-.57-.49-.87 1.02zM634.24 609.91l.87-1.02-.57-.49-.87 1.02zM636.18 607.62l.87-1.02-.57-.49-.87 1.02zM638.12 605.33l.87-1.02-.57-.49-.87 1.02zM640.06 603.04l.87-1.02-.57-.49-.87 1.02zM642 600.75l.87-1.02-.57-.49-.87 1.02zM643.94 598.46l.87-1.02-.57-.49-.87 1.02zM645.88 596.18l.87-1.02-.57-.49-.87 1.02zM647.82 593.89l.46-.55-.57-.49-.46 .55zM648.24 593.39l.48-.4-.48-.57-.48 .4zM649.99 591.91l1.02-.86-.48-.57-1.02 .86zM652.28 589.98l1.02-.86-.48-.57-1.02 .86zM654.57 588.04l1.02-.86-.48-.57-1.02 .86zM656.86 586.1l1.02-.86-.48-.57-1.02 .86zM659.15 584.17l1.02-.86-.48-.57-1.02 .86zM661.44 582.23l1.02-.86-.48-.57-1.02 .86zM663.73 580.29l1.02-.86-.48-.57-1.02 .86zM666.02 578.36l1.02-.86-.48-.57-1.02 .86zM668.32 576.42l1.02-.86-.48-.57-1.02 .86zM670.61 574.48l1.02-.86-.48-.57-1.02 .86zM672.9 572.55l1.02-.86-.48-.57-1.02 .86zM675.19 570.61l1.02-.86-.48-.57-1.02 .86zM677.48 568.67l1.02-.86-.48-.57-1.02 .86zM679.77 566.74l1.02-.86-.48-.57-1.02 .86zM682.06 564.8l1.02-.86-.48-.57-1.02 .86zM684.35 562.86l1.02-.86-.48-.57-1.02 .86zM686.65 560.93l1.02-.86-.48-.57-1.02 .86zM688.94 558.99l1.02-.86-.48-.57-1.02 .86zM691.23 557.05l1.02-.86-.48-.57-1.02 .86zM693.52 555.12l1.02-.86-.48-.57-1.02 .86zM695.81 553.18l1.02-.86-.48-.57-1.02 .86zM698.1 551.24l1.02-.86-.48-.57-1.02 .86zM700.39 549.31l1.02-.86-.48-.57-1.02 .86zM702.68 547.37l1.02-.86-.48-.57-1.02 .86zM704.98 545.44l1.02-.86-.48-.57-1.02 .86zM707.27 543.5l1.02-.86-.48-.57-1.02 .86zM709.56 541.56l1.02-.86-.48-.57-1.02 .86zM711.85 539.63l1.02-.86-.48-.57-1.02 .86zM714.14 537.69l1.02-.86-.48-.57-1.02 .86zM716.43 535.75l1.02-.86-.48-.57-1.02 .86zM718.72 533.82l1.02-.86-.48-.57-1.02 .86zM721.01 531.88l1.02-.86-.48-.57-1.02 .86zM723.31 529.94l1.02-.86-.48-.57-1.02 .86zM725.6 528.01l1.02-.86-.48-.57-1.02 .86zM727.89 526.07l1.02-.86-.48-.57-1.02 .86zM730.18 524.13l1.02-.86-.48-.57-1.02 .86zM732.47 522.2l1.02-.86-.48-.57-1.02 .86zM734.76 520.26l1.02-.86-.48-.57-1.02 .86zM737.05 518.32l1.02-.86-.48-.57-1.02 .86zM739.34 516.39l1.02-.86-.48-.57-1.02 .86zM741.64 514.45l1.02-.86-.48-.57-1.02 .86zM743.93 512.51l1.02-.86-.48-.57-1.02 .86zM746.22 510.58l1.02-.86-.48-.57-1.02 .86zM748.51 508.64l1.02-.86-.48-.57-1.02 .86zM750.8 506.7l1.02-.86-.48-.57-1.02 .86zM753.09 504.77l1.02-.86-.48-.57-1.02 .86zM755.38 502.83l1.02-.86-.48-.57-1.02 .86zM757.67 500.89l1.02-.86-.48-.57-1.02 .86zM759.97 498.96l1.02-.86-.48-.57-1.02 .86zM762.26 497.02l1.02-.86-.48-.57-1.02 .86zM764.55 495.09l1.02-.86-.48-.57-1.02 .86zM766.84 493.15l1.02-.86-.48-.57-1.02 .86zM769.13 491.21l1.02-.86-.48-.57-1.02 .86zM771.32 489.09l.87-1.02-.57-.49-.87 1.02zM773.27 486.81l.87-1.02-.57-.49-.87 1.02zM775.22 484.53l.87-1.02-.57-.49-.87 1.02zM777.17 482.24l.87-1.02-.57-.49-.87 1.02zM779.12 479.96l.87-1.02-.57-.49-.87 1.02zM781.06 477.68l.87-1.02-.57-.49-.87 1.02zM783.01 475.4l.87-1.02-.57-.49-.87 1.02zM784.96 473.12l.87-1.02-.57-.49-.87 1.02zM786.91 470.84l.87-1.02-.57-.49-.87 1.02zM788.86 468.56l.87-1.02-.57-.49-.87 1.02zM790.81 466.28l.87-1.02-.57-.49-.87 1.02zM792.75 464l.87-1.02-.57-.49-.87 1.02zM794.7 461.71l.87-1.02-.57-.49-.87 1.02zM796.65 459.43l.87-1.02-.57-.49-.87 1.02zM798.6 457.15l.87-1.02-.57-.49-.87 1.02zM800.55 454.87l.87-1.02-.57-.49-.87 1.02zM802.5 452.59l.87-1.02-.57-.49-.87 1.02zM804.44 450.31l.87-1.02-.57-.49-.87 1.02zM806.39 448.03l.87-1.02-.57-.49-.87 1.02zM808.34 445.75l.87-1.02-.57-.49-.87 1.02zM810.29 443.46l.87-1.02-.57-.49-.87 1.02zM812.24 441.18l.87-1.02-.57-.49-.87 1.02zM814.19 438.9l.87-1.02-.57-.49-.87 1.02zM816.13 436.62l.87-1.02-.57-.49-.87 1.02zM818.08 434.34l.87-1.02-.57-.49-.87 1.02zM820.03 432.06l.87-1.02-.57-.49-.87 1.02zM821.98 429.78l.87-1.02-.57-.49-.87 1.02zM823.93 427.5l.87-1.02-.57-.49-.87 1.02zM825.88 425.22l.87-1.02-.57-.49-.87 1.02zM827.82 422.93l.87-1.02-.57-.49-.87 1.02zM829.77 420.65l.87-1.02-.57-.49-.87 1.02zM831.72 418.37l.87-1.02-.57-.49-.87 1.02zM833.67 416.09l.87-1.02-.57-.49-.87 1.02zM835.62 413.81l.87-1.02-.57-.49-.87 1.02zM837.57 411.53l.87-1.02-.57-.49-.87 1.02zM839.51 409.25l.87-1.02-.57-.49-.87 1.02zM841.46 406.97l.87-1.02-.57-.49-.87 1.02zM843.41 404.68l.87-1.02-.57-.49-.87 1.02zM845.36 402.4l.87-1.02-.57-.49-.87 1.02zM847.31 400.12l.87-1.02-.57-.49-.87 1.02zM849.26 397.84l.87-1.02-.57-.49-.87 1.02zM851.21 395.56l.87-1.02-.57-.49-.87 1.02zM853.15 393.28l.87-1.02-.57-.49-.87 1.02zM855.1 391l.87-1.02-.57-.49-.87 1.02zM857.05 388.72l.87-1.02-.57-.49-.87 1.02zM859 386.43l.87-1.02-.57-.49-.87 1.02zM860.95 384.15l.87-1.02-.57-.49-.87 1.02zM862.9 381.87l.87-1.02-.57-.49-.87 1.02zM864.84 379.59l.87-1.02-.57-.49-.87 1.02zM866.79 377.31l.87-1.02-.57-.49-.87 1.02zM868.74 375.03l.87-1.02-.57-.49-.87 1.02zM870.69 372.75l.87-1.02-.57-.49-.87 1.02zM872.64 370.47l.87-1.02-.57-.49-.87 1.02zM874.59 368.19l.87-1.02-.57-.49-.87 1.02zM876.53 365.9l.87-1.02-.57-.49-.87 1.02zM878.48 363.62l.87-1.02-.57-.49-.87 1.02zM880.43 361.34l.87-1.02-.57-.49-.87 1.02zM882.38 359.06l.87-1.02-.57-.49-.87 1.02zM884.33 356.78l.87-1.02-.57-.49-.87 1.02zM886.28 354.5l.87-1.02-.57-.49-.87 1.02zM888.22 352.22l.87-1.02-.57-.49-.87 1.02zM890.17 349.94l.87-1.02-.57-.49-.87 1.02zM892.12 347.65l.61-.71-.57-.49-.61 .71zM892.72 346.95l.27-.3-.55-.51-.27 .3zM894.12 345.43l.91-.99-.55-.51-.91 .99zM896.15 343.23l.91-.99-.55-.51-.91 .99zM898.18 341.02l.91-.99-.55-.51-.91 .99zM900.21 338.81l.91-.99-.55-.51-.91 .99zM902.24 336.6l.91-.99-.55-.51-.91 .99zM904.27 334.39l.91-.99-.55-.51-.91 .99zM906.3 332.18l.91-.99-.55-.51-.91 .99zM908.33 329.97l.91-.99-.55-.51-.91 .99zM910.36 327.77l.91-.99-.55-.51-.91 .99zM912.39 325.56l.91-.99-.55-.51-.91 .99zM914.42 323.35l.91-.99-.55-.51-.91 .99zM916.45 321.14l.91-.99-.55-.51-.91 .99zM918.48 318.93l.91-.99-.55-.51-.91 .99zM920.51 316.72l.91-.99-.55-.51-.91 .99zM922.54 314.51l.91-.99-.55-.51-.91 .99zM924.57 312.31l.91-.99-.55-.51-.91 .99zM926.6 310.1l.91-.99-.55-.51-.91 .99zM928.63 307.89l.91-.99-.55-.51-.91 .99zM930.66 305.68l.91-.99-.55-.51-.91 .99zM932.69 303.47l.91-.99-.55-.51-.91 .99zM934.72 301.26l.91-.99-.55-.51-.91 .99zM936.75 299.05l.91-.99-.55-.51-.91 .99zM938.78 296.85l.91-.99-.55-.51-.91 .99zM940.81 294.64l.91-.99-.55-.51-.91 .99zM942.84 292.43l.91-.99-.55-.51-.91 .99zM944.88 290.22l.91-.99-.55-.51-.91 .99zM946.91 288.01l.91-.99-.55-.51-.91 .99zM948.94 285.8l.91-.99-.55-.51-.91 .99zM950.97 283.59l.91-.99-.55-.51-.91 .99zM953 281.39l.91-.99-.55-.51-.91 .99zM955.03 279.18l.91-.99-.55-.51-.91 .99zM957.06 276.97l.91-.99-.55-.51-.91 .99zM959.09 274.76l.91-.99-.55-.51-.91 .99zM961.12 272.55l.91-.99-.55-.51-.91 .99zM963.15 270.34l.91-.99-.55-.51-.91 .99zM965.18 268.13l.91-.99-.55-.51-.91 .99zM967.21 265.93l.91-.99-.55-.51-.91 .99zM969.24 263.72l.91-.99-.55-.51-.91 .99zM971.27 261.51l.91-.99-.55-.51-.91 .99zM973.3 259.3l.91-.99-.55-.51-.91 .99zM975.33 257.09l.91-.99-.55-.51-.91 .99zM977.36 254.88l.91-.99-.55-.51-.91 .99zM979.39 252.67l.91-.99-.55-.51-.91 .99zM981.42 250.47l.91-.99-.55-.51-.91 .99zM983.45 248.26l.91-.99-.55-.51-.91 .99zM985.48 246.05l.91-.99-.55-.51-.91 .99zM987.51 243.84l.91-.99-.55-.51-.91 .99zM989.54 241.63l.91-.99-.55-.51-.91 .99zM991.57 239.42l.91-.99-.55-.51-.91 .99zM993.6 237.21l.91-.99-.55-.51-.91 .99zM995.63 235.01l.91-.99-.55-.51-.91 .99zM997.66 232.8l.91-.99-.55-.51-.91 .99zM999.69 230.59l.91-.99-.55-.51-.91 .99zM1001.72 228.38l.91-.99-.55-.51-.91 .99zM1003.76 226.17l.91-.99-.55-.51-.91 .99zM1005.79 223.96l.91-.99-.55-.51-.91 .99zM1007.82 221.75l.91-.99-.55-.51-.91 .99zM1009.85 219.55l.91-.99-.55-.51-.91 .99zM1011.88 217.34l.91-.99-.55-.51-.91 .99zM1013.91 215.13l.91-.99-.55-.51-.91 .99zM1016.14 214.12l1.34 0 0-.75-1.34 0zM1019.14 214.12l1.34 0 0-.75-1.34 0zM1022.14 214.12l1.34 0 0-.75-1.34 0zM1025.14 214.12l1.34 0 0-.75-1.34 0zM1028.14 214.12l1.34 0 0-.75-1.34 0zM1031.14 214.12l1.34 0 0-.75-1.34 0zM1034.14 214.12l1.34 0 0-.75-1.34 0zM1037.14 214.12l1.34 0 0-.75-1.34 0zM1040.14 214.12l1.34 0 0-.75-1.34 0zM1043.14 214.12l1.34 0 0-.75-1.34 0zM1046.14 214.12l1.34 0 0-.75-1.34 0zM1049.14 214.12l1.34 0 0-.75-1.34 0zM1052.14 214.12l1.34 0 0-.75-1.34 0zM1055.14 214.12l1.34 0 0-.75-1.34 0zM1058.14 214.12l1.34 0 0-.75-1.34 0zM1061.14 214.12l1.34 0 0-.75-1.34 0zM1064.14 214.12l1.34 0 0-.75-1.34 0zM1067.14 214.12l1.34 0 0-.75-1.34 0zM1070.14 214.12l1.34 0 0-.75-1.34 0zM1073.14 214.12l1.34 0 0-.75-1.34 0zM1076.14 214.12l1.34 0 0-.75-1.34 0zM1079.14 214.12l1.34 0 0-.75-1.34 0zM1082.14 214.12l1.34 0 0-.75-1.34 0zM1085.14 214.12l1.34 0 0-.75-1.34 0zM1088.14 214.12l1.34 0 0-.75-1.34 0zM1091.14 214.12l1.34 0 0-.75-1.34 0zM1094.14 214.12l1.34 0 0-.75-1.34 0zM1097.14 214.12l1.34 0 0-.75-1.34 0zM1100.14 214.12l1.34 0 0-.75-1.34 0zM1103.14 214.12l1.34 0 0-.75-1.34 0zM1106.14 214.12l1.34 0 0-.75-1.34 0zM1109.14 214.12l1.34 0 0-.75-1.34 0zM1112.14 214.12l1.34 0 0-.75-1.34 0zM1115.14 214.12l1.34 0 0-.75-1.34 0zM1118.14 214.12l1.34 0 0-.75-1.34 0zM1121.14 214.12l1.34 0 0-.75-1.34 0zM1124.14 214.12l1.34 0 0-.75-1.34 0zM1127.14 214.12l1.34 0 0-.75-1.34 0zM1130.14 214.12l1.34 0 0-.75-1.34 0zM1133.14 214.12l1.34 0 0-.75-1.34 0zM1136.89 214.12l.3 0 0-.75-.3 0zM1136.14 214.12l.75 0 0-.75-.75 0z"/>
<path fill="#FF0000" d="M159.15 1034.42l.21-.2-.52-.54-.21 .2zM159.37 1034.22l.76-.72-.52-.54-.76 .72zM161.33 1032.36l2.61-2.47-.52-.54-2.61 2.47zM165.14 1028.75l.97-.92-.52-.54-.97 .92zM167.32 1026.69l2.61-2.47-.52-.54-2.61 2.47zM171.13 1023.08l.97-.92-.52-.54-.97 .92zM173.31 1021.02l2.61-2.47-.52-.54-2.61 2.47zM177.12 1017.41l.97-.92-.52-.54-.97 .92zM179.3 1015.34l2.61-2.47-.52-.54-2.61 2.47zM183.11 1011.73l.97-.92-.52-.54-.97 .92zM185.29 1009.67l2.61-2.47-.52-.54-2.61 2.47zM189.1 1006.06l.97-.92-.52-.54-.97 .92zM191.28 1004l2.61-2.47-.52-.54-2.61 2.47zM195.09 1000.39l.97-.92-.52-.54-.97 .92zM197.27 998.32l2.61-2.47-.52-.54-2.61 2.47zM201.08 994.71l.97-.92-.52-.54-.97 .92zM203.26 992.65l2.61-2.47-.52-.54-2.61 2.47zM207.07 989.04l.97-.92-.52-.54-.97 .92zM209.25 986.98l2.61-2.47-.52-.54-2.61 2.47zM213.06 983.37l.97-.92-.52-.54-.97 .92zM215.24 981.31l2.61-2.47-.52-.54-2.61 2.47zM219.05 977.7l.97-.92-.52-.54-.97 .92zM221.23 975.63l2.61-2.47-.52-.54-2.61 2.47zM225.04 972.02l.97-.92-.52-.54-.97 .92zM227.22 969.96l2.61-2.47-.52-.54-2.61 2.47zM231.03 966.35l.97-.92-.52-.54-.97 .92zM233.21 964.29l2.61-2.47-.52-.54-2.61 2.47zM237.02 960.68l.97-.92-.52-.54-.97 .92zM239.2 958.61l2.61-2.47-.52-.54-2.61 2.47zM243.01 955l.97-.92-.52-.54-.97 .92zM245.19 952.94l2.61-2.47-.52-.54-2.61 2.47zM249 949.33l.97-.92-.52-.54-.97 .92zM251.18 947.27l2.61-2.47-.52-.54-2.61 2.47zM255 943.66l.97-.92-.52-.54-.97 .92zM257.17 941.6l2.61-2.47-.52-.54-2.61 2.47zM260.99 937.99l.97-.92-.52-.54-.97 .92zM263.16 935.92l2.61-2.47-.52-.54-2.61 2.47zM266.98 932.31l.97-.92-.52-.54-.97 .92zM269.15 930.25l2.61-2.47-.52-.54-2.61 2.47zM272.97 926.64l.97-.92-.52-.54-.97 .92zM275.14 924.58l2.61-2.47-.52-.54-2.61 2.47zM278.96 920.97l.97-.92-.52-.54-.97 .92zM281.13 918.9l.46-.43-.52-.54-.46 .43zM281.52 918.53l2.57-1.47-.37-.65-2.57 1.47zM285.53 916.22l1.16-.67-.37-.65-1.16 .67zM288.13 914.73l3.11-1.79-.37-.65-3.11 1.79zM292.68 912.11l1.16-.67-.37-.65-1.16 .67zM295.28 910.62l3.11-1.79-.37-.65-3.11 1.79zM299.83 908.01l1.16-.67-.37-.65-1.16 .67zM302.44 906.51l3.11-1.79-.37-.65-3.11 1.79zM306.99 903.9l1.16-.67-.37-.65-1.16 .67zM309.59 902.4l3.11-1.79-.37-.65-3.11 1.79zM314.14 899.79l1.16-.67-.37-.65-1.16 .67zM316.74 898.29l3.11-1.79-.37-.65-3.11 1.79zM321.3 895.68l1.16-.67-.37-.65-1.16 .67zM323.9 894.18l3.11-1.79-.37-.65-3.11 1.79zM328.45 891.57l1.16-.67-.37-.65-1.16 .67zM331.05 890.08l3.11-1.79-.37-.65-3.11 1.79zM335.6 887.46l1.16-.67-.37-.65-1.16 .67zM338.21 885.97l3.11-1.79-.37-.65-3.11 1.79zM342.76 883.35l1.16-.67-.37-.65-1.16 .67zM345.36 881.86l3.11-1.79-.37-.65-3.11 1.79zM349.91 879.24l1.16-.67-.37-.65-1.16 .67zM352.51 877.75l3.11-1.79-.37-.65-3.11 1.79zM357.07 875.13l1.16-.67-.37-.65-1.16 .67zM359.67 873.64l3.11-1.79-.37-.65-3.11 1.79zM364.22 871.02l1.16-.67-.37-.65-1.16 .67zM366.82 869.53l3.11-1.79-.37-.65-3.11 1.79zM371.37 866.92l1.16-.67-.37-.65-1.16 .67zM373.98 865.42l3.11-1.79-.37-.65-3.11 1.79zM378.53 862.81l1.16-.67-.37-.65-1.16 .67zM381.13 861.31l3.11-1.79-.37-.65-3.11 1.79zM385.68 858.7l1.16-.67-.37-.65-1.16 .67zM388.28 857.2l3.11-1.79-.37-.65-3.11 1.79zM392.84 854.59l1.16-.67-.37-.65-1.16 .67zM395.44 853.09l3.11-1.79-.37-.65-3.11 1.79zM399.99 850.48l1.16-.67-.37-.65-1.16 .67zM402.59 848.99l1.15-.66-.37-.65-1.15 .66zM403.81 848.27l1.63-1.57-.52-.54-1.63 1.57zM406.65 845.55l.97-.93-.52-.54-.97 .93zM408.81 843.48l2.59-2.49-.52-.54-2.59 2.49zM412.6 839.84l.97-.93-.52-.54-.97 .93zM414.76 837.77l2.59-2.49-.52-.54-2.59 2.49zM418.55 834.13l.97-.93-.52-.54-.97 .93zM420.72 832.06l2.59-2.49-.52-.54-2.59 2.49zM424.51 828.42l.97-.93-.52-.54-.97 .93zM426.67 826.34l2.59-2.49-.52-.54-2.59 2.49zM430.46 822.71l.97-.93-.52-.54-.97 .93zM432.62 820.63l2.59-2.49-.52-.54-2.59 2.49zM436.41 817l.97-.93-.52-.54-.97 .93zM438.58 814.92l2.59-2.49-.52-.54-2.59 2.49zM442.37 811.29l.97-.93-.52-.54-.97 .93zM444.53 809.21l2.59-2.49-.52-.54-2.59 2.49zM448.32 805.58l.97-.93-.52-.54-.97 .93zM450.48 803.5l2.59-2.49-.52-.54-2.59 2.49zM454.27 799.86l.97-.93-.52-.54-.97 .93zM456.44 797.79l2.59-2.49-.52-.54-2.59 2.49zM460.23 794.15l.97-.93-.52-.54-.97 .93zM462.39 792.08l2.59-2.49-.52-.54-2.59 2.49zM466.18 788.44l.97-.93-.52-.54-.97 .93zM468.34 786.36l2.59-2.49-.52-.54-2.59 2.49zM472.13 782.73l.97-.93-.52-.54-.97 .93zM474.3 780.65l2.59-2.49-.52-.54-2.59 2.49zM478.09 777.02l.97-.93-.52-.54-.97 .93zM480.25 774.94l2.59-2.49-.52-.54-2.59 2.49zM484.04 771.31l.97-.93-.52-.54-.97 .93zM486.21 769.23l2.59-2.49-.52-.54-2.59 2.49zM489.99 765.6l.97-.93-.52-.54-.97 .93zM492.16 763.52l2.59-2.49-.52-.54-2.59 2.49zM495.95 759.89l.97-.93-.52-.54-.97 .93zM498.11 757.81l2.59-2.49-.52-.54-2.59 2.49zM501.9 754.17l.97-.93-.52-.54-.97 .93zM504.07 752.1l2.59-2.49-.52-.54-2.59 2.49zM507.85 748.46l.97-.93-.52-.54-.97 .93zM510.02 746.39l2.59-2.49-.52-.54-2.59 2.49zM513.81 742.75l.97-.93-.52-.54-.97 .93zM515.97 740.67l2.59-2.49-.52-.54-2.59 2.49zM519.76 737.04l.97-.93-.52-.54-.97 .93zM521.93 734.96l2.59-2.49-.52-.54-2.59 2.49zM525.71 731.33l.32-.31-.52-.54-.32 .31zM526.06 730.99l.57-.69-.58-.48-.57 .69zM527.7 729.03l2.3-2.76-.58-.48-2.3 2.76zM531.06 724.99l.86-1.03-.58-.48-.86 1.03zM532.98 722.69l2.3-2.76-.58-.48-2.3 2.76zM536.34 718.66l.86-1.03-.58-.48-.86 1.03zM538.26 716.35l2.3-2.76-.58-.48-2.3 2.76zM541.63 712.32l.86-1.03-.58-.48-.86 1.03zM543.55 710.02l2.3-2.76-.58-.48-2.3 2.76zM546.91 705.98l.86-1.03-.58-.48-.86 1.03zM548.83 703.68l2.3-2.76-.58-.48-2.3 2.76zM552.19 699.64l.86-1.03-.58-.48-.86 1.03zM554.11 697.34l2.3-2.76-.58-.48-2.3 2.76zM557.47 693.31l.86-1.03-.58-.48-.86 1.03zM559.39 691l2.3-2.76-.58-.48-2.3 2.76zM562.75 686.97l.86-1.03-.58-.48-.86 1.03zM564.67 684.66l2.3-2.76-.58-.48-2.3 2.76zM568.03 680.63l.86-1.03-.58-.48-.86 1.03zM569.96 678.33l2.3-2.76-.58-.48-2.3 2.76zM573.32 674.29l.86-1.03-.58-.48-.86 1.03zM575.24 671.99l2.3-2.76-.58-.48-2.3 2.76zM578.6 667.96l.86-1.03-.58-.48-.86 1.03zM580.52 665.65l2.3-2.76-.58-.48-2.3 2.76zM583.88 661.62l.86-1.03-.58-.48-.86 1.03zM585.8 659.31l2.3-2.76-.58-.48-2.3 2.76zM589.16 655.28l.86-1.03-.58-.48-.86 1.03zM591.08 652.98l2.3-2.76-.58-.48-2.3 2.76zM594.44 648.94l.86-1.03-.58-.48-.86 1.03zM596.36 646.64l2.3-2.76-.58-.48-2.3 2.76zM599.73 642.61l.86-1.03-.58-.48-.86 1.03zM601.65 640.3l2.3-2.76-.58-.48-2.3 2.76zM605.01 636.27l.86-1.03-.58-.48-.86 1.03zM606.93 633.96l2.3-2.76-.58-.48-2.3 2.76zM610.29 629.93l.86-1.03-.58-.48-.86 1.03zM612.21 627.63l2.3-2.76-.58-.48-2.3 2.76zM615.57 623.59l.86-1.03-.58-.48-.86 1.03zM617.49 621.29l2.3-2.76-.58-.48-2.3 2.76zM620.85 617.26l.86-1.03-.58-.48-.86 1.03zM622.77 614.95l2.3-2.76-.58-.48-2.3 2.76zM626.14 610.92l.86-1.03-.58-.48-.86 1.03zM628.06 608.61l2.3-2.76-.58-.48-2.3 2.76zM631.42 604.58l.86-1.03-.58-.48-.86 1.03zM633.34 602.28l2.3-2.76-.58-.48-2.3 2.76zM636.7 598.24l.86-1.03-.58-.48-.86 1.03zM638.62 595.94l2.3-2.76-.58-.48-2.3 2.76zM641.98 591.91l.86-1.03-.58-.48-.86 1.03zM643.9 589.6l2.3-2.76-.58-.48-2.3 2.76zM647.26 585.57l.86-1.03-.58-.48-.86 1.03zM649.3 583.46l2.69-2.37-.5-.56-2.69 2.37zM653.23 579.98l1-.89-.5-.56-1 .89zM655.48 578l2.69-2.37-.5-.56-2.69 2.37zM659.42 574.53l1-.89-.5-.56-1 .89zM661.67 572.54l2.69-2.37-.5-.56-2.69 2.37zM665.61 569.07l1-.89-.5-.56-1 .89zM667.86 567.08l2.69-2.37-.5-.56-2.69 2.37zM671.8 563.61l1-.89-.5-.56-1 .89zM674.05 561.63l2.69-2.37-.5-.56-2.69 2.37zM677.98 558.15l1-.89-.5-.56-1 .89zM680.23 556.17l2.69-2.37-.5-.56-2.69 2.37zM684.17 552.7l1-.89-.5-.56-1 .89zM686.42 550.71l2.69-2.37-.5-.56-2.69 2.37zM690.36 547.24l1-.89-.5-.56-1 .89zM692.61 545.26l2.69-2.37-.5-.56-2.69 2.37zM696.54 541.78l1-.89-.5-.56-1 .89zM698.79 539.8l2.69-2.37-.5-.56-2.69 2.37zM702.73 536.33l1-.89-.5-.56-1 .89zM704.98 534.34l2.69-2.37-.5-.56-2.69 2.37zM708.92 530.87l1-.89-.5-.56-1 .89zM711.17 528.88l2.69-2.37-.5-.56-2.69 2.37zM715.11 525.41l1-.89-.5-.56-1 .89zM717.36 523.43l2.69-2.37-.5-.56-2.69 2.37zM721.29 519.95l1-.89-.5-.56-1 .89zM723.54 517.97l2.69-2.37-.5-.56-2.69 2.37zM727.48 514.5l1-.89-.5-.56-1 .89zM729.73 512.51l2.69-2.37-.5-.56-2.69 2.37zM733.67 509.04l1-.89-.5-.56-1 .89zM735.92 507.05l2.69-2.37-.5-.56-2.69 2.37zM739.86 503.58l1-.89-.5-.56-1 .89zM742.11 501.6l2.69-2.37-.5-.56-2.69 2.37zM746.04 498.13l1-.89-.5-.56-1 .89zM748.29 496.14l2.69-2.37-.5-.56-2.69 2.37zM752.23 492.67l1-.89-.5-.56-1 .89zM754.48 490.68l2.69-2.37-.5-.56-2.69 2.37zM758.42 487.21l1-.89-.5-.56-1 .89zM760.67 485.23l2.69-2.37-.5-.56-2.69 2.37zM764.6 481.75l1-.89-.5-.56-1 .89zM766.85 479.77l2.69-2.37-.5-.56-2.69 2.37zM770.79 476.22l.87-1.02-.57-.49-.87 1.02zM772.74 473.94l2.33-2.73-.57-.49-2.33 2.73zM776.15 469.95l.87-1.02-.57-.49-.87 1.02zM778.1 467.67l2.33-2.73-.57-.49-2.33 2.73zM781.51 463.68l.87-1.02-.57-.49-.87 1.02zM783.47 461.4l2.33-2.73-.57-.49-2.33 2.73zM786.88 457.41l.87-1.02-.57-.49-.87 1.02zM788.83 455.13l2.33-2.73-.57-.49-2.33 2.73zM792.24 451.15l.87-1.02-.57-.49-.87 1.02zM794.19 448.87l2.33-2.73-.57-.49-2.33 2.73zM797.61 444.88l.87-1.02-.57-.49-.87 1.02zM799.56 442.6l2.33-2.73-.57-.49-2.33 2.73zM802.97 438.61l.87-1.02-.57-.49-.87 1.02zM804.92 436.33l2.33-2.73-.57-.49-2.33 2.73zM808.34 432.34l.87-1.02-.57-.49-.87 1.02zM810.29 430.06l2.33-2.73-.57-.49-2.33 2.73zM813.7 426.07l.87-1.02-.57-.49-.87 1.02zM815.65 423.8l2.33-2.73-.57-.49-2.33 2.73zM819.07 419.81l.87-1.02-.57-.49-.87 1.02zM821.02 417.53l2.33-2.73-.57-.49-2.33 2.73zM824.43 413.54l.87-1.02-.57-.49-.87 1.02zM826.38 411.26l2.33-2.73-.57-.49-2.33 2.73zM829.8 407.27l.87-1.02-.57-.49-.87 1.02zM831.75 404.99l2.33-2.73-.57-.49-2.33 2.73zM835.16 401l.87-1.02-.57-.49-.87 1.02zM837.11 398.72l2.33-2.73-.57-.49-2.33 2.73zM840.52 394.74l.87-1.02-.57-.49-.87 1.02zM842.48 392.46l2.33-2.73-.57-.49-2.33 2.73zM845.89 388.47l.87-1.02-.57-.49-.87 1.02zM847.84 386.19l2.33-2.73-.57-.49-2.33 2.73zM851.25 382.2l.87-1.02-.57-.49-.87 1.02zM853.2 379.92l2.33-2.73-.57-.49-2.33 2.73zM856.62 375.93l.87-1.02-.57-.49-.87 1.02zM858.57 373.65l2.33-2.73-.57-.49-2.33 2.73zM861.98 369.67l.87-1.02-.57-.49-.87 1.02zM863.93 367.39l2.33-2.73-.57-.49-2.33 2.73zM867.35 363.4l.87-1.02-.57-.49-.87 1.02zM869.3 361.12l2.33-2.73-.57-.49-2.33 2.73zM872.71 357.13l.87-1.02-.57-.49-.87 1.02zM874.66 354.85l2.33-2.73-.57-.49-2.33 2.73zM878.08 350.86l.87-1.02-.57-.49-.87 1.02zM880.03 348.58l2.33-2.73-.57-.49-2.33 2.73zM883.44 344.59l.87-1.02-.57-.49-.87 1.02zM885.39 342.32l2.33-2.73-.57-.49-2.33 2.73zM888.81 338.33l.87-1.02-.57-.49-.87 1.02zM890.76 336.05l1.97-2.3-.57-.49-1.97 2.3zM892.72 333.75l.37-.42-.56-.5-.37 .42zM894.2 332.09l.89-1-.56-.5-.89 1zM896.19 329.85l2.39-2.68-.56-.5-2.39 2.68zM899.68 325.93l.89-1-.56-.5-.89 1zM901.67 323.69l2.39-2.68-.56-.5-2.39 2.68zM905.16 319.76l.89-1-.56-.5-.89 1zM907.16 317.52l2.39-2.68-.56-.5-2.39 2.68zM910.65 313.6l.89-1-.56-.5-.89 1zM912.64 311.36l2.39-2.68-.56-.5-2.39 2.68zM916.13 307.44l.89-1-.56-.5-.89 1zM918.12 305.19l2.39-2.68-.56-.5-2.39 2.68zM921.61 301.27l.89-1-.56-.5-.89 1zM923.61 299.03l2.39-2.68-.56-.5-2.39 2.68zM927.1 295.11l.89-1-.56-.5-.89 1zM929.09 292.87l2.39-2.68-.56-.5-2.39 2.68zM932.58 288.94l.89-1-.56-.5-.89 1zM934.57 286.7l2.39-2.68-.56-.5-2.39 2.68zM938.06 282.78l.89-1-.56-.5-.89 1zM940.06 280.54l2.39-2.68-.56-.5-2.39 2.68zM943.55 276.62l.89-1-.56-.5-.89 1zM945.54 274.37l2.39-2.68-.56-.5-2.39 2.68zM949.03 270.45l.89-1-.56-.5-.89 1zM951.02 268.21l2.39-2.68-.56-.5-2.39 2.68zM954.51 264.29l.89-1-.56-.5-.89 1zM956.51 262.05l2.39-2.68-.56-.5-2.39 2.68zM960 258.12l.89-1-.56-.5-.89 1zM961.99 255.88l2.39-2.68-.56-.5-2.39 2.68zM965.48 251.96l.89-1-.56-.5-.89 1zM967.47 249.72l2.39-2.68-.56-.5-2.39 2.68zM970.96 245.79l.89-1-.56-.5-.89 1zM972.96 243.55l2.39-2.68-.56-.5-2.39 2.68zM976.45 239.63l.89-1-.56-.5-.89 1zM978.44 237.39l2.39-2.68-.56-.5-2.39 2.68zM981.93 233.47l.89-1-.56-.5-.89 1zM983.92 231.22l2.39-2.68-.56-.5-2.39 2.68zM987.41 227.3l.89-1-.56-.5-.89 1zM989.41 225.06l2.39-2.68-.56-.5-2.39 2.68zM992.9 221.14l.89-1-.56-.5-.89 1zM994.89 218.9l2.39-2.68-.56-.5-2.39 2.68zM998.38 214.97l.89-1-.56-.5-.89 1zM1000.37 212.73l2.39-2.68-.56-.5-2.39 2.68zM1003.86 208.81l.89-1-.56-.5-.89 1zM1005.86 206.57l2.39-2.68-.56-.5-2.39 2.68zM1009.34 202.65l.89-1-.56-.5-.89 1zM1011.34 200.4l2.39-2.68-.56-.5-2.39 2.68zM1014.83 196.48l.12-.13-.56-.5-.12 .13zM1014.67 196.47l1.16 0 0-.75-1.16 0zM1017.49 196.47l3.59 0 0-.75-3.59 0zM1022.74 196.47l1.34 0 0-.75-1.34 0zM1025.74 196.47l3.59 0 0-.75-3.59 0zM1030.99 196.47l1.34 0 0-.75-1.34 0zM1033.99 196.47l3.59 0 0-.75-3.59 0zM1039.24 196.47l1.34 0 0-.75-1.34 0zM1042.24 196.47l3.59 0 0-.75-3.59 0zM1047.49 196.47l1.34 0 0-.75-1.34 0zM1050.49 196.47l3.59 0 0-.75-3.59 0zM1055.74 196.47l1.34 0 0-.75-1.34 0zM1058.74 196.47l3.59 0 0-.75-3.59 0zM1063.99 196.47l1.34 0 0-.75-1.34 0zM1066.99 196.47l3.59 0 0-.75-3.59 0zM1072.24 196.47l1.34 0 0-.75-1.34 0zM1075.24 196.47l3.59 0 0-.75-3.59 0zM1080.49 196.47l1.34 0 0-.75-1.34 0zM1083.49 196.47l3.59 0 0-.75-3.59 0zM1088.74 196.47l1.34 0 0-.75-1.34 0zM1091.74 196.47l3.59 0 0-.75-3.59 0zM1096.99 196.47l1.34 0 0-.75-1.34 0zM1099.99 196.47l3.59 0 0-.75-3.59 0zM1105.24 196.47l1.34 0 0-.75-1.34 0zM1108.24 196.47l3.59 0 0-.75-3.59 0zM1113.49 196.47l1.34 0 0-.75-1.34 0zM1116.49 196.47l3.59 0 0-.75-3.59 0zM1121.74 196.47l1.34 0 0-.75-1.34 0zM1124.74 196.47l3.59 0 0-.75-3.59 0zM1129.99 196.47l1.34 0 0-.75-1.34 0zM1132.99 196.47l3.59 0 0-.75-3.59 0z"/>
<path fill="#00CD00" d="M159.15 1034.49l.21-.2-.51-.55-.21 .2zM159.37 1034.29l4.04-3.8-.51-.55-4.04 3.8zM164.61 1029.35l4.25-4-.51-.55-4.25 4zM170.07 1024.21l4.25-4-.51-.55-4.25 4zM175.53 1019.06l4.25-4-.51-.55-4.25 4zM180.99 1013.92l4.25-4-.51-.55-4.25 4zM186.45 1008.78l4.25-4-.51-.55-4.25 4zM191.91 1003.64l4.25-4-.51-.55-4.25 4zM197.37 998.5l4.25-4-.51-.55-4.25 4zM202.83 993.35l4.25-4-.51-.55-4.25 4zM208.29 988.21l4.25-4-.51-.55-4.25 4zM213.75 983.07l4.25-4-.51-.55-4.25 4zM219.21 977.93l4.25-4-.51-.55-4.25 4zM224.67 972.78l4.25-4-.51-.55-4.25 4zM230.13 967.64l4.25-4-.51-.55-4.25 4zM235.59 962.5l4.25-4-.51-.55-4.25 4zM241.05 957.36l4.25-4-.51-.55-4.25 4zM246.51 952.22l4.25-4-.51-.55-4.25 4zM251.97 947.07l4.25-4-.51-.55-4.25 4zM257.43 941.93l4.25-4-.51-.55-4.25 4zM262.89 936.79l4.25-4-.51-.55-4.25 4zM268.35 931.65l4.25-4-.51-.55-4.25 4zM273.8 926.5l4.25-4-.51-.55-4.25 4zM279.26 921.36l2.32-2.19-.51-.55-2.32 2.19zM281.52 919.22l2.29-1.33-.38-.65-2.29 1.33zM285.24 917.05l5.04-2.95-.38-.65-5.04 2.95zM291.72 913.27l5.04-2.95-.38-.65-5.04 2.95zM298.19 909.49l5.04-2.95-.38-.65-5.04 2.95zM304.67 905.7l5.04-2.95-.38-.65-5.04 2.95zM311.14 901.92l5.04-2.95-.38-.65-5.04 2.95zM317.62 898.14l5.04-2.95-.38-.65-5.04 2.95zM324.1 894.35l5.04-2.95-.38-.65-5.04 2.95zM330.57 890.57l5.04-2.95-.38-.65-5.04 2.95zM337.05 886.79l5.04-2.95-.38-.65-5.04 2.95zM343.52 883l5.04-2.95-.38-.65-5.04 2.95zM350 879.22l5.04-2.95-.38-.65-5.04 2.95zM356.48 875.44l5.04-2.95-.38-.65-5.04 2.95zM362.95 871.65l5.04-2.95-.38-.65-5.04 2.95zM369.43 867.87l5.04-2.95-.38-.65-5.04 2.95zM375.9 864.09l5.04-2.95-.38-.65-5.04 2.95zM382.38 860.3l5.04-2.95-.38-.65-5.04 2.95zM388.85 856.52l5.04-2.95-.38-.65-5.04 2.95zM395.33 852.74l5.04-2.95-.38-.65-5.04 2.95zM401.81 848.96l1.94-1.13-.38-.65-1.94 1.13zM403.82 847.77l2.56-2.53-.53-.53-2.56 2.53zM407.55 844.07l4.15-4.11-.53-.53-4.15 4.11zM412.88 838.79l4.15-4.11-.53-.53-4.15 4.11zM418.21 833.51l4.15-4.11-.53-.53-4.15 4.11zM423.54 828.24l4.15-4.11-.53-.53-4.15 4.11zM428.87 822.96l4.15-4.11-.53-.53-4.15 4.11zM434.2 817.69l4.15-4.11-.53-.53-4.15 4.11zM439.53 812.41l4.15-4.11-.53-.53-4.15 4.11zM444.86 807.13l4.15-4.11-.53-.53-4.15 4.11zM450.19 801.86l4.15-4.11-.53-.53-4.15 4.11zM455.52 796.58l4.15-4.11-.53-.53-4.15 4.11zM460.85 791.3l4.15-4.11-.53-.53-4.15 4.11zM466.18 786.03l4.15-4.11-.53-.53-4.15 4.11zM471.51 780.75l4.15-4.11-.53-.53-4.15 4.11zM476.84 775.47l4.15-4.11-.53-.53-4.15 4.11zM482.17 770.2l4.15-4.11-.53-.53-4.15 4.11zM487.5 764.92l4.15-4.11-.53-.53-4.15 4.11zM492.83 759.64l4.15-4.11-.53-.53-4.15 4.11zM498.16 754.37l4.15-4.11-.53-.53-4.15 4.11zM503.49 749.09l4.15-4.11-.53-.53-4.15 4.11zM508.82 743.81l4.15-4.11-.53-.53-4.15 4.11zM514.15 738.54l4.15-4.11-.53-.53-4.15 4.11zM519.48 733.26l4.15-4.11-.53-.53-4.15 4.11zM524.81 727.98l1.23-1.22-.53-.53-1.23 1.22zM526.07 726.74l2.58-3.2-.58-.47-2.58 3.2zM529.69 722.24l3.66-4.55-.58-.47-3.66 4.55zM534.39 716.4l3.66-4.55-.58-.47-3.66 4.55zM539.09 710.55l3.66-4.55-.58-.47-3.66 4.55zM543.79 704.71l3.66-4.55-.58-.47-3.66 4.55zM548.49 698.87l3.66-4.55-.58-.47-3.66 4.55zM553.19 693.02l3.66-4.55-.58-.47-3.66 4.55zM557.9 687.18l3.66-4.55-.58-.47-3.66 4.55zM562.6 681.34l3.66-4.55-.58-.47-3.66 4.55zM567.3 675.49l3.66-4.55-.58-.47-3.66 4.55zM572 669.65l3.66-4.55-.58-.47-3.66 4.55zM576.7 663.81l3.66-4.55-.58-.47-3.66 4.55zM581.4 657.96l3.66-4.55-.58-.47-3.66 4.55zM586.11 652.12l3.66-4.55-.58-.47-3.66 4.55zM590.81 646.28l3.66-4.55-.58-.47-3.66 4.55zM595.51 640.43l3.66-4.55-.58-.47-3.66 4.55zM600.21 634.59l3.66-4.55-.58-.47-3.66 4.55zM604.91 628.75l3.66-4.55-.58-.47-3.66 4.55zM609.61 622.9l3.66-4.55-.58-.47-3.66 4.55zM614.32 617.06l3.66-4.55-.58-.47-3.66 4.55zM619.02 611.22l3.66-4.55-.58-.47-3.66 4.55zM623.72 605.37l3.66-4.55-.58-.47-3.66 4.55zM628.42 599.53l3.66-4.55-.58-.47-3.66 4.55zM633.12 593.69l3.66-4.55-.58-.47-3.66 4.55zM637.82 587.84l3.66-4.55-.58-.47-3.66 4.55zM642.53 582l3.66-4.55-.58-.47-3.66 4.55zM647.23 576.16l1.06-1.32-.58-.47-1.06 1.32zM648.24 574.89l3.16-2.69-.49-.57-3.16 2.69zM652.66 571.12l4.45-3.79-.49-.57-4.45 3.79zM658.37 566.26l4.45-3.79-.49-.57-4.45 3.79zM664.08 561.4l4.45-3.79-.49-.57-4.45 3.79zM669.79 556.53l4.45-3.79-.49-.57-4.45 3.79zM675.5 551.67l4.45-3.79-.49-.57-4.45 3.79zM681.21 546.81l4.45-3.79-.49-.57-4.45 3.79zM686.92 541.94l4.45-3.79-.49-.57-4.45 3.79zM692.63 537.08l4.45-3.79-.49-.57-4.45 3.79zM698.34 532.22l4.45-3.79-.49-.57-4.45 3.79zM704.05 527.35l4.45-3.79-.49-.57-4.45 3.79zM709.76 522.49l4.45-3.79-.49-.57-4.45 3.79zM715.47 517.63l4.45-3.79-.49-.57-4.45 3.79zM721.18 512.76l4.45-3.79-.49-.57-4.45 3.79zM726.89 507.9l4.45-3.79-.49-.57-4.45 3.79zM732.6 503.04l4.45-3.79-.49-.57-4.45 3.79zM738.31 498.18l4.45-3.79-.49-.57-4.45 3.79zM744.02 493.31l4.45-3.79-.49-.57-4.45 3.79zM749.73 488.45l4.45-3.79-.49-.57-4.45 3.79zM755.43 483.59l4.45-3.79-.49-.57-4.45 3.79zM761.14 478.72l4.45-3.79-.49-.57-4.45 3.79zM766.85 473.86l3.61-3.07-.49-.57-3.61 3.07zM770.51 470.74l.72-.83-.57-.49-.72 .83zM772.3 468.65l3.81-4.43-.57-.49-3.81 4.43zM777.19 462.96l3.81-4.43-.57-.49-3.81 4.43zM782.08 457.28l3.81-4.43-.57-.49-3.81 4.43zM786.97 451.59l3.81-4.43-.57-.49-3.81 4.43zM791.86 445.9l3.81-4.43-.57-.49-3.81 4.43zM796.75 440.21l3.81-4.43-.57-.49-3.81 4.43zM801.64 434.53l3.81-4.43-.57-.49-3.81 4.43zM806.52 428.84l3.81-4.43-.57-.49-3.81 4.43zM811.41 423.15l3.81-4.43-.57-.49-3.81 4.43zM816.3 417.46l3.81-4.43-.57-.49-3.81 4.43zM821.19 411.78l3.81-4.43-.57-.49-3.81 4.43zM826.08 406.09l3.81-4.43-.57-.49-3.81 4.43zM830.97 400.4l3.81-4.43-.57-.49-3.81 4.43zM835.86 394.71l3.81-4.43-.57-.49-3.81 4.43zM840.74 389.02l3.81-4.43-.57-.49-3.81 4.43zM845.63 383.34l3.81-4.43-.57-.49-3.81 4.43zM850.52 377.65l3.81-4.43-.57-.49-3.81 4.43zM855.41 371.96l3.81-4.43-.57-.49-3.81 4.43zM860.3 366.27l3.81-4.43-.57-.49-3.81 4.43zM865.19 360.59l3.81-4.43-.57-.49-3.81 4.43zM870.08 354.9l3.81-4.43-.57-.49-3.81 4.43zM874.97 349.21l3.81-4.43-.57-.49-3.81 4.43zM879.85 343.52l3.81-4.43-.57-.49-3.81 4.43zM884.74 337.83l3.81-4.43-.57-.49-3.81 4.43zM889.63 332.15l3.1-3.6-.57-.49-3.1 3.6zM892.72 328.55l.73-.81-.56-.5-.73 .81zM894.55 326.49l3.88-4.36-.56-.5-3.88 4.36zM899.54 320.89l3.88-4.36-.56-.5-3.88 4.36zM904.53 315.29l3.88-4.36-.56-.5-3.88 4.36zM909.51 309.69l3.88-4.36-.56-.5-3.88 4.36zM914.5 304.09l3.88-4.36-.56-.5-3.88 4.36zM919.49 298.49l3.88-4.36-.56-.5-3.88 4.36zM924.47 292.88l3.88-4.36-.56-.5-3.88 4.36zM929.46 287.28l3.88-4.36-.56-.5-3.88 4.36zM934.45 281.68l3.88-4.36-.56-.5-3.88 4.36zM939.43 276.08l3.88-4.36-.56-.5-3.88 4.36zM944.42 270.48l3.88-4.36-.56-.5-3.88 4.36zM949.41 264.87l3.88-4.36-.56-.5-3.88 4.36zM954.39 259.27l3.88-4.36-.56-.5-3.88 4.36zM959.38 253.67l3.88-4.36-.56-.5-3.88 4.36zM964.37 248.07l3.88-4.36-.56-.5-3.88 4.36zM969.35 242.47l3.88-4.36-.56-.5-3.88 4.36zM974.34 236.86l3.88-4.36-.56-.5-3.88 4.36zM979.33 231.26l3.88-4.36-.56-.5-3.88 4.36zM984.31 225.66l3.88-4.36-.56-.5-3.88 4.36zM989.3 220.06l3.88-4.36-.56-.5-3.88 4.36zM994.29 214.46l3.88-4.36-.56-.5-3.88 4.36zM999.27 208.85l3.88-4.36-.56-.5-3.88 4.36zM1004.26 203.25l3.88-4.36-.56-.5-3.88 4.36zM1009.25 197.65l3.88-4.36-.56-.5-3.88 4.36zM1014.23 192.05l.71-.8-.56-.5-.71 .8zM1014.67 191.38l4.77 0 0-.75-4.77 0zM1021.1 191.38l5.84 0 0-.75-5.84 0zM1028.6 191.38l5.84 0 0-.75-5.84 0zM1036.1 191.38l5.84 0 0-.75-5.84 0zM1043.6 191.38l5.84 0 0-.75-5.84 0zM1051.1 191.38l5.84 0 0-.75-5.84 0zM1058.6 191.38l5.84 0 0-.75-5.84 0zM1066.1 191.38l5.84 0 0-.75-5.84 0zM1073.6 191.38l5.84 0 0-.75-5.84 0zM1081.1 191.38l5.84 0 0-.75-5.84 0zM1088.6 191.38l5.84 0 0-.75-5.84 0zM1096.1 191.38l5.84 0 0-.75-5.84 0zM1103.6 191.38l5.84 0 0-.75-5.84 0zM1111.1 191.38l5.84 0 0-.75-5.84 0zM1118.6 191.38l5.84 0 0-.75-5.84 0zM1126.1 191.38l5.84 0 0-.75-5.84 0zM1136.89 191.38l.3 0 0-.75-.3 0zM1133.6 191.38l3.29 0 0-.75-3.29 0z"/>
<path fill="#0000FF" d="M159.13 1035.4l122.42-106.6 122.23-70.41 122.27-119.65 122.21-147.99 122.21-97.79 122.24-132.72 122.11-126.38 122.36 0 0-.75-122.68 0-122.34 126.62-122.21 132.68-122.23 97.81-122.23 148.01-122.17 119.55-122.21 70.39-122.47 106.65z"/>
<path fill="#00FFFF" d="M159.13 1035.4l.22-.19-.49-.57-.22 .19zM159.36 1035.21l2.48-2.16-.49-.57-2.48 2.16zM163.66 1031.46l2.71-2.36-.49-.57-2.71 2.36zM168.18 1027.52l2.71-2.36-.49-.57-2.71 2.36zM172.71 1023.58l2.71-2.36-.49-.57-2.71 2.36zM177.23 1019.64l2.71-2.36-.49-.57-2.71 2.36zM181.76 1015.7l2.71-2.36-.49-.57-2.71 2.36zM186.28 1011.76l2.71-2.36-.49-.57-2.71 2.36zM190.81 1007.82l2.71-2.36-.49-.57-2.71 2.36zM195.33 1003.88l2.71-2.36-.49-.57-2.71 2.36zM199.86 999.94l2.71-2.36-.49-.57-2.71 2.36zM204.38 996l2.71-2.36-.49-.57-2.71 2.36zM208.91 992.06l2.71-2.36-.49-.57-2.71 2.36zM213.43 988.12l2.71-2.36-.49-.57-2.71 2.36zM217.96 984.18l2.71-2.36-.49-.57-2.71 2.36zM222.48 980.24l2.71-2.36-.49-.57-2.71 2.36zM227.01 976.3l2.71-2.36-.49-.57-2.71 2.36zM231.53 972.36l2.71-2.36-.49-.57-2.71 2.36zM236.06 968.42l2.71-2.36-.49-.57-2.71 2.36zM240.58 964.48l2.71-2.36-.49-.57-2.71 2.36zM245.11 960.54l2.71-2.36-.49-.57-2.71 2.36zM249.63 956.6l2.71-2.36-.49-.57-2.71 2.36zM254.16 952.66l2.71-2.36-.49-.57-2.71 2.36zM258.68 948.72l2.71-2.36-.49-.57-2.71 2.36zM263.21 944.78l2.71-2.36-.49-.57-2.71 2.36zM267.73 940.84l2.71-2.36-.49-.57-2.71 2.36zM272.26 936.9l2.71-2.36-.49-.57-2.71 2.36zM276.78 932.96l2.71-2.36-.49-.57-2.71 2.36zM281.31 929.02l.27-.24-.49-.57-.27 .24zM281.53 928.82l2.75-1.69-.39-.64-2.75 1.69zM286.34 925.87l3.06-1.88-.39-.64-3.06 1.88zM291.45 922.73l3.06-1.88-.39-.64-3.06 1.88zM296.56 919.59l3.06-1.88-.39-.64-3.06 1.88zM301.68 916.46l3.06-1.88-.39-.64-3.06 1.88zM306.79 913.32l3.06-1.88-.39-.64-3.06 1.88zM311.9 910.18l3.06-1.88-.39-.64-3.06 1.88zM317.02 907.04l3.06-1.88-.39-.64-3.06 1.88zM322.13 903.9l3.06-1.88-.39-.64-3.06 1.88zM327.25 900.77l3.06-1.88-.39-.64-3.06 1.88zM332.36 897.63l3.06-1.88-.39-.64-3.06 1.88zM337.47 894.49l3.06-1.88-.39-.64-3.06 1.88zM342.59 891.35l3.06-1.88-.39-.64-3.06 1.88zM347.7 888.21l3.06-1.88-.39-.64-3.06 1.88zM352.82 885.07l3.06-1.88-.39-.64-3.06 1.88zM357.93 881.94l3.06-1.88-.39-.64-3.06 1.88zM363.04 878.8l3.06-1.88-.39-.64-3.06 1.88zM368.16 875.66l3.06-1.88-.39-.64-3.06 1.88zM373.27 872.52l3.06-1.88-.39-.64-3.06 1.88zM378.39 869.38l3.06-1.88-.39-.64-3.06 1.88zM383.5 866.25l3.06-1.88-.39-.64-3.06 1.88zM388.61 863.11l3.06-1.88-.39-.64-3.06 1.88zM393.73 859.97l3.06-1.88-.39-.64-3.06 1.88zM398.84 856.83l3.06-1.88-.39-.64-3.06 1.88zM403.99 853.59l2.51-2.56-.54-.52-2.51 2.56zM408.19 849.3l2.51-2.56-.54-.52-2.51 2.56zM412.39 845.02l2.51-2.56-.54-.52-2.51 2.56zM416.59 840.73l2.51-2.56-.54-.52-2.51 2.56zM420.79 836.45l2.51-2.56-.54-.52-2.51 2.56zM424.99 832.16l2.51-2.56-.54-.52-2.51 2.56zM429.18 827.88l2.51-2.56-.54-.52-2.51 2.56zM433.38 823.59l2.51-2.56-.54-.52-2.51 2.56zM437.58 819.3l2.51-2.56-.54-.52-2.51 2.56zM441.78 815.02l2.51-2.56-.54-.52-2.51 2.56zM445.98 810.73l2.51-2.56-.54-.52-2.51 2.56zM450.18 806.45l2.51-2.56-.54-.52-2.51 2.56zM454.38 802.16l2.51-2.56-.54-.52-2.51 2.56zM458.58 797.87l2.51-2.56-.54-.52-2.51 2.56zM462.78 793.59l2.51-2.56-.54-.52-2.51 2.56zM466.98 789.3l2.51-2.56-.54-.52-2.51 2.56zM471.17 785.02l2.51-2.56-.54-.52-2.51 2.56zM475.37 780.73l2.51-2.56-.54-.52-2.51 2.56zM479.57 776.45l2.51-2.56-.54-.52-2.51 2.56zM483.77 772.16l2.51-2.56-.54-.52-2.51 2.56zM487.97 767.87l2.51-2.56-.54-.52-2.51 2.56zM492.17 763.59l2.51-2.56-.54-.52-2.51 2.56zM496.37 759.3l2.51-2.56-.54-.52-2.51 2.56zM500.57 755.02l2.51-2.56-.54-.52-2.51 2.56zM504.77 750.73l2.51-2.56-.54-.52-2.51 2.56zM508.97 746.44l2.51-2.56-.54-.52-2.51 2.56zM513.16 742.16l2.51-2.56-.54-.52-2.51 2.56zM517.36 737.87l2.51-2.56-.54-.52-2.51 2.56zM521.56 733.59l2.51-2.56-.54-.52-2.51 2.56zM525.76 729.3l.28-.29-.54-.52-.28 .29zM526.07 728.98l1.98-2.49-.59-.47-1.98 2.49zM529.55 724.6l2.23-2.81-.59-.47-2.23 2.81zM533.29 719.91l2.23-2.81-.59-.47-2.23 2.81zM537.02 715.21l2.23-2.81-.59-.47-2.23 2.81zM540.76 710.52l2.23-2.81-.59-.47-2.23 2.81zM544.49 705.82l2.23-2.81-.59-.47-2.23 2.81zM548.23 701.13l2.23-2.81-.59-.47-2.23 2.81zM551.96 696.43l2.23-2.81-.59-.47-2.23 2.81zM555.7 691.74l2.23-2.81-.59-.47-2.23 2.81zM559.43 687.04l2.23-2.81-.59-.47-2.23 2.81zM563.17 682.34l2.23-2.81-.59-.47-2.23 2.81zM566.91 677.65l2.23-2.81-.59-.47-2.23 2.81zM570.64 672.95l2.23-2.81-.59-.47-2.23 2.81zM574.38 668.26l2.23-2.81-.59-.47-2.23 2.81zM578.11 663.56l2.23-2.81-.59-.47-2.23 2.81zM581.85 658.87l2.23-2.81-.59-.47-2.23 2.81zM585.58 654.17l2.23-2.81-.59-.47-2.23 2.81zM589.32 649.47l2.23-2.81-.59-.47-2.23 2.81zM593.05 644.78l2.23-2.81-.59-.47-2.23 2.81zM596.79 640.08l2.23-2.81-.59-.47-2.23 2.81zM600.52 635.39l2.23-2.81-.59-.47-2.23 2.81zM604.26 630.69l2.23-2.81-.59-.47-2.23 2.81zM607.99 626l2.23-2.81-.59-.47-2.23 2.81zM611.73 621.3l2.23-2.81-.59-.47-2.23 2.81zM615.46 616.61l2.23-2.81-.59-.47-2.23 2.81zM619.2 611.91l2.23-2.81-.59-.47-2.23 2.81zM622.93 607.21l2.23-2.81-.59-.47-2.23 2.81zM626.67 602.52l2.23-2.81-.59-.47-2.23 2.81zM630.4 597.82l2.23-2.81-.59-.47-2.23 2.81zM634.14 593.13l2.23-2.81-.59-.47-2.23 2.81zM637.87 588.43l2.23-2.81-.59-.47-2.23 2.81zM641.61 583.74l2.23-2.81-.59-.47-2.23 2.81zM645.34 579.04l2.23-2.81-.59-.47-2.23 2.81zM649.21 574.58l2.76-2.3-.48-.58-2.76 2.3zM653.82 570.74l2.76-2.3-.48-.58-2.76 2.3zM658.43 566.9l2.76-2.3-.48-.58-2.76 2.3zM663.04 563.06l2.76-2.3-.48-.58-2.76 2.3zM667.65 559.22l2.76-2.3-.48-.58-2.76 2.3zM672.26 555.38l2.76-2.3-.48-.58-2.76 2.3zM676.87 551.54l2.76-2.3-.48-.58-2.76 2.3zM681.48 547.7l2.76-2.3-.48-.58-2.76 2.3zM686.09 543.86l2.76-2.3-.48-.58-2.76 2.3zM690.7 540.02l2.76-2.3-.48-.58-2.76 2.3zM695.31 536.18l2.76-2.3-.48-.58-2.76 2.3zM699.92 532.34l2.76-2.3-.48-.58-2.76 2.3zM704.53 528.5l2.76-2.3-.48-.58-2.76 2.3zM709.14 524.66l2.76-2.3-.48-.58-2.76 2.3zM713.75 520.82l2.76-2.3-.48-.58-2.76 2.3zM718.36 516.98l2.76-2.3-.48-.58-2.76 2.3zM722.97 513.14l2.76-2.3-.48-.58-2.76 2.3zM727.58 509.3l2.76-2.3-.48-.58-2.76 2.3zM732.19 505.46l2.76-2.3-.48-.58-2.76 2.3zM736.8 501.62l2.76-2.3-.48-.58-2.76 2.3zM741.41 497.78l2.76-2.3-.48-.58-2.76 2.3zM746.03 493.94l2.76-2.3-.48-.58-2.76 2.3zM750.64 490.1l2.76-2.3-.48-.58-2.76 2.3zM755.25 486.26l2.76-2.3-.48-.58-2.76 2.3zM759.86 482.42l2.76-2.3-.48-.58-2.76 2.3zM764.47 478.58l2.76-2.3-.48-.58-2.76 2.3zM769.08 474.74l1.38-1.15-.48-.58-1.38 1.15zM770.49 473.56l1.22-1.31-.55-.51-1.22 1.31zM773.36 470.49l2.45-2.62-.55-.51-2.45 2.62zM777.46 466.1l2.45-2.62-.55-.51-2.45 2.62zM781.55 461.72l2.45-2.62-.55-.51-2.45 2.62zM785.65 457.34l2.45-2.62-.55-.51-2.45 2.62zM789.75 452.95l2.45-2.62-.55-.51-2.45 2.62zM793.84 448.57l2.45-2.62-.55-.51-2.45 2.62zM797.94 444.18l2.45-2.62-.55-.51-2.45 2.62zM802.04 439.8l2.45-2.62-.55-.51-2.45 2.62zM806.13 435.42l2.45-2.62-.55-.51-2.45 2.62zM810.23 431.03l2.45-2.62-.55-.51-2.45 2.62zM814.33 426.65l2.45-2.62-.55-.51-2.45 2.62zM818.42 422.26l2.45-2.62-.55-.51-2.45 2.62zM822.52 417.88l2.45-2.62-.55-.51-2.45 2.62zM826.62 413.5l2.45-2.62-.55-.51-2.45 2.62zM830.71 409.11l2.45-2.62-.55-.51-2.45 2.62zM834.81 404.73l2.45-2.62-.55-.51-2.45 2.62zM838.9 400.35l2.45-2.62-.55-.51-2.45 2.62zM843 395.96l2.45-2.62-.55-.51-2.45 2.62zM847.1 391.58l2.45-2.62-.55-.51-2.45 2.62zM851.19 387.19l2.45-2.62-.55-.51-2.45 2.62zM855.29 382.81l2.45-2.62-.55-.51-2.45 2.62zM859.39 378.43l2.45-2.62-.55-.51-2.45 2.62zM863.48 374.04l2.45-2.62-.55-.51-2.45 2.62zM867.58 369.66l2.45-2.62-.55-.51-2.45 2.62zM871.68 365.27l2.45-2.62-.55-.51-2.45 2.62zM875.77 360.89l2.45-2.62-.55-.51-2.45 2.62zM879.87 356.51l2.45-2.62-.55-.51-2.45 2.62zM883.97 352.12l2.45-2.62-.55-.51-2.45 2.62zM888.06 347.74l2.45-2.62-.55-.51-2.45 2.62zM892.16 343.35l.56-.6-.55-.51-.56 .6zM892.7 342.77l1.99-1.93-.52-.54-1.99 1.93zM896.42 339.15l2.57-2.5-.52-.54-2.57 2.5zM900.72 334.97l2.57-2.5-.52-.54-2.57 2.5zM905.02 330.78l2.57-2.5-.52-.54-2.57 2.5zM909.31 326.6l2.57-2.5-.52-.54-2.57 2.5zM913.61 322.41l2.57-2.5-.52-.54-2.57 2.5zM917.91 318.23l2.57-2.5-.52-.54-2.57 2.5zM922.21 314.04l2.57-2.5-.52-.54-2.57 2.5zM926.51 309.85l2.57-2.5-.52-.54-2.57 2.5zM930.81 305.67l2.57-2.5-.52-.54-2.57 2.5zM935.11 301.48l2.57-2.5-.52-.54-2.57 2.5zM939.41 297.3l2.57-2.5-.52-.54-2.57 2.5zM943.71 293.11l2.57-2.5-.52-.54-2.57 2.5zM948 288.93l2.57-2.5-.52-.54-2.57 2.5zM952.3 284.74l2.57-2.5-.52-.54-2.57 2.5zM956.6 280.56l2.57-2.5-.52-.54-2.57 2.5zM960.9 276.37l2.57-2.5-.52-.54-2.57 2.5zM965.2 272.18l2.57-2.5-.52-.54-2.57 2.5zM969.5 268l2.57-2.5-.52-.54-2.57 2.5zM973.8 263.81l2.57-2.5-.52-.54-2.57 2.5zM978.1 259.63l2.57-2.5-.52-.54-2.57 2.5zM982.4 255.44l2.57-2.5-.52-.54-2.57 2.5zM986.7 251.26l2.57-2.5-.52-.54-2.57 2.5zM990.99 247.07l2.57-2.5-.52-.54-2.57 2.5zM995.29 242.89l2.57-2.5-.52-.54-2.57 2.5zM999.59 238.7l2.57-2.5-.52-.54-2.57 2.5zM1003.89 234.51l2.57-2.5-.52-.54-2.57 2.5zM1008.19 230.33l2.57-2.5-.52-.54-2.57 2.5zM1012.49 226.14l2.44-2.37-.52-.54-2.44 2.37zM1014.67 223.88l.19 0 0-.75-.19 0zM1017.26 223.88l3.59 0 0-.75-3.59 0zM1023.26 223.88l3.59 0 0-.75-3.59 0zM1029.26 223.88l3.59 0 0-.75-3.59 0zM1035.26 223.88l3.59 0 0-.75-3.59 0zM1041.26 223.88l3.59 0 0-.75-3.59 0zM1047.26 223.88l3.59 0 0-.75-3.59 0zM1053.26 223.88l3.59 0 0-.75-3.59 0zM1059.26 223.88l3.59 0 0-.75-3.59 0zM1065.26 223.88l3.59 0 0-.75-3.59 0zM1071.26 223.88l3.59 0 0-.75-3.59 0zM1077.26 223.88l3.59 0 0-.75-3.59 0zM1083.26 223.88l3.59 0 0-.75-3.59 0zM1089.26 223.88l3.59 0 0-.75-3.59 0zM1095.26 223.88l3.59 0 0-.75-3.59 0zM1101.26 223.88l3.59 0 0-.75-3.59 0zM1107.26 223.88l3.59 0 0-.75-3.59 0zM1113.26 223.88l3.59 0 0-.75-3.59 0zM1119.26 223.88l3.59 0 0-.75-3.59 0zM1125.26 223.88l3.59 0 0-.75-3.59 0zM1131.26 223.88l3.59 0 0-.75-3.59 0z"/>
<path fill="#FF00FF" d="M159.12 1035.93l.23-.19-.48-.58-.23 .19zM159.35 1035.74l.8-.67-.48-.58-.8 .67zM161.43 1034.01l1.03-.86-.48-.58-1.03 .86zM163.74 1032.1l1.03-.86-.48-.58-1.03 .86zM166.05 1030.18l1.03-.86-.48-.58-1.03 .86zM168.36 1028.26l1.03-.86-.48-.58-1.03 .86zM170.66 1026.35l1.03-.86-.48-.58-1.03 .86zM172.97 1024.43l1.03-.86-.48-.58-1.03 .86zM175.28 1022.51l1.03-.86-.48-.58-1.03 .86zM177.59 1020.6l1.03-.86-.48-.58-1.03 .86zM179.9 1018.68l1.03-.86-.48-.58-1.03 .86zM182.21 1016.77l1.03-.86-.48-.58-1.03 .86zM184.51 1014.85l1.03-.86-.48-.58-1.03 .86zM186.82 1012.93l1.03-.86-.48-.58-1.03 .86zM189.13 1011.02l1.03-.86-.48-.58-1.03 .86zM191.44 1009.1l1.03-.86-.48-.58-1.03 .86zM193.75 1007.19l1.03-.86-.48-.58-1.03 .86zM196.06 1005.27l1.03-.86-.48-.58-1.03 .86zM198.37 1003.35l1.03-.86-.48-.58-1.03 .86zM200.67 1001.44l1.03-.86-.48-.58-1.03 .86zM202.98 999.52l1.03-.86-.48-.58-1.03 .86zM205.29 997.61l1.03-.86-.48-.58-1.03 .86zM207.6 995.69l1.03-.86-.48-.58-1.03 .86zM209.91 993.77l1.03-.86-.48-.58-1.03 .86zM212.22 991.86l1.03-.86-.48-.58-1.03 .86zM214.52 989.94l1.03-.86-.48-.58-1.03 .86zM216.83 988.03l1.03-.86-.48-.58-1.03 .86zM219.14 986.11l1.03-.86-.48-.58-1.03 .86zM221.45 984.19l1.03-.86-.48-.58-1.03 .86zM223.76 982.28l1.03-.86-.48-.58-1.03 .86zM226.07 980.36l1.03-.86-.48-.58-1.03 .86zM228.37 978.45l1.03-.86-.48-.58-1.03 .86zM230.68 976.53l1.03-.86-.48-.58-1.03 .86zM232.99 974.61l1.03-.86-.48-.58-1.03 .86zM235.3 972.7l1.03-.86-.48-.58-1.03 .86zM237.61 970.78l1.03-.86-.48-.58-1.03 .86zM239.92 968.86l1.03-.86-.48-.58-1.03 .86zM242.22 966.95l1.03-.86-.48-.58-1.03 .86zM244.53 965.03l1.03-.86-.48-.58-1.03 .86zM246.84 963.12l1.03-.86-.48-.58-1.03 .86zM249.15 961.2l1.03-.86-.48-.58-1.03 .86zM251.46 959.28l1.03-.86-.48-.58-1.03 .86zM253.77 957.37l1.03-.86-.48-.58-1.03 .86zM256.07 955.45l1.03-.86-.48-.58-1.03 .86zM258.38 953.54l1.03-.86-.48-.58-1.03 .86zM260.69 951.62l1.03-.86-.48-.58-1.03 .86zM263 949.7l1.03-.86-.48-.58-1.03 .86zM265.31 947.79l1.03-.86-.48-.58-1.03 .86zM267.62 945.87l1.03-.86-.48-.58-1.03 .86zM269.93 943.96l1.03-.86-.48-.58-1.03 .86zM272.23 942.04l1.03-.86-.48-.58-1.03 .86zM274.54 940.12l1.03-.86-.48-.58-1.03 .86zM276.85 938.21l1.03-.86-.48-.58-1.03 .86zM279.16 936.29l1.03-.86-.48-.58-1.03 .86zM281.47 934.38l.1-.09-.48-.58-.1 .09zM281.53 934.32l1.03-.63-.39-.64-1.03 .63zM283.97 932.83l1.14-.7-.39-.64-1.14 .7zM286.53 931.27l1.14-.7-.39-.64-1.14 .7zM289.1 929.71l1.14-.7-.39-.64-1.14 .7zM291.66 928.15l1.14-.7-.39-.64-1.14 .7zM294.22 926.58l1.14-.7-.39-.64-1.14 .7zM296.78 925.02l1.14-.7-.39-.64-1.14 .7zM299.34 923.46l1.14-.7-.39-.64-1.14 .7zM301.9 921.9l1.14-.7-.39-.64-1.14 .7zM304.47 920.34l1.14-.7-.39-.64-1.14 .7zM307.03 918.78l1.14-.7-.39-.64-1.14 .7zM309.59 917.22l1.14-.7-.39-.64-1.14 .7zM312.15 915.65l1.14-.7-.39-.64-1.14 .7zM314.71 914.09l1.14-.7-.39-.64-1.14 .7zM317.27 912.53l1.14-.7-.39-.64-1.14 .7zM319.84 910.97l1.14-.7-.39-.64-1.14 .7zM322.4 909.41l1.14-.7-.39-.64-1.14 .7zM324.96 907.85l1.14-.7-.39-.64-1.14 .7zM327.52 906.29l1.14-.7-.39-.64-1.14 .7zM330.08 904.72l1.14-.7-.39-.64-1.14 .7zM332.64 903.16l1.14-.7-.39-.64-1.14 .7zM335.21 901.6l1.14-.7-.39-.64-1.14 .7zM337.77 900.04l1.14-.7-.39-.64-1.14 .7zM340.33 898.48l1.14-.7-.39-.64-1.14 .7zM342.89 896.92l1.14-.7-.39-.64-1.14 .7zM345.45 895.36l1.14-.7-.39-.64-1.14 .7zM348.01 893.79l1.14-.7-.39-.64-1.14 .7zM350.58 892.23l1.14-.7-.39-.64-1.14 .7zM353.14 890.67l1.14-.7-.39-.64-1.14 .7zM355.7 889.11l1.14-.7-.39-.64-1.14 .7zM358.26 887.55l1.14-.7-.39-.64-1.14 .7zM360.82 885.99l1.14-.7-.39-.64-1.14 .7zM363.38 884.43l1.14-.7-.39-.64-1.14 .7zM365.94 882.86l1.14-.7-.39-.64-1.14 .7zM368.51 881.3l1.14-.7-.39-.64-1.14 .7zM371.07 879.74l1.14-.7-.39-.64-1.14 .7zM373.63 878.18l1.14-.7-.39-.64-1.14 .7zM376.19 876.62l1.14-.7-.39-.64-1.14 .7zM378.75 875.06l1.14-.7-.39-.64-1.14 .7zM381.31 873.5l1.14-.7-.39-.64-1.14 .7zM383.88 871.93l1.14-.7-.39-.64-1.14 .7zM386.44 870.37l1.14-.7-.39-.64-1.14 .7zM389 868.81l1.14-.7-.39-.64-1.14 .7zM391.56 867.25l1.14-.7-.39-.64-1.14 .7zM394.12 865.69l1.14-.7-.39-.64-1.14 .7zM396.68 864.13l1.14-.7-.39-.64-1.14 .7zM399.25 862.57l1.14-.7-.39-.64-1.14 .7zM401.81 861l1.14-.7-.39-.64-1.14 .7zM404.33 859.24l.93-.97-.54-.52-.93 .97zM406.4 857.07l.93-.97-.54-.52-.93 .97zM408.48 854.9l.93-.97-.54-.52-.93 .97zM410.56 852.74l.93-.97-.54-.52-.93 .97zM412.63 850.57l.93-.97-.54-.52-.93 .97zM414.71 848.41l.93-.97-.54-.52-.93 .97zM416.78 846.24l.93-.97-.54-.52-.93 .97zM418.86 844.08l.93-.97-.54-.52-.93 .97zM420.94 841.91l.93-.97-.54-.52-.93 .97zM423.01 839.74l.93-.97-.54-.52-.93 .97zM425.09 837.58l.93-.97-.54-.52-.93 .97zM427.16 835.41l.93-.97-.54-.52-.93 .97zM429.24 833.25l.93-.97-.54-.52-.93 .97zM431.32 831.08l.93-.97-.54-.52-.93 .97zM433.39 828.92l.93-.97-.54-.52-.93 .97zM435.47 826.75l.93-.97-.54-.52-.93 .97zM437.54 824.58l.93-.97-.54-.52-.93 .97zM439.62 822.42l.93-.97-.54-.52-.93 .97zM441.7 820.25l.93-.97-.54-.52-.93 .97zM443.77 818.09l.93-.97-.54-.52-.93 .97zM445.85 815.92l.93-.97-.54-.52-.93 .97zM447.92 813.76l.93-.97-.54-.52-.93 .97zM450 811.59l.93-.97-.54-.52-.93 .97zM452.08 809.43l.93-.97-.54-.52-.93 .97zM454.15 807.26l.93-.97-.54-.52-.93 .97zM456.23 805.09l.93-.97-.54-.52-.93 .97zM458.3 802.93l.93-.97-.54-.52-.93 .97zM460.38 800.76l.93-.97-.54-.52-.93 .97zM462.46 798.6l.93-.97-.54-.52-.93 .97zM464.53 796.43l.93-.97-.54-.52-.93 .97zM466.61 794.27l.93-.97-.54-.52-.93 .97zM468.68 792.1l.93-.97-.54-.52-.93 .97zM470.76 789.93l.93-.97-.54-.52-.93 .97zM472.84 787.77l.93-.97-.54-.52-.93 .97zM474.91 785.6l.93-.97-.54-.52-.93 .97zM476.99 783.44l.93-.97-.54-.52-.93 .97zM479.06 781.27l.93-.97-.54-.52-.93 .97zM481.14 779.11l.93-.97-.54-.52-.93 .97zM483.22 776.94l.93-.97-.54-.52-.93 .97zM485.29 774.77l.93-.97-.54-.52-.93 .97zM487.37 772.61l.93-.97-.54-.52-.93 .97zM489.44 770.44l.93-.97-.54-.52-.93 .97zM491.52 768.28l.93-.97-.54-.52-.93 .97zM493.6 766.11l.93-.97-.54-.52-.93 .97zM495.67 763.95l.93-.97-.54-.52-.93 .97zM497.75 761.78l.93-.97-.54-.52-.93 .97zM499.82 759.61l.93-.97-.54-.52-.93 .97zM501.9 757.45l.93-.97-.54-.52-.93 .97zM503.98 755.28l.93-.97-.54-.52-.93 .97zM506.05 753.12l.93-.97-.54-.52-.93 .97zM508.13 750.95l.93-.97-.54-.52-.93 .97zM510.2 748.79l.93-.97-.54-.52-.93 .97zM512.28 746.62l.93-.97-.54-.52-.93 .97zM514.36 744.45l.93-.97-.54-.52-.93 .97zM516.43 742.29l.93-.97-.54-.52-.93 .97zM518.51 740.12l.93-.97-.54-.52-.93 .97zM520.58 737.96l.93-.97-.54-.52-.93 .97zM522.66 735.79l.93-.97-.54-.52-.93 .97zM524.74 733.63l.93-.97-.54-.52-.93 .97zM526.75 731.36l.83-1.06-.59-.46-.83 1.06zM528.6 729l.83-1.06-.59-.46-.83 1.06zM530.45 726.64l.83-1.06-.59-.46-.83 1.06zM532.3 724.27l.83-1.06-.59-.46-.83 1.06zM534.15 721.91l.83-1.06-.59-.46-.83 1.06zM536 719.55l.83-1.06-.59-.46-.83 1.06zM537.85 717.19l.83-1.06-.59-.46-.83 1.06zM539.7 714.83l.83-1.06-.59-.46-.83 1.06zM541.55 712.46l.83-1.06-.59-.46-.83 1.06zM543.4 710.1l.83-1.06-.59-.46-.83 1.06zM545.25 707.74l.83-1.06-.59-.46-.83 1.06zM547.1 705.38l.83-1.06-.59-.46-.83 1.06zM548.95 703.02l.83-1.06-.59-.46-.83 1.06zM550.8 700.65l.83-1.06-.59-.46-.83 1.06zM552.65 698.29l.83-1.06-.59-.46-.83 1.06zM554.5 695.93l.83-1.06-.59-.46-.83 1.06zM556.35 693.57l.83-1.06-.59-.46-.83 1.06zM558.19 691.2l.83-1.06-.59-.46-.83 1.06zM560.04 688.84l.83-1.06-.59-.46-.83 1.06zM561.89 686.48l.83-1.06-.59-.46-.83 1.06zM563.74 684.12l.83-1.06-.59-.46-.83 1.06zM565.59 681.76l.83-1.06-.59-.46-.83 1.06zM567.44 679.39l.83-1.06-.59-.46-.83 1.06zM569.29 677.03l.83-1.06-.59-.46-.83 1.06zM571.14 674.67l.83-1.06-.59-.46-.83 1.06zM572.99 672.31l.83-1.06-.59-.46-.83 1.06zM574.84 669.95l.83-1.06-.59-.46-.83 1.06zM576.69 667.58l.83-1.06-.59-.46-.83 1.06zM578.54 665.22l.83-1.06-.59-.46-.83 1.06zM580.39 662.86l.83-1.06-.59-.46-.83 1.06zM582.24 660.5l.83-1.06-.59-.46-.83 1.06zM584.09 658.14l.83-1.06-.59-.46-.83 1.06zM585.94 655.77l.83-1.06-.59-.46-.83 1.06zM587.79 653.41l.83-1.06-.59-.46-.83 1.06zM589.64 651.05l.83-1.06-.59-.46-.83 1.06zM591.48 648.69l.83-1.06-.59-.46-.83 1.06zM593.33 646.32l.83-1.06-.59-.46-.83 1.06zM595.18 643.96l.83-1.06-.59-.46-.83 1.06zM597.03 641.6l.83-1.06-.59-.46-.83 1.06zM598.88 639.24l.83-1.06-.59-.46-.83 1.06zM600.73 636.88l.83-1.06-.59-.46-.83 1.06zM602.58 634.51l.83-1.06-.59-.46-.83 1.06zM604.43 632.15l.83-1.06-.59-.46-.83 1.06zM606.28 629.79l.83-1.06-.59-.46-.83 1.06zM608.13 627.43l.83-1.06-.59-.46-.83 1.06zM609.98 625.07l.83-1.06-.59-.46-.83 1.06zM611.83 622.7l.83-1.06-.59-.46-.83 1.06zM613.68 620.34l.83-1.06-.59-.46-.83 1.06zM615.53 617.98l.83-1.06-.59-.46-.83 1.06zM617.38 615.62l.83-1.06-.59-.46-.83 1.06zM619.23 613.26l.83-1.06-.59-.46-.83 1.06zM621.08 610.89l.83-1.06-.59-.46-.83 1.06zM622.93 608.53l.83-1.06-.59-.46-.83 1.06zM624.78 606.17l.83-1.06-.59-.46-.83 1.06zM626.62 603.81l.83-1.06-.59-.46-.83 1.06zM628.47 601.44l.83-1.06-.59-.46-.83 1.06zM630.32 599.08l.83-1.06-.59-.46-.83 1.06zM632.17 596.72l.83-1.06-.59-.46-.83 1.06zM634.02 594.36l.83-1.06-.59-.46-.83 1.06zM635.87 592l.83-1.06-.59-.46-.83 1.06zM637.72 589.63l.83-1.06-.59-.46-.83 1.06zM639.57 587.27l.83-1.06-.59-.46-.83 1.06zM641.42 584.91l.83-1.06-.59-.46-.83 1.06zM643.27 582.55l.83-1.06-.59-.46-.83 1.06zM645.12 580.19l.83-1.06-.59-.46-.83 1.06zM646.97 577.82l.83-1.06-.59-.46-.83 1.06zM648.89 575.64l1.03-.86-.48-.58-1.03 .86zM651.19 573.72l1.03-.86-.48-.58-1.03 .86zM653.5 571.8l1.03-.86-.48-.58-1.03 .86zM655.8 569.87l1.03-.86-.48-.58-1.03 .86zM658.1 567.95l1.03-.86-.48-.58-1.03 .86zM660.4 566.03l1.03-.86-.48-.58-1.03 .86zM662.71 564.1l1.03-.86-.48-.58-1.03 .86zM665.01 562.18l1.03-.86-.48-.58-1.03 .86zM667.31 560.26l1.03-.86-.48-.58-1.03 .86zM669.61 558.33l1.03-.86-.48-.58-1.03 .86zM671.92 556.41l1.03-.86-.48-.58-1.03 .86zM674.22 554.49l1.03-.86-.48-.58-1.03 .86zM676.52 552.56l1.03-.86-.48-.58-1.03 .86zM678.82 550.64l1.03-.86-.48-.58-1.03 .86zM681.12 548.72l1.03-.86-.48-.58-1.03 .86zM683.43 546.79l1.03-.86-.48-.58-1.03 .86zM685.73 544.87l1.03-.86-.48-.58-1.03 .86zM688.03 542.95l1.03-.86-.48-.58-1.03 .86zM690.33 541.02l1.03-.86-.48-.58-1.03 .86zM692.64 539.1l1.03-.86-.48-.58-1.03 .86zM694.94 537.18l1.03-.86-.48-.58-1.03 .86zM697.24 535.25l1.03-.86-.48-.58-1.03 .86zM699.54 533.33l1.03-.86-.48-.58-1.03 .86zM701.85 531.41l1.03-.86-.48-.58-1.03 .86zM704.15 529.48l1.03-.86-.48-.58-1.03 .86zM706.45 527.56l1.03-.86-.48-.58-1.03 .86zM708.75 525.64l1.03-.86-.48-.58-1.03 .86zM711.06 523.71l1.03-.86-.48-.58-1.03 .86zM713.36 521.79l1.03-.86-.48-.58-1.03 .86zM715.66 519.87l1.03-.86-.48-.58-1.03 .86zM717.96 517.94l1.03-.86-.48-.58-1.03 .86zM720.26 516.02l1.03-.86-.48-.58-1.03 .86zM722.57 514.1l1.03-.86-.48-.58-1.03 .86zM724.87 512.17l1.03-.86-.48-.58-1.03 .86zM727.17 510.25l1.03-.86-.48-.58-1.03 .86zM729.47 508.33l1.03-.86-.48-.58-1.03 .86zM731.78 506.4l1.03-.86-.48-.58-1.03 .86zM734.08 504.48l1.03-.86-.48-.58-1.03 .86zM736.38 502.56l1.03-.86-.48-.58-1.03 .86zM738.68 500.63l1.03-.86-.48-.58-1.03 .86zM740.99 498.71l1.03-.86-.48-.58-1.03 .86zM743.29 496.79l1.03-.86-.48-.58-1.03 .86zM745.59 494.86l1.03-.86-.48-.58-1.03 .86zM747.89 492.94l1.03-.86-.48-.58-1.03 .86zM750.2 491.02l1.03-.86-.48-.58-1.03 .86zM752.5 489.09l1.03-.86-.48-.58-1.03 .86zM754.8 487.17l1.03-.86-.48-.58-1.03 .86zM757.1 485.25l1.03-.86-.48-.58-1.03 .86zM759.41 483.32l1.03-.86-.48-.58-1.03 .86zM761.71 481.4l1.03-.86-.48-.58-1.03 .86zM764.01 479.48l1.03-.86-.48-.58-1.03 .86zM766.31 477.55l1.03-.86-.48-.58-1.03 .86zM768.61 475.63l1.03-.86-.48-.58-1.03 .86zM770.9 473.63l.92-.98-.55-.51-.92 .98zM772.96 471.44l.92-.98-.55-.51-.92 .98zM775.01 469.26l.92-.98-.55-.51-.92 .98zM777.07 467.07l.92-.98-.55-.51-.92 .98zM779.13 464.89l.92-.98-.55-.51-.92 .98zM781.18 462.7l.92-.98-.55-.51-.92 .98zM783.24 460.52l.92-.98-.55-.51-.92 .98zM785.3 458.34l.92-.98-.55-.51-.92 .98zM787.35 456.15l.92-.98-.55-.51-.92 .98zM789.41 453.97l.92-.98-.55-.51-.92 .98zM791.47 451.78l.92-.98-.55-.51-.92 .98zM793.52 449.6l.92-.98-.55-.51-.92 .98zM795.58 447.42l.92-.98-.55-.51-.92 .98zM797.64 445.23l.92-.98-.55-.51-.92 .98zM799.69 443.05l.92-.98-.55-.51-.92 .98zM801.75 440.86l.92-.98-.55-.51-.92 .98zM803.81 438.68l.92-.98-.55-.51-.92 .98zM805.86 436.5l.92-.98-.55-.51-.92 .98zM807.92 434.31l.92-.98-.55-.51-.92 .98zM809.98 432.13l.92-.98-.55-.51-.92 .98zM812.03 429.94l.92-.98-.55-.51-.92 .98zM814.09 427.76l.92-.98-.55-.51-.92 .98zM816.15 425.57l.92-.98-.55-.51-.92 .98zM818.2 423.39l.92-.98-.55-.51-.92 .98zM820.26 421.21l.92-.98-.55-.51-.92 .98zM822.32 419.02l.92-.98-.55-.51-.92 .98zM824.37 416.84l.92-.98-.55-.51-.92 .98zM826.43 414.65l.92-.98-.55-.51-.92 .98zM828.49 412.47l.92-.98-.55-.51-.92 .98zM830.54 410.29l.92-.98-.55-.51-.92 .98zM832.6 408.1l.92-.98-.55-.51-.92 .98zM834.66 405.92l.92-.98-.55-.51-.92 .98zM836.71 403.73l.92-.98-.55-.51-.92 .98zM838.77 401.55l.92-.98-.55-.51-.92 .98zM840.83 399.37l.92-.98-.55-.51-.92 .98zM842.88 397.18l.92-.98-.55-.51-.92 .98zM844.94 395l.92-.98-.55-.51-.92 .98zM847 392.81l.92-.98-.55-.51-.92 .98zM849.05 390.63l.92-.98-.55-.51-.92 .98zM851.11 388.44l.92-.98-.55-.51-.92 .98zM853.17 386.26l.92-.98-.55-.51-.92 .98zM855.22 384.08l.92-.98-.55-.51-.92 .98zM857.28 381.89l.92-.98-.55-.51-.92 .98zM859.33 379.71l.92-.98-.55-.51-.92 .98zM861.39 377.52l.92-.98-.55-.51-.92 .98zM863.45 375.34l.92-.98-.55-.51-.92 .98zM865.5 373.16l.92-.98-.55-.51-.92 .98zM867.56 370.97l.92-.98-.55-.51-.92 .98zM869.62 368.79l.92-.98-.55-.51-.92 .98zM871.67 366.6l.92-.98-.55-.51-.92 .98zM873.73 364.42l.92-.98-.55-.51-.92 .98zM875.79 362.24l.92-.98-.55-.51-.92 .98zM877.84 360.05l.92-.98-.55-.51-.92 .98zM879.9 357.87l.92-.98-.55-.51-.92 .98zM881.96 355.68l.92-.98-.55-.51-.92 .98zM884.01 353.5l.92-.98-.55-.51-.92 .98zM886.07 351.31l.92-.98-.55-.51-.92 .98zM888.13 349.13l.92-.98-.55-.51-.92 .98zM890.18 346.95l.92-.98-.55-.51-.92 .98zM892.24 344.76l.48-.51-.55-.51-.48 .51zM892.69 344.28l.48-.43-.5-.56-.48 .43zM894.42 342.75l1-.89-.5-.56-1 .89zM896.66 340.76l1-.89-.5-.56-1 .89zM898.9 338.77l1-.89-.5-.56-1 .89zM901.15 336.77l1-.89-.5-.56-1 .89zM903.39 334.78l1-.89-.5-.56-1 .89zM905.63 332.79l1-.89-.5-.56-1 .89zM907.88 330.8l1-.89-.5-.56-1 .89zM910.12 328.81l1-.89-.5-.56-1 .89zM912.37 326.82l1-.89-.5-.56-1 .89zM914.61 324.82l1-.89-.5-.56-1 .89zM916.85 322.83l1-.89-.5-.56-1 .89zM919.1 320.84l1-.89-.5-.56-1 .89zM921.34 318.85l1-.89-.5-.56-1 .89zM923.58 316.86l1-.89-.5-.56-1 .89zM925.83 314.87l1-.89-.5-.56-1 .89zM928.07 312.87l1-.89-.5-.56-1 .89zM930.31 310.88l1-.89-.5-.56-1 .89zM932.56 308.89l1-.89-.5-.56-1 .89zM934.8 306.9l1-.89-.5-.56-1 .89zM937.04 304.91l1-.89-.5-.56-1 .89zM939.29 302.92l1-.89-.5-.56-1 .89zM941.53 300.92l1-.89-.5-.56-1 .89zM943.77 298.93l1-.89-.5-.56-1 .89zM946.02 296.94l1-.89-.5-.56-1 .89zM948.26 294.95l1-.89-.5-.56-1 .89zM950.5 292.96l1-.89-.5-.56-1 .89zM952.75 290.97l1-.89-.5-.56-1 .89zM954.99 288.98l1-.89-.5-.56-1 .89zM957.24 286.98l1-.89-.5-.56-1 .89zM959.48 284.99l1-.89-.5-.56-1 .89zM961.72 283l1-.89-.5-.56-1 .89zM963.97 281.01l1-.89-.5-.56-1 .89zM966.21 279.02l1-.89-.5-.56-1 .89zM968.45 277.03l1-.89-.5-.56-1 .89zM970.7 275.03l1-.89-.5-.56-1 .89zM972.94 273.04l1-.89-.5-.56-1 .89zM975.18 271.05l1-.89-.5-.56-1 .89zM977.43 269.06l1-.89-.5-.56-1 .89zM979.67 267.07l1-.89-.5-.56-1 .89zM981.91 265.08l1-.89-.5-.56-1 .89zM984.16 263.08l1-.89-.5-.56-1 .89zM986.4 261.09l1-.89-.5-.56-1 .89zM988.64 259.1l1-.89-.5-.56-1 .89zM990.89 257.11l1-.89-.5-.56-1 .89zM993.13 255.12l1-.89-.5-.56-1 .89zM995.38 253.13l1-.89-.5-.56-1 .89zM997.62 251.13l1-.89-.5-.56-1 .89zM999.86 249.14l1-.89-.5-.56-1 .89zM1002.11 247.15l1-.89-.5-.56-1 .89zM1004.35 245.16l1-.89-.5-.56-1 .89zM1006.59 243.17l1-.89-.5-.56-1 .89zM1008.84 241.18l1-.89-.5-.56-1 .89zM1011.08 239.18l1-.89-.5-.56-1 .89zM1013.32 237.19l1-.89-.5-.56-1 .89zM1015.54 235.88l1.34 0 0-.75-1.34 0zM1018.54 235.88l1.34 0 0-.75-1.34 0zM1021.54 235.88l1.34 0 0-.75-1.34 0zM1024.54 235.88l1.34 0 0-.75-1.34 0zM1027.54 235.88l1.34 0 0-.75-1.34 0zM1030.54 235.88l1.34 0 0-.75-1.34 0zM1033.54 235.88l1.34 0 0-.75-1.34 0zM1036.54 235.88l1.34 0 0-.75-1.34 0zM1039.54 235.88l1.34 0 0-.75-1.34 0zM1042.54 235.88l1.34 0 0-.75-1.34 0zM1045.54 235.88l1.34 0 0-.75-1.34 0zM1048.54 235.88l1.34 0 0-.75-1.34 0zM1051.54 235.88l1.34 0 0-.75-1.34 0zM1054.54 235.88l1.34 0 0-.75-1.34 0zM1057.54 235.88l1.34 0 0-.75-1.34 0zM1060.54 235.88l1.34 0 0-.75-1.34 0zM1063.54 235.88l1.34 0 0-.75-1.34 0zM1066.54 235.88l1.34 0 0-.75-1.34 0zM1069.54 235.88l1.34 0 0-.75-1.34 0zM1072.54 235.88l1.34 0 0-.75-1.34 0zM1075.54 235.88l1.34 0 0-.75-1.34 0zM1078.54 235.88l1.34 0 0-.75-1.34 0zM1081.54 235.88l1.34 0 0-.75-1.34 0zM1084.54 235.88l1.34 0 0-.75-1.34 0zM1087.54 235.88l1.34 0 0-.75-1.34 0zM1090.54 235.88l1.34 0 0-.75-1.34 0zM1093.54 235.88l1.34 0 0-.75-1.34 0zM1096.54 235.88l1.34 0 0-.75-1.34 0zM1099.54 235.88l1.34 0 0-.75-1.34 0zM1102.54 235.88l1.34 0 0-.75-1.34 0zM1105.54 235.88l1.34 0 0-.75-1.34 0zM1108.54 235.88l1.34 0 0-.75-1.34 0zM1111.54 235.88l1.34 0 0-.75-1.34 0zM1114.54 235.88l1.34 0 0-.75-1.34 0zM1117.54 235.88l1.34 0 0-.75-1.34 0zM1120.54 235.88l1.34 0 0-.75-1.34 0zM1123.54 235.88l1.34 0 0-.75-1.34 0zM1126.54 235.88l1.34 0 0-.75-1.34 0zM1129.54 235.88l1.34 0 0-.75-1.34 0zM1132.54 235.88l1.34 0 0-.75-1.34 0zM1135.54 235.88l1.34 0 0-.75-1.34 0z"/>
<path fill="#000000" d="M159.09 1036.87l.24-.17-.44-.61-.24 .17zM159.33 1036.7l.85-.61-.44-.61-.85 .61zM161.53 1035.12l2.92-2.09-.44-.61-2.92 2.09zM165.8 1032.07l1.09-.78-.44-.61-1.09 .78zM168.24 1030.32l2.92-2.09-.44-.61-2.92 2.09zM172.51 1027.27l1.09-.78-.44-.61-1.09 .78zM174.95 1025.52l2.92-2.09-.44-.61-2.92 2.09zM179.22 1022.47l1.09-.78-.44-.61-1.09 .78zM181.66 1020.73l2.92-2.09-.44-.61-2.92 2.09zM185.93 1017.67l1.09-.78-.44-.61-1.09 .78zM188.37 1015.93l2.92-2.09-.44-.61-2.92 2.09zM192.64 1012.87l1.09-.78-.44-.61-1.09 .78zM195.08 1011.13l2.92-2.09-.44-.61-2.92 2.09zM199.35 1008.08l1.09-.78-.44-.61-1.09 .78zM201.79 1006.33l2.92-2.09-.44-.61-2.92 2.09zM206.07 1003.28l1.09-.78-.44-.61-1.09 .78zM208.51 1001.53l2.92-2.09-.44-.61-2.92 2.09zM212.78 998.48l1.09-.78-.44-.61-1.09 .78zM215.22 996.73l2.92-2.09-.44-.61-2.92 2.09zM219.49 993.68l1.09-.78-.44-.61-1.09 .78zM221.93 991.94l2.92-2.09-.44-.61-2.92 2.09zM226.2 988.88l1.09-.78-.44-.61-1.09 .78zM228.64 987.14l2.92-2.09-.44-.61-2.92 2.09zM232.91 984.08l1.09-.78-.44-.61-1.09 .78zM235.35 982.34l2.92-2.09-.44-.61-2.92 2.09zM239.62 979.29l1.09-.78-.44-.61-1.09 .78zM242.06 977.54l2.92-2.09-.44-.61-2.92 2.09zM246.33 974.49l1.09-.78-.44-.61-1.09 .78zM248.77 972.74l2.92-2.09-.44-.61-2.92 2.09zM253.04 969.69l1.09-.78-.44-.61-1.09 .78zM255.48 967.94l2.92-2.09-.44-.61-2.92 2.09zM259.75 964.89l1.09-.78-.44-.61-1.09 .78zM262.19 963.15l2.92-2.09-.44-.61-2.92 2.09zM266.46 960.09l1.09-.78-.44-.61-1.09 .78zM268.9 958.35l2.92-2.09-.44-.61-2.92 2.09zM273.18 955.29l1.09-.78-.44-.61-1.09 .78zM275.62 953.55l2.92-2.09-.44-.61-2.92 2.09zM279.89 950.49l1.09-.78-.44-.61-1.09 .78zM282.35 948.87l3.15-1.73-.36-.66-3.15 1.73zM286.95 946.35l1.18-.64-.36-.66-1.18 .64zM289.58 944.9l3.15-1.73-.36-.66-3.15 1.73zM294.19 942.38l1.18-.64-.36-.66-1.18 .64zM296.82 940.94l3.15-1.73-.36-.66-3.15 1.73zM301.42 938.42l1.18-.64-.36-.66-1.18 .64zM304.05 936.97l3.15-1.73-.36-.66-3.15 1.73zM308.66 934.45l1.18-.64-.36-.66-1.18 .64zM311.29 933.01l3.15-1.73-.36-.66-3.15 1.73zM315.89 930.48l1.18-.64-.36-.66-1.18 .64zM318.52 929.04l3.15-1.73-.36-.66-3.15 1.73zM323.12 926.52l1.18-.64-.36-.66-1.18 .64zM325.76 925.08l3.15-1.73-.36-.66-3.15 1.73zM330.36 922.55l1.18-.64-.36-.66-1.18 .64zM332.99 921.11l3.15-1.73-.36-.66-3.15 1.73zM337.59 918.59l1.18-.64-.36-.66-1.18 .64zM340.22 917.14l3.15-1.73-.36-.66-3.15 1.73zM344.83 914.62l1.18-.64-.36-.66-1.18 .64zM347.46 913.18l3.15-1.73-.36-.66-3.15 1.73zM352.06 910.65l1.18-.64-.36-.66-1.18 .64zM354.69 909.21l3.15-1.73-.36-.66-3.15 1.73zM359.3 906.69l1.18-.64-.36-.66-1.18 .64zM361.93 905.25l3.15-1.73-.36-.66-3.15 1.73zM366.53 902.72l1.18-.64-.36-.66-1.18 .64zM369.16 901.28l3.15-1.73-.36-.66-3.15 1.73zM373.76 898.76l1.18-.64-.36-.66-1.18 .64zM376.4 897.32l3.15-1.73-.36-.66-3.15 1.73zM381 894.79l1.18-.64-.36-.66-1.18 .64zM383.63 893.35l3.15-1.73-.36-.66-3.15 1.73zM388.23 890.83l1.18-.64-.36-.66-1.18 .64zM390.86 889.38l3.15-1.73-.36-.66-3.15 1.73zM395.47 886.86l1.18-.64-.36-.66-1.18 .64zM398.1 885.42l3.15-1.73-.36-.66-3.15 1.73zM402.7 882.89l1.03-.57-.36-.66-1.03 .57zM403.81 882.27l.12-.11-.51-.55-.12 .11zM405.14 881.03l2.62-2.45-.51-.55-2.62 2.45zM408.97 877.44l.98-.92-.51-.55-.98 .92zM411.16 875.39l2.62-2.45-.51-.55-2.62 2.45zM414.99 871.8l.98-.92-.51-.55-.98 .92zM417.18 869.75l2.62-2.45-.51-.55-2.62 2.45zM421.01 866.16l.98-.92-.51-.55-.98 .92zM423.2 864.11l2.62-2.45-.51-.55-2.62 2.45zM427.03 860.52l.98-.92-.51-.55-.98 .92zM429.22 858.47l2.62-2.45-.51-.55-2.62 2.45zM433.06 854.88l.98-.92-.51-.55-.98 .92zM435.24 852.83l2.62-2.45-.51-.55-2.62 2.45zM439.08 849.24l.98-.92-.51-.55-.98 .92zM441.27 847.19l2.62-2.45-.51-.55-2.62 2.45zM445.1 843.6l.98-.92-.51-.55-.98 .92zM447.29 841.55l2.62-2.45-.51-.55-2.62 2.45zM451.12 837.96l.98-.92-.51-.55-.98 .92zM453.31 835.9l2.62-2.45-.51-.55-2.62 2.45zM457.14 832.32l.98-.92-.51-.55-.98 .92zM459.33 830.26l2.62-2.45-.51-.55-2.62 2.45zM463.16 826.68l.98-.92-.51-.55-.98 .92zM465.35 824.62l2.62-2.45-.51-.55-2.62 2.45zM469.18 821.04l.98-.92-.51-.55-.98 .92zM471.37 818.98l2.62-2.45-.51-.55-2.62 2.45zM475.2 815.39l.98-.92-.51-.55-.98 .92zM477.39 813.34l2.62-2.45-.51-.55-2.62 2.45zM481.22 809.75l.98-.92-.51-.55-.98 .92zM483.41 807.7l2.62-2.45-.51-.55-2.62 2.45zM487.24 804.11l.98-.92-.51-.55-.98 .92zM489.43 802.06l2.62-2.45-.51-.55-2.62 2.45zM493.26 798.47l.98-.92-.51-.55-.98 .92zM495.45 796.42l2.62-2.45-.51-.55-2.62 2.45zM499.28 792.83l.98-.92-.51-.55-.98 .92zM501.47 790.78l2.62-2.45-.51-.55-2.62 2.45zM505.3 787.19l.98-.92-.51-.55-.98 .92zM507.49 785.14l2.62-2.45-.51-.55-2.62 2.45zM511.32 781.55l.98-.92-.51-.55-.98 .92zM513.51 779.5l2.62-2.45-.51-.55-2.62 2.45zM517.35 775.91l.98-.92-.51-.55-.98 .92zM519.53 773.86l2.62-2.45-.51-.55-2.62 2.45zM523.37 770.27l.98-.92-.51-.55-.98 .92zM525.56 768.22l.48-.45-.51-.55-.48 .45zM526.06 767.74l1.89-2.25-.57-.48-1.89 2.25zM529.02 764.22l.86-1.03-.57-.48-.86 1.03zM530.95 761.93l2.31-2.75-.57-.48-2.31 2.75zM534.33 757.91l.86-1.03-.57-.48-.86 1.03zM536.26 755.61l2.31-2.75-.57-.48-2.31 2.75zM539.63 751.59l.86-1.03-.57-.48-.86 1.03zM541.56 749.29l2.31-2.75-.57-.48-2.31 2.75zM544.94 745.27l.86-1.03-.57-.48-.86 1.03zM546.87 742.97l2.31-2.75-.57-.48-2.31 2.75zM550.25 738.95l.86-1.03-.57-.48-.86 1.03zM552.17 736.66l2.31-2.75-.57-.48-2.31 2.75zM555.55 732.64l.86-1.03-.57-.48-.86 1.03zM557.48 730.34l2.31-2.75-.57-.48-2.31 2.75zM560.86 726.32l.86-1.03-.57-.48-.86 1.03zM562.79 724.02l2.31-2.75-.57-.48-2.31 2.75zM566.16 720l.86-1.03-.57-.48-.86 1.03zM568.09 717.71l2.31-2.75-.57-.48-2.31 2.75zM571.47 713.69l.86-1.03-.57-.48-.86 1.03zM573.4 711.39l2.31-2.75-.57-.48-2.31 2.75zM576.78 707.37l.86-1.03-.57-.48-.86 1.03zM578.71 705.07l2.31-2.75-.57-.48-2.31 2.75zM582.08 701.05l.86-1.03-.57-.48-.86 1.03zM584.01 698.76l2.31-2.75-.57-.48-2.31 2.75zM587.39 694.74l.86-1.03-.57-.48-.86 1.03zM589.32 692.44l2.31-2.75-.57-.48-2.31 2.75zM592.7 688.42l.86-1.03-.57-.48-.86 1.03zM594.63 686.12l2.31-2.75-.57-.48-2.31 2.75zM598 682.1l.86-1.03-.57-.48-.86 1.03zM599.93 679.8l2.31-2.75-.57-.48-2.31 2.75zM603.31 675.78l.86-1.03-.57-.48-.86 1.03zM605.24 673.49l2.31-2.75-.57-.48-2.31 2.75zM608.62 669.47l.86-1.03-.57-.48-.86 1.03zM610.55 667.17l2.31-2.75-.57-.48-2.31 2.75zM613.92 663.15l.86-1.03-.57-.48-.86 1.03zM615.85 660.85l2.31-2.75-.57-.48-2.31 2.75zM619.23 656.83l.86-1.03-.57-.48-.86 1.03zM621.16 654.54l2.31-2.75-.57-.48-2.31 2.75zM624.53 650.52l.86-1.03-.57-.48-.86 1.03zM626.46 648.22l2.31-2.75-.57-.48-2.31 2.75zM629.84 644.2l.86-1.03-.57-.48-.86 1.03zM631.77 641.9l2.31-2.75-.57-.48-2.31 2.75zM635.15 637.88l.86-1.03-.57-.48-.86 1.03zM637.08 635.58l2.31-2.75-.57-.48-2.31 2.75zM640.45 631.56l.86-1.03-.57-.48-.86 1.03zM642.38 629.27l2.31-2.75-.57-.48-2.31 2.75zM645.76 625.25l.86-1.03-.57-.48-.86 1.03zM647.69 622.95l.6-.71-.57-.48-.6 .71zM648.23 622.3l2.1-1.64-.46-.59-2.1 1.64zM651.63 619.63l1.06-.83-.46-.59-1.06 .83zM654 617.78l2.83-2.21-.46-.59-2.83 2.21zM658.13 614.54l1.06-.83-.46-.59-1.06 .83zM660.49 612.69l2.83-2.21-.46-.59-2.83 2.21zM664.63 609.46l1.06-.83-.46-.59-1.06 .83zM666.99 607.61l2.83-2.21-.46-.59-2.83 2.21zM671.12 604.37l1.06-.83-.46-.59-1.06 .83zM673.48 602.52l2.83-2.21-.46-.59-2.83 2.21zM677.62 599.29l1.06-.83-.46-.59-1.06 .83zM679.98 597.44l2.83-2.21-.46-.59-2.83 2.21zM684.11 594.2l1.06-.83-.46-.59-1.06 .83zM686.47 592.35l2.83-2.21-.46-.59-2.83 2.21zM690.61 589.11l1.06-.83-.46-.59-1.06 .83zM692.97 587.26l2.83-2.21-.46-.59-2.83 2.21zM697.1 584.03l1.06-.83-.46-.59-1.06 .83zM699.47 582.18l2.83-2.21-.46-.59-2.83 2.21zM703.6 578.94l1.06-.83-.46-.59-1.06 .83zM705.96 577.09l2.83-2.21-.46-.59-2.83 2.21zM710.1 573.85l1.06-.83-.46-.59-1.06 .83zM712.46 572.01l2.83-2.21-.46-.59-2.83 2.21zM716.59 568.77l1.06-.83-.46-.59-1.06 .83zM718.95 566.92l2.83-2.21-.46-.59-2.83 2.21zM723.09 563.68l1.06-.83-.46-.59-1.06 .83zM725.45 561.83l2.83-2.21-.46-.59-2.83 2.21zM729.58 558.6l1.06-.83-.46-.59-1.06 .83zM731.94 556.75l2.83-2.21-.46-.59-2.83 2.21zM736.08 553.51l1.06-.83-.46-.59-1.06 .83zM738.44 551.66l2.83-2.21-.46-.59-2.83 2.21zM742.57 548.42l1.06-.83-.46-.59-1.06 .83zM744.94 546.57l2.83-2.21-.46-.59-2.83 2.21zM749.07 543.34l1.06-.83-.46-.59-1.06 .83zM751.43 541.49l2.83-2.21-.46-.59-2.83 2.21zM755.56 538.25l1.06-.83-.46-.59-1.06 .83zM757.93 536.4l2.83-2.21-.46-.59-2.83 2.21zM762.06 533.17l1.06-.83-.46-.59-1.06 .83zM764.42 531.32l2.83-2.21-.46-.59-2.83 2.21zM768.56 528.08l1.06-.83-.46-.59-1.06 .83zM770.91 526.16l2.59-2.49-.52-.54-2.59 2.49zM774.69 522.52l.97-.93-.52-.54-.97 .93zM776.86 520.44l2.59-2.49-.52-.54-2.59 2.49zM780.64 516.8l.97-.93-.52-.54-.97 .93zM782.8 514.72l2.59-2.49-.52-.54-2.59 2.49zM786.59 511.09l.97-.93-.52-.54-.97 .93zM788.75 509.01l2.59-2.49-.52-.54-2.59 2.49zM792.53 505.37l.97-.93-.52-.54-.97 .93zM794.7 503.29l2.59-2.49-.52-.54-2.59 2.49zM798.48 499.65l.97-.93-.52-.54-.97 .93zM800.64 497.57l2.59-2.49-.52-.54-2.59 2.49zM804.43 493.93l.97-.93-.52-.54-.97 .93zM806.59 491.85l2.59-2.49-.52-.54-2.59 2.49zM810.38 488.22l.97-.93-.52-.54-.97 .93zM812.54 486.14l2.59-2.49-.52-.54-2.59 2.49zM816.32 482.5l.97-.93-.52-.54-.97 .93zM818.49 480.42l2.59-2.49-.52-.54-2.59 2.49zM822.27 476.78l.97-.93-.52-.54-.97 .93zM824.43 474.7l2.59-2.49-.52-.54-2.59 2.49zM828.22 471.06l.97-.93-.52-.54-.97 .93zM830.38 468.98l2.59-2.49-.52-.54-2.59 2.49zM834.17 465.35l.97-.93-.52-.54-.97 .93zM836.33 463.27l2.59-2.49-.52-.54-2.59 2.49zM840.11 459.63l.97-.93-.52-.54-.97 .93zM842.28 457.55l2.59-2.49-.52-.54-2.59 2.49zM846.06 453.91l.97-.93-.52-.54-.97 .93zM848.22 451.83l2.59-2.49-.52-.54-2.59 2.49zM852.01 448.19l.97-.93-.52-.54-.97 .93zM854.17 446.11l2.59-2.49-.52-.54-2.59 2.49zM857.96 442.48l.97-.93-.52-.54-.97 .93zM860.12 440.4l2.59-2.49-.52-.54-2.59 2.49zM863.9 436.76l.97-.93-.52-.54-.97 .93zM866.07 434.68l2.59-2.49-.52-.54-2.59 2.49zM869.85 431.04l.97-.93-.52-.54-.97 .93zM872.01 428.96l2.59-2.49-.52-.54-2.59 2.49zM875.8 425.32l.97-.93-.52-.54-.97 .93zM877.96 423.24l2.59-2.49-.52-.54-2.59 2.49zM881.75 419.6l.97-.93-.52-.54-.97 .93zM883.91 417.53l2.59-2.49-.52-.54-2.59 2.49zM887.69 413.89l.97-.93-.52-.54-.97 .93zM889.86 411.81l2.59-2.49-.52-.54-2.59 2.49zM893.7 408.29l1.05-.83-.46-.59-1.05 .83zM896.05 406.43l2.82-2.22-.46-.59-2.82 2.22zM900.17 403.18l1.05-.83-.46-.59-1.05 .83zM902.53 401.32l2.82-2.22-.46-.59-2.82 2.22zM906.65 398.07l1.05-.83-.46-.59-1.05 .83zM909.01 396.21l2.82-2.22-.46-.59-2.82 2.22zM913.13 392.96l1.05-.83-.46-.59-1.05 .83zM915.48 391.1l2.82-2.22-.46-.59-2.82 2.22zM919.61 387.85l1.05-.83-.46-.59-1.05 .83zM921.96 386l2.82-2.22-.46-.59-2.82 2.22zM926.08 382.74l1.05-.83-.46-.59-1.05 .83zM928.44 380.89l2.82-2.22-.46-.59-2.82 2.22zM932.56 377.63l1.05-.83-.46-.59-1.05 .83zM934.92 375.78l2.82-2.22-.46-.59-2.82 2.22zM939.04 372.53l1.05-.83-.46-.59-1.05 .83zM941.39 370.67l2.82-2.22-.46-.59-2.82 2.22zM945.52 367.42l1.05-.83-.46-.59-1.05 .83zM947.87 365.56l2.82-2.22-.46-.59-2.82 2.22zM951.99 362.31l1.05-.83-.46-.59-1.05 .83zM954.35 360.45l2.82-2.22-.46-.59-2.82 2.22zM958.47 357.2l1.05-.83-.46-.59-1.05 .83zM960.83 355.34l2.82-2.22-.46-.59-2.82 2.22zM964.95 352.09l1.05-.83-.46-.59-1.05 .83zM967.31 350.23l2.82-2.22-.46-.59-2.82 2.22zM971.43 346.98l1.05-.83-.46-.59-1.05 .83zM973.78 345.12l2.82-2.22-.46-.59-2.82 2.22zM977.91 341.87l1.05-.83-.46-.59-1.05 .83zM980.26 340.01l2.82-2.22-.46-.59-2.82 2.22zM984.38 336.76l1.05-.83-.46-.59-1.05 .83zM986.74 334.9l2.82-2.22-.46-.59-2.82 2.22zM990.86 331.65l1.05-.83-.46-.59-1.05 .83zM993.22 329.8l2.82-2.22-.46-.59-2.82 2.22zM997.34 326.54l1.05-.83-.46-.59-1.05 .83zM999.69 324.69l2.82-2.22-.46-.59-2.82 2.22zM1003.82 321.43l1.05-.83-.46-.59-1.05 .83zM1006.17 319.58l2.82-2.22-.46-.59-2.82 2.22zM1010.29 316.33l1.05-.83-.46-.59-1.05 .83zM1012.65 314.47l2.25-1.77-.46-.59-2.25 1.77zM1014.67 312.77l.73 0 0-.75-.73 0zM1017.05 312.77l1.34 0 0-.75-1.34 0zM1020.05 312.77l3.59 0 0-.75-3.59 0zM1025.3 312.77l1.34 0 0-.75-1.34 0zM1028.3 312.77l3.59 0 0-.75-3.59 0zM1033.55 312.77l1.34 0 0-.75-1.34 0zM1036.55 312.77l3.59 0 0-.75-3.59 0zM1041.8 312.77l1.34 0 0-.75-1.34 0zM1044.8 312.77l3.59 0 0-.75-3.59 0zM1050.05 312.77l1.34 0 0-.75-1.34 0zM1053.05 312.77l3.59 0 0-.75-3.59 0zM1058.3 312.77l1.34 0 0-.75-1.34 0zM1061.3 312.77l3.59 0 0-.75-3.59 0zM1066.55 312.77l1.34 0 0-.75-1.34 0zM1069.55 312.77l3.59 0 0-.75-3.59 0zM1074.8 312.77l1.34 0 0-.75-1.34 0zM1077.8 312.77l3.59 0 0-.75-3.59 0zM1083.05 312.77l1.34 0 0-.75-1.34 0zM1086.05 312.77l3.59 0 0-.75-3.59 0zM1091.3 312.77l1.34 0 0-.75-1.34 0zM1094.3 312.77l3.59 0 0-.75-3.59 0zM1099.55 312.77l1.34 0 0-.75-1.34 0zM1102.55 312.77l3.59 0 0-.75-3.59 0zM1107.8 312.77l1.34 0 0-.75-1.34 0zM1110.8 312.77l3.59 0 0-.75-3.59 0zM1116.05 312.77l1.34 0 0-.75-1.34 0zM1119.05 312.77l3.59 0 0-.75-3.59 0zM1124.3 312.77l1.34 0 0-.75-1.34 0zM1127.3 312.77l3.59 0 0-.75-3.59 0zM1132.55 312.77l1.34 0 0-.75-1.34 0zM1136.89 312.77l.3 0 0-.75-.3 0zM1135.55 312.77l1.34 0 0-.75-1.34 0z"/>
<path fill="#FF0000" d="M159.04 1038.43l.26-.15-.38-.65-.26 .15zM159.3 1038.28l4.8-2.78-.38-.65-4.8 2.78zM165.53 1034.66l5.05-2.93-.38-.65-5.05 2.93zM172.02 1030.89l5.05-2.93-.38-.65-5.05 2.93zM178.5 1027.13l5.05-2.93-.38-.65-5.05 2.93zM184.99 1023.36l5.05-2.93-.38-.65-5.05 2.93zM191.47 1019.6l5.05-2.93-.38-.65-5.05 2.93zM197.96 1015.83l5.05-2.93-.38-.65-5.05 2.93zM204.45 1012.07l5.05-2.93-.38-.65-5.05 2.93zM210.93 1008.3l5.05-2.93-.38-.65-5.05 2.93zM217.42 1004.54l5.05-2.93-.38-.65-5.05 2.93zM223.91 1000.77l5.05-2.93-.38-.65-5.05 2.93zM230.39 997.01l5.05-2.93-.38-.65-5.05 2.93zM236.88 993.24l5.05-2.93-.38-.65-5.05 2.93zM243.36 989.47l5.05-2.93-.38-.65-5.05 2.93zM249.85 985.71l5.05-2.93-.38-.65-5.05 2.93zM256.34 981.94l5.05-2.93-.38-.65-5.05 2.93zM262.82 978.18l5.05-2.93-.38-.65-5.05 2.93zM269.31 974.41l5.05-2.93-.38-.65-5.05 2.93zM275.8 970.65l5.05-2.93-.38-.65-5.05 2.93zM282.29 966.98l5.32-2.41-.31-.68-5.32 2.41zM289.12 963.88l5.32-2.41-.31-.68-5.32 2.41zM295.95 960.78l5.32-2.41-.31-.68-5.32 2.41zM302.78 957.67l5.32-2.41-.31-.68-5.32 2.41zM309.6 954.57l5.32-2.41-.31-.68-5.32 2.41zM316.43 951.47l5.32-2.41-.31-.68-5.32 2.41zM323.26 948.37l5.32-2.41-.31-.68-5.32 2.41zM330.09 945.27l5.32-2.41-.31-.68-5.32 2.41zM336.92 942.17l5.32-2.41-.31-.68-5.32 2.41zM343.75 939.07l5.32-2.41-.31-.68-5.32 2.41zM350.58 935.97l5.32-2.41-.31-.68-5.32 2.41zM357.41 932.87l5.32-2.41-.31-.68-5.32 2.41zM364.24 929.77l5.32-2.41-.31-.68-5.32 2.41zM371.07 926.66l5.32-2.41-.31-.68-5.32 2.41zM377.89 923.56l5.32-2.41-.31-.68-5.32 2.41zM384.72 920.46l5.32-2.41-.31-.68-5.32 2.41zM391.55 917.36l5.32-2.41-.31-.68-5.32 2.41zM398.38 914.26l5.32-2.41-.31-.68-5.32 2.41zM405.08 910.77l4.57-3.64-.47-.59-4.57 3.64zM410.94 906.09l4.57-3.64-.47-.59-4.57 3.64zM416.8 901.41l4.57-3.64-.47-.59-4.57 3.64zM422.67 896.73l4.57-3.64-.47-.59-4.57 3.64zM428.53 892.06l4.57-3.64-.47-.59-4.57 3.64zM434.39 887.38l4.57-3.64-.47-.59-4.57 3.64zM440.25 882.7l4.57-3.64-.47-.59-4.57 3.64zM446.12 878.03l4.57-3.64-.47-.59-4.57 3.64zM451.98 873.35l4.57-3.64-.47-.59-4.57 3.64zM457.84 868.67l4.57-3.64-.47-.59-4.57 3.64zM463.71 863.99l4.57-3.64-.47-.59-4.57 3.64zM469.57 859.32l4.57-3.64-.47-.59-4.57 3.64zM475.43 854.64l4.57-3.64-.47-.59-4.57 3.64zM481.3 849.96l4.57-3.64-.47-.59-4.57 3.64zM487.16 845.29l4.57-3.64-.47-.59-4.57 3.64zM493.02 840.61l4.57-3.64-.47-.59-4.57 3.64zM498.88 835.93l4.57-3.64-.47-.59-4.57 3.64zM504.75 831.26l4.57-3.64-.47-.59-4.57 3.64zM510.61 826.58l4.57-3.64-.47-.59-4.57 3.64zM516.47 821.9l4.57-3.64-.47-.59-4.57 3.64zM522.34 817.22l3.67-2.93-.47-.59-3.67 2.93zM526.05 814.26l.79-.82-.54-.52-.79 .82zM528 812.25l4.07-4.19-.54-.52-4.07 4.19zM533.22 806.87l4.07-4.19-.54-.52-4.07 4.19zM538.44 801.48l4.07-4.19-.54-.52-4.07 4.19zM543.66 796.1l4.07-4.19-.54-.52-4.07 4.19zM548.88 790.72l4.07-4.19-.54-.52-4.07 4.19zM554.11 785.33l4.07-4.19-.54-.52-4.07 4.19zM559.33 779.95l4.07-4.19-.54-.52-4.07 4.19zM564.55 774.57l4.07-4.19-.54-.52-4.07 4.19zM569.77 769.18l4.07-4.19-.54-.52-4.07 4.19zM574.99 763.8l4.07-4.19-.54-.52-4.07 4.19zM580.22 758.42l4.07-4.19-.54-.52-4.07 4.19zM585.44 753.03l4.07-4.19-.54-.52-4.07 4.19zM590.66 747.65l4.07-4.19-.54-.52-4.07 4.19zM595.88 742.27l4.07-4.19-.54-.52-4.07 4.19zM601.1 736.88l4.07-4.19-.54-.52-4.07 4.19zM606.33 731.5l4.07-4.19-.54-.52-4.07 4.19zM611.55 726.12l4.07-4.19-.54-.52-4.07 4.19zM616.77 720.73l4.07-4.19-.54-.52-4.07 4.19zM621.99 715.35l4.07-4.19-.54-.52-4.07 4.19zM627.21 709.97l4.07-4.19-.54-.52-4.07 4.19zM632.44 704.58l4.07-4.19-.54-.52-4.07 4.19zM637.66 699.2l4.07-4.19-.54-.52-4.07 4.19zM642.88 693.82l4.07-4.19-.54-.52-4.07 4.19zM648.1 688.43l.17-.17-.54-.52-.17 .17zM648.21 688.31l4.63-3.15-.42-.62-4.63 3.15zM654.22 684.23l4.83-3.28-.42-.62-4.83 3.28zM660.42 680.02l4.83-3.28-.42-.62-4.83 3.28zM666.62 675.8l4.83-3.28-.42-.62-4.83 3.28zM672.83 671.59l4.83-3.28-.42-.62-4.83 3.28zM679.03 667.38l4.83-3.28-.42-.62-4.83 3.28zM685.24 663.16l4.83-3.28-.42-.62-4.83 3.28zM691.44 658.95l4.83-3.28-.42-.62-4.83 3.28zM697.65 654.74l4.83-3.28-.42-.62-4.83 3.28zM703.85 650.52l4.83-3.28-.42-.62-4.83 3.28zM710.06 646.31l4.83-3.28-.42-.62-4.83 3.28zM716.26 642.1l4.83-3.28-.42-.62-4.83 3.28zM722.47 637.88l4.83-3.28-.42-.62-4.83 3.28zM728.67 633.67l4.83-3.28-.42-.62-4.83 3.28zM734.88 629.46l4.83-3.28-.42-.62-4.83 3.28zM741.08 625.24l4.83-3.28-.42-.62-4.83 3.28zM747.28 621.03l4.83-3.28-.42-.62-4.83 3.28zM753.49 616.82l4.83-3.28-.42-.62-4.83 3.28zM759.69 612.6l4.83-3.28-.42-.62-4.83 3.28zM765.9 608.39l4.53-3.08-.42-.62-4.53 3.08zM770.46 605.29l.28-.23-.48-.57-.28 .23zM772.01 603.99l4.47-3.76-.48-.57-4.47 3.76zM777.74 599.15l4.47-3.76-.48-.57-4.47 3.76zM783.48 594.32l4.47-3.76-.48-.57-4.47 3.76zM789.21 589.49l4.47-3.76-.48-.57-4.47 3.76zM794.95 584.65l4.47-3.76-.48-.57-4.47 3.76zM800.68 579.82l4.47-3.76-.48-.57-4.47 3.76zM806.42 574.99l4.47-3.76-.48-.57-4.47 3.76zM812.15 570.15l4.47-3.76-.48-.57-4.47 3.76zM817.89 565.32l4.47-3.76-.48-.57-4.47 3.76zM823.62 560.49l4.47-3.76-.48-.57-4.47 3.76zM829.36 555.65l4.47-3.76-.48-.57-4.47 3.76zM835.09 550.82l4.47-3.76-.48-.57-4.47 3.76zM840.83 545.99l4.47-3.76-.48-.57-4.47 3.76zM846.56 541.15l4.47-3.76-.48-.57-4.47 3.76zM852.3 536.32l4.47-3.76-.48-.57-4.47 3.76zM858.03 531.49l4.47-3.76-.48-.57-4.47 3.76zM863.77 526.66l4.47-3.76-.48-.57-4.47 3.76zM869.5 521.82l4.47-3.76-.48-.57-4.47 3.76zM875.24 516.99l4.47-3.76-.48-.57-4.47 3.76zM880.97 512.16l4.47-3.76-.48-.57-4.47 3.76zM886.71 507.32l4.47-3.76-.48-.57-4.47 3.76zM892.44 502.49l.24-.2-.48-.57-.24 .2zM892.65 502.31l4.56-3.12-.42-.62-4.56 3.12zM898.59 498.25l4.82-3.3-.42-.62-4.82 3.3zM904.78 494.02l4.82-3.3-.42-.62-4.82 3.3zM910.97 489.78l4.82-3.3-.42-.62-4.82 3.3zM917.16 485.55l4.82-3.3-.42-.62-4.82 3.3zM923.35 481.32l4.82-3.3-.42-.62-4.82 3.3zM929.54 477.08l4.82-3.3-.42-.62-4.82 3.3zM935.73 472.85l4.82-3.3-.42-.62-4.82 3.3zM941.92 468.61l4.82-3.3-.42-.62-4.82 3.3zM948.11 464.38l4.82-3.3-.42-.62-4.82 3.3zM954.3 460.15l4.82-3.3-.42-.62-4.82 3.3zM960.49 455.91l4.82-3.3-.42-.62-4.82 3.3zM966.68 451.68l4.82-3.3-.42-.62-4.82 3.3zM972.87 447.44l4.82-3.3-.42-.62-4.82 3.3zM979.06 443.21l4.82-3.3-.42-.62-4.82 3.3zM985.25 438.97l4.82-3.3-.42-.62-4.82 3.3zM991.44 434.74l4.82-3.3-.42-.62-4.82 3.3zM997.63 430.51l4.82-3.3-.42-.62-4.82 3.3zM1003.82 426.27l4.82-3.3-.42-.62-4.82 3.3zM1010.01 422.04l4.82-3.3-.42-.62-4.82 3.3zM1016.27 418.77l5.84 0 0-.75-5.84 0zM1023.77 418.77l5.84 0 0-.75-5.84 0zM1031.27 418.77l5.84 0 0-.75-5.84 0zM1038.77 418.77l5.84 0 0-.75-5.84 0zM1046.27 418.77l5.84 0 0-.75-5.84 0zM1053.77 418.77l5.84 0 0-.75-5.84 0zM1061.27 418.77l5.84 0 0-.75-5.84 0zM1068.77 418.77l5.84 0 0-.75-5.84 0zM1076.27 418.77l5.84 0 0-.75-5.84 0zM1083.77 418.77l5.84 0 0-.75-5.84 0zM1091.27 418.77l5.84 0 0-.75-5.84 0zM1098.77 418.77l5.84 0 0-.75-5.84 0zM1106.27 418.77l5.84 0 0-.75-5.84 0zM1113.77 418.77l5.84 0 0-.75-5.84 0zM1121.27 418.77l5.84 0 0-.75-5.84 0zM1128.77 418.77l5.84 0 0-.75-5.84 0zM1136.89 418.77l.3 0 0-.75-.3 0zM1136.27 418.77l.62 0 0-.75-.62 0z"/>
<path fill="#00CD00" d="M159.01 1039.97l122.47-60.87 122.25-48.26 122.28-86.04 122.21-113.49 122.2-76.49 122.22-90 122.12-73.44 122.41 0 0-.75-122.62 0-122.33 73.56-122.22 90-122.24 76.51-122.23 113.51-122.16 85.96-122.2 48.24-122.5 60.89z"/>
<path fill="#0000FF" d="M159.02 1039.85l.26-.13-.34-.67-.26 .13zM159.28 1039.71l2.94-1.49-.34-.67-2.94 1.49zM164.37 1037.13l3.2-1.62-.34-.67-3.2 1.62zM169.72 1034.42l3.2-1.62-.34-.67-3.2 1.62zM175.08 1031.71l3.2-1.62-.34-.67-3.2 1.62zM180.43 1029l3.2-1.62-.34-.67-3.2 1.62zM185.78 1026.29l3.2-1.62-.34-.67-3.2 1.62zM191.13 1023.58l3.2-1.62-.34-.67-3.2 1.62zM196.49 1020.87l3.2-1.62-.34-.67-3.2 1.62zM201.84 1018.16l3.2-1.62-.34-.67-3.2 1.62zM207.19 1015.45l3.2-1.62-.34-.67-3.2 1.62zM212.55 1012.74l3.2-1.62-.34-.67-3.2 1.62zM217.9 1010.03l3.2-1.62-.34-.67-3.2 1.62zM223.25 1007.32l3.2-1.62-.34-.67-3.2 1.62zM228.61 1004.61l3.2-1.62-.34-.67-3.2 1.62zM233.96 1001.9l3.2-1.62-.34-.67-3.2 1.62zM239.31 999.19l3.2-1.62-.34-.67-3.2 1.62zM244.67 996.48l3.2-1.62-.34-.67-3.2 1.62zM250.02 993.77l3.2-1.62-.34-.67-3.2 1.62zM255.37 991.06l3.2-1.62-.34-.67-3.2 1.62zM260.72 988.35l3.2-1.62-.34-.67-3.2 1.62zM266.08 985.64l3.2-1.62-.34-.67-3.2 1.62zM271.43 982.93l3.2-1.62-.34-.67-3.2 1.62zM276.78 980.22l3.2-1.62-.34-.67-3.2 1.62zM282.13 977.58l3.33-1.33-.28-.7-3.33 1.33zM287.71 975.36l3.33-1.33-.28-.7-3.33 1.33zM293.28 973.14l3.33-1.33-.28-.7-3.33 1.33zM298.85 970.92l3.33-1.33-.28-.7-3.33 1.33zM304.42 968.69l3.33-1.33-.28-.7-3.33 1.33zM310 966.47l3.33-1.33-.28-.7-3.33 1.33zM315.57 964.25l3.33-1.33-.28-.7-3.33 1.33zM321.14 962.02l3.33-1.33-.28-.7-3.33 1.33zM326.72 959.8l3.33-1.33-.28-.7-3.33 1.33zM332.29 957.58l3.33-1.33-.28-.7-3.33 1.33zM337.86 955.36l3.33-1.33-.28-.7-3.33 1.33zM343.44 953.13l3.33-1.33-.28-.7-3.33 1.33zM349.01 950.91l3.33-1.33-.28-.7-3.33 1.33zM354.58 948.69l3.33-1.33-.28-.7-3.33 1.33zM360.16 946.46l3.33-1.33-.28-.7-3.33 1.33zM365.73 944.24l3.33-1.33-.28-.7-3.33 1.33zM371.3 942.02l3.33-1.33-.28-.7-3.33 1.33zM376.87 939.8l3.33-1.33-.28-.7-3.33 1.33zM382.45 937.57l3.33-1.33-.28-.7-3.33 1.33zM388.02 935.35l3.33-1.33-.28-.7-3.33 1.33zM393.59 933.13l3.33-1.33-.28-.7-3.33 1.33zM399.17 930.9l3.33-1.33-.28-.7-3.33 1.33zM404.68 928.38l2.89-2.13-.45-.6-2.89 2.13zM409.51 924.82l2.89-2.13-.45-.6-2.89 2.13zM414.34 921.25l2.89-2.13-.45-.6-2.89 2.13zM419.16 917.69l2.89-2.13-.45-.6-2.89 2.13zM423.99 914.13l2.89-2.13-.45-.6-2.89 2.13zM428.82 910.56l2.89-2.13-.45-.6-2.89 2.13zM433.64 907l2.89-2.13-.45-.6-2.89 2.13zM438.47 903.43l2.89-2.13-.45-.6-2.89 2.13zM443.3 899.87l2.89-2.13-.45-.6-2.89 2.13zM448.12 896.31l2.89-2.13-.45-.6-2.89 2.13zM452.95 892.74l2.89-2.13-.45-.6-2.89 2.13zM457.78 889.18l2.89-2.13-.45-.6-2.89 2.13zM462.6 885.61l2.89-2.13-.45-.6-2.89 2.13zM467.43 882.05l2.89-2.13-.45-.6-2.89 2.13zM472.26 878.49l2.89-2.13-.45-.6-2.89 2.13zM477.08 874.92l2.89-2.13-.45-.6-2.89 2.13zM481.91 871.36l2.89-2.13-.45-.6-2.89 2.13zM486.74 867.79l2.89-2.13-.45-.6-2.89 2.13zM491.56 864.23l2.89-2.13-.45-.6-2.89 2.13zM496.39 860.66l2.89-2.13-.45-.6-2.89 2.13zM501.22 857.1l2.89-2.13-.45-.6-2.89 2.13zM506.04 853.54l2.89-2.13-.45-.6-2.89 2.13zM510.87 849.97l2.89-2.13-.45-.6-2.89 2.13zM515.7 846.41l2.89-2.13-.45-.6-2.89 2.13zM520.52 842.84l2.89-2.13-.45-.6-2.89 2.13zM525.35 839.28l.65-.48-.45-.6-.65 .48zM526.04 838.77l2.01-1.93-.52-.54-2.01 1.93zM529.79 835.18l2.59-2.48-.52-.54-2.59 2.48zM534.12 831.03l2.59-2.48-.52-.54-2.59 2.48zM538.46 826.88l2.59-2.48-.52-.54-2.59 2.48zM542.79 822.73l2.59-2.48-.52-.54-2.59 2.48zM547.13 818.58l2.59-2.48-.52-.54-2.59 2.48zM551.46 814.43l2.59-2.48-.52-.54-2.59 2.48zM555.79 810.28l2.59-2.48-.52-.54-2.59 2.48zM560.13 806.14l2.59-2.48-.52-.54-2.59 2.48zM564.46 801.99l2.59-2.48-.52-.54-2.59 2.48zM568.8 797.84l2.59-2.48-.52-.54-2.59 2.48zM573.13 793.69l2.59-2.48-.52-.54-2.59 2.48zM577.46 789.54l2.59-2.48-.52-.54-2.59 2.48zM581.8 785.39l2.59-2.48-.52-.54-2.59 2.48zM586.13 781.24l2.59-2.48-.52-.54-2.59 2.48zM590.47 777.09l2.59-2.48-.52-.54-2.59 2.48zM594.8 772.94l2.59-2.48-.52-.54-2.59 2.48zM599.14 768.79l2.59-2.48-.52-.54-2.59 2.48zM603.47 764.65l2.59-2.48-.52-.54-2.59 2.48zM607.8 760.5l2.59-2.48-.52-.54-2.59 2.48zM612.14 756.35l2.59-2.48-.52-.54-2.59 2.48zM616.47 752.2l2.59-2.48-.52-.54-2.59 2.48zM620.81 748.05l2.59-2.48-.52-.54-2.59 2.48zM625.14 743.9l2.59-2.48-.52-.54-2.59 2.48zM629.48 739.75l2.59-2.48-.52-.54-2.59 2.48zM633.81 735.6l2.59-2.48-.52-.54-2.59 2.48zM638.14 731.45l2.59-2.48-.52-.54-2.59 2.48zM642.48 727.3l2.59-2.48-.52-.54-2.59 2.48zM646.81 723.16l1.45-1.38-.52-.54-1.45 1.38zM648.2 721.82l1.34-.86-.41-.63-1.34 .86zM651.57 719.65l3.02-1.94-.41-.63-3.02 1.94zM656.61 716.41l3.02-1.94-.41-.63-3.02 1.94zM661.66 713.17l3.02-1.94-.41-.63-3.02 1.94zM666.71 709.93l3.02-1.94-.41-.63-3.02 1.94zM671.76 706.68l3.02-1.94-.41-.63-3.02 1.94zM676.81 703.44l3.02-1.94-.41-.63-3.02 1.94zM681.86 700.2l3.02-1.94-.41-.63-3.02 1.94zM686.9 696.96l3.02-1.94-.41-.63-3.02 1.94zM691.95 693.72l3.02-1.94-.41-.63-3.02 1.94zM697 690.47l3.02-1.94-.41-.63-3.02 1.94zM702.05 687.23l3.02-1.94-.41-.63-3.02 1.94zM707.1 683.99l3.02-1.94-.41-.63-3.02 1.94zM712.15 680.75l3.02-1.94-.41-.63-3.02 1.94zM717.2 677.5l3.02-1.94-.41-.63-3.02 1.94zM722.24 674.26l3.02-1.94-.41-.63-3.02 1.94zM727.29 671.02l3.02-1.94-.41-.63-3.02 1.94zM732.34 667.78l3.02-1.94-.41-.63-3.02 1.94zM737.39 664.53l3.02-1.94-.41-.63-3.02 1.94zM742.44 661.29l3.02-1.94-.41-.63-3.02 1.94zM747.49 658.05l3.02-1.94-.41-.63-3.02 1.94zM752.53 654.81l3.02-1.94-.41-.63-3.02 1.94zM757.58 651.56l3.02-1.94-.41-.63-3.02 1.94zM762.63 648.32l3.02-1.94-.41-.63-3.02 1.94zM767.68 645.08l2.74-1.76-.41-.63-2.74 1.76zM770.44 643.3l.27-.19-.44-.61-.27 .19zM772.66 641.69l2.9-2.11-.44-.61-2.9 2.11zM777.51 638.16l2.9-2.11-.44-.61-2.9 2.11zM782.36 634.63l2.9-2.11-.44-.61-2.9 2.11zM787.21 631.1l2.9-2.11-.44-.61-2.9 2.11zM792.06 627.56l2.9-2.11-.44-.61-2.9 2.11zM796.91 624.03l2.9-2.11-.44-.61-2.9 2.11zM801.76 620.5l2.9-2.11-.44-.61-2.9 2.11zM806.61 616.97l2.9-2.11-.44-.61-2.9 2.11zM811.46 613.44l2.9-2.11-.44-.61-2.9 2.11zM816.31 609.9l2.9-2.11-.44-.61-2.9 2.11zM821.16 606.37l2.9-2.11-.44-.61-2.9 2.11zM826.01 602.84l2.9-2.11-.44-.61-2.9 2.11zM830.86 599.31l2.9-2.11-.44-.61-2.9 2.11zM835.71 595.78l2.9-2.11-.44-.61-2.9 2.11zM840.56 592.24l2.9-2.11-.44-.61-2.9 2.11zM845.41 588.71l2.9-2.11-.44-.61-2.9 2.11zM850.26 585.18l2.9-2.11-.44-.61-2.9 2.11zM855.11 581.65l2.9-2.11-.44-.61-2.9 2.11zM859.96 578.12l2.9-2.11-.44-.61-2.9 2.11zM864.81 574.58l2.9-2.11-.44-.61-2.9 2.11zM869.66 571.05l2.9-2.11-.44-.61-2.9 2.11zM874.51 567.52l2.9-2.11-.44-.61-2.9 2.11zM879.36 563.99l2.9-2.11-.44-.61-2.9 2.11zM884.21 560.46l2.9-2.11-.44-.61-2.9 2.11zM889.06 556.93l2.9-2.11-.44-.61-2.9 2.11zM893.97 553.54l3.1-1.81-.38-.65-3.1 1.81zM899.15 550.51l3.1-1.81-.38-.65-3.1 1.81zM904.32 547.48l3.1-1.81-.38-.65-3.1 1.81zM909.5 544.45l3.1-1.81-.38-.65-3.1 1.81zM914.68 541.42l3.1-1.81-.38-.65-3.1 1.81zM919.86 538.4l3.1-1.81-.38-.65-3.1 1.81zM925.04 535.37l3.1-1.81-.38-.65-3.1 1.81zM930.22 532.34l3.1-1.81-.38-.65-3.1 1.81zM935.4 529.31l3.1-1.81-.38-.65-3.1 1.81zM940.58 526.28l3.1-1.81-.38-.65-3.1 1.81zM945.76 523.25l3.1-1.81-.38-.65-3.1 1.81zM950.93 520.22l3.1-1.81-.38-.65-3.1 1.81zM956.11 517.19l3.1-1.81-.38-.65-3.1 1.81zM961.29 514.16l3.1-1.81-.38-.65-3.1 1.81zM966.47 511.13l3.1-1.81-.38-.65-3.1 1.81zM971.65 508.1l3.1-1.81-.38-.65-3.1 1.81zM976.83 505.07l3.1-1.81-.38-.65-3.1 1.81zM982.01 502.04l3.1-1.81-.38-.65-3.1 1.81zM987.19 499.01l3.1-1.81-.38-.65-3.1 1.81zM992.37 495.98l3.1-1.81-.38-.65-3.1 1.81zM997.54 492.95l3.1-1.81-.38-.65-3.1 1.81zM1002.72 489.92l3.1-1.81-.38-.65-3.1 1.81zM1007.9 486.89l3.1-1.81-.38-.65-3.1 1.81zM1013.08 483.86l1.77-1.04-.38-.65-1.77 1.04zM1014.67 482.88l1.54 0 0-.75-1.54 0zM1018.61 482.88l3.59 0 0-.75-3.59 0zM1024.61 482.88l3.59 0 0-.75-3.59 0zM1030.61 482.88l3.59 0 0-.75-3.59 0zM1036.61 482.88l3.59 0 0-.75-3.59 0zM1042.61 482.88l3.59 0 0-.75-3.59 0zM1048.61 482.88l3.59 0 0-.75-3.59 0zM1054.61 482.88l3.59 0 0-.75-3.59 0zM1060.61 482.88l3.59 0 0-.75-3.59 0zM1066.61 482.88l3.59 0 0-.75-3.59 0zM1072.61 482.88l3.59 0 0-.75-3.59 0zM1078.61 482.88l3.59 0 0-.75-3.59 0zM1084.61 482.88l3.59 0 0-.75-3.59 0zM1090.61 482.88l3.59 0 0-.75-3.59 0zM1096.61 482.88l3.59 0 0-.75-3.59 0zM1102.61 482.88l3.59 0 0-.75-3.59 0zM1108.61 482.88l3.59 0 0-.75-3.59 0zM1114.61 482.88l3.59 0 0-.75-3.59 0zM1120.61 482.88l3.59 0 0-.75-3.59 0zM1126.61 482.88l3.59 0 0-.75-3.59 0zM1132.61 482.88l3.59 0 0-.75-3.59 0z"/>
<path fill="#00FFFF" d="M159.02 1039.8l.26-.13-.34-.67-.26 .13zM159.28 1039.66l.93-.47-.34-.67-.93 .47zM161.69 1038.43l1.19-.61-.34-.67-1.19 .61zM164.36 1037.07l1.19-.61-.34-.67-1.19 .61zM167.04 1035.71l1.19-.61-.34-.67-1.19 .61zM169.71 1034.34l1.19-.61-.34-.67-1.19 .61zM172.38 1032.98l1.19-.61-.34-.67-1.19 .61zM175.05 1031.62l1.19-.61-.34-.67-1.19 .61zM177.73 1030.26l1.19-.61-.34-.67-1.19 .61zM180.4 1028.89l1.19-.61-.34-.67-1.19 .61zM183.07 1027.53l1.19-.61-.34-.67-1.19 .61zM185.74 1026.17l1.19-.61-.34-.67-1.19 .61zM188.42 1024.8l1.19-.61-.34-.67-1.19 .61zM191.09 1023.44l1.19-.61-.34-.67-1.19 .61zM193.76 1022.08l1.19-.61-.34-.67-1.19 .61zM196.43 1020.72l1.19-.61-.34-.67-1.19 .61zM199.11 1019.35l1.19-.61-.34-.67-1.19 .61zM201.78 1017.99l1.19-.61-.34-.67-1.19 .61zM204.45 1016.63l1.19-.61-.34-.67-1.19 .61zM207.12 1015.26l1.19-.61-.34-.67-1.19 .61zM209.8 1013.9l1.19-.61-.34-.67-1.19 .61zM212.47 1012.54l1.19-.61-.34-.67-1.19 .61zM215.14 1011.18l1.19-.61-.34-.67-1.19 .61zM217.81 1009.81l1.19-.61-.34-.67-1.19 .61zM220.49 1008.45l1.19-.61-.34-.67-1.19 .61zM223.16 1007.09l1.19-.61-.34-.67-1.19 .61zM225.83 1005.72l1.19-.61-.34-.67-1.19 .61zM228.5 1004.36l1.19-.61-.34-.67-1.19 .61zM231.18 1003l1.19-.61-.34-.67-1.19 .61zM233.85 1001.64l1.19-.61-.34-.67-1.19 .61zM236.52 1000.27l1.19-.61-.34-.67-1.19 .61zM239.19 998.91l1.19-.61-.34-.67-1.19 .61zM241.87 997.55l1.19-.61-.34-.67-1.19 .61zM244.54 996.18l1.19-.61-.34-.67-1.19 .61zM247.21 994.82l1.19-.61-.34-.67-1.19 .61zM249.88 993.46l1.19-.61-.34-.67-1.19 .61zM252.56 992.1l1.19-.61-.34-.67-1.19 .61zM255.23 990.73l1.19-.61-.34-.67-1.19 .61zM257.9 989.37l1.19-.61-.34-.67-1.19 .61zM260.57 988.01l1.19-.61-.34-.67-1.19 .61zM263.25 986.64l1.19-.61-.34-.67-1.19 .61zM265.92 985.28l1.19-.61-.34-.67-1.19 .61zM268.59 983.92l1.19-.61-.34-.67-1.19 .61zM271.26 982.55l1.19-.61-.34-.67-1.19 .61zM273.94 981.19l1.19-.61-.34-.67-1.19 .61zM276.61 979.83l1.19-.61-.34-.67-1.19 .61zM279.28 978.47l1.19-.61-.34-.67-1.19 .61zM281.94 977.16l1.24-.5-.28-.7-1.24 .5zM284.73 976.05l1.24-.5-.28-.7-1.24 .5zM287.52 974.94l1.24-.5-.28-.7-1.24 .5zM290.3 973.83l1.24-.5-.28-.7-1.24 .5zM293.09 972.71l1.24-.5-.28-.7-1.24 .5zM295.88 971.6l1.24-.5-.28-.7-1.24 .5zM298.66 970.49l1.24-.5-.28-.7-1.24 .5zM301.45 969.38l1.24-.5-.28-.7-1.24 .5zM304.23 968.27l1.24-.5-.28-.7-1.24 .5zM307.02 967.16l1.24-.5-.28-.7-1.24 .5zM309.81 966.05l1.24-.5-.28-.7-1.24 .5zM312.59 964.93l1.24-.5-.28-.7-1.24 .5zM315.38 963.82l1.24-.5-.28-.7-1.24 .5zM318.17 962.71l1.24-.5-.28-.7-1.24 .5zM320.95 961.6l1.24-.5-.28-.7-1.24 .5zM323.74 960.49l1.24-.5-.28-.7-1.24 .5zM326.53 959.38l1.24-.5-.28-.7-1.24 .5zM329.31 958.27l1.24-.5-.28-.7-1.24 .5zM332.1 957.15l1.24-.5-.28-.7-1.24 .5zM334.89 956.04l1.24-.5-.28-.7-1.24 .5zM337.67 954.93l1.24-.5-.28-.7-1.24 .5zM340.46 953.82l1.24-.5-.28-.7-1.24 .5zM343.25 952.71l1.24-.5-.28-.7-1.24 .5zM346.03 951.6l1.24-.5-.28-.7-1.24 .5zM348.82 950.49l1.24-.5-.28-.7-1.24 .5zM351.61 949.37l1.24-.5-.28-.7-1.24 .5zM354.39 948.26l1.24-.5-.28-.7-1.24 .5zM357.18 947.15l1.24-.5-.28-.7-1.24 .5zM359.97 946.04l1.24-.5-.28-.7-1.24 .5zM362.75 944.93l1.24-.5-.28-.7-1.24 .5zM365.54 943.82l1.24-.5-.28-.7-1.24 .5zM368.32 942.71l1.24-.5-.28-.7-1.24 .5zM371.11 941.59l1.24-.5-.28-.7-1.24 .5zM373.9 940.48l1.24-.5-.28-.7-1.24 .5zM376.68 939.37l1.24-.5-.28-.7-1.24 .5zM379.47 938.26l1.24-.5-.28-.7-1.24 .5zM382.26 937.15l1.24-.5-.28-.7-1.24 .5zM385.04 936.04l1.24-.5-.28-.7-1.24 .5zM387.83 934.93l1.24-.5-.28-.7-1.24 .5zM390.62 933.81l1.24-.5-.28-.7-1.24 .5zM393.4 932.7l1.24-.5-.28-.7-1.24 .5zM396.19 931.59l1.24-.5-.28-.7-1.24 .5zM398.98 930.48l1.24-.5-.28-.7-1.24 .5zM401.76 929.37l1.24-.5-.28-.7-1.24 .5zM404.52 928l1.08-.8-.45-.6-1.08 .8zM406.93 926.21l1.08-.8-.45-.6-1.08 .8zM409.34 924.42l1.08-.8-.45-.6-1.08 .8zM411.74 922.64l1.08-.8-.45-.6-1.08 .8zM414.15 920.85l1.08-.8-.45-.6-1.08 .8zM416.56 919.06l1.08-.8-.45-.6-1.08 .8zM418.97 917.27l1.08-.8-.45-.6-1.08 .8zM421.38 915.48l1.08-.8-.45-.6-1.08 .8zM423.79 913.69l1.08-.8-.45-.6-1.08 .8zM426.2 911.91l1.08-.8-.45-.6-1.08 .8zM428.6 910.12l1.08-.8-.45-.6-1.08 .8zM431.01 908.33l1.08-.8-.45-.6-1.08 .8zM433.42 906.54l1.08-.8-.45-.6-1.08 .8zM435.83 904.75l1.08-.8-.45-.6-1.08 .8zM438.24 902.96l1.08-.8-.45-.6-1.08 .8zM440.65 901.18l1.08-.8-.45-.6-1.08 .8zM443.06 899.39l1.08-.8-.45-.6-1.08 .8zM445.47 897.6l1.08-.8-.45-.6-1.08 .8zM447.87 895.81l1.08-.8-.45-.6-1.08 .8zM450.28 894.02l1.08-.8-.45-.6-1.08 .8zM452.69 892.23l1.08-.8-.45-.6-1.08 .8zM455.1 890.44l1.08-.8-.45-.6-1.08 .8zM457.51 888.66l1.08-.8-.45-.6-1.08 .8zM459.92 886.87l1.08-.8-.45-.6-1.08 .8zM462.33 885.08l1.08-.8-.45-.6-1.08 .8zM464.73 883.29l1.08-.8-.45-.6-1.08 .8zM467.14 881.5l1.08-.8-.45-.6-1.08 .8zM469.55 879.71l1.08-.8-.45-.6-1.08 .8zM471.96 877.93l1.08-.8-.45-.6-1.08 .8zM474.37 876.14l1.08-.8-.45-.6-1.08 .8zM476.78 874.35l1.08-.8-.45-.6-1.08 .8zM479.19 872.56l1.08-.8-.45-.6-1.08 .8zM481.59 870.77l1.08-.8-.45-.6-1.08 .8zM484 868.98l1.08-.8-.45-.6-1.08 .8zM486.41 867.2l1.08-.8-.45-.6-1.08 .8zM488.82 865.41l1.08-.8-.45-.6-1.08 .8zM491.23 863.62l1.08-.8-.45-.6-1.08 .8zM493.64 861.83l1.08-.8-.45-.6-1.08 .8zM496.05 860.04l1.08-.8-.45-.6-1.08 .8zM498.46 858.25l1.08-.8-.45-.6-1.08 .8zM500.86 856.46l1.08-.8-.45-.6-1.08 .8zM503.27 854.68l1.08-.8-.45-.6-1.08 .8zM505.68 852.89l1.08-.8-.45-.6-1.08 .8zM508.09 851.1l1.08-.8-.45-.6-1.08 .8zM510.5 849.31l1.08-.8-.45-.6-1.08 .8zM512.91 847.52l1.08-.8-.45-.6-1.08 .8zM515.32 845.73l1.08-.8-.45-.6-1.08 .8zM517.72 843.95l1.08-.8-.45-.6-1.08 .8zM520.13 842.16l1.08-.8-.45-.6-1.08 .8zM522.54 840.37l1.08-.8-.45-.6-1.08 .8zM524.95 838.58l1.05-.78-.45-.6-1.05 .78zM526.04 837.77l.02-.02-.52-.54-.02 .02zM527.25 836.59l.96-.93-.52-.54-.96 .93zM529.4 834.5l.96-.93-.52-.54-.96 .93zM531.55 832.4l.96-.93-.52-.54-.96 .93zM533.7 830.31l.96-.93-.52-.54-.96 .93zM535.85 828.22l.96-.93-.52-.54-.96 .93zM538 826.12l.96-.93-.52-.54-.96 .93zM540.15 824.03l.96-.93-.52-.54-.96 .93zM542.3 821.94l.96-.93-.52-.54-.96 .93zM544.45 819.85l.96-.93-.52-.54-.96 .93zM546.6 817.75l.96-.93-.52-.54-.96 .93zM548.75 815.66l.96-.93-.52-.54-.96 .93zM550.89 813.57l.96-.93-.52-.54-.96 .93zM553.04 811.47l.96-.93-.52-.54-.96 .93zM555.19 809.38l.96-.93-.52-.54-.96 .93zM557.34 807.29l.96-.93-.52-.54-.96 .93zM559.49 805.2l.96-.93-.52-.54-.96 .93zM561.64 803.1l.96-.93-.52-.54-.96 .93zM563.79 801.01l.96-.93-.52-.54-.96 .93zM565.94 798.92l.96-.93-.52-.54-.96 .93zM568.09 796.82l.96-.93-.52-.54-.96 .93zM570.24 794.73l.96-.93-.52-.54-.96 .93zM572.39 792.64l.96-.93-.52-.54-.96 .93zM574.54 790.55l.96-.93-.52-.54-.96 .93zM576.69 788.45l.96-.93-.52-.54-.96 .93zM578.84 786.36l.96-.93-.52-.54-.96 .93zM580.99 784.27l.96-.93-.52-.54-.96 .93zM583.14 782.18l.96-.93-.52-.54-.96 .93zM585.29 780.08l.96-.93-.52-.54-.96 .93zM587.44 777.99l.96-.93-.52-.54-.96 .93zM589.59 775.9l.96-.93-.52-.54-.96 .93zM591.73 773.8l.96-.93-.52-.54-.96 .93zM593.88 771.71l.96-.93-.52-.54-.96 .93zM596.03 769.62l.96-.93-.52-.54-.96 .93zM598.18 767.53l.96-.93-.52-.54-.96 .93zM600.33 765.43l.96-.93-.52-.54-.96 .93zM602.48 763.34l.96-.93-.52-.54-.96 .93zM604.63 761.25l.96-.93-.52-.54-.96 .93zM606.78 759.15l.96-.93-.52-.54-.96 .93zM608.93 757.06l.96-.93-.52-.54-.96 .93zM611.08 754.97l.96-.93-.52-.54-.96 .93zM613.23 752.88l.96-.93-.52-.54-.96 .93zM615.38 750.78l.96-.93-.52-.54-.96 .93zM617.53 748.69l.96-.93-.52-.54-.96 .93zM619.68 746.6l.96-.93-.52-.54-.96 .93zM621.83 744.5l.96-.93-.52-.54-.96 .93zM623.98 742.41l.96-.93-.52-.54-.96 .93zM626.13 740.32l.96-.93-.52-.54-.96 .93zM628.28 738.23l.96-.93-.52-.54-.96 .93zM630.43 736.13l.96-.93-.52-.54-.96 .93zM632.57 734.04l.96-.93-.52-.54-.96 .93zM634.72 731.95l.96-.93-.52-.54-.96 .93zM636.87 729.86l.96-.93-.52-.54-.96 .93zM639.02 727.76l.96-.93-.52-.54-.96 .93zM641.17 725.67l.96-.93-.52-.54-.96 .93zM643.32 723.58l.96-.93-.52-.54-.96 .93zM645.47 721.48l.96-.93-.52-.54-.96 .93zM647.62 719.39l.64-.62-.52-.54-.64 .62zM648.2 718.81l.38-.24-.41-.63-.38 .24zM649.97 717.67l1.13-.73-.41-.63-1.13 .73zM652.49 716.04l1.13-.73-.41-.63-1.13 .73zM655.01 714.41l1.13-.73-.41-.63-1.13 .73zM657.53 712.79l1.13-.73-.41-.63-1.13 .73zM660.05 711.16l1.13-.73-.41-.63-1.13 .73zM662.57 709.53l1.13-.73-.41-.63-1.13 .73zM665.09 707.9l1.13-.73-.41-.63-1.13 .73zM667.61 706.27l1.13-.73-.41-.63-1.13 .73zM670.13 704.64l1.13-.73-.41-.63-1.13 .73zM672.65 703.01l1.13-.73-.41-.63-1.13 .73zM675.17 701.39l1.13-.73-.41-.63-1.13 .73zM677.69 699.76l1.13-.73-.41-.63-1.13 .73zM680.21 698.13l1.13-.73-.41-.63-1.13 .73zM682.73 696.5l1.13-.73-.41-.63-1.13 .73zM685.25 694.87l1.13-.73-.41-.63-1.13 .73zM687.76 693.24l1.13-.73-.41-.63-1.13 .73zM690.28 691.61l1.13-.73-.41-.63-1.13 .73zM692.8 689.99l1.13-.73-.41-.63-1.13 .73zM695.32 688.36l1.13-.73-.41-.63-1.13 .73zM697.84 686.73l1.13-.73-.41-.63-1.13 .73zM700.36 685.1l1.13-.73-.41-.63-1.13 .73zM702.88 683.47l1.13-.73-.41-.63-1.13 .73zM705.4 681.84l1.13-.73-.41-.63-1.13 .73zM707.92 680.22l1.13-.73-.41-.63-1.13 .73zM710.44 678.59l1.13-.73-.41-.63-1.13 .73zM712.96 676.96l1.13-.73-.41-.63-1.13 .73zM715.48 675.33l1.13-.73-.41-.63-1.13 .73zM718 673.7l1.13-.73-.41-.63-1.13 .73zM720.52 672.07l1.13-.73-.41-.63-1.13 .73zM723.04 670.44l1.13-.73-.41-.63-1.13 .73zM725.56 668.82l1.13-.73-.41-.63-1.13 .73zM728.08 667.19l1.13-.73-.41-.63-1.13 .73zM730.6 665.56l1.13-.73-.41-.63-1.13 .73zM733.12 663.93l1.13-.73-.41-.63-1.13 .73zM735.64 662.3l1.13-.73-.41-.63-1.13 .73zM738.16 660.67l1.13-.73-.41-.63-1.13 .73zM740.67 659.04l1.13-.73-.41-.63-1.13 .73zM743.19 657.42l1.13-.73-.41-.63-1.13 .73zM745.71 655.79l1.13-.73-.41-.63-1.13 .73zM748.23 654.16l1.13-.73-.41-.63-1.13 .73zM750.75 652.53l1.13-.73-.41-.63-1.13 .73zM753.27 650.9l1.13-.73-.41-.63-1.13 .73zM755.79 649.27l1.13-.73-.41-.63-1.13 .73zM758.31 647.64l1.13-.73-.41-.63-1.13 .73zM760.83 646.02l1.13-.73-.41-.63-1.13 .73zM763.35 644.39l1.13-.73-.41-.63-1.13 .73zM765.87 642.76l1.13-.73-.41-.63-1.13 .73zM768.39 641.13l1.13-.73-.41-.63-1.13 .73zM770.91 639.47l1.09-.78-.43-.61-1.09 .78zM773.35 637.73l1.09-.78-.43-.61-1.09 .78zM775.8 635.99l1.09-.78-.43-.61-1.09 .78zM778.24 634.25l1.09-.78-.43-.61-1.09 .78zM780.68 632.51l1.09-.78-.43-.61-1.09 .78zM783.13 630.77l1.09-.78-.43-.61-1.09 .78zM785.57 629.03l1.09-.78-.43-.61-1.09 .78zM788.02 627.29l1.09-.78-.43-.61-1.09 .78zM790.46 625.55l1.09-.78-.43-.61-1.09 .78zM792.9 623.81l1.09-.78-.43-.61-1.09 .78zM795.35 622.07l1.09-.78-.43-.61-1.09 .78zM797.79 620.33l1.09-.78-.43-.61-1.09 .78zM800.24 618.59l1.09-.78-.43-.61-1.09 .78zM802.68 616.85l1.09-.78-.43-.61-1.09 .78zM805.12 615.12l1.09-.78-.43-.61-1.09 .78zM807.57 613.38l1.09-.78-.43-.61-1.09 .78zM810.01 611.64l1.09-.78-.43-.61-1.09 .78zM812.46 609.9l1.09-.78-.43-.61-1.09 .78zM814.9 608.16l1.09-.78-.43-.61-1.09 .78zM817.34 606.42l1.09-.78-.43-.61-1.09 .78zM819.79 604.68l1.09-.78-.43-.61-1.09 .78zM822.23 602.94l1.09-.78-.43-.61-1.09 .78zM824.68 601.2l1.09-.78-.43-.61-1.09 .78zM827.12 599.46l1.09-.78-.43-.61-1.09 .78zM829.57 597.72l1.09-.78-.43-.61-1.09 .78zM832.01 595.98l1.09-.78-.43-.61-1.09 .78zM834.45 594.24l1.09-.78-.43-.61-1.09 .78zM836.9 592.5l1.09-.78-.43-.61-1.09 .78zM839.34 590.76l1.09-.78-.43-.61-1.09 .78zM841.79 589.02l1.09-.78-.43-.61-1.09 .78zM844.23 587.28l1.09-.78-.43-.61-1.09 .78zM846.67 585.54l1.09-.78-.43-.61-1.09 .78zM849.12 583.8l1.09-.78-.43-.61-1.09 .78zM851.56 582.06l1.09-.78-.43-.61-1.09 .78zM854.01 580.32l1.09-.78-.43-.61-1.09 .78zM856.45 578.58l1.09-.78-.43-.61-1.09 .78zM858.89 576.84l1.09-.78-.43-.61-1.09 .78zM861.34 575.1l1.09-.78-.43-.61-1.09 .78zM863.78 573.36l1.09-.78-.43-.61-1.09 .78zM866.23 571.62l1.09-.78-.43-.61-1.09 .78zM868.67 569.88l1.09-.78-.43-.61-1.09 .78zM871.11 568.14l1.09-.78-.43-.61-1.09 .78zM873.56 566.4l1.09-.78-.43-.61-1.09 .78zM876 564.66l1.09-.78-.43-.61-1.09 .78zM878.45 562.92l1.09-.78-.43-.61-1.09 .78zM880.89 561.18l1.09-.78-.43-.61-1.09 .78zM883.33 559.44l1.09-.78-.43-.61-1.09 .78zM885.78 557.7l1.09-.78-.43-.61-1.09 .78zM888.22 555.96l1.09-.78-.43-.61-1.09 .78zM890.67 554.23l1.09-.78-.43-.61-1.09 .78zM893.11 552.56l1.17-.65-.37-.65-1.17 .65zM895.73 551.1l1.17-.65-.37-.65-1.17 .65zM898.35 549.63l1.17-.65-.37-.65-1.17 .65zM900.97 548.17l1.17-.65-.37-.65-1.17 .65zM903.59 546.71l1.17-.65-.37-.65-1.17 .65zM906.2 545.25l1.17-.65-.37-.65-1.17 .65zM908.82 543.78l1.17-.65-.37-.65-1.17 .65zM911.44 542.32l1.17-.65-.37-.65-1.17 .65zM914.06 540.86l1.17-.65-.37-.65-1.17 .65zM916.68 539.39l1.17-.65-.37-.65-1.17 .65zM919.3 537.93l1.17-.65-.37-.65-1.17 .65zM921.92 536.47l1.17-.65-.37-.65-1.17 .65zM924.54 535.01l1.17-.65-.37-.65-1.17 .65zM927.16 533.54l1.17-.65-.37-.65-1.17 .65zM929.78 532.08l1.17-.65-.37-.65-1.17 .65zM932.4 530.62l1.17-.65-.37-.65-1.17 .65zM935.02 529.16l1.17-.65-.37-.65-1.17 .65zM937.64 527.69l1.17-.65-.37-.65-1.17 .65zM940.26 526.23l1.17-.65-.37-.65-1.17 .65zM942.87 524.77l1.17-.65-.37-.65-1.17 .65zM945.49 523.31l1.17-.65-.37-.65-1.17 .65zM948.11 521.84l1.17-.65-.37-.65-1.17 .65zM950.73 520.38l1.17-.65-.37-.65-1.17 .65zM953.35 518.92l1.17-.65-.37-.65-1.17 .65zM955.97 517.45l1.17-.65-.37-.65-1.17 .65zM958.59 515.99l1.17-.65-.37-.65-1.17 .65zM961.21 514.53l1.17-.65-.37-.65-1.17 .65zM963.83 513.07l1.17-.65-.37-.65-1.17 .65zM966.45 511.6l1.17-.65-.37-.65-1.17 .65zM969.07 510.14l1.17-.65-.37-.65-1.17 .65zM971.69 508.68l1.17-.65-.37-.65-1.17 .65zM974.31 507.22l1.17-.65-.37-.65-1.17 .65zM976.93 505.75l1.17-.65-.37-.65-1.17 .65zM979.54 504.29l1.17-.65-.37-.65-1.17 .65zM982.16 502.83l1.17-.65-.37-.65-1.17 .65zM984.78 501.37l1.17-.65-.37-.65-1.17 .65zM987.4 499.9l1.17-.65-.37-.65-1.17 .65zM990.02 498.44l1.17-.65-.37-.65-1.17 .65zM992.64 496.98l1.17-.65-.37-.65-1.17 .65zM995.26 495.52l1.17-.65-.37-.65-1.17 .65zM997.88 494.05l1.17-.65-.37-.65-1.17 .65zM1000.5 492.59l1.17-.65-.37-.65-1.17 .65zM1003.12 491.13l1.17-.65-.37-.65-1.17 .65zM1005.74 489.66l1.17-.65-.37-.65-1.17 .65zM1008.36 488.2l1.17-.65-.37-.65-1.17 .65zM1010.98 486.74l1.17-.65-.37-.65-1.17 .65zM1013.6 485.28l1.17-.65-.37-.65-1.17 .65zM1016.23 484.62l1.34 0 0-.75-1.34 0zM1019.23 484.62l1.34 0 0-.75-1.34 0zM1022.23 484.62l1.34 0 0-.75-1.34 0zM1025.23 484.62l1.34 0 0-.75-1.34 0zM1028.23 484.62l1.34 0 0-.75-1.34 0zM1031.23 484.62l1.34 0 0-.75-1.34 0zM1034.23 484.62l1.34 0 0-.75-1.34 0zM1037.23 484.62l1.34 0 0-.75-1.34 0zM1040.23 484.62l1.34 0 0-.75-1.34 0zM1043.23 484.62l1.34 0 0-.75-1.34 0zM1046.23 484.62l1.34 0 0-.75-1.34 0zM1049.23 484.62l1.34 0 0-.75-1.34 0zM1052.23 484.62l1.34 0 0-.75-1.34 0zM1055.23 484.62l1.34 0 0-.75-1.34 0zM1058.23 484.62l1.34 0 0-.75-1.34 0zM1061.23 484.62l1.34 0 0-.75-1.34 0zM1064.23 484.62l1.34 0 0-.75-1.34 0zM1067.23 484.62l1.34 0 0-.75-1.34 0zM1070.23 484.62l1.34 0 0-.75-1.34 0zM1073.23 484.62l1.34 0 0-.75-1.34 0zM1076.23 484.62l1.34 0 0-.75-1.34 0zM1079.23 484.62l1.34 0 0-.75-1.34 0zM1082.23 484.62l1.34 0 0-.75-1.34 0zM1085.23 484.62l1.34 0 0-.75-1.34 0zM1088.23 484.62l1.34 0 0-.75-1.34 0zM1091.23 484.62l1.34 0 0-.75-1.34 0zM1094.23 484.62l1.34 0 0-.75-1.34 0zM1097.23 484.62l1.34 0 0-.75-1.34 0zM1100.23 484.62l1.34 0 0-.75-1.34 0zM1103.23 484.62l1.34 0 0-.75-1.34 0zM1106.23 484.62l1.34 0 0-.75-1.34 0zM1109.23 484.62l1.34 0 0-.75-1.34 0zM1112.23 484.62l1.34 0 0-.75-1.34 0zM1115.23 484.62l1.34 0 0-.75-1.34 0zM1118.23 484.62l1.34 0 0-.75-1.34 0zM1121.23 484.62l1.34 0 0-.75-1.34 0zM1124.23 484.62l1.34 0 0-.75-1.34 0zM1127.23 484.62l1.34 0 0-.75-1.34 0zM1130.23 484.62l1.34 0 0-.75-1.34 0zM1133.23 484.62l1.34 0 0-.75-1.34 0zM1136.89 484.62l.3 0 0-.75-.3 0zM1136.23 484.62l.66 0 0-.75-.66 0z"/>
<path fill="#FF00FF" d="M159.01 1040.23l.27-.13-.32-.68-.27 .13zM159.27 1040.11l.94-.45-.32-.68-.94 .45zM161.71 1038.94l3.24-1.54-.32-.68-3.24 1.54zM166.45 1036.68l1.21-.58-.32-.68-1.21 .58zM169.16 1035.39l3.24-1.54-.32-.68-3.24 1.54zM173.9 1033.13l1.21-.58-.32-.68-1.21 .58zM176.61 1031.84l3.24-1.54-.32-.68-3.24 1.54zM181.35 1029.58l1.21-.58-.32-.68-1.21 .58zM184.05 1028.29l3.24-1.54-.32-.68-3.24 1.54zM188.79 1026.03l1.21-.58-.32-.68-1.21 .58zM191.5 1024.74l3.24-1.54-.32-.68-3.24 1.54zM196.24 1022.48l1.21-.58-.32-.68-1.21 .58zM198.95 1021.19l3.24-1.54-.32-.68-3.24 1.54zM203.69 1018.93l1.21-.58-.32-.68-1.21 .58zM206.4 1017.64l3.24-1.54-.32-.68-3.24 1.54zM211.13 1015.38l1.21-.58-.32-.68-1.21 .58zM213.84 1014.09l3.24-1.54-.32-.68-3.24 1.54zM218.58 1011.83l1.21-.58-.32-.68-1.21 .58zM221.29 1010.54l3.24-1.54-.32-.68-3.24 1.54zM226.03 1008.28l1.21-.58-.32-.68-1.21 .58zM228.74 1006.99l3.24-1.54-.32-.68-3.24 1.54zM233.47 1004.73l1.21-.58-.32-.68-1.21 .58zM236.18 1003.44l3.24-1.54-.32-.68-3.24 1.54zM240.92 1001.18l1.21-.58-.32-.68-1.21 .58zM243.63 999.89l3.24-1.54-.32-.68-3.24 1.54zM248.37 997.63l1.21-.58-.32-.68-1.21 .58zM251.08 996.34l3.24-1.54-.32-.68-3.24 1.54zM255.82 994.08l1.21-.58-.32-.68-1.21 .58zM258.52 992.79l3.24-1.54-.32-.68-3.24 1.54zM263.26 990.53l1.21-.58-.32-.68-1.21 .58zM265.97 989.24l3.24-1.54-.32-.68-3.24 1.54zM270.71 986.98l1.21-.58-.32-.68-1.21 .58zM273.42 985.69l3.24-1.54-.32-.68-3.24 1.54zM278.16 983.43l1.21-.58-.32-.68-1.21 .58zM280.86 982.14l.63-.3-.32-.68-.63 .3zM281.46 981.85l2.71-1.01-.26-.7-2.71 1.01zM285.73 980.26l1.26-.47-.26-.7-1.26 .47zM288.54 979.22l3.36-1.25-.26-.7-3.36 1.25zM293.46 977.38l1.26-.47-.26-.7-1.26 .47zM296.27 976.34l3.36-1.25-.26-.7-3.36 1.25zM301.19 974.51l1.26-.47-.26-.7-1.26 .47zM304.01 973.46l3.36-1.25-.26-.7-3.36 1.25zM308.93 971.63l1.26-.47-.26-.7-1.26 .47zM311.74 970.58l3.36-1.25-.26-.7-3.36 1.25zM316.66 968.75l1.26-.47-.26-.7-1.26 .47zM319.47 967.7l3.36-1.25-.26-.7-3.36 1.25zM324.39 965.87l1.26-.47-.26-.7-1.26 .47zM327.2 964.82l3.36-1.25-.26-.7-3.36 1.25zM332.12 962.99l1.26-.47-.26-.7-1.26 .47zM334.93 961.95l3.36-1.25-.26-.7-3.36 1.25zM339.85 960.11l1.26-.47-.26-.7-1.26 .47zM342.66 959.07l3.36-1.25-.26-.7-3.36 1.25zM347.58 957.24l1.26-.47-.26-.7-1.26 .47zM350.39 956.19l3.36-1.25-.26-.7-3.36 1.25zM355.32 954.36l1.26-.47-.26-.7-1.26 .47zM358.13 953.31l3.36-1.25-.26-.7-3.36 1.25zM363.05 951.48l1.26-.47-.26-.7-1.26 .47zM365.86 950.43l3.36-1.25-.26-.7-3.36 1.25zM370.78 948.6l1.26-.47-.26-.7-1.26 .47zM373.59 947.56l3.36-1.25-.26-.7-3.36 1.25zM378.51 945.72l1.26-.47-.26-.7-1.26 .47zM381.32 944.68l3.36-1.25-.26-.7-3.36 1.25zM386.24 942.85l1.26-.47-.26-.7-1.26 .47zM389.05 941.8l3.36-1.25-.26-.7-3.36 1.25zM393.97 939.97l1.26-.47-.26-.7-1.26 .47zM396.78 938.92l3.36-1.25-.26-.7-3.36 1.25zM401.7 937.09l1.26-.47-.26-.7-1.26 .47zM404.5 935.8l2.94-2.07-.43-.61-2.94 2.07zM408.79 932.78l1.1-.77-.43-.61-1.1 .77zM411.24 931.05l2.94-2.07-.43-.61-2.94 2.07zM415.54 928.03l1.1-.77-.43-.61-1.1 .77zM417.99 926.3l2.94-2.07-.43-.61-2.94 2.07zM422.28 923.28l1.1-.77-.43-.61-1.1 .77zM424.74 921.55l2.94-2.07-.43-.61-2.94 2.07zM429.03 918.53l1.1-.77-.43-.61-1.1 .77zM431.48 916.81l2.94-2.07-.43-.61-2.94 2.07zM435.78 913.79l1.1-.77-.43-.61-1.1 .77zM438.23 912.06l2.94-2.07-.43-.61-2.94 2.07zM442.52 909.04l1.1-.77-.43-.61-1.1 .77zM444.98 907.31l2.94-2.07-.43-.61-2.94 2.07zM449.27 904.29l1.1-.77-.43-.61-1.1 .77zM451.73 902.56l2.94-2.07-.43-.61-2.94 2.07zM456.02 899.54l1.1-.77-.43-.61-1.1 .77zM458.47 897.82l2.94-2.07-.43-.61-2.94 2.07zM462.77 894.8l1.1-.77-.43-.61-1.1 .77zM465.22 893.07l2.94-2.07-.43-.61-2.94 2.07zM469.51 890.05l1.1-.77-.43-.61-1.1 .77zM471.97 888.32l2.94-2.07-.43-.61-2.94 2.07zM476.26 885.3l1.1-.77-.43-.61-1.1 .77zM478.71 883.57l2.94-2.07-.43-.61-2.94 2.07zM483.01 880.55l1.1-.77-.43-.61-1.1 .77zM485.46 878.83l2.94-2.07-.43-.61-2.94 2.07zM489.75 875.81l1.1-.77-.43-.61-1.1 .77zM492.21 874.08l2.94-2.07-.43-.61-2.94 2.07zM496.5 871.06l1.1-.77-.43-.61-1.1 .77zM498.96 869.33l2.94-2.07-.43-.61-2.94 2.07zM503.25 866.31l1.1-.77-.43-.61-1.1 .77zM505.7 864.58l2.94-2.07-.43-.61-2.94 2.07zM510 861.56l1.1-.77-.43-.61-1.1 .77zM512.45 859.84l2.94-2.07-.43-.61-2.94 2.07zM516.74 856.81l1.1-.77-.43-.61-1.1 .77zM519.2 855.09l2.94-2.07-.43-.61-2.94 2.07zM523.49 852.07l1.1-.77-.43-.61-1.1 .77zM525.94 850.34l.05-.03-.43-.61-.05 .03zM526.03 850.28l2.63-2.36-.5-.56-2.63 2.36zM529.89 846.82l1-.89-.5-.56-1 .89zM532.13 844.81l2.67-2.4-.5-.56-2.67 2.4zM536.04 841.31l1-.89-.5-.56-1 .89zM538.27 839.31l2.67-2.4-.5-.56-2.67 2.4zM542.18 835.81l1-.89-.5-.56-1 .89zM544.42 833.8l2.67-2.4-.5-.56-2.67 2.4zM548.33 830.3l1-.89-.5-.56-1 .89zM550.56 828.3l2.67-2.4-.5-.56-2.67 2.4zM554.47 824.8l1-.89-.5-.56-1 .89zM556.71 822.79l2.67-2.4-.5-.56-2.67 2.4zM560.62 819.29l1-.89-.5-.56-1 .89zM562.85 817.29l2.67-2.4-.5-.56-2.67 2.4zM566.76 813.79l1-.89-.5-.56-1 .89zM568.99 811.78l2.67-2.4-.5-.56-2.67 2.4zM572.91 808.28l1-.89-.5-.56-1 .89zM575.14 806.28l2.67-2.4-.5-.56-2.67 2.4zM579.05 802.78l1-.89-.5-.56-1 .89zM581.28 800.77l2.67-2.4-.5-.56-2.67 2.4zM585.19 797.27l1-.89-.5-.56-1 .89zM587.43 795.27l2.67-2.4-.5-.56-2.67 2.4zM591.34 791.77l1-.89-.5-.56-1 .89zM593.57 789.76l2.67-2.4-.5-.56-2.67 2.4zM597.48 786.26l1-.89-.5-.56-1 .89zM599.72 784.26l2.67-2.4-.5-.56-2.67 2.4zM603.63 780.76l1-.89-.5-.56-1 .89zM605.86 778.75l2.67-2.4-.5-.56-2.67 2.4zM609.77 775.25l1-.89-.5-.56-1 .89zM612.01 773.25l2.67-2.4-.5-.56-2.67 2.4zM615.92 769.75l1-.89-.5-.56-1 .89zM618.15 767.74l2.67-2.4-.5-.56-2.67 2.4zM622.06 764.24l1-.89-.5-.56-1 .89zM624.3 762.24l2.67-2.4-.5-.56-2.67 2.4zM628.21 758.74l1-.89-.5-.56-1 .89zM630.44 756.73l2.67-2.4-.5-.56-2.67 2.4zM634.35 753.23l1-.89-.5-.56-1 .89zM636.59 751.23l2.67-2.4-.5-.56-2.67 2.4zM640.5 747.72l1-.89-.5-.56-1 .89zM642.73 745.72l2.67-2.4-.5-.56-2.67 2.4zM646.64 742.22l1-.89-.5-.56-1 .89zM648.91 740.38l3.05-1.89-.4-.64-3.05 1.89zM653.37 737.61l1.14-.71-.4-.64-1.14 .71zM655.92 736.03l3.05-1.89-.4-.64-3.05 1.89zM660.38 733.26l1.14-.71-.4-.64-1.14 .71zM662.93 731.68l3.05-1.89-.4-.64-3.05 1.89zM667.4 728.91l1.14-.71-.4-.64-1.14 .71zM669.94 727.33l3.05-1.89-.4-.64-3.05 1.89zM674.41 724.56l1.14-.71-.4-.64-1.14 .71zM676.96 722.98l3.05-1.89-.4-.64-3.05 1.89zM681.42 720.22l1.14-.71-.4-.64-1.14 .71zM683.97 718.63l3.05-1.89-.4-.64-3.05 1.89zM688.43 715.87l1.14-.71-.4-.64-1.14 .71zM690.98 714.29l3.05-1.89-.4-.64-3.05 1.89zM695.44 711.52l1.14-.71-.4-.64-1.14 .71zM697.99 709.94l3.05-1.89-.4-.64-3.05 1.89zM702.45 707.17l1.14-.71-.4-.64-1.14 .71zM705 705.59l3.05-1.89-.4-.64-3.05 1.89zM709.46 702.82l1.14-.71-.4-.64-1.14 .71zM712.01 701.24l3.05-1.89-.4-.64-3.05 1.89zM716.47 698.47l1.14-.71-.4-.64-1.14 .71zM719.02 696.89l3.05-1.89-.4-.64-3.05 1.89zM723.48 694.13l1.14-.71-.4-.64-1.14 .71zM726.03 692.55l3.05-1.89-.4-.64-3.05 1.89zM730.5 689.78l1.14-.71-.4-.64-1.14 .71zM733.04 688.2l3.05-1.89-.4-.64-3.05 1.89zM737.51 685.43l1.14-.71-.4-.64-1.14 .71zM740.06 683.85l3.05-1.89-.4-.64-3.05 1.89zM744.52 681.08l1.14-.71-.4-.64-1.14 .71zM747.07 679.5l3.05-1.89-.4-.64-3.05 1.89zM751.53 676.73l1.14-.71-.4-.64-1.14 .71zM754.08 675.15l3.05-1.89-.4-.64-3.05 1.89zM758.54 672.39l1.14-.71-.4-.64-1.14 .71zM761.09 670.8l3.05-1.89-.4-.64-3.05 1.89zM765.55 668.04l1.14-.71-.4-.64-1.14 .71zM768.1 666.46l2.32-1.44-.4-.64-2.32 1.44zM770.43 665.01l.72-.47-.41-.63-.72 .47zM772.54 663.63l1.12-.74-.41-.63-1.12 .74zM775.04 661.98l3-1.97-.41-.63-3 1.97zM779.43 659.1l1.12-.74-.41-.63-1.12 .74zM781.94 657.46l3-1.97-.41-.63-3 1.97zM786.33 654.58l1.12-.74-.41-.63-1.12 .74zM788.84 652.93l3-1.97-.41-.63-3 1.97zM793.23 650.05l1.12-.74-.41-.63-1.12 .74zM795.74 648.41l3-1.97-.41-.63-3 1.97zM800.13 645.53l1.12-.74-.41-.63-1.12 .74zM802.63 643.88l3-1.97-.41-.63-3 1.97zM807.02 641l1.12-.74-.41-.63-1.12 .74zM809.53 639.35l3-1.97-.41-.63-3 1.97zM813.92 636.47l1.12-.74-.41-.63-1.12 .74zM816.43 634.83l3-1.97-.41-.63-3 1.97zM820.82 631.95l1.12-.74-.41-.63-1.12 .74zM823.33 630.3l3-1.97-.41-.63-3 1.97zM827.72 627.42l1.12-.74-.41-.63-1.12 .74zM830.22 625.78l3-1.97-.41-.63-3 1.97zM834.61 622.9l1.12-.74-.41-.63-1.12 .74zM837.12 621.25l3-1.97-.41-.63-3 1.97zM841.51 618.37l1.12-.74-.41-.63-1.12 .74zM844.02 616.72l3-1.97-.41-.63-3 1.97zM848.41 613.84l1.12-.74-.41-.63-1.12 .74zM850.92 612.2l3-1.97-.41-.63-3 1.97zM855.31 609.32l1.12-.74-.41-.63-1.12 .74zM857.81 607.67l3-1.97-.41-.63-3 1.97zM862.2 604.79l1.12-.74-.41-.63-1.12 .74zM864.71 603.14l3-1.97-.41-.63-3 1.97zM869.1 600.26l1.12-.74-.41-.63-1.12 .74zM871.61 598.62l3-1.97-.41-.63-3 1.97zM876 595.74l1.12-.74-.41-.63-1.12 .74zM878.51 594.09l3-1.97-.41-.63-3 1.97zM882.9 591.21l1.12-.74-.41-.63-1.12 .74zM885.41 589.57l3-1.97-.41-.63-3 1.97zM889.79 586.69l1.12-.74-.41-.63-1.12 .74zM892.3 585.04l.35-.23-.41-.63-.35 .23zM892.61 584.84l2.85-1.4-.33-.67-2.85 1.4zM896.95 582.7l1.2-.59-.33-.67-1.2 .59zM899.64 581.38l3.22-1.58-.33-.67-3.22 1.58zM904.35 579.06l1.2-.59-.33-.67-1.2 .59zM907.04 577.74l3.22-1.58-.33-.67-3.22 1.58zM911.76 575.42l1.2-.59-.33-.67-1.2 .59zM914.45 574.1l3.22-1.58-.33-.67-3.22 1.58zM919.16 571.78l1.2-.59-.33-.67-1.2 .59zM921.85 570.46l3.22-1.58-.33-.67-3.22 1.58zM926.56 568.14l1.2-.59-.33-.67-1.2 .59zM929.25 566.82l3.22-1.58-.33-.67-3.22 1.58zM933.97 564.5l1.2-.59-.33-.67-1.2 .59zM936.66 563.18l3.22-1.58-.33-.67-3.22 1.58zM941.37 560.86l1.2-.59-.33-.67-1.2 .59zM944.06 559.54l3.22-1.58-.33-.67-3.22 1.58zM948.77 557.22l1.2-.59-.33-.67-1.2 .59zM951.46 555.9l3.22-1.58-.33-.67-3.22 1.58zM956.18 553.58l1.2-.59-.33-.67-1.2 .59zM958.87 552.26l3.22-1.58-.33-.67-3.22 1.58zM963.58 549.94l1.2-.59-.33-.67-1.2 .59zM966.27 548.61l3.22-1.58-.33-.67-3.22 1.58zM970.98 546.3l1.2-.59-.33-.67-1.2 .59zM973.67 544.97l3.22-1.58-.33-.67-3.22 1.58zM978.39 542.66l1.2-.59-.33-.67-1.2 .59zM981.08 541.33l3.22-1.58-.33-.67-3.22 1.58zM985.79 539.02l1.2-.59-.33-.67-1.2 .59zM988.48 537.69l3.22-1.58-.33-.67-3.22 1.58zM993.19 535.38l1.2-.59-.33-.67-1.2 .59zM995.88 534.05l3.22-1.58-.33-.67-3.22 1.58zM1000.6 531.74l1.2-.59-.33-.67-1.2 .59zM1003.29 530.41l3.22-1.58-.33-.67-3.22 1.58zM1008 528.1l1.2-.59-.33-.67-1.2 .59zM1010.69 526.77l3.22-1.58-.33-.67-3.22 1.58zM1015.3 524.77l1.34 0 0-.75-1.34 0zM1018.3 524.77l3.59 0 0-.75-3.59 0zM1023.55 524.77l1.34 0 0-.75-1.34 0zM1026.55 524.77l3.59 0 0-.75-3.59 0zM1031.8 524.77l1.34 0 0-.75-1.34 0zM1034.8 524.77l3.59 0 0-.75-3.59 0zM1040.05 524.77l1.34 0 0-.75-1.34 0zM1043.05 524.77l3.59 0 0-.75-3.59 0zM1048.3 524.77l1.34 0 0-.75-1.34 0zM1051.3 524.77l3.59 0 0-.75-3.59 0zM1056.55 524.77l1.34 0 0-.75-1.34 0zM1059.55 524.77l3.59 0 0-.75-3.59 0zM1064.8 524.77l1.34 0 0-.75-1.34 0zM1067.8 524.77l3.59 0 0-.75-3.59 0zM1073.05 524.77l1.34 0 0-.75-1.34 0zM1076.05 524.77l3.59 0 0-.75-3.59 0zM1081.3 524.77l1.34 0 0-.75-1.34 0zM1084.3 524.77l3.59 0 0-.75-3.59 0zM1089.55 524.77l1.34 0 0-.75-1.34 0zM1092.55 524.77l3.59 0 0-.75-3.59 0zM1097.8 524.77l1.34 0 0-.75-1.34 0zM1100.8 524.77l3.59 0 0-.75-3.59 0zM1106.05 524.77l1.34 0 0-.75-1.34 0zM1109.05 524.77l3.59 0 0-.75-3.59 0zM1114.3 524.77l1.34 0 0-.75-1.34 0zM1117.3 524.77l3.59 0 0-.75-3.59 0zM1122.55 524.77l1.34 0 0-.75-1.34 0zM1125.55 524.77l3.59 0 0-.75-3.59 0zM1130.8 524.77l1.34 0 0-.75-1.34 0zM1136.89 524.77l.3 0 0-.75-.3 0zM1133.8 524.77l3.09 0 0-.75-3.09 0z"/>
<path fill="#000000" d="M159.01 1040.23l.27-.13-.32-.68-.27 .13zM159.27 1040.11l5.01-2.39-.32-.68-5.01 2.39zM165.78 1037.01l5.27-2.51-.32-.68-5.27 2.51zM172.55 1033.78l5.27-2.51-.32-.68-5.27 2.51zM179.32 1030.55l5.27-2.51-.32-.68-5.27 2.51zM186.09 1027.32l5.27-2.51-.32-.68-5.27 2.51zM192.86 1024.1l5.27-2.51-.32-.68-5.27 2.51zM199.63 1020.87l5.27-2.51-.32-.68-5.27 2.51zM206.4 1017.64l5.27-2.51-.32-.68-5.27 2.51zM213.16 1014.41l5.27-2.51-.32-.68-5.27 2.51zM219.93 1011.19l5.27-2.51-.32-.68-5.27 2.51zM226.7 1007.96l5.27-2.51-.32-.68-5.27 2.51zM233.47 1004.73l5.27-2.51-.32-.68-5.27 2.51zM240.24 1001.5l5.27-2.51-.32-.68-5.27 2.51zM247.01 998.28l5.27-2.51-.32-.68-5.27 2.51zM253.78 995.05l5.27-2.51-.32-.68-5.27 2.51zM260.55 991.82l5.27-2.51-.32-.68-5.27 2.51zM267.32 988.59l5.27-2.51-.32-.68-5.27 2.51zM274.09 985.37l5.27-2.51-.32-.68-5.27 2.51zM280.86 982.14l.63-.3-.32-.68-.63 .3zM281.47 981.85l4.8-1.85-.27-.7-4.8 1.85zM287.82 979.41l5.45-2.1-.27-.7-5.45 2.1zM294.82 976.72l5.45-2.1-.27-.7-5.45 2.1zM301.82 974.02l5.45-2.1-.27-.7-5.45 2.1zM308.82 971.33l5.45-2.1-.27-.7-5.45 2.1zM315.82 968.64l5.45-2.1-.27-.7-5.45 2.1zM322.82 965.95l5.45-2.1-.27-.7-5.45 2.1zM329.82 963.26l5.45-2.1-.27-.7-5.45 2.1zM336.82 960.56l5.45-2.1-.27-.7-5.45 2.1zM343.82 957.87l5.45-2.1-.27-.7-5.45 2.1zM350.82 955.18l5.45-2.1-.27-.7-5.45 2.1zM357.82 952.49l5.45-2.1-.27-.7-5.45 2.1zM364.82 949.8l5.45-2.1-.27-.7-5.45 2.1zM371.82 947.11l5.45-2.1-.27-.7-5.45 2.1zM378.82 944.41l5.45-2.1-.27-.7-5.45 2.1zM385.82 941.72l5.45-2.1-.27-.7-5.45 2.1zM392.82 939.03l5.45-2.1-.27-.7-5.45 2.1zM399.82 936.34l3.87-1.49-.27-.7-3.87 1.49zM403.77 934.8l1.38-.99-.44-.61-1.38 .99zM406.5 932.85l4.75-3.4-.44-.61-4.75 3.4zM412.6 928.49l4.75-3.4-.44-.61-4.75 3.4zM418.7 924.12l4.75-3.4-.44-.61-4.75 3.4zM424.8 919.75l4.75-3.4-.44-.61-4.75 3.4zM430.89 915.39l4.75-3.4-.44-.61-4.75 3.4zM436.99 911.02l4.75-3.4-.44-.61-4.75 3.4zM443.09 906.66l4.75-3.4-.44-.61-4.75 3.4zM449.19 902.29l4.75-3.4-.44-.61-4.75 3.4zM455.29 897.92l4.75-3.4-.44-.61-4.75 3.4zM461.39 893.56l4.75-3.4-.44-.61-4.75 3.4zM467.48 889.19l4.75-3.4-.44-.61-4.75 3.4zM473.58 884.83l4.75-3.4-.44-.61-4.75 3.4zM479.68 880.46l4.75-3.4-.44-.61-4.75 3.4zM485.78 876.1l4.75-3.4-.44-.61-4.75 3.4zM491.88 871.73l4.75-3.4-.44-.61-4.75 3.4zM497.98 867.36l4.75-3.4-.44-.61-4.75 3.4zM504.07 863l4.75-3.4-.44-.61-4.75 3.4zM510.17 858.63l4.75-3.4-.44-.61-4.75 3.4zM516.27 854.27l4.75-3.4-.44-.61-4.75 3.4zM522.37 849.9l3.63-2.6-.44-.61-3.63 2.6zM526.03 847.27l1.01-.94-.51-.55-1.01 .94zM528.26 845.21l4.28-3.97-.51-.55-4.28 3.97zM533.76 840.1l4.28-3.97-.51-.55-4.28 3.97zM539.25 835l4.28-3.97-.51-.55-4.28 3.97zM544.75 829.89l4.28-3.97-.51-.55-4.28 3.97zM550.24 824.79l4.28-3.97-.51-.55-4.28 3.97zM555.74 819.69l4.28-3.97-.51-.55-4.28 3.97zM561.23 814.58l4.28-3.97-.51-.55-4.28 3.97zM566.73 809.48l4.28-3.97-.51-.55-4.28 3.97zM572.23 804.38l4.28-3.97-.51-.55-4.28 3.97zM577.72 799.27l4.28-3.97-.51-.55-4.28 3.97zM583.22 794.17l4.28-3.97-.51-.55-4.28 3.97zM588.71 789.07l4.28-3.97-.51-.55-4.28 3.97zM594.21 783.96l4.28-3.97-.51-.55-4.28 3.97zM599.71 778.86l4.28-3.97-.51-.55-4.28 3.97zM605.2 773.76l4.28-3.97-.51-.55-4.28 3.97zM610.7 768.65l4.28-3.97-.51-.55-4.28 3.97zM616.19 763.55l4.28-3.97-.51-.55-4.28 3.97zM621.69 758.44l4.28-3.97-.51-.55-4.28 3.97zM627.18 753.34l4.28-3.97-.51-.55-4.28 3.97zM632.68 748.24l4.28-3.97-.51-.55-4.28 3.97zM638.18 743.13l4.28-3.97-.51-.55-4.28 3.97zM643.67 738.03l4.28-3.97-.51-.55-4.28 3.97zM649.25 733.14l4.9-3.17-.41-.63-4.9 3.17zM655.55 729.07l4.9-3.17-.41-.63-4.9 3.17zM661.85 725l4.9-3.17-.41-.63-4.9 3.17zM668.15 720.92l4.9-3.17-.41-.63-4.9 3.17zM674.44 716.85l4.9-3.17-.41-.63-4.9 3.17zM680.74 712.78l4.9-3.17-.41-.63-4.9 3.17zM687.04 708.71l4.9-3.17-.41-.63-4.9 3.17zM693.34 704.64l4.9-3.17-.41-.63-4.9 3.17zM699.64 700.57l4.9-3.17-.41-.63-4.9 3.17zM705.94 696.5l4.9-3.17-.41-.63-4.9 3.17zM712.24 692.43l4.9-3.17-.41-.63-4.9 3.17zM718.54 688.35l4.9-3.17-.41-.63-4.9 3.17zM724.83 684.28l4.9-3.17-.41-.63-4.9 3.17zM731.13 680.21l4.9-3.17-.41-.63-4.9 3.17zM737.43 676.14l4.9-3.17-.41-.63-4.9 3.17zM743.73 672.07l4.9-3.17-.41-.63-4.9 3.17zM750.03 668l4.9-3.17-.41-.63-4.9 3.17zM756.33 663.93l4.9-3.17-.41-.63-4.9 3.17zM762.63 659.85l4.9-3.17-.41-.63-4.9 3.17zM768.93 655.78l1.5-.97-.41-.63-1.5 .97zM770.43 654.81l3.39-2.23-.41-.63-3.39 2.23zM775.2 651.67l4.88-3.21-.41-.63-4.88 3.21zM781.46 647.54l4.88-3.21-.41-.63-4.88 3.21zM787.73 643.42l4.88-3.21-.41-.63-4.88 3.21zM793.99 639.29l4.88-3.21-.41-.63-4.88 3.21zM800.25 635.17l4.88-3.21-.41-.63-4.88 3.21zM806.52 631.04l4.88-3.21-.41-.63-4.88 3.21zM812.78 626.92l4.88-3.21-.41-.63-4.88 3.21zM819.04 622.79l4.88-3.21-.41-.63-4.88 3.21zM825.31 618.67l4.88-3.21-.41-.63-4.88 3.21zM831.57 614.54l4.88-3.21-.41-.63-4.88 3.21zM837.84 610.42l4.88-3.21-.41-.63-4.88 3.21zM844.1 606.29l4.88-3.21-.41-.63-4.88 3.21zM850.36 602.17l4.88-3.21-.41-.63-4.88 3.21zM856.63 598.04l4.88-3.21-.41-.63-4.88 3.21zM862.89 593.91l4.88-3.21-.41-.63-4.88 3.21zM869.15 589.79l4.88-3.21-.41-.63-4.88 3.21zM875.42 585.66l4.88-3.21-.41-.63-4.88 3.21zM881.68 581.54l4.88-3.21-.41-.63-4.88 3.21zM887.94 577.41l4.71-3.1-.41-.63-4.71 3.1zM892.61 574.34l.18-.09-.33-.67-.18 .09zM894.28 573.5l5.23-2.61-.33-.67-5.23 2.61zM900.99 570.15l5.23-2.61-.33-.67-5.23 2.61zM907.7 566.8l5.23-2.61-.33-.67-5.23 2.61zM914.41 563.46l5.23-2.61-.33-.67-5.23 2.61zM921.12 560.11l5.23-2.61-.33-.67-5.23 2.61zM927.83 556.76l5.23-2.61-.33-.67-5.23 2.61zM934.54 553.41l5.23-2.61-.33-.67-5.23 2.61zM941.25 550.06l5.23-2.61-.33-.67-5.23 2.61zM947.96 546.71l5.23-2.61-.33-.67-5.23 2.61zM954.67 543.36l5.23-2.61-.33-.67-5.23 2.61zM961.39 540.01l5.23-2.61-.33-.67-5.23 2.61zM968.1 536.66l5.23-2.61-.33-.67-5.23 2.61zM974.81 533.31l5.23-2.61-.33-.67-5.23 2.61zM981.52 529.96l5.23-2.61-.33-.67-5.23 2.61zM988.23 526.61l5.23-2.61-.33-.67-5.23 2.61zM994.94 523.26l5.23-2.61-.33-.67-5.23 2.61zM1001.65 519.92l5.23-2.61-.33-.67-5.23 2.61zM1008.36 516.57l5.23-2.61-.33-.67-5.23 2.61zM1014.93 513.38l5.84 0 0-.75-5.84 0zM1022.43 513.38l5.84 0 0-.75-5.84 0zM1029.93 513.38l5.84 0 0-.75-5.84 0zM1037.43 513.38l5.84 0 0-.75-5.84 0zM1044.93 513.38l5.84 0 0-.75-5.84 0zM1052.43 513.38l5.84 0 0-.75-5.84 0zM1059.93 513.38l5.84 0 0-.75-5.84 0zM1067.43 513.38l5.84 0 0-.75-5.84 0zM1074.93 513.38l5.84 0 0-.75-5.84 0zM1082.43 513.38l5.84 0 0-.75-5.84 0zM1089.93 513.38l5.84 0 0-.75-5.84 0zM1097.43 513.38l5.84 0 0-.75-5.84 0zM1104.93 513.38l5.84 0 0-.75-5.84 0zM1112.43 513.38l5.84 0 0-.75-5.84 0zM1119.93 513.38l5.84 0 0-.75-5.84 0zM1127.43 513.38l5.84 0 0-.75-5.84 0zM1136.89 513.38l.3 0 0-.75-.3 0zM1134.93 513.38l1.96 0 0-.75-1.96 0z"/>
<path fill="#FF0000" d="M159 1040.36l122.48-57.26 122.26-45.26 122.28-88.04 122.22-109.5 122.2-80.98 122.2-77.99 122.13-61.85 122.43 0 0-.75-122.61 0-122.32 61.95-122.24 78.01-122.25 81.02-122.23 109.5-122.16 87.96-122.19 45.24-122.5 57.27z"/>
<path fill="#00CD00" d="M158.99 1040.72l.27-.12-.3-.69-.27 .12zM159.26 1040.6l3.02-1.33-.3-.69-3.02 1.33zM164.48 1038.31l3.29-1.45-.3-.69-3.29 1.45zM169.98 1035.89l3.29-1.45-.3-.69-3.29 1.45zM175.47 1033.47l3.29-1.45-.3-.69-3.29 1.45zM180.96 1031.06l3.29-1.45-.3-.69-3.29 1.45zM186.45 1028.64l3.29-1.45-.3-.69-3.29 1.45zM191.94 1026.23l3.29-1.45-.3-.69-3.29 1.45zM197.44 1023.81l3.29-1.45-.3-.69-3.29 1.45zM202.93 1021.4l3.29-1.45-.3-.69-3.29 1.45zM208.42 1018.98l3.29-1.45-.3-.69-3.29 1.45zM213.91 1016.56l3.29-1.45-.3-.69-3.29 1.45zM219.41 1014.15l3.29-1.45-.3-.69-3.29 1.45zM224.9 1011.73l3.29-1.45-.3-.69-3.29 1.45zM230.39 1009.32l3.29-1.45-.3-.69-3.29 1.45zM235.88 1006.9l3.29-1.45-.3-.69-3.29 1.45zM241.37 1004.49l3.29-1.45-.3-.69-3.29 1.45zM246.87 1002.07l3.29-1.45-.3-.69-3.29 1.45zM252.36 999.65l3.29-1.45-.3-.69-3.29 1.45zM257.85 997.24l3.29-1.45-.3-.69-3.29 1.45zM263.34 994.82l3.29-1.45-.3-.69-3.29 1.45zM268.83 992.41l3.29-1.45-.3-.69-3.29 1.45zM274.33 989.99l3.29-1.45-.3-.69-3.29 1.45zM279.82 987.58l1.66-.73-.3-.69-1.66 .73zM281.46 986.85l1.67-.59-.25-.71-1.67 .59zM285.4 985.47l3.39-1.19-.25-.71-3.39 1.19zM291.06 983.47l3.39-1.19-.25-.71-3.39 1.19zM296.72 981.48l3.39-1.19-.25-.71-3.39 1.19zM302.38 979.49l3.39-1.19-.25-.71-3.39 1.19zM308.04 977.5l3.39-1.19-.25-.71-3.39 1.19zM313.7 975.51l3.39-1.19-.25-.71-3.39 1.19zM319.36 973.52l3.39-1.19-.25-.71-3.39 1.19zM325.02 971.53l3.39-1.19-.25-.71-3.39 1.19zM330.68 969.54l3.39-1.19-.25-.71-3.39 1.19zM336.34 967.54l3.39-1.19-.25-.71-3.39 1.19zM342 965.55l3.39-1.19-.25-.71-3.39 1.19zM347.66 963.56l3.39-1.19-.25-.71-3.39 1.19zM353.32 961.57l3.39-1.19-.25-.71-3.39 1.19zM358.98 959.58l3.39-1.19-.25-.71-3.39 1.19zM364.64 957.59l3.39-1.19-.25-.71-3.39 1.19zM370.3 955.6l3.39-1.19-.25-.71-3.39 1.19zM375.96 953.61l3.39-1.19-.25-.71-3.39 1.19zM381.62 951.61l3.39-1.19-.25-.71-3.39 1.19zM387.28 949.62l3.39-1.19-.25-.71-3.39 1.19zM392.94 947.63l3.39-1.19-.25-.71-3.39 1.19zM398.6 945.64l3.39-1.19-.25-.71-3.39 1.19zM404.28 943.46l2.96-2.03-.42-.62-2.96 2.03zM409.23 940.08l2.96-2.03-.42-.62-2.96 2.03zM414.18 936.69l2.96-2.03-.42-.62-2.96 2.03zM419.14 933.31l2.96-2.03-.42-.62-2.96 2.03zM424.09 929.92l2.96-2.03-.42-.62-2.96 2.03zM429.05 926.54l2.96-2.03-.42-.62-2.96 2.03zM434 923.15l2.96-2.03-.42-.62-2.96 2.03zM438.95 919.77l2.96-2.03-.42-.62-2.96 2.03zM443.91 916.38l2.96-2.03-.42-.62-2.96 2.03zM448.86 913l2.96-2.03-.42-.62-2.96 2.03zM453.82 909.62l2.96-2.03-.42-.62-2.96 2.03zM458.77 906.23l2.96-2.03-.42-.62-2.96 2.03zM463.73 902.85l2.96-2.03-.42-.62-2.96 2.03zM468.68 899.46l2.96-2.03-.42-.62-2.96 2.03zM473.63 896.08l2.96-2.03-.42-.62-2.96 2.03zM478.59 892.69l2.96-2.03-.42-.62-2.96 2.03zM483.54 889.31l2.96-2.03-.42-.62-2.96 2.03zM488.5 885.92l2.96-2.03-.42-.62-2.96 2.03zM493.45 882.54l2.96-2.03-.42-.62-2.96 2.03zM498.41 879.15l2.96-2.03-.42-.62-2.96 2.03zM503.36 875.77l2.96-2.03-.42-.62-2.96 2.03zM508.31 872.38l2.96-2.03-.42-.62-2.96 2.03zM513.27 869l2.96-2.03-.42-.62-2.96 2.03zM518.22 865.62l2.96-2.03-.42-.62-2.96 2.03zM523.18 862.23l2.81-1.92-.42-.62-2.81 1.92zM526.02 860.29l.14-.12-.48-.57-.14 .12zM528 858.61l2.75-2.31-.48-.57-2.75 2.31zM532.59 854.75l2.75-2.31-.48-.57-2.75 2.31zM537.18 850.88l2.75-2.31-.48-.57-2.75 2.31zM541.77 847.02l2.75-2.31-.48-.57-2.75 2.31zM546.35 843.15l2.75-2.31-.48-.57-2.75 2.31zM550.94 839.28l2.75-2.31-.48-.57-2.75 2.31zM555.53 835.42l2.75-2.31-.48-.57-2.75 2.31zM560.12 831.55l2.75-2.31-.48-.57-2.75 2.31zM564.71 827.68l2.75-2.31-.48-.57-2.75 2.31zM569.29 823.82l2.75-2.31-.48-.57-2.75 2.31zM573.88 819.95l2.75-2.31-.48-.57-2.75 2.31zM578.47 816.08l2.75-2.31-.48-.57-2.75 2.31zM583.06 812.22l2.75-2.31-.48-.57-2.75 2.31zM587.65 808.35l2.75-2.31-.48-.57-2.75 2.31zM592.24 804.48l2.75-2.31-.48-.57-2.75 2.31zM596.82 800.62l2.75-2.31-.48-.57-2.75 2.31zM601.41 796.75l2.75-2.31-.48-.57-2.75 2.31zM606 792.88l2.75-2.31-.48-.57-2.75 2.31zM610.59 789.02l2.75-2.31-.48-.57-2.75 2.31zM615.18 785.15l2.75-2.31-.48-.57-2.75 2.31zM619.76 781.29l2.75-2.31-.48-.57-2.75 2.31zM624.35 777.42l2.75-2.31-.48-.57-2.75 2.31zM628.94 773.55l2.75-2.31-.48-.57-2.75 2.31zM633.53 769.69l2.75-2.31-.48-.57-2.75 2.31zM638.12 765.82l2.75-2.31-.48-.57-2.75 2.31zM642.7 761.95l2.75-2.31-.48-.57-2.75 2.31zM647.29 758.09l.95-.8-.48-.57-.95 .8zM648.21 757.31l1.96-1.3-.41-.63-1.96 1.3zM652.17 754.68l2.99-1.98-.41-.63-2.99 1.98zM657.17 751.37l2.99-1.98-.41-.63-2.99 1.98zM662.18 748.05l2.99-1.98-.41-.63-2.99 1.98zM667.18 744.74l2.99-1.98-.41-.63-2.99 1.98zM672.18 741.43l2.99-1.98-.41-.63-2.99 1.98zM677.18 738.11l2.99-1.98-.41-.63-2.99 1.98zM682.18 734.8l2.99-1.98-.41-.63-2.99 1.98zM687.18 731.48l2.99-1.98-.41-.63-2.99 1.98zM692.18 728.17l2.99-1.98-.41-.63-2.99 1.98zM697.19 724.85l2.99-1.98-.41-.63-2.99 1.98zM702.19 721.54l2.99-1.98-.41-.63-2.99 1.98zM707.19 718.22l2.99-1.98-.41-.63-2.99 1.98zM712.19 714.91l2.99-1.98-.41-.63-2.99 1.98zM717.19 711.59l2.99-1.98-.41-.63-2.99 1.98zM722.19 708.28l2.99-1.98-.41-.63-2.99 1.98zM727.19 704.97l2.99-1.98-.41-.63-2.99 1.98zM732.2 701.65l2.99-1.98-.41-.63-2.99 1.98zM737.2 698.34l2.99-1.98-.41-.63-2.99 1.98zM742.2 695.02l2.99-1.98-.41-.63-2.99 1.98zM747.2 691.71l2.99-1.98-.41-.63-2.99 1.98zM752.2 688.39l2.99-1.98-.41-.63-2.99 1.98zM757.2 685.08l2.99-1.98-.41-.63-2.99 1.98zM762.2 681.76l2.99-1.98-.41-.63-2.99 1.98zM767.2 678.45l2.99-1.98-.41-.63-2.99 1.98zM772.24 675.22l3.07-1.86-.39-.64-3.07 1.86zM777.37 672.11l3.07-1.86-.39-.64-3.07 1.86zM782.51 669l3.07-1.86-.39-.64-3.07 1.86zM787.64 665.89l3.07-1.86-.39-.64-3.07 1.86zM792.77 662.79l3.07-1.86-.39-.64-3.07 1.86zM797.9 659.68l3.07-1.86-.39-.64-3.07 1.86zM803.04 656.57l3.07-1.86-.39-.64-3.07 1.86zM808.17 653.46l3.07-1.86-.39-.64-3.07 1.86zM813.3 650.36l3.07-1.86-.39-.64-3.07 1.86zM818.43 647.25l3.07-1.86-.39-.64-3.07 1.86zM823.57 644.14l3.07-1.86-.39-.64-3.07 1.86zM828.7 641.03l3.07-1.86-.39-.64-3.07 1.86zM833.83 637.93l3.07-1.86-.39-.64-3.07 1.86zM838.96 634.82l3.07-1.86-.39-.64-3.07 1.86zM844.1 631.71l3.07-1.86-.39-.64-3.07 1.86zM849.23 628.6l3.07-1.86-.39-.64-3.07 1.86zM854.36 625.5l3.07-1.86-.39-.64-3.07 1.86zM859.49 622.39l3.07-1.86-.39-.64-3.07 1.86zM864.63 619.28l3.07-1.86-.39-.64-3.07 1.86zM869.76 616.17l3.07-1.86-.39-.64-3.07 1.86zM874.89 613.07l3.07-1.86-.39-.64-3.07 1.86zM880.02 609.96l3.07-1.86-.39-.64-3.07 1.86zM885.16 606.85l3.07-1.86-.39-.64-3.07 1.86zM890.29 603.74l2.35-1.42-.39-.64-2.35 1.42zM892.6 602.34l.77-.36-.32-.68-.77 .36zM895.55 600.96l3.25-1.52-.32-.68-3.25 1.52zM900.99 598.43l3.25-1.52-.32-.68-3.25 1.52zM906.43 595.89l3.25-1.52-.32-.68-3.25 1.52zM911.86 593.36l3.25-1.52-.32-.68-3.25 1.52zM917.3 590.82l3.25-1.52-.32-.68-3.25 1.52zM922.74 588.28l3.25-1.52-.32-.68-3.25 1.52zM928.18 585.75l3.25-1.52-.32-.68-3.25 1.52zM933.62 583.21l3.25-1.52-.32-.68-3.25 1.52zM939.05 580.68l3.25-1.52-.32-.68-3.25 1.52zM944.49 578.14l3.25-1.52-.32-.68-3.25 1.52zM949.93 575.6l3.25-1.52-.32-.68-3.25 1.52zM955.37 573.07l3.25-1.52-.32-.68-3.25 1.52zM960.8 570.53l3.25-1.52-.32-.68-3.25 1.52zM966.24 568l3.25-1.52-.32-.68-3.25 1.52zM971.68 565.46l3.25-1.52-.32-.68-3.25 1.52zM977.12 562.92l3.25-1.52-.32-.68-3.25 1.52zM982.56 560.39l3.25-1.52-.32-.68-3.25 1.52zM987.99 557.85l3.25-1.52-.32-.68-3.25 1.52zM993.43 555.32l3.25-1.52-.32-.68-3.25 1.52zM998.87 552.78l3.25-1.52-.32-.68-3.25 1.52zM1004.31 550.25l3.25-1.52-.32-.68-3.25 1.52zM1009.74 547.71l3.25-1.52-.32-.68-3.25 1.52zM1015.06 545.38l3.59 0 0-.75-3.59 0zM1021.06 545.38l3.59 0 0-.75-3.59 0zM1027.06 545.38l3.59 0 0-.75-3.59 0zM1033.06 545.38l3.59 0 0-.75-3.59 0zM1039.06 545.38l3.59 0 0-.75-3.59 0zM1045.06 545.38l3.59 0 0-.75-3.59 0zM1051.06 545.38l3.59 0 0-.75-3.59 0zM1057.06 545.38l3.59 0 0-.75-3.59 0zM1063.06 545.38l3.59 0 0-.75-3.59 0zM1069.06 545.38l3.59 0 0-.75-3.59 0zM1075.06 545.38l3.59 0 0-.75-3.59 0zM1081.06 545.38l3.59 0 0-.75-3.59 0zM1087.06 545.38l3.59 0 0-.75-3.59 0zM1093.06 545.38l3.59 0 0-.75-3.59 0zM1099.06 545.38l3.59 0 0-.75-3.59 0zM1105.06 545.38l3.59 0 0-.75-3.59 0zM1111.06 545.38l3.59 0 0-.75-3.59 0zM1117.06 545.38l3.59 0 0-.75-3.59 0zM1123.06 545.38l3.59 0 0-.75-3.59 0zM1129.06 545.38l3.59 0 0-.75-3.59 0zM1136.89 545.38l.3 0 0-.75-.3 0zM1135.06 545.38l1.83 0 0-.75-1.83 0z"/>
<path fill="#0000FF" d="M158.99 1040.84l.27-.12-.3-.69-.27 .12zM159.26 1040.73l.96-.41-.3-.69-.96 .41zM161.74 1039.66l1.23-.53-.3-.69-1.23 .53zM164.5 1038.47l1.23-.53-.3-.69-1.23 .53zM167.25 1037.28l1.23-.53-.3-.69-1.23 .53zM170.01 1036.1l1.23-.53-.3-.69-1.23 .53zM172.76 1034.91l1.23-.53-.3-.69-1.23 .53zM175.52 1033.72l1.23-.53-.3-.69-1.23 .53zM178.28 1032.54l1.23-.53-.3-.69-1.23 .53zM181.03 1031.35l1.23-.53-.3-.69-1.23 .53zM183.79 1030.16l1.23-.53-.3-.69-1.23 .53zM186.54 1028.98l1.23-.53-.3-.69-1.23 .53zM189.3 1027.79l1.23-.53-.3-.69-1.23 .53zM192.05 1026.6l1.23-.53-.3-.69-1.23 .53zM194.81 1025.42l1.23-.53-.3-.69-1.23 .53zM197.56 1024.23l1.23-.53-.3-.69-1.23 .53zM200.32 1023.04l1.23-.53-.3-.69-1.23 .53zM203.07 1021.86l1.23-.53-.3-.69-1.23 .53zM205.83 1020.67l1.23-.53-.3-.69-1.23 .53zM208.58 1019.49l1.23-.53-.3-.69-1.23 .53zM211.34 1018.3l1.23-.53-.3-.69-1.23 .53zM214.1 1017.11l1.23-.53-.3-.69-1.23 .53zM216.85 1015.93l1.23-.53-.3-.69-1.23 .53zM219.61 1014.74l1.23-.53-.3-.69-1.23 .53zM222.36 1013.55l1.23-.53-.3-.69-1.23 .53zM225.12 1012.37l1.23-.53-.3-.69-1.23 .53zM227.87 1011.18l1.23-.53-.3-.69-1.23 .53zM230.63 1009.99l1.23-.53-.3-.69-1.23 .53zM233.38 1008.81l1.23-.53-.3-.69-1.23 .53zM236.14 1007.62l1.23-.53-.3-.69-1.23 .53zM238.89 1006.43l1.23-.53-.3-.69-1.23 .53zM241.65 1005.25l1.23-.53-.3-.69-1.23 .53zM244.4 1004.06l1.23-.53-.3-.69-1.23 .53zM247.16 1002.87l1.23-.53-.3-.69-1.23 .53zM249.92 1001.69l1.23-.53-.3-.69-1.23 .53zM252.67 1000.5l1.23-.53-.3-.69-1.23 .53zM255.43 999.31l1.23-.53-.3-.69-1.23 .53zM258.18 998.13l1.23-.53-.3-.69-1.23 .53zM260.94 996.94l1.23-.53-.3-.69-1.23 .53zM263.69 995.75l1.23-.53-.3-.69-1.23 .53zM266.45 994.57l1.23-.53-.3-.69-1.23 .53zM269.2 993.38l1.23-.53-.3-.69-1.23 .53zM271.96 992.19l1.23-.53-.3-.69-1.23 .53zM274.71 991.01l1.23-.53-.3-.69-1.23 .53zM277.47 989.82l1.23-.53-.3-.69-1.23 .53zM280.22 988.64l1.23-.53-.3-.69-1.23 .53zM283 987.58l1.27-.43-.24-.71-1.27 .43zM285.84 986.61l1.27-.43-.24-.71-1.27 .43zM288.68 985.64l1.27-.43-.24-.71-1.27 .43zM291.51 984.67l1.27-.43-.24-.71-1.27 .43zM294.35 983.7l1.27-.43-.24-.71-1.27 .43zM297.19 982.73l1.27-.43-.24-.71-1.27 .43zM300.03 981.76l1.27-.43-.24-.71-1.27 .43zM302.87 980.79l1.27-.43-.24-.71-1.27 .43zM305.71 979.82l1.27-.43-.24-.71-1.27 .43zM308.55 978.85l1.27-.43-.24-.71-1.27 .43zM311.39 977.88l1.27-.43-.24-.71-1.27 .43zM314.23 976.91l1.27-.43-.24-.71-1.27 .43zM317.07 975.94l1.27-.43-.24-.71-1.27 .43zM319.9 974.97l1.27-.43-.24-.71-1.27 .43zM322.74 974l1.27-.43-.24-.71-1.27 .43zM325.58 973.03l1.27-.43-.24-.71-1.27 .43zM328.42 972.06l1.27-.43-.24-.71-1.27 .43zM331.26 971.09l1.27-.43-.24-.71-1.27 .43zM334.1 970.12l1.27-.43-.24-.71-1.27 .43zM336.94 969.15l1.27-.43-.24-.71-1.27 .43zM339.78 968.18l1.27-.43-.24-.71-1.27 .43zM342.62 967.21l1.27-.43-.24-.71-1.27 .43zM345.45 966.24l1.27-.43-.24-.71-1.27 .43zM348.29 965.27l1.27-.43-.24-.71-1.27 .43zM351.13 964.3l1.27-.43-.24-.71-1.27 .43zM353.97 963.33l1.27-.43-.24-.71-1.27 .43zM356.81 962.36l1.27-.43-.24-.71-1.27 .43zM359.65 961.39l1.27-.43-.24-.71-1.27 .43zM362.49 960.42l1.27-.43-.24-.71-1.27 .43zM365.33 959.45l1.27-.43-.24-.71-1.27 .43zM368.17 958.48l1.27-.43-.24-.71-1.27 .43zM371.01 957.51l1.27-.43-.24-.71-1.27 .43zM373.84 956.55l1.27-.43-.24-.71-1.27 .43zM376.68 955.58l1.27-.43-.24-.71-1.27 .43zM379.52 954.61l1.27-.43-.24-.71-1.27 .43zM382.36 953.64l1.27-.43-.24-.71-1.27 .43zM385.2 952.67l1.27-.43-.24-.71-1.27 .43zM388.04 951.7l1.27-.43-.24-.71-1.27 .43zM390.88 950.73l1.27-.43-.24-.71-1.27 .43zM393.72 949.76l1.27-.43-.24-.71-1.27 .43zM396.56 948.79l1.27-.43-.24-.71-1.27 .43zM399.39 947.82l1.27-.43-.24-.71-1.27 .43zM402.23 946.85l1.27-.43-.24-.71-1.27 .43zM404.99 945.51l1.12-.73-.41-.63-1.12 .73zM407.5 943.86l1.12-.73-.41-.63-1.12 .73zM410.01 942.22l1.12-.73-.41-.63-1.12 .73zM412.53 940.58l1.12-.73-.41-.63-1.12 .73zM415.04 938.93l1.12-.73-.41-.63-1.12 .73zM417.55 937.29l1.12-.73-.41-.63-1.12 .73zM420.06 935.65l1.12-.73-.41-.63-1.12 .73zM422.57 934l1.12-.73-.41-.63-1.12 .73zM425.08 932.36l1.12-.73-.41-.63-1.12 .73zM427.59 930.72l1.12-.73-.41-.63-1.12 .73zM430.1 929.08l1.12-.73-.41-.63-1.12 .73zM432.61 927.43l1.12-.73-.41-.63-1.12 .73zM435.12 925.79l1.12-.73-.41-.63-1.12 .73zM437.63 924.15l1.12-.73-.41-.63-1.12 .73zM440.14 922.5l1.12-.73-.41-.63-1.12 .73zM442.65 920.86l1.12-.73-.41-.63-1.12 .73zM445.16 919.22l1.12-.73-.41-.63-1.12 .73zM447.67 917.57l1.12-.73-.41-.63-1.12 .73zM450.18 915.93l1.12-.73-.41-.63-1.12 .73zM452.69 914.29l1.12-.73-.41-.63-1.12 .73zM455.2 912.65l1.12-.73-.41-.63-1.12 .73zM457.71 911l1.12-.73-.41-.63-1.12 .73zM460.22 909.36l1.12-.73-.41-.63-1.12 .73zM462.73 907.72l1.12-.73-.41-.63-1.12 .73zM465.24 906.07l1.12-.73-.41-.63-1.12 .73zM467.75 904.43l1.12-.73-.41-.63-1.12 .73zM470.26 902.79l1.12-.73-.41-.63-1.12 .73zM472.77 901.15l1.12-.73-.41-.63-1.12 .73zM475.28 899.5l1.12-.73-.41-.63-1.12 .73zM477.79 897.86l1.12-.73-.41-.63-1.12 .73zM480.3 896.22l1.12-.73-.41-.63-1.12 .73zM482.81 894.57l1.12-.73-.41-.63-1.12 .73zM485.32 892.93l1.12-.73-.41-.63-1.12 .73zM487.83 891.29l1.12-.73-.41-.63-1.12 .73zM490.34 889.64l1.12-.73-.41-.63-1.12 .73zM492.85 888l1.12-.73-.41-.63-1.12 .73zM495.36 886.36l1.12-.73-.41-.63-1.12 .73zM497.87 884.72l1.12-.73-.41-.63-1.12 .73zM500.38 883.07l1.12-.73-.41-.63-1.12 .73zM502.89 881.43l1.12-.73-.41-.63-1.12 .73zM505.4 879.79l1.12-.73-.41-.63-1.12 .73zM507.91 878.14l1.12-.73-.41-.63-1.12 .73zM510.42 876.5l1.12-.73-.41-.63-1.12 .73zM512.93 874.86l1.12-.73-.41-.63-1.12 .73zM515.44 873.21l1.12-.73-.41-.63-1.12 .73zM517.95 871.57l1.12-.73-.41-.63-1.12 .73zM520.46 869.93l1.12-.73-.41-.63-1.12 .73zM522.97 868.29l1.12-.73-.41-.63-1.12 .73zM525.48 866.64l.5-.33-.41-.63-.5 .33zM526.01 866.29l.58-.46-.47-.59-.58 .46zM527.88 864.79l1.05-.84-.47-.59-1.05 .84zM530.22 862.91l1.05-.84-.47-.59-1.05 .84zM532.56 861.04l1.05-.84-.47-.59-1.05 .84zM534.91 859.16l1.05-.84-.47-.59-1.05 .84zM537.25 857.28l1.05-.84-.47-.59-1.05 .84zM539.59 855.41l1.05-.84-.47-.59-1.05 .84zM541.93 853.53l1.05-.84-.47-.59-1.05 .84zM544.27 851.65l1.05-.84-.47-.59-1.05 .84zM546.61 849.78l1.05-.84-.47-.59-1.05 .84zM548.95 847.9l1.05-.84-.47-.59-1.05 .84zM551.29 846.02l1.05-.84-.47-.59-1.05 .84zM553.63 844.15l1.05-.84-.47-.59-1.05 .84zM555.97 842.27l1.05-.84-.47-.59-1.05 .84zM558.31 840.39l1.05-.84-.47-.59-1.05 .84zM560.65 838.52l1.05-.84-.47-.59-1.05 .84zM562.99 836.64l1.05-.84-.47-.59-1.05 .84zM565.33 834.76l1.05-.84-.47-.59-1.05 .84zM567.67 832.89l1.05-.84-.47-.59-1.05 .84zM570.01 831.01l1.05-.84-.47-.59-1.05 .84zM572.35 829.13l1.05-.84-.47-.59-1.05 .84zM574.69 827.26l1.05-.84-.47-.59-1.05 .84zM577.03 825.38l1.05-.84-.47-.59-1.05 .84zM579.38 823.5l1.05-.84-.47-.59-1.05 .84zM581.72 821.63l1.05-.84-.47-.59-1.05 .84zM584.06 819.75l1.05-.84-.47-.59-1.05 .84zM586.4 817.87l1.05-.84-.47-.59-1.05 .84zM588.74 816l1.05-.84-.47-.59-1.05 .84zM591.08 814.12l1.05-.84-.47-.59-1.05 .84zM593.42 812.24l1.05-.84-.47-.59-1.05 .84zM595.76 810.37l1.05-.84-.47-.59-1.05 .84zM598.1 808.49l1.05-.84-.47-.59-1.05 .84zM600.44 806.61l1.05-.84-.47-.59-1.05 .84zM602.78 804.74l1.05-.84-.47-.59-1.05 .84zM605.12 802.86l1.05-.84-.47-.59-1.05 .84zM607.46 800.98l1.05-.84-.47-.59-1.05 .84zM609.8 799.11l1.05-.84-.47-.59-1.05 .84zM612.14 797.23l1.05-.84-.47-.59-1.05 .84zM614.48 795.35l1.05-.84-.47-.59-1.05 .84zM616.82 793.48l1.05-.84-.47-.59-1.05 .84zM619.16 791.6l1.05-.84-.47-.59-1.05 .84zM621.5 789.72l1.05-.84-.47-.59-1.05 .84zM623.85 787.85l1.05-.84-.47-.59-1.05 .84zM626.19 785.97l1.05-.84-.47-.59-1.05 .84zM628.53 784.09l1.05-.84-.47-.59-1.05 .84zM630.87 782.22l1.05-.84-.47-.59-1.05 .84zM633.21 780.34l1.05-.84-.47-.59-1.05 .84zM635.55 778.46l1.05-.84-.47-.59-1.05 .84zM637.89 776.59l1.05-.84-.47-.59-1.05 .84zM640.23 774.71l1.05-.84-.47-.59-1.05 .84zM642.57 772.83l1.05-.84-.47-.59-1.05 .84zM644.91 770.96l1.05-.84-.47-.59-1.05 .84zM647.25 769.08l.98-.79-.47-.59-.98 .79zM648.21 768.31l.07-.04-.41-.63-.07 .04zM649.66 767.36l1.12-.74-.41-.63-1.12 .74zM652.16 765.71l1.12-.74-.41-.63-1.12 .74zM654.67 764.06l1.12-.74-.41-.63-1.12 .74zM657.17 762.41l1.12-.74-.41-.63-1.12 .74zM659.68 760.76l1.12-.74-.41-.63-1.12 .74zM662.19 759.11l1.12-.74-.41-.63-1.12 .74zM664.69 757.46l1.12-.74-.41-.63-1.12 .74zM667.2 755.81l1.12-.74-.41-.63-1.12 .74zM669.7 754.15l1.12-.74-.41-.63-1.12 .74zM672.21 752.5l1.12-.74-.41-.63-1.12 .74zM674.71 750.85l1.12-.74-.41-.63-1.12 .74zM677.22 749.2l1.12-.74-.41-.63-1.12 .74zM679.72 747.55l1.12-.74-.41-.63-1.12 .74zM682.23 745.9l1.12-.74-.41-.63-1.12 .74zM684.73 744.25l1.12-.74-.41-.63-1.12 .74zM687.24 742.6l1.12-.74-.41-.63-1.12 .74zM689.74 740.95l1.12-.74-.41-.63-1.12 .74zM692.25 739.3l1.12-.74-.41-.63-1.12 .74zM694.76 737.65l1.12-.74-.41-.63-1.12 .74zM697.26 736l1.12-.74-.41-.63-1.12 .74zM699.77 734.35l1.12-.74-.41-.63-1.12 .74zM702.27 732.7l1.12-.74-.41-.63-1.12 .74zM704.78 731.05l1.12-.74-.41-.63-1.12 .74zM707.28 729.4l1.12-.74-.41-.63-1.12 .74zM709.79 727.75l1.12-.74-.41-.63-1.12 .74zM712.29 726.1l1.12-.74-.41-.63-1.12 .74zM714.8 724.45l1.12-.74-.41-.63-1.12 .74zM717.3 722.8l1.12-.74-.41-.63-1.12 .74zM719.81 721.15l1.12-.74-.41-.63-1.12 .74zM722.31 719.5l1.12-.74-.41-.63-1.12 .74zM724.82 717.85l1.12-.74-.41-.63-1.12 .74zM727.33 716.2l1.12-.74-.41-.63-1.12 .74zM729.83 714.55l1.12-.74-.41-.63-1.12 .74zM732.34 712.9l1.12-.74-.41-.63-1.12 .74zM734.84 711.25l1.12-.74-.41-.63-1.12 .74zM737.35 709.6l1.12-.74-.41-.63-1.12 .74zM739.85 707.95l1.12-.74-.41-.63-1.12 .74zM742.36 706.3l1.12-.74-.41-.63-1.12 .74zM744.86 704.65l1.12-.74-.41-.63-1.12 .74zM747.37 703l1.12-.74-.41-.63-1.12 .74zM749.87 701.35l1.12-.74-.41-.63-1.12 .74zM752.38 699.7l1.12-.74-.41-.63-1.12 .74zM754.88 698.05l1.12-.74-.41-.63-1.12 .74zM757.39 696.4l1.12-.74-.41-.63-1.12 .74zM759.9 694.75l1.12-.74-.41-.63-1.12 .74zM762.4 693.1l1.12-.74-.41-.63-1.12 .74zM764.91 691.45l1.12-.74-.41-.63-1.12 .74zM767.41 689.8l1.12-.74-.41-.63-1.12 .74zM769.92 688.15l.51-.34-.41-.63-.51 .34zM770.41 687.83l.63-.36-.37-.65-.63 .36zM772.48 686.64l1.16-.66-.37-.65-1.16 .66zM775.09 685.16l1.16-.66-.37-.65-1.16 .66zM777.7 683.68l1.16-.66-.37-.65-1.16 .66zM780.31 682.2l1.16-.66-.37-.65-1.16 .66zM782.91 680.71l1.16-.66-.37-.65-1.16 .66zM785.52 679.23l1.16-.66-.37-.65-1.16 .66zM788.13 677.75l1.16-.66-.37-.65-1.16 .66zM790.74 676.26l1.16-.66-.37-.65-1.16 .66zM793.35 674.78l1.16-.66-.37-.65-1.16 .66zM795.95 673.3l1.16-.66-.37-.65-1.16 .66zM798.56 671.82l1.16-.66-.37-.65-1.16 .66zM801.17 670.33l1.16-.66-.37-.65-1.16 .66zM803.78 668.85l1.16-.66-.37-.65-1.16 .66zM806.39 667.37l1.16-.66-.37-.65-1.16 .66zM808.99 665.88l1.16-.66-.37-.65-1.16 .66zM811.6 664.4l1.16-.66-.37-.65-1.16 .66zM814.21 662.92l1.16-.66-.37-.65-1.16 .66zM816.82 661.44l1.16-.66-.37-.65-1.16 .66zM819.42 659.95l1.16-.66-.37-.65-1.16 .66zM822.03 658.47l1.16-.66-.37-.65-1.16 .66zM824.64 656.99l1.16-.66-.37-.65-1.16 .66zM827.25 655.5l1.16-.66-.37-.65-1.16 .66zM829.86 654.02l1.16-.66-.37-.65-1.16 .66zM832.46 652.54l1.16-.66-.37-.65-1.16 .66zM835.07 651.05l1.16-.66-.37-.65-1.16 .66zM837.68 649.57l1.16-.66-.37-.65-1.16 .66zM840.29 648.09l1.16-.66-.37-.65-1.16 .66zM842.9 646.61l1.16-.66-.37-.65-1.16 .66zM845.5 645.12l1.16-.66-.37-.65-1.16 .66zM848.11 643.64l1.16-.66-.37-.65-1.16 .66zM850.72 642.16l1.16-.66-.37-.65-1.16 .66zM853.33 640.67l1.16-.66-.37-.65-1.16 .66zM855.93 639.19l1.16-.66-.37-.65-1.16 .66zM858.54 637.71l1.16-.66-.37-.65-1.16 .66zM861.15 636.23l1.16-.66-.37-.65-1.16 .66zM863.76 634.74l1.16-.66-.37-.65-1.16 .66zM866.37 633.26l1.16-.66-.37-.65-1.16 .66zM868.97 631.78l1.16-.66-.37-.65-1.16 .66zM871.58 630.29l1.16-.66-.37-.65-1.16 .66zM874.19 628.81l1.16-.66-.37-.65-1.16 .66zM876.8 627.33l1.16-.66-.37-.65-1.16 .66zM879.41 625.84l1.16-.66-.37-.65-1.16 .66zM882.01 624.36l1.16-.66-.37-.65-1.16 .66zM884.62 622.88l1.16-.66-.37-.65-1.16 .66zM887.23 621.4l1.16-.66-.37-.65-1.16 .66zM889.84 619.91l1.16-.66-.37-.65-1.16 .66zM892.45 618.43l.18-.1-.37-.65-.18 .1zM892.59 618.34l1.04-.45-.3-.69-1.04 .45zM895.15 617.24l1.23-.53-.3-.69-1.23 .53zM897.91 616.05l1.23-.53-.3-.69-1.23 .53zM900.66 614.86l1.23-.53-.3-.69-1.23 .53zM903.42 613.67l1.23-.53-.3-.69-1.23 .53zM906.17 612.48l1.23-.53-.3-.69-1.23 .53zM908.92 611.3l1.23-.53-.3-.69-1.23 .53zM911.68 610.11l1.23-.53-.3-.69-1.23 .53zM914.43 608.92l1.23-.53-.3-.69-1.23 .53zM917.19 607.73l1.23-.53-.3-.69-1.23 .53zM919.94 606.54l1.23-.53-.3-.69-1.23 .53zM922.7 605.35l1.23-.53-.3-.69-1.23 .53zM925.45 604.16l1.23-.53-.3-.69-1.23 .53zM928.21 602.97l1.23-.53-.3-.69-1.23 .53zM930.96 601.79l1.23-.53-.3-.69-1.23 .53zM933.71 600.6l1.23-.53-.3-.69-1.23 .53zM936.47 599.41l1.23-.53-.3-.69-1.23 .53zM939.22 598.22l1.23-.53-.3-.69-1.23 .53zM941.98 597.03l1.23-.53-.3-.69-1.23 .53zM944.73 595.84l1.23-.53-.3-.69-1.23 .53zM947.49 594.65l1.23-.53-.3-.69-1.23 .53zM950.24 593.46l1.23-.53-.3-.69-1.23 .53zM953 592.27l1.23-.53-.3-.69-1.23 .53zM955.75 591.09l1.23-.53-.3-.69-1.23 .53zM958.5 589.9l1.23-.53-.3-.69-1.23 .53zM961.26 588.71l1.23-.53-.3-.69-1.23 .53zM964.01 587.52l1.23-.53-.3-.69-1.23 .53zM966.77 586.33l1.23-.53-.3-.69-1.23 .53zM969.52 585.14l1.23-.53-.3-.69-1.23 .53zM972.28 583.95l1.23-.53-.3-.69-1.23 .53zM975.03 582.76l1.23-.53-.3-.69-1.23 .53zM977.78 581.58l1.23-.53-.3-.69-1.23 .53zM980.54 580.39l1.23-.53-.3-.69-1.23 .53zM983.29 579.2l1.23-.53-.3-.69-1.23 .53zM986.05 578.01l1.23-.53-.3-.69-1.23 .53zM988.8 576.82l1.23-.53-.3-.69-1.23 .53zM991.56 575.63l1.23-.53-.3-.69-1.23 .53zM994.31 574.44l1.23-.53-.3-.69-1.23 .53zM997.07 573.25l1.23-.53-.3-.69-1.23 .53zM999.82 572.07l1.23-.53-.3-.69-1.23 .53zM1002.57 570.88l1.23-.53-.3-.69-1.23 .53zM1005.33 569.69l1.23-.53-.3-.69-1.23 .53zM1008.08 568.5l1.23-.53-.3-.69-1.23 .53zM1010.84 567.31l1.23-.53-.3-.69-1.23 .53zM1013.59 566.12l1.22-.53-.3-.69-1.22 .53zM1014.67 565.62l.01 0 0-.75-.01 0zM1016.33 565.62l1.34 0 0-.75-1.34 0zM1019.33 565.62l1.34 0 0-.75-1.34 0zM1022.33 565.62l1.34 0 0-.75-1.34 0zM1025.33 565.62l1.34 0 0-.75-1.34 0zM1028.33 565.62l1.34 0 0-.75-1.34 0zM1031.33 565.62l1.34 0 0-.75-1.34 0zM1034.33 565.62l1.34 0 0-.75-1.34 0zM1037.33 565.62l1.34 0 0-.75-1.34 0zM1040.33 565.62l1.34 0 0-.75-1.34 0zM1043.33 565.62l1.34 0 0-.75-1.34 0zM1046.33 565.62l1.34 0 0-.75-1.34 0zM1049.33 565.62l1.34 0 0-.75-1.34 0zM1052.33 565.62l1.34 0 0-.75-1.34 0zM1055.33 565.62l1.34 0 0-.75-1.34 0zM1058.33 565.62l1.34 0 0-.75-1.34 0zM1061.33 565.62l1.34 0 0-.75-1.34 0zM1064.33 565.62l1.34 0 0-.75-1.34 0zM1067.33 565.62l1.34 0 0-.75-1.34 0zM1070.33 565.62l1.34 0 0-.75-1.34 0zM1073.33 565.62l1.34 0 0-.75-1.34 0zM1076.33 565.62l1.34 0 0-.75-1.34 0zM1079.33 565.62l1.34 0 0-.75-1.34 0zM1082.33 565.62l1.34 0 0-.75-1.34 0zM1085.33 565.62l1.34 0 0-.75-1.34 0zM1088.33 565.62l1.34 0 0-.75-1.34 0zM1091.33 565.62l1.34 0 0-.75-1.34 0zM1094.33 565.62l1.34 0 0-.75-1.34 0zM1097.33 565.62l1.34 0 0-.75-1.34 0zM1100.33 565.62l1.34 0 0-.75-1.34 0zM1103.33 565.62l1.34 0 0-.75-1.34 0zM1106.33 565.62l1.34 0 0-.75-1.34 0zM1109.33 565.62l1.34 0 0-.75-1.34 0zM1112.33 565.62l1.34 0 0-.75-1.34 0zM1115.33 565.62l1.34 0 0-.75-1.34 0zM1118.33 565.62l1.34 0 0-.75-1.34 0zM1121.33 565.62l1.34 0 0-.75-1.34 0zM1124.33 565.62l1.34 0 0-.75-1.34 0zM1127.33 565.62l1.34 0 0-.75-1.34 0zM1130.33 565.62l1.34 0 0-.75-1.34 0zM1133.33 565.62l1.34 0 0-.75-1.34 0zM1136.89 565.62l.3 0 0-.75-.3 0zM1136.33 565.62l.55 0 0-.75-.55 0z"/>
</g>
<g class="fr">
<path d="M159.11 1080 H1136.89"/>
<path d="M159.11 1080 V1092"/>
<path d="M403.55 1080 V1092"/>
<path d="M648.00 1080 V1092"/>
<path d="M892.44 1080 V1092"/>
<path d="M1136.89 1080 V1092"/>
<path d="M120 1046.20 V250.20"/>
<path d="M120 1046.20 H108"/>
<path d="M120 780.87 H108"/>
<path d="M120 515.53 H108"/>
<path d="M120 250.20 H108"/>
<path d="M120 1080 H1176 V24 H120 V1080"/>
</g>
<g class="ax" text-anchor="middle">
<text x="159.11" y="1123.2">0</text>
<text x="403.55" y="1123.2">2</text>
<text x="648.00" y="1123.2">4</text>
<text x="892.44" y="1123.2">6</text>
<text x="1136.29" y="1123.2">8</text>
<text transform="translate(91.2 1046.20) rotate(-90)">0.0</text>
<text transform="translate(91.2 780.87) rotate(-90)">0.2</text>
<text transform="translate(91.2 515.53) rotate(-90)">0.4</text>
<text transform="translate(91.2 250.20) rotate(-90)">0.6</text>
<text x="648" y="1171.2">Age</text>
<text transform="translate(43.2 552) rotate(-90)" style="font-size:20.16px">Selectivity fleet F</text>
</g>
<text class="cap" y="1198" x="785.6 790.6 794.6 800.6 806.6 812.6 818.6 823.6 828.6 834.6 839.6 844.6 854.6 860.6 866.6 870.6 873.6 879.6 883.6 889.6 892.6 895.6 905.6 912.6 918.6 924.6 929.6 937.6 944.6 954.6 962.6 967.6 973.6 979.6 985.6 991.6 996.6 1002.6 1008.6 1016.6 1022.6 1029.6 1036.6 1042.6 1048.6 1054.6 1057.6 1060.6 1064.6 1070.6 1076.6 1082.6 1088.6 1094.6 1097.6 1100.6 1103.6 1109.6 1112.6 1116.6 1119.6 1122.6 1128.6 1134.6 1140.6 1146.6 1152.6 1158.6 1164.6 1170.6 1176.6 1182.6 1188.6">stockassessment.org, WBSS_HAWG_2019_noGERAS18, r10828 , git: e2a30d42316c</text>
</svg>
</body>
</html>
